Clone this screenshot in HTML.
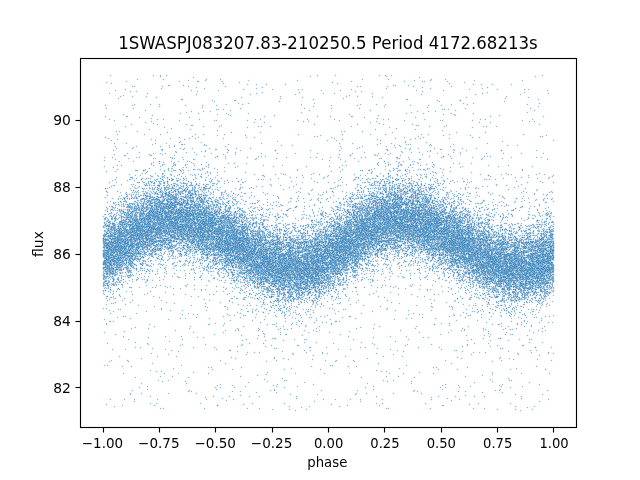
<!DOCTYPE html>
<html lang="en"><head><meta charset="utf-8"><title>1SWASPJ083207.83-210250.5 Period 4172.68213s</title>
<style>
html,body{margin:0;padding:0;background:#fff;width:640px;height:480px;overflow:hidden}
svg{display:block;position:absolute;left:0;top:0}
text{font-family:"DejaVu Sans","Liberation Sans",sans-serif;fill:#000}
.t{font-size:13.889px}
.h{font-size:16.667px}
</style></head><body>
<svg width="640" height="480" viewBox="0 0 640 480">
<rect width="640" height="480" fill="#fff"/>
<defs>
<path id="g0" d="M110 75.5h1m42 0h1m12 0h1m247 5h1m-218 1h1m24 0h1m224 0h1m-111 2h1m143 1h1m-125 2h1m-7 3h1m-237 1h1m224 0h1m75 0h1m-308 3h1m396 3h1m21 1h1m-92 3h1m-124 3h1m152 1h1m-3 4h1m-248 1h1m151 1h1m163 0h1m-8 2h1m-302 1h1m-101 3h1m288 1h1m-200 3h1m305 0h1m11 1h1m-390 1h1m7 1h1m203 1h1m-166 1h1m77 1h1m-122 3h1m292 1h1m-183 2h1m224 0h1m-116 2h1m-179 2h1m225 0h1m123 0h1m-435 2h1m225 0h1m114 0h1m-333 1h1m209 1h1m-127 2h1m-36 1h1m172 0h1m51 0h1m95 0h1m-82 1h1m3 0h1m42 0h1m-280 2h1m17 2h1m34 1h1m212 0h1m-201 1h1m-6 2h1m267 1h1m-380 2h1m225 0h1m-134 1h1m7 0h1m217 0h1m-340 1h1m233 0h1m57 0h1m44 0h1m-63 1h1m1 0h1m15 0h1m84 0h1m-99 3h1m-232 1h1m224 0h1m39 1h1m-255 1h1m9 0h1m202 0h1m-225 1h1m8 0h1m45 0h1m137 0h1m161 0h1m-124 1h1m-218 3h1m191 1h1m1 0h1m-216 1h1m192 0h1m31 0h1m-191 2h1m356 0h1m-369 1h1m22 0h1m90 0h1m25 0h1m7 0h1m34 0h1m153 0h1m-359 1h1m41 0h1m167 0h1m-161 1h1m188 0h1m36 0h1m-263 1h1m2 0h1m38 0h1m117 0h1m63 0h1m31 0h1m107 0h1m-379 1h1m9 0h1m25 0h1m9 0h1m39 0h1m174 0h1m-283 1h1m133 0h1m222 0h1m-106 1h1m48 0h1m21 0h1m-294 1h1m35 0h1m36 0h1m5 0h1m175 0h1m49 0h1m-356 1h1m28 0h1m12 0h1m7 0h1m4 0h1m18 0h1m58 0h1m134 0h1m-225 1h1m9 0h1m3 0h1m19 0h1m223 0h1m13 0h1m-305 1h1m11 0h1m62 0h1m172 0h1m4 0h1m28 0h1m117 0h1m-409 1h1m44 0h1m14 0h1m24 0h1m139 0h1m31 0h1m19 0h1m8 0h1m4 0h1m7 0h1m8 0h1m2 0h1m-314 1h1m62 0h1m182 0h1m39 0h1m33 0h1m3 0h1m-264 1h1m7 0h1m2 0h1m26 0h1m31 0h1m132 0h1m2 0h1m1 0h1m10 0h1m16 0h1m8 0h1m10 0h1m1 0h1m37 0h1m-310 1h1m13 0h1m13 0h1m188 0h1m7 0h1m49 0h1m-283 1h1m1 0h1m11 0h1m17 0h1m20 0h1m77 0h1m95 0h1m3 0h1m124 0h1m-378 1h1m1 0h1m24 0h1m15 0h1m183 0h1m38 0h1m2 0h1m-264 1h1m5 0h1m1 0h1m7 0h1m15 0h1m11 0h1m223 0h1m1 0h1m15 0h1m-298 1h1m24 0h1m2 0h1m4 0h1m30 0h1m19 0h1m148 0h1m12 0h1m7 0h1m10 0h1m19 0h1m16 0h1m3 0h1m5 0h1m28 0h1m20 0h1m-333 1h1m8 0h1m3 0h1m41 0h1m9 0h1m4 0h1m6 0h1m11 0h1m104 0h1m22 0h1m14 0h1m6 0h1m25 0h1m8 0h1m-302 1h1m19 0h1m8 0h1m3 0h1m7 0h2m5 0h1m14 0h1m1 0h1m179 0h1m4 0h1m6 0h2m5 0h1m33 0h1m-307 1h1m39 0h1m6 0h2m8 0h1m11 0h1m12 0h1m17 0h1m144 0h1m5 0h2m17 0h1m3 0h1m-277 1h1m11 0h1m14 0h1m9 0h2m22 0h1m6 0h1m11 0h1m28 0h1m135 0h1m7 0h1m15 0h1m12 0h1m11 0h1m3 0h1m36 0h1m11 0h1m56 0h1m-388 1h1m8 0h2m7 0h1m4 0h1m3 0h1m9 0h1m1 0h1m17 0h1m15 0h1m2 0h1m117 0h1m40 0h1m6 0h1m7 0h1m13 0h1m24 0h1m4 0h1m7 0h1m21 0h1m42 0h1m-386 1h1m17 0h1m16 0h1m2 0h1m17 0h1m2 0h1m3 0h1m7 0h1m6 0h1m13 0h1m86 0h1m51 0h1m5 0h1m12 0h1m5 0h1m7 0h1m7 0h1m4 0h1m5 0h2m2 0h1m11 0h1m5 0h1m34 0h1m85 0h1m-399 1h1m8 0h1m11 0h1m3 0h1m15 0h1m5 0h1m2 0h1m14 0h1m138 0h1m37 0h1m1 0h1m2 0h1m2 0h1m2 0h2m7 0h1m36 0h2m20 0h1m68 0h1m14 0h1m-427 1h1m28 0h1m2 0h1m1 0h1m24 0h1m5 0h1m182 0h2m5 0h1m3 0h1m7 0h1m24 0h1m10 0h1m3 0h1m-286 1h1m7 0h1m3 0h2m1 0h2m3 0h2m10 0h1m3 0h1m3 0h1m4 0h1m8 0h1m94 0h1m95 0h1m2 0h1m5 0h1m2 0h1m7 0h1m16 0h1m2 0h1m3 0h1m5 0h1m-328 1h1m23 0h1m10 0h1m1 0h2m14 0h1m7 0h2m3 0h1m5 0h1m100 0h1m15 0h1m56 0h1m11 0h1m1 0h1m2 0h1m3 0h1m20 0h2m7 0h1m7 0h1m5 0h1m1 0h1m2 0h1m20 0h1m-324 1h1m13 0h1m5 0h1m1 0h1m19 0h1m1 0h1m4 0h2m2 0h1m4 0h2m18 0h1m12 0h1m29 0h1m109 0h1m20 0h1m1 0h1m3 0h1m1 0h2m6 0h1m7 0h1m6 0h1m4 0h1m4 0h1m30 0h1m23 0h1m-324 1h2m3 0h1m4 0h1m2 0h2m8 0h1m4 0h1m3 0h1m12 0h1m3 0h1m18 0h1m134 0h1m4 0h1m10 0h1m16 0h1m2 0h1m7 0h1m14 0h2m6 0h1m12 0h1m4 0h1m-328 1h1m21 0h1m3 0h1m9 0h1m17 0h2m2 0h2m15 0h1m3 0h2m4 0h1m28 0h1m114 0h1m28 0h3m5 0h1m18 0h1m32 0h1m6 0h1m52 0h1m7 0h1m-393 1h1m24 0h1m7 0h1m3 0h1m4 0h1m14 0h1m4 0h1m2 0h2m4 0h1m13 0h1m11 0h1m2 0h1m10 0h1m75 0h1m7 0h1m30 0h1m1 0h1m17 0h1m1 0h1m25 0h1m4 0h1m4 0h1m5 0h2m19 0h2m3 0h1m9 0h1m6 0h1m-316 1h1m4 0h1m12 0h1m2 0h1m2 0h1m4 0h1m2 0h1m14 0h1m4 0h1m5 0h2m16 0h1m1 0h1m23 0h1m125 0h1m16 0h1m5 0h2m14 0h2m20 0h1m1 0h1m4 0h1m17 0h1m20 0h1m23 0h1m-373 1h1m15 0h1m1 0h1m6 0h1m8 0h1m7 0h1m4 0h1m2 0h1m7 0h1m14 0h1m2 0h1m12 0h1m3 0h1m3 0h1m1 0h1m26 0h1m48 0h1m50 0h1m2 0h1m15 0h1m5 0h1m6 0h1m5 0h1m3 0h2m3 0h1m2 0h1m2 0h2m3 0h1m9 0h1m59 0h1m10 0h1m65 0h1m-427 1h1m16 0h2m8 0h1m1 0h1m5 0h1m1 0h1m11 0h1m2 0h1m6 0h1m7 0h1m17 0h1m15 0h1m6 0h1m38 0h1m70 0h1m6 0h1m19 0h1m6 0h1m10 0h2m12 0h1m4 0h1m20 0h1m8 0h1m4 0h1m4 0h1m2 0h1m-318 1h1m15 0h1m1 0h1m16 0h1m2 0h1m2 0h1m9 0h1m1 0h1m2 0h1m1 0h2m2 0h1m1 0h1m2 0h1m3 0h1m2 0h1m2 0h1m2 0h1m11 0h1m18 0h1m92 0h1m21 0h1m8 0h1m3 0h2m13 0h1m1 0h1m3 0h2m1 0h1m3 0h2m2 0h1m2 0h1m1 0h2m1 0h1m3 0h3m12 0h1m4 0h1m12 0h1m1 0h1m4 0h1m3 0h1m-336 1h1m9 0h1m2 0h1m12 0h1m4 0h2m4 0h1m9 0h1m4 0h1m4 0h1m9 0h1m2 0h1m5 0h1m5 0h1m1 0h2m14 0h1m8 0h1m10 0h1m13 0h1m69 0h1m34 0h1m3 0h1m8 0h1m5 0h1m1 0h1m7 0h1m2 0h2m2 0h1m1 0h1m7 0h2m2 0h1m12 0h1m6 0h1m13 0h3m11 0h1m-340 1h1m13 0h1m16 0h1m1 0h1m1 0h1m3 0h1m2 0h2m4 0h1m3 0h3m3 0h1m4 0h2m1 0h1m35 0h1m4 0h1m100 0h1m24 0h1m22 0h1m6 0h1m9 0h1m3 0h2m1 0h2m1 0h2m4 0h1m1 0h2m2 0h1m1 0h1m14 0h1m6 0h1m8 0h1m1 0h1m9 0h1m2 0h2m-353 1h1m1 0h1m14 0h1m8 0h1m1 0h1m5 0h1m5 0h1m6 0h1m4 0h1m3 0h1m1 0h1m4 0h1m7 0h1m3 0h3m6 0h1m1 0h2m4 0h1m3 0h2m15 0h2m10 0h1m6 0h1m79 0h1m14 0h1m14 0h1m16 0h2m5 0h1m2 0h1m2 0h1m8 0h1m9 0h1m3 0h1m1 0h1m3 0h1m4 0h2m3 0h2m6 0h1m2 0h2m13 0h1m15 0h1m11 0h1m-371 1h1m21 0h1m1 0h1m3 0h1m7 0h1m13 0h1m3 0h1m1 0h1m3 0h2m25 0h1m1 0h1m5 0h1m1 0h1m3 0h1m3 0h1m2 0h1m3 0h1m9 0h1m2 0h1m27 0h1m25 0h1m20 0h1m34 0h1m17 0h1m9 0h1m8 0h2m1 0h1m3 0h1m2 0h2m3 0h1m6 0h1m6 0h1m5 0h3m2 0h1m2 0h1m3 0h1m1 0h2m3 0h1m7 0h1m12 0h1m10 0h1m6 0h1m75 0h1m1 0h2m-439 1h1m15 0h1m3 0h1m9 0h1m6 0h1m6 0h1m5 0h1m1 0h2m14 0h1m2 0h1m5 0h1m1 0h1m3 0h1m10 0h2m28 0h1m5 0h1m76 0h1m3 0h1m39 0h1m11 0h1m2 0h1m2 0h1m3 0h1m4 0h1m7 0h1m10 0h1m2 0h1m6 0h1m4 0h1m7 0h2m5 0h1m2 0h1m9 0h1m36 0h1m59 0h1m-419 1h1m16 0h2m7 0h1m1 0h3m1 0h1m3 0h1m10 0h1m1 0h1m7 0h1m3 0h1m1 0h1m11 0h1m7 0h1m4 0h1m22 0h1m3 0h1m78 0h1m4 0h1m27 0h1m12 0h1m13 0h1m3 0h2m3 0h2m6 0h1m3 0h2m1 0h1m10 0h1m3 0h1m2 0h1m13 0h1m8 0h1m15 0h2m83 0h1m3 0h1m-439 1h1m11 0h1m3 0h1m2 0h1m10 0h1m2 0h1m3 0h1m1 0h2m5 0h2m4 0h1m2 0h2m3 0h1m3 0h2m1 0h1m1 0h3m1 0h1m6 0h2m2 0h2m1 0h1m1 0h1m5 0h1m10 0h1m1 0h1m2 0h1m6 0h2m113 0h1m4 0h2m7 0h1m2 0h1m2 0h2m4 0h1m7 0h2m21 0h3m15 0h1m1 0h1m2 0h1m6 0h1m1 0h1m15 0h2m4 0h2m11 0h1m30 0h1m-369 1h2m8 0h1m4 0h1m3 0h1m2 0h1m5 0h1m1 0h1m1 0h1m4 0h1m6 0h1m2 0h1m1 0h3m10 0h1m3 0h1m8 0h2m3 0h1m14 0h1m71 0h1m5 0h1m28 0h1m21 0h1m7 0h3m4 0h1m18 0h1m3 0h1m1 0h1m2 0h1m18 0h1m1 0h1m16 0h1m9 0h2m3 0h1m17 0h1m4 0h1m6 0h1m61 0h1m-437 1h1m3 0h1m9 0h1m8 0h1m2 0h1m3 0h1m3 0h1m7 0h1m4 0h1m3 0h3m2 0h1m6 0h1m3 0h1m5 0h1m6 0h2m3 0h1m1 0h1m37 0h1m15 0h1m8 0h1m72 0h1m11 0h1m12 0h1m3 0h1m2 0h1m5 0h1m2 0h1m3 0h1m3 0h2m1 0h1m2 0h2m1 0h1m1 0h2m1 0h1m6 0h1m4 0h1m3 0h1m3 0h1m37 0h1m31 0h1m-363 1h1m4 0h1m3 0h1m8 0h1m7 0h1m2 0h2m1 0h1m1 0h1m3 0h2m5 0h1m5 0h1m6 0h1m1 0h1m3 0h1m3 0h1m2 0h1m4 0h3m8 0h2m2 0h1m15 0h1m113 0h1m9 0h1m3 0h1m14 0h1m4 0h1m4 0h1m8 0h1m11 0h4m5 0h1m2 0h1m2 0h1m5 0h1m11 0h1m1 0h2m2 0h1m9 0h1m2 0h1m42 0h1m35 0h1m-418 1h1m8 0h1m1 0h1m16 0h2m13 0h4m4 0h1m2 0h1m5 0h2m3 0h1m1 0h1m1 0h1m10 0h1m2 0h2m16 0h1m12 0h1m8 0h1m5 0h1m81 0h2m14 0h1m4 0h1m3 0h1m4 0h3m9 0h1m1 0h1m2 0h1m4 0h1m7 0h1m3 0h3m8 0h3m5 0h1m5 0h1m8 0h2m2 0h1m7 0h1m3 0h1m6 0h1m1 0h1m90 0h1m6 0h1m-441 1h1m6 0h1m2 0h1m10 0h1m2 0h1m9 0h1m9 0h2m7 0h1m7 0h1m15 0h1m4 0h2m4 0h1m2 0h1m4 0h1m2 0h3m1 0h2m4 0h1m1 0h1m32 0h1m3 0h1m14 0h1m53 0h1m4 0h1m13 0h1m10 0h1m4 0h1m5 0h2m2 0h1m3 0h1m1 0h1m4 0h1m9 0h1m1 0h1m3 0h2m7 0h1m8 0h3m6 0h1m1 0h2m5 0h1m2 0h1m8 0h1m7 0h2m2 0h1m23 0h1m14 0h1m48 0h1m-440 1h1m3 0h1m10 0h1m13 0h1m7 0h1m4 0h1m9 0h1m7 0h1m1 0h4m8 0h1m5 0h1m4 0h2m6 0h4m1 0h1m2 0h1m6 0h1m1 0h1m6 0h1m2 0h2m98 0h2m31 0h1m12 0h1m9 0h1m1 0h2m12 0h2m2 0h1m5 0h1m2 0h2m2 0h1m1 0h1m4 0h1m2 0h1m14 0h1m1 0h1m6 0h1m2 0h1m5 0h1m7 0h1m7 0h1m39 0h1m-414 1h1m3 0h1m5 0h1m4 0h3m4 0h1m4 0h2m1 0h1m9 0h2m1 0h1m14 0h2m4 0h3m3 0h1m22 0h1m1 0h1m2 0h2m2 0h1m3 0h1m3 0h1m14 0h2m2 0h1m28 0h1m49 0h1m17 0h1m18 0h1m2 0h3m8 0h1m1 0h1m3 0h1m1 0h1m1 0h1m5 0h1m7 0h1m1 0h1m1 0h1m3 0h1m3 0h1m2 0h1m1 0h1m1 0h2m7 0h1m3 0h1m3 0h1m1 0h1m1 0h1m4 0h1m1 0h1m4 0h1m8 0h1m9 0h1m8 0h1m12 0h1m6 0h1m47 0h1m16 0h1m-441 1h3m8 0h1m1 0h1m2 0h2m1 0h1m1 0h3m4 0h2m4 0h1m8 0h1m3 0h1m2 0h3m7 0h1m1 0h1m1 0h2m1 0h1m1 0h1m5 0h1m12 0h1m3 0h1m1 0h1m2 0h1m7 0h1m2 0h1m11 0h1m7 0h1m29 0h2m48 0h1m17 0h1m9 0h1m5 0h2m3 0h1m2 0h1m1 0h1m9 0h1m4 0h1m5 0h1m1 0h2m5 0h1m2 0h1m10 0h2m1 0h2m3 0h1m5 0h1m1 0h3m2 0h1m4 0h4m13 0h1m4 0h1m4 0h1m8 0h1m49 0h1m19 0h1m-436 1h1m1 0h1m2 0h1m7 0h1m9 0h1m6 0h1m2 0h1m2 0h2m2 0h1m2 0h1m2 0h1m1 0h1m18 0h1m1 0h1m1 0h1m1 0h1m10 0h1m9 0h1m3 0h1m12 0h1m1 0h1m2 0h1m5 0h1m9 0h1m1 0h1m7 0h1m18 0h1m47 0h1m18 0h1m25 0h1m1 0h1m1 0h1m3 0h1m4 0h2m1 0h1m9 0h1m6 0h1m4 0h2m4 0h1m5 0h1m3 0h1m1 0h1m9 0h1m3 0h1m2 0h1m4 0h1m5 0h1m2 0h2m1 0h2m12 0h1m3 0h1m15 0h1m17 0h1m15 0h1m14 0h1m18 0h1m-442 1h2m7 0h1m11 0h1m5 0h1m5 0h1m13 0h1m1 0h1m1 0h1m3 0h1m11 0h1m1 0h3m5 0h1m2 0h2m2 0h1m2 0h2m9 0h3m16 0h1m2 0h1m14 0h1m1 0h1m14 0h1m33 0h1m9 0h1m40 0h1m2 0h1m4 0h1m3 0h1m3 0h1m2 0h1m7 0h1m1 0h1m5 0h1m2 0h1m3 0h1m2 0h1m13 0h2m2 0h1m3 0h1m1 0h1m6 0h1m4 0h1m7 0h1m3 0h1m3 0h1m7 0h1m9 0h1m3 0h1m1 0h2m18 0h1m29 0h1m11 0h1m16 0h1m-439 1h1m4 0h1m1 0h1m16 0h1m2 0h1m4 0h1m3 0h1m5 0h2m2 0h2m1 0h1m3 0h2m1 0h1m2 0h1m6 0h1m1 0h1m2 0h1m1 0h1m8 0h1m3 0h1m1 0h1m2 0h1m3 0h1m5 0h1m4 0h1m1 0h1m4 0h1m5 0h1m1 0h1m3 0h1m6 0h2m3 0h1m10 0h1m20 0h1m21 0h1m9 0h1m23 0h2m1 0h1m4 0h1m2 0h1m11 0h1m1 0h1m1 0h1m3 0h1m7 0h1m1 0h1m1 0h2m3 0h1m4 0h2m3 0h2m4 0h2m2 0h1m5 0h1m4 0h2m5 0h1m1 0h2m2 0h1m9 0h1m3 0h2m11 0h1m13 0h2m6 0h1m36 0h1m12 0h1m22 0h1m-439 1h1m4 0h1m4 0h1m7 0h3m4 0h3m6 0h1m5 0h1m5 0h1m3 0h1m1 0h2m7 0h1m5 0h1m10 0h1m3 0h1m7 0h1m6 0h1m3 0h1m3 0h2m1 0h1m1 0h1m1 0h1m10 0h2m6 0h1m6 0h1m10 0h1m14 0h1m3 0h1m7 0h1m6 0h1m26 0h1m1 0h1m15 0h1m11 0h1m9 0h3m3 0h1m3 0h2m4 0h1m6 0h1m1 0h1m4 0h1m2 0h1m9 0h3m2 0h1m4 0h1m3 0h1m2 0h1m2 0h1m2 0h1m15 0h1m3 0h1m9 0h1m1 0h2m31 0h1m12 0h1m13 0h1m22 0h1m-434 1h1m1 0h1m3 0h1m4 0h1m15 0h1m3 0h1m9 0h1m8 0h1m1 0h1m13 0h1m3 0h1m5 0h1m1 0h3m4 0h1m3 0h1m10 0h1m4 0h1m5 0h1m1 0h2m10 0h1m4 0h2m43 0h1m22 0h1m10 0h1m14 0h2m9 0h1m6 0h1m1 0h1m3 0h1m2 0h1m3 0h3m2 0h1m4 0h1m1 0h1m4 0h1m4 0h1m2 0h1m1 0h1m6 0h1m4 0h2m8 0h1m1 0h1m18 0h1m1 0h1m2 0h2m4 0h1m8 0h1m8 0h1m4 0h1m1 0h1m6 0h1m8 0h1m38 0h1m-412 1h1m17 0h1m9 0h1m2 0h1m8 0h1m8 0h2m3 0h2m2 0h1m6 0h3m2 0h1m1 0h1m10 0h1m7 0h1m4 0h1m4 0h1m3 0h3m3 0h1m4 0h1m2 0h1m2 0h1m4 0h1m5 0h1m14 0h1m12 0h1m22 0h1m17 0h1m6 0h1m22 0h1m6 0h1m2 0h3m4 0h1m12 0h1m3 0h1m5 0h1m3 0h1m1 0h1m17 0h1m5 0h1m8 0h2m2 0h2m1 0h1m6 0h4m1 0h1m2 0h1m85 0h1m13 0h1m2 0h1m-445 1h1m6 0h1m3 0h1m8 0h1m3 0h2m2 0h1m1 0h1m2 0h1m9 0h1m5 0h1m2 0h1m4 0h2m3 0h1m2 0h1m5 0h1m11 0h1m2 0h3m6 0h3m2 0h2m5 0h1m8 0h1m9 0h1m2 0h1m5 0h2m1 0h2m13 0h1m10 0h1m33 0h1m30 0h1m1 0h1m6 0h2m2 0h2m4 0h2m1 0h1m1 0h1m5 0h1m5 0h2m7 0h1m1 0h1m1 0h2m4 0h1m8 0h2m1 0h1m6 0h1m3 0h1m10 0h1m1 0h2m5 0h1m4 0h1m10 0h1m6 0h1m14 0h1m17 0h1m8 0h1m-392 1h2m7 0h2m10 0h1m11 0h2m3 0h1m5 0h1m4 0h2m3 0h2m6 0h1m10 0h1m1 0h1m1 0h1m5 0h1m2 0h1m2 0h1m1 0h1m4 0h1m7 0h1m2 0h1m2 0h2m1 0h1m1 0h1m4 0h2m9 0h1m9 0h1m9 0h1m5 0h1m2 0h1m2 0h1m5 0h1m28 0h1m1 0h1m17 0h1m6 0h1m7 0h1m5 0h1m14 0h2m3 0h1m1 0h1m1 0h1m4 0h1m24 0h2m4 0h1m7 0h1m2 0h2m2 0h1m6 0h1m3 0h2m3 0h1m2 0h1m4 0h2m5 0h1m6 0h1m10 0h1m4 0h2m6 0h1m9 0h1m39 0h1m7 0h1m-436 1h1m9 0h1m5 0h1m3 0h1m1 0h1m2 0h1m12 0h1m12 0h1m2 0h1m7 0h1m1 0h1m10 0h1m2 0h1m1 0h1m4 0h2m2 0h2m2 0h1m2 0h1m14 0h1m9 0h1m5 0h1m2 0h1m4 0h1m1 0h1m80 0h1m1 0h1m4 0h1m4 0h1m4 0h1m4 0h1m1 0h1m13 0h1m1 0h3m4 0h1m3 0h1m4 0h2m1 0h2m8 0h1m8 0h1m2 0h1m2 0h2m2 0h2m3 0h1m3 0h1m6 0h3m3 0h1m9 0h1m1 0h1m1 0h1m4 0h2m4 0h1m1 0h1m2 0h1m3 0h1m1 0h1m18 0h1m8 0h1m42 0h1m4 0h1m4 0h1m1 0h1m-451 1h1m16 0h1m3 0h1m1 0h2m2 0h2m2 0h1m4 0h1m6 0h3m4 0h1m9 0h1m4 0h1m2 0h2m2 0h1m1 0h1m9 0h1m10 0h1m8 0h1m12 0h1m5 0h3m1 0h1m3 0h1m31 0h1m1 0h2m7 0h1m18 0h1m2 0h1m19 0h1m4 0h1m3 0h1m4 0h1m5 0h1m5 0h1m6 0h1m4 0h1m1 0h1m1 0h1m1 0h1m3 0h1m6 0h1m3 0h1m1 0h1m7 0h2m5 0h2m8 0h1m2 0h1m17 0h3m1 0h1m8 0h1m4 0h1m3 0h1m5 0h1m2 0h1m3 0h1m4 0h1m1 0h1m16 0h1m3 0h1m4 0h1m7 0h1m31 0h1m5 0h1m9 0h1m-446 1h1m3 0h3m2 0h1m6 0h1m1 0h1m7 0h1m1 0h1m9 0h1m3 0h1m2 0h1m12 0h1m13 0h1m8 0h1m6 0h1m13 0h1m2 0h2m1 0h1m3 0h1m4 0h1m2 0h1m1 0h1m1 0h1m2 0h1m20 0h1m7 0h1m2 0h1m15 0h1m12 0h1m11 0h1m30 0h2m3 0h1m7 0h1m5 0h1m6 0h1m2 0h1m3 0h3m5 0h1m7 0h1m10 0h1m1 0h1m1 0h1m1 0h2m2 0h1m10 0h1m1 0h1m7 0h1m2 0h1m2 0h3m8 0h1m5 0h1m4 0h1m15 0h1m7 0h1m3 0h1m4 0h1m7 0h1m1 0h1m2 0h1m25 0h1m1 0h1m21 0h1m-437 1h1m12 0h1m3 0h2m12 0h1m22 0h1m2 0h3m7 0h3m20 0h1m2 0h1m4 0h1m8 0h1m5 0h2m2 0h1m1 0h1m4 0h1m10 0h1m2 0h1m4 0h1m1 0h1m4 0h1m11 0h1m1 0h1m5 0h1m11 0h1m20 0h1m2 0h1m11 0h1m8 0h1m3 0h1m10 0h3m4 0h2m1 0h2m2 0h2m10 0h1m37 0h1m6 0h3m1 0h1m6 0h1m11 0h1m4 0h1m21 0h1m11 0h1m7 0h1m6 0h1m9 0h1m5 0h1m7 0h1m12 0h1m9 0h1m-439 1h3m2 0h1m16 0h2m4 0h1m5 0h4m2 0h2m3 0h1m3 0h1m7 0h1m16 0h1m18 0h1m3 0h1m6 0h2m9 0h1m6 0h1m1 0h1m1 0h1m1 0h1m2 0h1m2 0h1m1 0h1m5 0h1m26 0h1m31 0h2m14 0h1m7 0h1m6 0h1m13 0h1m1 0h3m1 0h1m1 0h2m1 0h1m1 0h1m7 0h1m6 0h1m8 0h1m1 0h1m36 0h1m9 0h1m10 0h1m1 0h1m5 0h2m2 0h1m3 0h1m6 0h1m22 0h1m1 0h1m14 0h1m7 0h1m-426 1h1m1 0h2m12 0h1m4 0h1m5 0h1m1 0h1m2 0h1m3 0h1m6 0h2m5 0h1m16 0h1m3 0h1m5 0h1m4 0h1m1 0h1m6 0h1m12 0h1m3 0h1m8 0h1m1 0h1m4 0h1m2 0h1m3 0h2m3 0h2m8 0h1m3 0h3m1 0h1m35 0h1m20 0h1m3 0h2m4 0h1m4 0h2m1 0h3m2 0h1m8 0h1m10 0h3m5 0h1m2 0h1m3 0h1m4 0h1m15 0h1m11 0h1m1 0h1m5 0h1m3 0h1m1 0h1m5 0h1m5 0h2m1 0h1m9 0h2m5 0h1m3 0h1m4 0h1m3 0h1m2 0h1m4 0h2m5 0h2m30 0h1m18 0h1m11 0h1m4 0h1m-442 1h1m4 0h1m3 0h1m3 0h2m4 0h1m1 0h2m1 0h1m49 0h1m1 0h1m4 0h1m4 0h1m7 0h1m9 0h1m5 0h1m8 0h1m3 0h2m10 0h1m1 0h1m2 0h1m10 0h1m6 0h1m14 0h1m17 0h1m11 0h1m2 0h1m3 0h1m13 0h1m11 0h2m3 0h1m8 0h1m3 0h2m4 0h1m15 0h1m2 0h1m3 0h1m9 0h1m17 0h1m7 0h4m3 0h1m2 0h1m1 0h1m6 0h1m5 0h1m4 0h1m5 0h3m4 0h1m1 0h1m11 0h1m3 0h2m1 0h1m26 0h1m18 0h1m2 0h1m8 0h1m5 0h1m-451 1h1m5 0h1m3 0h1m4 0h1m3 0h1m7 0h1m4 0h1m4 0h1m2 0h1m9 0h1m1 0h2m15 0h1m13 0h1m2 0h1m2 0h1m9 0h1m16 0h2m4 0h1m2 0h1m2 0h1m6 0h2m5 0h1m5 0h1m5 0h1m14 0h1m18 0h1m13 0h1m9 0h1m4 0h2m2 0h1m4 0h1m1 0h1m3 0h2m3 0h1m9 0h1m4 0h1m4 0h2m1 0h1m1 0h1m2 0h1m7 0h1m17 0h1m4 0h1m7 0h2m1 0h1m3 0h1m1 0h1m1 0h1m2 0h1m12 0h1m12 0h1m2 0h1m3 0h1m8 0h1m1 0h1m10 0h1m42 0h1m10 0h1m2 0h1m10 0h1m5 0h1m-447 1h2m2 0h1m2 0h1m3 0h1m1 0h1m5 0h2m2 0h1m3 0h1m8 0h1m1 0h1m4 0h1m1 0h1m1 0h1m3 0h1m5 0h1m4 0h1m2 0h1m11 0h1m6 0h1m1 0h1m1 0h1m25 0h1m3 0h1m1 0h1m2 0h1m2 0h1m1 0h2m1 0h2m10 0h1m1 0h1m15 0h1m12 0h1m12 0h1m4 0h1m3 0h1m1 0h1m11 0h1m4 0h1m8 0h1m1 0h1m4 0h1m7 0h1m5 0h1m3 0h1m18 0h1m8 0h1m9 0h1m17 0h1m7 0h2m8 0h1m14 0h3m5 0h2m1 0h1m6 0h1m3 0h1m7 0h2m3 0h1m2 0h1m2 0h1m2 0h1m3 0h1m4 0h1m7 0h1m3 0h1m11 0h1m1 0h1m3 0h1m5 0h3m5 0h1m4 0h2m2 0h2m-446 1h1m1 0h2m2 0h1m4 0h1m2 0h1m1 0h2m2 0h2m4 0h1m2 0h1m33 0h1m17 0h1m5 0h1m6 0h1m3 0h1m4 0h1m2 0h1m1 0h1m3 0h3m1 0h1m14 0h1m3 0h1m2 0h1m4 0h2m7 0h1m5 0h1m2 0h1m3 0h2m2 0h1m15 0h1m7 0h2m1 0h2m2 0h1m6 0h1m2 0h1m1 0h1m1 0h1m3 0h1m14 0h1m1 0h1m2 0h1m2 0h1m6 0h2m1 0h1m22 0h2m8 0h1m7 0h1m10 0h1m3 0h1m5 0h1m23 0h3m6 0h1m1 0h2m4 0h1m5 0h1m3 0h1m4 0h1m1 0h1m4 0h1m11 0h1m6 0h1m3 0h3m17 0h1m5 0h1m2 0h1m-429 1h1m2 0h2m2 0h3m6 0h1m11 0h1m2 0h1m4 0h1m4 0h1m2 0h1m1 0h1m5 0h1m3 0h1m1 0h1m5 0h1m22 0h1m1 0h1m1 0h1m6 0h1m15 0h1m4 0h1m2 0h4m1 0h1m7 0h1m3 0h1m1 0h1m4 0h1m13 0h1m6 0h2m4 0h1m37 0h1m2 0h1m4 0h1m8 0h1m2 0h1m6 0h1m3 0h1m2 0h1m2 0h1m2 0h1m1 0h1m2 0h5m2 0h1m14 0h2m1 0h2m1 0h2m2 0h1m1 0h1m49 0h2m2 0h1m3 0h3m4 0h1m3 0h2m3 0h1m2 0h1m5 0h1m4 0h1m1 0h1m3 0h2m15 0h1m20 0h1m3 0h1m14 0h1m-439 1h1m4 0h1m6 0h1m3 0h2m4 0h1m4 0h2m11 0h2m8 0h1m11 0h1m6 0h1m7 0h2m1 0h1m3 0h2m9 0h1m1 0h2m4 0h1m4 0h1m2 0h1m16 0h1m1 0h1m2 0h2m1 0h1m2 0h1m2 0h1m1 0h1m6 0h1m4 0h1m5 0h1m11 0h1m6 0h1m10 0h1m9 0h1m4 0h5m5 0h1m3 0h1m3 0h1m6 0h1m5 0h2m2 0h1m4 0h1m1 0h1m2 0h1m12 0h3m5 0h2m4 0h2m17 0h1m6 0h1m8 0h1m1 0h1m3 0h1m4 0h1m17 0h1m8 0h2m1 0h1m3 0h1m4 0h1m4 0h2m5 0h1m6 0h1m23 0h1m2 0h1m14 0h1m4 0h1m15 0h1m-447 1h1m1 0h1m3 0h1m2 0h3m2 0h1m2 0h1m6 0h1m2 0h1m6 0h1m4 0h2m2 0h1m4 0h1m4 0h2m8 0h1m1 0h1m42 0h1m2 0h1m4 0h1m4 0h1m12 0h1m3 0h1m1 0h1m10 0h1m10 0h2m26 0h1m1 0h1m3 0h1m2 0h1m2 0h2m1 0h1m1 0h1m5 0h1m14 0h1m8 0h1m1 0h1m7 0h1m3 0h1m1 0h1m2 0h1m3 0h1m4 0h1m8 0h1m8 0h1m6 0h2m24 0h2m12 0h1m17 0h1m3 0h1m1 0h2m1 0h1m2 0h2m3 0h2m2 0h1m12 0h1m23 0h1m9 0h1m2 0h1m3 0h1m17 0h1m2 0h1m-446 1h2m3 0h1m3 0h1m3 0h1m2 0h1m1 0h1m7 0h1m3 0h1m1 0h1m5 0h1m19 0h1m2 0h1m15 0h1m4 0h1m5 0h1m2 0h1m18 0h2m1 0h1m5 0h1m3 0h1m2 0h1m8 0h1m8 0h1m12 0h1m5 0h1m2 0h1m12 0h2m2 0h1m11 0h1m10 0h1m16 0h1m2 0h1m5 0h1m1 0h1m5 0h1m4 0h1m11 0h2m4 0h1m30 0h1m25 0h1m18 0h1m4 0h1m6 0h1m2 0h1m1 0h1m3 0h2m5 0h1m1 0h1m3 0h2m2 0h1m1 0h1m13 0h1m4 0h1m1 0h1m3 0h1m4 0h1m1 0h2m3 0h1m5 0h1m5 0h1m1 0h1m10 0h2m1 0h1m-433 1h1m2 0h2m3 0h1m1 0h1m6 0h2m22 0h2m5 0h1m1 0h1m8 0h1m3 0h1m16 0h1m6 0h1m2 0h1m2 0h1m1 0h3m14 0h1m2 0h1m2 0h1m1 0h1m1 0h1m5 0h2m5 0h4m19 0h1m12 0h3m22 0h1m17 0h1m1 0h1m2 0h2m2 0h1m2 0h1m1 0h1m3 0h1m4 0h1m8 0h1m8 0h1m1 0h1m7 0h1m9 0h2m2 0h1m5 0h1m2 0h1m2 0h1m16 0h1m6 0h2m1 0h1m2 0h1m4 0h1m1 0h1m1 0h1m1 0h1m1 0h2m2 0h1m3 0h3m6 0h1m2 0h1m3 0h1m1 0h2m4 0h1m9 0h1m8 0h1m1 0h2m8 0h1m8 0h1m3 0h1m12 0h3m1 0h1m5 0h1m-444 1h4m8 0h1m3 0h2m4 0h1m1 0h1m4 0h1m14 0h1m6 0h1m8 0h1m6 0h1m20 0h2m5 0h1m14 0h1m3 0h1m5 0h1m2 0h1m2 0h1m1 0h1m7 0h1m1 0h1m4 0h2m2 0h1m3 0h1m1 0h1m2 0h1m9 0h1m3 0h1m26 0h1m2 0h1m11 0h1m13 0h1m1 0h1m11 0h2m4 0h2m6 0h2m22 0h1m6 0h1m17 0h1m3 0h1m4 0h1m4 0h1m21 0h1m3 0h1m1 0h2m2 0h1m3 0h1m7 0h3m8 0h1m4 0h2m2 0h1m1 0h2m6 0h3m7 0h1m4 0h1m15 0h1m6 0h1m2 0h3m2 0h2m3 0h1m2 0h1m-451 1h1m13 0h1m3 0h1m4 0h1m4 0h1m3 0h1m1 0h1m22 0h1m10 0h1m1 0h1m4 0h1m11 0h1m22 0h2m3 0h1m4 0h2m3 0h1m1 0h1m2 0h1m5 0h1m1 0h1m8 0h2m7 0h1m1 0h1m12 0h2m14 0h1m1 0h1m6 0h1m4 0h1m3 0h3m6 0h1m1 0h1m4 0h1m2 0h1m2 0h4m2 0h1m4 0h1m1 0h4m7 0h1m1 0h1m6 0h1m14 0h1m3 0h1m20 0h1m35 0h1m10 0h1m2 0h1m3 0h2m1 0h1m6 0h1m3 0h1m4 0h1m1 0h2m10 0h1m11 0h1m11 0h1m3 0h1m12 0h1m7 0h3m4 0h2m3 0h1m-445 1h2m2 0h1m14 0h1m7 0h1m6 0h1m11 0h1m1 0h1m15 0h1m1 0h1m6 0h1m20 0h1m24 0h2m2 0h1m6 0h1m2 0h2m10 0h1m4 0h1m6 0h3m33 0h1m5 0h1m2 0h1m6 0h2m1 0h1m1 0h1m2 0h2m1 0h1m4 0h2m7 0h1m2 0h1m13 0h1m1 0h1m20 0h1m45 0h1m19 0h1m3 0h1m1 0h1m4 0h3m1 0h1m10 0h1m1 0h3m2 0h2m1 0h1m5 0h1m1 0h1m8 0h2m13 0h1m5 0h1m2 0h2m2 0h1m1 0h1m9 0h1m2 0h1m8 0h1m-446 1h1m2 0h5m6 0h1m1 0h1m1 0h1m3 0h3m20 0h1m11 0h1m8 0h1m34 0h1m1 0h1m3 0h1m2 0h2m5 0h1m7 0h1m4 0h3m5 0h1m3 0h1m8 0h2m1 0h1m25 0h1m2 0h1m6 0h2m3 0h1m7 0h1m2 0h1m18 0h2m5 0h1m5 0h2m3 0h1m1 0h3m2 0h1m14 0h1m37 0h2m9 0h1m4 0h1m3 0h1m4 0h1m11 0h1m1 0h1m8 0h1m5 0h1m4 0h1m1 0h1m6 0h1m4 0h1m3 0h1m4 0h1m2 0h1m6 0h1m19 0h1m3 0h2m7 0h3m5 0h1m2 0h1m3 0h1m-448 1h2m3 0h1m5 0h1m1 0h2m1 0h1m1 0h1m3 0h2m1 0h1m9 0h1m5 0h1m35 0h1m5 0h1m16 0h1m4 0h1m19 0h2m5 0h1m11 0h1m3 0h2m1 0h2m8 0h1m1 0h1m3 0h2m3 0h1m2 0h1m6 0h1m2 0h1m6 0h1m8 0h2m2 0h3m9 0h1m3 0h1m14 0h1m6 0h1m1 0h1m2 0h1m3 0h1m3 0h1m1 0h3m11 0h1m1 0h1m26 0h1m50 0h1m8 0h1m12 0h1m2 0h1m1 0h1m5 0h1m5 0h2m5 0h1m8 0h1m7 0h1m3 0h1m1 0h1m7 0h1m10 0h1m1 0h1m5 0h1m-442 1h1m1 0h1m3 0h1m3 0h1m3 0h1m18 0h1m7 0h1m3 0h1m7 0h1m37 0h1m13 0h1m8 0h1m2 0h1m3 0h1m1 0h1m9 0h1m6 0h1m4 0h1m15 0h1m3 0h1m3 0h1m6 0h2m3 0h1m1 0h1m13 0h1m1 0h1m3 0h1m6 0h1m8 0h1m3 0h1m2 0h1m5 0h1m2 0h1m4 0h1m8 0h1m8 0h1m63 0h1m4 0h1m15 0h1m2 0h1m3 0h1m2 0h1m1 0h2m15 0h1m2 0h1m5 0h1m1 0h1m3 0h1m5 0h4m5 0h2m3 0h1m13 0h1m3 0h1m2 0h2m1 0h1m1 0h2m3 0h1m-446 1h2m6 0h1m9 0h1m3 0h1m14 0h1m11 0h1m54 0h1m5 0h1m6 0h1m1 0h1m2 0h1m5 0h1m2 0h1m4 0h1m4 0h1m2 0h3m7 0h1m17 0h1m4 0h1m2 0h2m4 0h1m4 0h1m6 0h2m5 0h1m4 0h1m7 0h1m1 0h1m5 0h1m2 0h1m4 0h2m11 0h2m5 0h1m2 0h1m11 0h1m13 0h1m31 0h1m14 0h1m8 0h1m2 0h1m1 0h1m3 0h1m6 0h2m9 0h1m4 0h1m5 0h1m4 0h1m3 0h1m1 0h1m13 0h2m2 0h2m10 0h1m4 0h1m5 0h1m7 0h1m2 0h1m3 0h1m5 0h1m-449 1h2m1 0h1m7 0h1m6 0h1m3 0h1m1 0h1m1 0h1m3 0h1m22 0h1m11 0h1m30 0h1m18 0h1m11 0h1m1 0h1m3 0h1m7 0h1m9 0h3m2 0h1m2 0h1m7 0h2m8 0h2m9 0h1m13 0h2m7 0h1m7 0h2m5 0h1m1 0h1m5 0h1m1 0h1m2 0h1m5 0h1m3 0h1m2 0h1m77 0h1m21 0h1m3 0h2m1 0h1m4 0h1m7 0h2m2 0h1m5 0h1m2 0h1m2 0h1m4 0h1m7 0h1m7 0h1m4 0h1m9 0h2m3 0h1m2 0h1m1 0h1m2 0h1m1 0h4m1 0h1m1 0h1m1 0h1m-446 1h1m1 0h1m2 0h1m4 0h1m1 0h1m7 0h1m5 0h1m8 0h1m9 0h1m52 0h1m14 0h1m15 0h1m1 0h1m11 0h1m4 0h1m2 0h3m1 0h2m1 0h1m1 0h2m6 0h1m2 0h1m6 0h1m4 0h1m6 0h1m2 0h1m9 0h1m4 0h1m9 0h1m1 0h2m2 0h4m9 0h1m2 0h1m19 0h2m32 0h1m35 0h1m24 0h3m3 0h1m6 0h1m1 0h1m2 0h2m6 0h2m5 0h4m15 0h1m5 0h1m7 0h1m1 0h6m15 0h2m-441 1h1m3 0h2m2 0h1m1 0h1m10 0h1m5 0h1m48 0h1m7 0h1m5 0h1m3 0h1m32 0h2m1 0h2m2 0h1m9 0h1m1 0h1m3 0h1m3 0h1m1 0h1m14 0h1m4 0h1m1 0h1m12 0h1m2 0h1m3 0h3m6 0h1m4 0h1m1 0h1m4 0h1m1 0h1m1 0h1m1 0h1m4 0h1m2 0h1m3 0h1m1 0h1m5 0h1m6 0h1m31 0h1m30 0h1m11 0h1m2 0h1m15 0h1m4 0h3m2 0h1m4 0h2m1 0h1m2 0h1m4 0h1m11 0h1m1 0h1m1 0h1m1 0h1m6 0h1m5 0h1m1 0h1m2 0h1m6 0h1m3 0h1m2 0h1m1 0h2m7 0h1m2 0h1m-442 1h1m14 0h1m2 0h1m10 0h1m72 0h1m9 0h2m6 0h2m1 0h1m8 0h1m2 0h2m2 0h1m3 0h1m1 0h1m8 0h1m1 0h1m1 0h2m10 0h1m2 0h1m6 0h1m8 0h1m1 0h1m5 0h1m1 0h1m9 0h1m5 0h1m1 0h1m6 0h2m3 0h2m18 0h2m5 0h1m80 0h2m1 0h1m5 0h1m8 0h1m1 0h1m25 0h1m1 0h1m10 0h1m4 0h1m7 0h1m4 0h1m7 0h2m10 0h1m1 0h1m-441 1h1m1 0h1m2 0h1m8 0h1m7 0h1m6 0h1m8 0h1m7 0h1m4 0h1m48 0h1m12 0h1m6 0h1m4 0h2m1 0h2m9 0h1m2 0h1m6 0h1m15 0h2m8 0h2m3 0h1m5 0h1m15 0h2m4 0h2m6 0h1m1 0h1m1 0h1m5 0h1m4 0h1m1 0h1m2 0h1m2 0h2m2 0h1m2 0h1m3 0h2m2 0h1m30 0h1m47 0h1m14 0h1m1 0h1m3 0h2m3 0h1m11 0h1m2 0h2m7 0h1m2 0h1m4 0h1m4 0h1m1 0h1m2 0h1m3 0h2m4 0h1m1 0h1m25 0h3m1 0h2m-444 1h1m4 0h1m2 0h1m4 0h1m2 0h2m7 0h1m19 0h1m28 0h1m24 0h1m7 0h1m1 0h1m5 0h2m4 0h2m2 0h1m16 0h1m9 0h1m2 0h1m5 0h3m1 0h2m2 0h2m2 0h1m1 0h1m9 0h1m1 0h1m3 0h5m8 0h2m4 0h1m2 0h1m1 0h3m7 0h1m9 0h1m7 0h1m5 0h1m16 0h1m32 0h1m1 0h1m6 0h1m49 0h1m3 0h2m2 0h2m5 0h1m3 0h1m8 0h4m1 0h3m4 0h2m6 0h1m9 0h2m1 0h2m6 0h1m5 0h1m8 0h1m-444 1h1m5 0h1m10 0h1m4 0h1m5 0h1m44 0h1m17 0h1m28 0h1m3 0h1m4 0h1m8 0h2m13 0h1m4 0h1m5 0h1m9 0h1m13 0h1m6 0h1m4 0h1m6 0h1m1 0h2m3 0h1m4 0h1m1 0h1m4 0h2m1 0h3m6 0h1m2 0h1m79 0h1m10 0h1m18 0h1m6 0h1m2 0h1m3 0h1m17 0h1m1 0h1m3 0h1m1 0h1m3 0h2m4 0h2m2 0h2m1 0h1m1 0h1m1 0h1m1 0h1m3 0h1m1 0h1m16 0h1m1 0h1m1 0h1m-435 1h1m4 0h2m11 0h1m2 0h1m26 0h1m32 0h1m23 0h1m5 0h1m2 0h1m17 0h1m5 0h1m1 0h1m1 0h2m2 0h1m2 0h1m6 0h1m12 0h2m1 0h2m2 0h1m1 0h1m8 0h2m1 0h2m1 0h1m1 0h2m6 0h3m1 0h1m3 0h1m3 0h1m3 0h1m18 0h1m5 0h1m99 0h1m8 0h1m1 0h1m2 0h1m11 0h1m6 0h1m3 0h1m1 0h2m1 0h1m5 0h1m5 0h2m1 0h3m3 0h2m2 0h1m1 0h1m3 0h3m2 0h1m3 0h1m1 0h2m3 0h1m2 0h2m2 0h1m-447 1h1m3 0h1m7 0h1m7 0h1m2 0h1m24 0h1m9 0h1m49 0h1m28 0h2m10 0h1m3 0h2m7 0h1m2 0h1m8 0h1m1 0h1m2 0h1m1 0h1m4 0h1m6 0h1m6 0h1m1 0h2m3 0h1m11 0h1m4 0h1m5 0h2m8 0h1m4 0h1m4 0h1m16 0h1m10 0h1m2 0h1m24 0h1m33 0h1m1 0h1m13 0h1m2 0h1m3 0h1m1 0h1m6 0h1m1 0h2m1 0h1m3 0h1m5 0h1m1 0h1m7 0h2m5 0h1m3 0h4m1 0h2m5 0h1m7 0h2m7 0h2m5 0h1m-443 1h3m8 0h1m1 0h1m10 0h1m15 0h2m39 0h1m33 0h1m4 0h1m11 0h1m1 0h1m6 0h4m5 0h1m1 0h1m1 0h1m2 0h1m2 0h1m8 0h1m2 0h1m1 0h1m3 0h1m4 0h1m2 0h2m1 0h1m2 0h1m5 0h2m2 0h1m6 0h1m2 0h1m3 0h1m21 0h1m1 0h1m20 0h1m6 0h1m43 0h1m12 0h1m18 0h1m15 0h1m5 0h2m1 0h1m3 0h1m7 0h1m3 0h3m6 0h2m2 0h1m1 0h1m2 0h3m1 0h1m9 0h1m4 0h1m3 0h2m6 0h1m5 0h2m2 0h1m1 0h1m-449 1h1m1 0h2m13 0h1m10 0h1m70 0h1m19 0h1m7 0h1m2 0h1m3 0h2m4 0h1m14 0h1m3 0h1m2 0h1m5 0h1m1 0h2m1 0h1m5 0h1m14 0h1m6 0h1m9 0h1m2 0h1m23 0h1m99 0h1m19 0h1m12 0h1m5 0h1m4 0h1m3 0h1m1 0h1m3 0h1m1 0h2m2 0h1m4 0h1m1 0h1m4 0h1m7 0h1m2 0h1m4 0h1m-415 1h1m1 0h1m20 0h1m55 0h1m26 0h1m8 0h1m6 0h1m5 0h1m6 0h1m2 0h1m3 0h1m4 0h1m1 0h1m2 0h1m4 0h1m10 0h1m1 0h3m11 0h1m1 0h1m2 0h1m1 0h1m3 0h1m13 0h1m2 0h1m4 0h1m5 0h2m11 0h1m84 0h1m19 0h1m11 0h1m9 0h1m2 0h1m2 0h1m19 0h1m3 0h1m3 0h1m4 0h1m1 0h1m10 0h1m15 0h2m2 0h1m-444 1h1m17 0h1m8 0h1m86 0h2m13 0h1m11 0h1m3 0h1m6 0h1m4 0h1m6 0h1m10 0h1m1 0h3m6 0h2m2 0h1m7 0h1m3 0h1m3 0h1m2 0h1m5 0h1m1 0h1m1 0h1m33 0h1m66 0h2m16 0h1m1 0h1m27 0h1m21 0h1m5 0h1m1 0h1m1 0h1m1 0h2m9 0h2m5 0h1m1 0h1m9 0h1m1 0h1m7 0h1m-434 1h1m72 0h1m14 0h1m24 0h1m17 0h1m1 0h1m5 0h1m4 0h1m3 0h2m4 0h1m2 0h2m1 0h3m3 0h1m1 0h1m1 0h1m7 0h1m7 0h1m1 0h1m9 0h3m4 0h1m9 0h1m11 0h1m16 0h1m87 0h1m2 0h1m14 0h1m12 0h1m4 0h1m5 0h1m1 0h1m6 0h1m3 0h1m3 0h1m2 0h1m6 0h1m6 0h2m1 0h1m2 0h1m1 0h2m1 0h1m4 0h2m4 0h2m-442 1h1m1 0h2m1 0h2m4 0h1m7 0h1m1 0h1m18 0h1m27 0h1m17 0h1m8 0h1m15 0h1m25 0h1m21 0h1m3 0h1m1 0h2m8 0h1m1 0h1m1 0h1m3 0h1m3 0h1m1 0h1m5 0h1m3 0h1m2 0h1m2 0h1m4 0h1m4 0h1m3 0h1m5 0h2m5 0h1m3 0h1m2 0h1m9 0h1m43 0h1m47 0h1m5 0h1m5 0h1m7 0h1m5 0h2m4 0h1m1 0h1m4 0h1m8 0h2m1 0h1m2 0h1m4 0h1m1 0h1m1 0h1m2 0h1m10 0h1m3 0h1m8 0h1m7 0h1m2 0h2m-445 1h1m4 0h1m33 0h1m105 0h1m2 0h1m2 0h2m7 0h1m5 0h1m4 0h1m1 0h1m2 0h1m1 0h2m9 0h1m1 0h1m3 0h1m3 0h1m5 0h1m3 0h1m1 0h1m1 0h1m3 0h1m8 0h1m4 0h1m13 0h1m21 0h1m62 0h1m5 0h1m34 0h1m1 0h1m5 0h1m5 0h1m3 0h2m3 0h1m2 0h1m3 0h1m2 0h1m9 0h1m5 0h2m5 0h1m5 0h2m-321 1h1m34 0h1m2 0h1m3 0h1m4 0h1m3 0h2m4 0h1m1 0h1m9 0h1m2 0h1m6 0h2m3 0h1m1 0h1m4 0h1m2 0h1m9 0h1m9 0h1m11 0h1m9 0h1m95 0h1m3 0h1m11 0h2m2 0h1m7 0h2m11 0h1m7 0h2m8 0h2m5 0h1m6 0h1m5 0h1m9 0h1m4 0h1m-444 1h1m8 0h1m27 0h1m32 0h1m57 0h1m3 0h1m5 0h2m5 0h1m6 0h1m1 0h1m4 0h1m5 0h1m1 0h1m5 0h1m2 0h2m5 0h3m9 0h3m6 0h2m1 0h1m1 0h1m2 0h3m17 0h1m83 0h1m27 0h1m5 0h1m14 0h1m15 0h1m2 0h1m14 0h1m2 0h1m1 0h1m2 0h3m5 0h1m2 0h1m3 0h1m3 0h2m11 0h1m6 0h1m-448 1h1m22 0h1m101 0h1m26 0h1m7 0h1m4 0h2m8 0h2m5 0h1m2 0h1m1 0h1m3 0h1m5 0h1m4 0h1m2 0h1m13 0h1m4 0h1m1 0h1m3 0h1m3 0h1m120 0h1m14 0h1m2 0h1m5 0h1m2 0h1m7 0h1m2 0h1m3 0h1m11 0h1m4 0h1m2 0h1m2 0h1m2 0h1m3 0h1m2 0h1m8 0h2m1 0h1m2 0h1m4 0h1m-423 1h1m53 0h1m25 0h1m16 0h1m46 0h1m10 0h2m1 0h1m4 0h1m9 0h1m1 0h1m3 0h1m6 0h2m22 0h1m3 0h1m98 0h1m18 0h1m10 0h1m12 0h1m2 0h1m8 0h2m11 0h2m3 0h1m2 0h1m2 0h1m1 0h3m5 0h1m2 0h1m1 0h1m12 0h1m-447 1h1m2 0h1m21 0h1m13 0h1m3 0h1m78 0h1m62 0h1m4 0h1m1 0h1m3 0h4m3 0h1m3 0h1m10 0h1m13 0h1m12 0h1m19 0h1m2 0h1m24 0h1m70 0h1m3 0h1m2 0h1m1 0h1m18 0h1m10 0h1m3 0h1m19 0h1m2 0h2m4 0h1m8 0h1m-448 1h1m1 0h1m7 0h1m14 0h1m30 0h1m91 0h1m2 0h1m5 0h2m4 0h1m6 0h1m2 0h1m1 0h1m5 0h1m9 0h2m3 0h1m1 0h1m4 0h1m2 0h1m1 0h2m13 0h1m10 0h1m87 0h1m22 0h1m18 0h1m11 0h1m4 0h2m1 0h1m6 0h1m6 0h1m1 0h1m1 0h1m4 0h1m3 0h1m1 0h1m1 0h1m7 0h1m1 0h1m5 0h1m3 0h1m10 0h1m2 0h2m-448 1h1m126 0h1m27 0h1m5 0h1m6 0h1m1 0h1m7 0h2m4 0h2m6 0h1m8 0h1m2 0h1m5 0h1m142 0h1m24 0h2m1 0h1m5 0h1m5 0h1m5 0h1m1 0h1m3 0h1m1 0h1m2 0h1m22 0h3m-439 1h1m14 0h1m98 0h1m37 0h1m9 0h1m1 0h1m9 0h1m2 0h1m4 0h1m5 0h1m1 0h1m6 0h1m11 0h1m1 0h1m3 0h1m1 0h1m5 0h2m33 0h1m107 0h1m6 0h1m6 0h2m2 0h1m1 0h1m3 0h1m14 0h1m12 0h1m2 0h2m5 0h1m7 0h1m4 0h1m4 0h1m2 0h1m-406 1h1m97 0h1m4 0h1m3 0h1m14 0h1m14 0h2m2 0h3m1 0h1m12 0h1m5 0h1m2 0h1m1 0h2m3 0h1m111 0h1m17 0h1m7 0h1m17 0h1m24 0h2m9 0h1m6 0h1m16 0h1m-422 1h1m117 0h1m5 0h1m16 0h1m3 0h1m3 0h1m5 0h1m4 0h1m2 0h1m3 0h1m18 0h1m17 0h1m24 0h1m143 0h1m8 0h1m2 0h1m3 0h1m3 0h3m17 0h1m8 0h1m5 0h1m8 0h1m-450 1h1m119 0h1m19 0h1m31 0h1m2 0h1m8 0h1m14 0h2m1 0h2m1 0h1m1 0h1m2 0h1m5 0h1m1 0h1m155 0h1m30 0h1m4 0h1m10 0h1m3 0h1m2 0h1m8 0h1m6 0h1m-444 1h1m1 0h1m139 0h1m6 0h1m2 0h1m6 0h1m10 0h1m8 0h1m4 0h1m4 0h1m5 0h3m3 0h1m2 0h1m4 0h1m6 0h1m2 0h1m157 0h1m14 0h1m1 0h1m15 0h1m7 0h2m1 0h3m1 0h1m7 0h1m2 0h1m2 0h1m2 0h1m1 0h1m-432 1h1m3 0h1m122 0h1m25 0h1m14 0h1m3 0h1m13 0h1m13 0h2m7 0h1m142 0h1m11 0h1m1 0h1m23 0h1m4 0h4m12 0h1m3 0h1m-427 1h1m174 0h1m3 0h1m9 0h1m13 0h1m2 0h2m7 0h1m6 0h1m3 0h1m6 0h1m91 0h1m53 0h1m9 0h1m8 0h1m9 0h1m10 0h1m5 0h1m5 0h1m-431 1h1m160 0h1m3 0h2m1 0h1m9 0h1m1 0h1m14 0h1m3 0h1m17 0h1m2 0h1m156 0h1m13 0h1m6 0h1m2 0h2m10 0h1m19 0h1m1 0h1m2 0h1m-437 1h1m28 0h1m151 0h1m5 0h1m20 0h1m6 0h1m135 0h1m24 0h1m5 0h1m15 0h1m4 0h1m2 0h1m6 0h2m10 0h1m4 0h1m5 0h1m6 0h1m-446 1h1m142 0h1m12 0h1m2 0h2m10 0h1m13 0h1m9 0h2m177 0h1m8 0h1m3 0h1m6 0h1m16 0h1m6 0h1m1 0h1m1 0h1m1 0h1m-414 1h1m105 0h1m39 0h1m7 0h1m15 0h1m6 0h1m17 0h1m179 0h1m15 0h1m4 0h1m2 0h1m1 0h2m7 0h1m5 0h1m8 0h1m2 0h1m-443 1h1m95 0h1m56 0h1m10 0h1m25 0h1m9 0h1m9 0h1m167 0h1m8 0h1m4 0h1m7 0h1m9 0h1m-400 1h1m146 0h1m3 0h1m1 0h1m1 0h1m17 0h1m17 0h1m7 0h1m6 0h1m33 0h1m85 0h1m28 0h1m48 0h1m7 0h1m3 0h1m7 0h1m6 0h1m-277 1h1m5 0h1m1 0h1m18 0h1m3 0h1m9 0h1m173 0h1m11 0h1m3 0h1m5 0h2m13 0h1m22 0h1m-444 1h1m152 0h1m35 0h1m189 0h1m25 0h1m8 0h1m7 0h1m2 0h1m16 0h1m3 0h1m-266 1h1m30 0h1m180 0h1m1 0h2m9 0h1m5 0h1m6 0h1m7 0h1m16 0h1m-302 1h1m44 0h1m4 0h1m14 0h1m201 0h1m3 0h1m14 0h1m15 0h1m-429 1h1m158 0h1m23 0h1m120 0h1m73 0h1m5 0h1m12 0h1m-236 1h2m13 0h1m86 0h1m85 0h1m24 0h1m22 0h1m5 0h1m-225 1h1m5 0h1m162 0h1m49 0h1m23 0h1m-286 1h1m43 0h1m203 0h1m-232 1h1m1 0h1m55 0h1m53 0h1m-118 1h1m225 0h1m1 0h1m40 0h1m-425 1h1m155 0h1m35 0h1m-195 1h1m149 0h1m27 0h1m107 0h1m98 0h1m12 0h1m-250 1h1m22 0h1m26 0h1m-22 1h1m124 0h1m84 0h1m-297 1h1m18 0h1m36 0h1m8 0h1m249 0h1m-89 1h1m63 0h1m11 0h1m3 1h1m-258 2h1m24 0h1m-168 1h1m133 0h1m59 0h1m225 0h1m-26 1h1m-399 1h1m157 0h1m144 0h1m-217 1h1m224 0h1m-180 1h1m45 0h1m10 0h1m-176 1h1m139 0h1m-11 1h1m36 0h1m2 1h1m115 0h1m-182 2h1m225 0h1m67 1h1m-419 2h1m342 0h1m51 0h1m-353 1h1m284 0h1m-56 2h1m-122 2h1m156 0h1m94 1h1m-253 1h1m205 0h1m47 4h1m-107 2h1m1 3h1m99 1h1m-340 1h1m225 0h1m-261 1h1m180 0h1m-170 1h1m224 0h1m-191 1h1m191 0h1m32 0h1m115 1h1m-331 2h1m166 0h1m4 0h1m169 0h1m-306 3h1m223 0h1m81 0h1m-29 1h1m-24 1h1m-159 1h1m55 3h1m73 1h1m41 1h1m-164 2h1m164 0h1m-321 5h1m-9 3h1m38 1h1m-57 2h1m51 2h1m224 0h1m-262 3h1m338 4h1m-327 1h1m0 2h1m352 1h1m-323 1h1m252 1h1m-256 1h1m68 0h1m157 2h1m22 2h1m-73 2h1m-165 3h1m254 0h1m-54 1h1m116 2h1m-235 2h1m-14 6h1m225 0h1m-269 1h1m260 2h1"/>
<path id="g1" d="M310 76.5h1m224 0h1m-399 3h1m224 0h1m101 3h1m-209 2h1m-123 2h1m108 3h1m284 0h1m-42 3h1m-232 1h1m115 3h1m-217 1h1m156 2h1m-88 5h1m300 0h1m-423 1h1m96 0h1m335 1h1m-406 2h1m396 0h1m-321 3h1m-31 2h1m262 1h1m-214 1h1m33 1h1m118 3h1m101 0h1m-372 1h1m76 5h1m226 0h1m-172 2h1m141 0h1m-159 5h1m-8 2h1m73 0h1m247 1h1m-368 2h1m-1 5h1m246 0h1m-313 1h1m11 0h1m267 2h1m36 0h1m-46 1h1m-28 1h1m-244 1h1m240 0h1m104 0h1m-76 1h1m113 1h1m34 0h1m-361 2h1m-17 1h1m156 0h1m72 0h1m152 0h1m-205 1h1m35 1h1m1 0h1m-206 2h1m9 0h1m127 0h1m5 0h1m-143 1h1m154 2h1m-171 1h1m254 0h1m-224 1h1m1 1h1m-32 1h1m238 0h1m-285 1h1m55 0h1m11 0h1m8 0h1m147 0h1m35 0h1m19 0h1m33 1h1m65 0h1m-291 1h1m203 0h1m-20 1h1m35 0h1m-25 1h1m-271 1h1m37 0h2m5 0h1m187 0h1m-188 1h1m42 0h1m-79 1h1m63 0h1m260 0h1m-330 1h1m67 0h1m-32 1h1m82 1h1m154 0h1m15 0h1m9 0h1m-292 1h1m253 0h1m18 0h1m126 0h1m-352 1h1m153 0h2m84 0h1m-164 1h1m32 0h1m11 0h1m72 0h1m151 0h1m-408 1h1m20 0h1m30 0h1m64 0h1m2 0h1m105 0h1m2 0h1m9 0h1m1 0h1m12 0h1m1 0h1m-243 1h1m16 0h1m5 0h1m48 0h1m183 0h1m-262 1h1m7 0h1m8 0h1m9 0h1m41 0h1m158 0h1m-235 1h1m65 0h1m91 0h1m59 0h1m27 0h1m26 0h1m-235 1h1m202 0h1m26 0h1m-265 1h1m36 0h1m19 0h1m178 0h1m8 0h1m-250 1h1m12 0h1m19 0h1m11 0h1m4 0h1m17 0h1m168 0h1m1 0h1m30 0h1m2 0h1m11 0h1m-292 1h1m254 0h1m4 0h1m-243 1h1m14 0h1m78 0h1m174 0h1m9 0h1m39 0h1m-372 1h1m44 0h1m17 0h3m22 0h1m11 0h1m1 0h1m1 0h1m123 0h1m38 0h1m12 0h1m20 0h1m-223 1h1m2 0h1m12 0h1m2 0h1m186 0h1m18 0h1m15 0h1m11 0h1m4 0h1m94 0h1m-363 1h1m7 0h2m1 0h1m2 0h1m2 0h1m1 0h1m2 0h1m27 0h1m160 0h1m2 0h1m2 0h1m16 0h2m8 0h1m3 0h1m-282 1h1m7 0h1m22 0h1m4 0h1m7 0h1m15 0h1m28 0h1m100 0h1m35 0h1m16 0h1m2 0h1m5 0h1m3 0h1m8 0h1m14 0h1m10 0h1m-296 1h1m8 0h1m32 0h1m25 0h1m126 0h1m65 0h1m47 0h1m1 0h1m76 0h1m-384 1h1m11 0h1m19 0h1m2 0h1m3 0h1m84 0h1m113 0h1m6 0h1m1 0h2m8 0h1m6 0h1m10 0h1m-275 1h1m21 0h1m18 0h1m1 0h1m17 0h1m15 0h1m6 0h1m36 0h1m52 0h1m33 0h1m1 0h1m7 0h1m27 0h1m28 0h1m28 0h1m5 0h1m92 0h1m-441 1h1m23 0h1m11 0h1m2 0h1m19 0h1m5 0h2m16 0h1m7 0h1m28 0h1m9 0h1m82 0h1m39 0h1m30 0h1m3 0h1m1 0h1m6 0h1m6 0h1m65 0h1m68 0h1m-401 1h1m18 0h1m2 0h1m21 0h1m1 0h1m2 0h1m5 0h1m171 0h2m14 0h1m4 0h2m13 0h1m14 0h1m54 0h1m-346 1h1m1 0h1m23 0h1m2 0h1m6 0h1m14 0h1m3 0h2m9 0h1m2 0h1m12 0h1m180 0h1m2 0h1m17 0h2m-296 1h1m2 0h1m9 0h1m5 0h1m2 0h1m3 0h1m6 0h1m12 0h1m2 0h1m3 0h1m10 0h1m8 0h1m1 0h1m4 0h2m2 0h1m14 0h1m66 0h1m30 0h1m5 0h1m10 0h1m14 0h1m3 0h1m3 0h1m7 0h1m5 0h1m13 0h1m7 0h1m2 0h3m3 0h1m7 0h1m10 0h1m8 0h1m13 0h1m-308 1h1m13 0h1m15 0h1m7 0h1m19 0h1m20 0h1m12 0h1m33 0h1m43 0h1m70 0h2m12 0h1m10 0h1m1 0h1m16 0h2m2 0h1m-283 1h1m13 0h1m3 0h1m3 0h1m3 0h1m25 0h1m28 0h1m29 0h1m91 0h1m11 0h1m45 0h2m2 0h1m10 0h1m8 0h1m109 0h1m-400 1h1m1 0h1m7 0h1m3 0h1m31 0h1m7 0h1m7 0h1m4 0h1m5 0h1m10 0h1m29 0h1m102 0h1m17 0h1m1 0h1m5 0h1m9 0h1m10 0h1m4 0h1m3 0h1m5 0h1m5 0h1m13 0h1m10 0h1m60 0h1m-390 1h1m23 0h1m27 0h1m8 0h1m6 0h1m3 0h1m3 0h2m165 0h1m10 0h1m3 0h2m8 0h4m2 0h1m2 0h1m4 0h1m16 0h3m4 0h1m10 0h1m101 0h1m-417 1h1m4 0h1m5 0h1m16 0h1m4 0h1m7 0h1m37 0h1m9 0h1m35 0h1m84 0h2m13 0h1m23 0h1m2 0h1m4 0h1m3 0h1m1 0h1m10 0h2m6 0h2m10 0h1m10 0h1m3 0h1m10 0h1m25 0h1m4 0h2m-350 1h1m1 0h1m6 0h1m22 0h1m10 0h1m5 0h1m4 0h1m4 0h1m2 0h1m4 0h1m17 0h1m2 0h1m158 0h1m5 0h1m5 0h1m1 0h1m1 0h1m10 0h1m5 0h2m11 0h1m13 0h1m5 0h1m1 0h1m-320 1h1m18 0h1m2 0h1m5 0h1m1 0h1m7 0h1m2 0h1m4 0h1m7 0h1m10 0h1m1 0h1m3 0h1m2 0h1m73 0h1m86 0h1m4 0h1m29 0h2m5 0h1m3 0h1m10 0h2m1 0h2m-296 1h1m8 0h1m13 0h1m12 0h1m2 0h1m15 0h1m14 0h2m15 0h1m8 0h1m25 0h1m107 0h1m1 0h1m7 0h1m1 0h2m4 0h1m3 0h1m1 0h3m2 0h1m5 0h1m1 0h1m9 0h1m11 0h1m19 0h1m7 0h1m75 0h1m11 0h1m-409 1h1m17 0h1m19 0h1m3 0h4m10 0h1m10 0h1m12 0h1m2 0h1m45 0h1m82 0h1m1 0h1m19 0h1m2 0h1m17 0h2m5 0h1m1 0h1m4 0h1m1 0h2m1 0h1m21 0h1m9 0h1m18 0h1m-318 1h1m6 0h1m2 0h2m6 0h1m8 0h1m1 0h1m3 0h1m6 0h1m4 0h1m3 0h1m4 0h1m5 0h1m24 0h1m10 0h1m8 0h1m32 0h1m59 0h1m32 0h2m2 0h2m5 0h1m10 0h1m15 0h1m1 0h2m6 0h1m2 0h1m11 0h1m4 0h1m39 0h1m5 0h1m-355 1h1m5 0h1m18 0h1m1 0h1m1 0h1m1 0h1m1 0h1m24 0h1m1 0h1m4 0h1m6 0h1m3 0h1m4 0h1m4 0h1m12 0h1m4 0h1m38 0h1m68 0h1m14 0h2m7 0h1m1 0h1m3 0h1m6 0h1m1 0h2m1 0h3m22 0h1m3 0h2m11 0h1m8 0h1m14 0h1m19 0h1m-347 1h1m1 0h1m5 0h1m7 0h1m5 0h1m18 0h1m9 0h1m5 0h1m1 0h1m5 0h1m1 0h1m1 0h1m2 0h1m5 0h1m2 0h1m51 0h1m114 0h1m3 0h1m4 0h1m10 0h1m2 0h1m4 0h1m8 0h2m1 0h2m2 0h1m1 0h1m1 0h1m2 0h1m1 0h1m2 0h1m2 0h1m2 0h1m1 0h1m36 0h1m38 0h1m11 0h1m-380 1h1m2 0h1m5 0h1m1 0h1m1 0h1m1 0h1m1 0h1m7 0h1m3 0h1m1 0h1m3 0h1m2 0h3m7 0h1m6 0h1m8 0h1m6 0h1m4 0h1m11 0h2m5 0h1m1 0h1m4 0h1m75 0h1m29 0h1m4 0h1m11 0h1m2 0h1m9 0h1m2 0h2m4 0h1m2 0h1m1 0h1m5 0h1m2 0h1m1 0h1m15 0h1m6 0h2m1 0h1m9 0h1m12 0h1m1 0h1m73 0h1m-402 1h1m3 0h1m1 0h1m3 0h1m14 0h1m2 0h1m4 0h1m1 0h1m2 0h1m1 0h3m2 0h1m7 0h4m6 0h1m8 0h1m1 0h2m7 0h1m3 0h1m1 0h1m34 0h1m108 0h1m23 0h1m1 0h1m4 0h3m1 0h3m6 0h2m2 0h2m8 0h2m2 0h1m4 0h1m3 0h1m5 0h1m5 0h1m45 0h1m57 0h1m-406 1h1m6 0h1m1 0h2m3 0h1m4 0h1m2 0h1m2 0h1m3 0h1m15 0h1m2 0h2m1 0h3m3 0h1m2 0h1m2 0h3m2 0h1m3 0h1m1 0h1m6 0h1m89 0h1m35 0h1m17 0h2m5 0h2m9 0h2m3 0h1m5 0h1m6 0h1m11 0h1m3 0h1m7 0h1m6 0h1m4 0h1m24 0h1m43 0h1m37 0h1m-429 1h1m2 0h1m6 0h1m10 0h1m9 0h1m5 0h1m9 0h1m2 0h1m2 0h1m1 0h1m1 0h1m3 0h1m2 0h1m3 0h1m2 0h1m5 0h1m2 0h2m2 0h1m7 0h1m1 0h1m29 0h1m35 0h1m72 0h1m17 0h1m2 0h2m10 0h3m3 0h1m9 0h1m5 0h1m4 0h1m3 0h1m2 0h1m1 0h1m4 0h1m1 0h1m2 0h1m6 0h1m29 0h1m30 0h1m-383 1h1m2 0h1m8 0h1m3 0h1m6 0h3m4 0h1m2 0h1m4 0h1m1 0h1m8 0h1m12 0h1m3 0h1m4 0h2m1 0h3m13 0h2m3 0h1m1 0h1m2 0h1m6 0h1m4 0h1m1 0h1m10 0h1m7 0h1m105 0h1m4 0h1m5 0h2m6 0h1m1 0h1m2 0h1m13 0h1m1 0h2m6 0h1m9 0h2m2 0h1m1 0h1m5 0h1m4 0h2m5 0h1m10 0h1m1 0h1m16 0h1m78 0h1m-438 1h1m12 0h1m12 0h1m17 0h1m1 0h1m6 0h1m1 0h2m1 0h4m3 0h1m4 0h1m2 0h2m2 0h1m7 0h1m3 0h1m23 0h2m1 0h1m8 0h1m28 0h1m77 0h1m15 0h1m13 0h2m1 0h2m1 0h1m5 0h1m2 0h1m3 0h3m3 0h1m1 0h1m3 0h1m2 0h1m3 0h2m2 0h1m1 0h1m3 0h1m22 0h1m2 0h2m23 0h1m-366 1h2m5 0h1m8 0h1m8 0h2m4 0h1m7 0h1m3 0h1m6 0h1m1 0h1m4 0h1m1 0h2m6 0h1m2 0h1m3 0h1m9 0h1m4 0h1m1 0h1m5 0h2m5 0h1m1 0h1m9 0h1m15 0h1m8 0h1m32 0h1m69 0h1m37 0h1m2 0h2m6 0h1m1 0h1m2 0h1m4 0h1m5 0h1m5 0h1m5 0h2m4 0h1m1 0h1m1 0h1m2 0h1m6 0h1m2 0h1m1 0h1m17 0h1m33 0h1m46 0h1m-440 1h1m21 0h1m8 0h1m1 0h1m1 0h1m2 0h1m2 0h1m5 0h1m3 0h1m7 0h1m1 0h3m2 0h2m9 0h1m6 0h1m8 0h1m7 0h1m4 0h2m5 0h2m4 0h2m12 0h1m3 0h1m2 0h1m84 0h1m25 0h1m11 0h1m2 0h1m1 0h1m4 0h1m2 0h2m1 0h1m9 0h1m8 0h2m2 0h1m1 0h1m3 0h1m7 0h1m3 0h1m1 0h1m2 0h1m3 0h2m2 0h1m2 0h1m8 0h1m2 0h1m16 0h1m2 0h1m52 0h1m-425 1h1m27 0h2m6 0h1m1 0h2m3 0h1m1 0h2m2 0h4m6 0h1m3 0h2m3 0h1m11 0h1m2 0h1m2 0h1m2 0h1m1 0h2m7 0h1m2 0h2m1 0h2m9 0h1m2 0h1m10 0h1m26 0h1m49 0h1m7 0h1m28 0h1m1 0h1m15 0h1m4 0h1m2 0h1m4 0h1m1 0h1m2 0h1m9 0h3m3 0h1m6 0h1m2 0h1m2 0h2m2 0h1m7 0h2m2 0h1m1 0h1m3 0h1m5 0h1m3 0h1m1 0h2m2 0h1m31 0h2m-376 1h1m7 0h1m10 0h1m8 0h1m3 0h1m11 0h1m3 0h1m2 0h1m1 0h1m15 0h1m2 0h1m5 0h1m13 0h1m1 0h1m5 0h1m2 0h1m2 0h3m3 0h1m8 0h2m10 0h1m16 0h1m83 0h2m16 0h1m1 0h3m1 0h1m2 0h1m1 0h1m6 0h1m6 0h1m1 0h1m1 0h2m3 0h1m1 0h1m6 0h2m16 0h1m5 0h1m3 0h1m2 0h1m9 0h1m7 0h1m1 0h2m3 0h1m6 0h1m5 0h1m10 0h1m47 0h1m1 0h1m-430 1h1m19 0h1m13 0h1m3 0h3m3 0h1m4 0h1m5 0h2m2 0h4m2 0h1m4 0h1m4 0h1m2 0h1m5 0h1m5 0h1m3 0h2m2 0h3m7 0h1m2 0h1m8 0h1m3 0h1m6 0h2m77 0h1m19 0h1m6 0h1m7 0h2m4 0h1m1 0h1m2 0h1m8 0h1m12 0h1m6 0h1m1 0h1m2 0h1m4 0h1m1 0h1m2 0h2m1 0h2m8 0h1m1 0h1m4 0h2m5 0h2m7 0h2m2 0h1m8 0h1m7 0h1m-360 1h1m7 0h1m2 0h1m10 0h1m1 0h1m6 0h1m1 0h1m15 0h1m1 0h1m3 0h1m7 0h1m3 0h3m3 0h1m6 0h1m15 0h1m3 0h1m1 0h1m4 0h1m2 0h1m2 0h1m1 0h1m1 0h1m2 0h2m3 0h2m3 0h1m14 0h1m2 0h1m5 0h1m54 0h1m9 0h1m22 0h1m8 0h2m3 0h1m10 0h1m13 0h1m9 0h1m2 0h1m8 0h1m1 0h1m3 0h2m11 0h1m6 0h1m3 0h1m1 0h1m4 0h1m3 0h1m6 0h3m11 0h1m6 0h1m57 0h1m-419 1h1m1 0h1m1 0h1m1 0h1m9 0h1m1 0h1m5 0h1m10 0h1m7 0h1m4 0h2m4 0h2m30 0h1m3 0h1m5 0h1m3 0h2m14 0h2m21 0h1m76 0h1m1 0h2m4 0h1m3 0h1m2 0h2m4 0h1m7 0h1m7 0h2m5 0h1m3 0h2m6 0h1m1 0h1m1 0h1m13 0h1m5 0h1m4 0h1m5 0h1m1 0h1m1 0h2m1 0h3m3 0h2m20 0h1m8 0h1m45 0h1m-397 1h1m6 0h1m10 0h3m2 0h1m2 0h1m8 0h1m1 0h2m5 0h1m20 0h1m27 0h1m11 0h1m15 0h1m73 0h1m10 0h1m6 0h1m26 0h1m1 0h1m1 0h1m4 0h1m8 0h1m16 0h1m4 0h1m3 0h2m2 0h1m2 0h1m3 0h1m4 0h1m8 0h1m5 0h1m4 0h1m2 0h3m3 0h1m17 0h1m2 0h1m2 0h1m12 0h1m4 0h1m-367 1h1m4 0h1m4 0h1m2 0h2m6 0h1m1 0h3m1 0h1m9 0h1m5 0h1m4 0h1m2 0h1m7 0h1m2 0h1m11 0h2m2 0h3m3 0h1m1 0h2m8 0h3m4 0h1m2 0h1m2 0h1m26 0h1m42 0h1m20 0h1m5 0h1m14 0h2m15 0h1m2 0h1m4 0h1m26 0h1m1 0h1m3 0h1m4 0h1m2 0h1m2 0h2m3 0h1m3 0h1m3 0h2m3 0h2m13 0h1m3 0h1m4 0h1m19 0h1m17 0h1m1 0h1m32 0h1m-426 1h1m1 0h1m11 0h1m12 0h1m6 0h2m1 0h1m1 0h1m5 0h2m5 0h1m20 0h1m3 0h1m1 0h2m3 0h1m4 0h1m8 0h1m21 0h1m11 0h2m3 0h1m22 0h1m41 0h1m19 0h2m3 0h1m9 0h1m12 0h1m5 0h2m1 0h1m2 0h1m26 0h1m1 0h1m1 0h1m1 0h1m1 0h1m1 0h1m1 0h2m1 0h2m4 0h1m5 0h1m6 0h1m14 0h1m2 0h1m5 0h1m3 0h1m3 0h1m1 0h1m1 0h1m2 0h1m2 0h1m1 0h1m52 0h1m7 0h1m3 0h1m11 0h1m-427 1h1m14 0h1m1 0h2m16 0h3m5 0h2m1 0h1m1 0h1m1 0h1m3 0h1m3 0h2m12 0h1m6 0h1m1 0h1m6 0h1m2 0h1m3 0h2m10 0h1m13 0h1m39 0h1m7 0h2m33 0h1m18 0h1m7 0h1m1 0h1m1 0h1m2 0h1m6 0h2m3 0h2m11 0h1m9 0h3m2 0h1m1 0h2m1 0h5m1 0h3m1 0h1m21 0h1m4 0h1m4 0h1m9 0h1m24 0h1m15 0h2m8 0h1m22 0h1m16 0h1m-443 1h1m9 0h1m4 0h1m8 0h1m1 0h2m2 0h1m1 0h1m7 0h1m2 0h1m1 0h3m9 0h1m2 0h1m4 0h1m7 0h1m2 0h1m11 0h2m1 0h1m1 0h1m9 0h1m5 0h1m3 0h4m1 0h1m5 0h1m18 0h1m13 0h1m6 0h1m32 0h1m39 0h2m1 0h1m7 0h2m4 0h1m5 0h1m5 0h1m1 0h1m1 0h1m4 0h3m3 0h1m5 0h1m7 0h1m5 0h1m6 0h1m2 0h1m1 0h1m7 0h1m1 0h1m6 0h1m2 0h1m7 0h1m4 0h1m5 0h1m6 0h1m4 0h1m-363 1h2m3 0h1m3 0h1m7 0h1m4 0h1m4 0h1m3 0h1m1 0h1m3 0h2m1 0h1m1 0h2m6 0h1m14 0h1m2 0h3m1 0h1m5 0h2m2 0h1m4 0h1m2 0h2m3 0h1m1 0h1m1 0h1m6 0h2m1 0h1m1 0h1m6 0h1m37 0h1m36 0h1m15 0h1m3 0h1m17 0h1m9 0h1m2 0h1m3 0h1m3 0h1m4 0h2m2 0h1m6 0h1m17 0h1m6 0h1m2 0h1m3 0h1m1 0h1m1 0h1m3 0h1m3 0h1m3 0h1m4 0h1m12 0h3m2 0h1m10 0h4m6 0h1m3 0h1m25 0h1m18 0h1m-398 1h1m2 0h2m9 0h1m2 0h1m4 0h1m3 0h1m2 0h2m5 0h1m6 0h1m6 0h2m2 0h1m1 0h2m11 0h1m1 0h1m20 0h1m1 0h1m1 0h1m1 0h1m2 0h1m3 0h2m4 0h1m18 0h1m4 0h1m16 0h1m9 0h1m1 0h1m11 0h1m6 0h1m19 0h1m1 0h1m6 0h1m1 0h1m3 0h1m1 0h1m1 0h1m4 0h1m12 0h1m1 0h1m1 0h1m2 0h1m1 0h1m2 0h1m6 0h1m3 0h1m3 0h1m1 0h1m9 0h1m1 0h1m6 0h1m4 0h1m3 0h2m8 0h1m5 0h1m1 0h1m3 0h1m7 0h1m3 0h1m3 0h1m4 0h1m8 0h1m32 0h1m4 0h1m20 0h1m6 0h1m1 0h1m-424 1h1m15 0h3m3 0h1m4 0h2m1 0h1m4 0h1m11 0h1m2 0h1m8 0h1m5 0h2m5 0h4m5 0h1m9 0h1m2 0h2m2 0h1m7 0h1m8 0h1m12 0h1m5 0h1m2 0h1m9 0h1m21 0h1m21 0h1m9 0h1m2 0h1m20 0h1m7 0h2m1 0h1m5 0h1m5 0h2m2 0h1m2 0h1m8 0h1m1 0h2m1 0h1m3 0h1m5 0h1m16 0h2m6 0h1m1 0h2m11 0h1m1 0h1m1 0h1m4 0h1m4 0h1m2 0h1m12 0h1m1 0h4m11 0h2m37 0h1m-404 1h1m4 0h2m5 0h1m1 0h1m1 0h1m5 0h1m5 0h2m20 0h1m8 0h1m1 0h1m7 0h1m5 0h1m1 0h1m7 0h1m3 0h1m5 0h1m7 0h1m6 0h2m3 0h2m4 0h1m5 0h1m12 0h1m72 0h1m9 0h2m7 0h1m3 0h1m5 0h1m1 0h1m2 0h1m14 0h1m5 0h1m2 0h2m4 0h1m3 0h1m2 0h1m1 0h1m8 0h4m2 0h2m3 0h1m7 0h2m10 0h1m6 0h3m7 0h2m2 0h1m4 0h1m76 0h1m1 0h1m-431 1h3m14 0h1m1 0h1m3 0h3m11 0h1m7 0h2m8 0h1m4 0h1m4 0h1m1 0h2m2 0h1m28 0h4m3 0h1m3 0h1m9 0h1m1 0h1m2 0h1m1 0h1m2 0h1m6 0h2m3 0h1m14 0h1m5 0h1m6 0h1m6 0h1m4 0h2m3 0h1m36 0h2m3 0h1m10 0h1m5 0h1m2 0h2m10 0h1m6 0h1m15 0h1m3 0h2m19 0h1m6 0h1m2 0h1m4 0h1m1 0h1m19 0h2m9 0h1m7 0h1m2 0h1m1 0h1m17 0h1m21 0h1m14 0h1m4 0h1m-437 1h1m5 0h1m5 0h2m1 0h1m1 0h1m1 0h1m3 0h1m1 0h1m3 0h1m6 0h1m4 0h2m2 0h1m11 0h1m8 0h1m4 0h1m8 0h1m1 0h2m4 0h1m2 0h1m5 0h1m3 0h2m1 0h1m6 0h2m2 0h1m1 0h4m1 0h1m1 0h1m6 0h1m10 0h1m12 0h1m15 0h1m29 0h1m2 0h1m7 0h1m13 0h1m11 0h1m2 0h1m1 0h2m4 0h1m31 0h1m6 0h1m7 0h1m2 0h1m10 0h1m5 0h1m3 0h1m2 0h1m2 0h3m9 0h1m11 0h1m1 0h1m22 0h1m4 0h2m-373 1h1m9 0h1m6 0h2m1 0h1m2 0h1m1 0h1m4 0h2m7 0h1m2 0h1m4 0h1m7 0h1m4 0h1m3 0h1m1 0h1m3 0h2m5 0h2m29 0h1m1 0h1m3 0h1m5 0h1m13 0h1m26 0h1m7 0h1m8 0h1m7 0h2m22 0h3m1 0h1m6 0h1m4 0h1m6 0h3m1 0h1m10 0h3m5 0h1m20 0h1m12 0h1m4 0h2m2 0h2m2 0h1m4 0h1m16 0h2m1 0h1m5 0h1m18 0h1m1 0h1m7 0h1m9 0h1m27 0h1m7 0h1m2 0h1m13 0h1m-443 1h1m2 0h1m9 0h1m3 0h1m5 0h1m5 0h2m5 0h1m2 0h1m4 0h1m4 0h1m2 0h1m13 0h1m1 0h1m6 0h1m8 0h2m4 0h1m2 0h1m1 0h2m5 0h1m1 0h1m1 0h2m2 0h1m1 0h1m2 0h1m3 0h1m6 0h1m2 0h1m5 0h1m9 0h1m8 0h1m9 0h1m1 0h1m2 0h1m27 0h1m11 0h1m9 0h1m6 0h1m2 0h1m9 0h1m12 0h1m5 0h1m6 0h3m1 0h1m2 0h1m5 0h1m1 0h1m3 0h1m15 0h2m3 0h1m5 0h1m1 0h1m4 0h1m1 0h1m1 0h2m2 0h1m3 0h4m3 0h1m5 0h1m8 0h1m2 0h1m26 0h1m6 0h1m2 0h1m5 0h1m35 0h1m-417 1h1m2 0h1m4 0h1m5 0h2m9 0h1m4 0h1m23 0h1m8 0h1m2 0h1m4 0h1m3 0h1m1 0h1m4 0h1m3 0h1m1 0h1m3 0h1m10 0h1m5 0h1m8 0h1m2 0h1m13 0h1m1 0h1m35 0h1m6 0h1m3 0h1m10 0h1m20 0h1m8 0h1m3 0h1m1 0h2m12 0h2m6 0h1m4 0h1m3 0h1m10 0h1m28 0h1m5 0h1m4 0h1m5 0h2m2 0h1m2 0h1m6 0h1m3 0h1m1 0h1m3 0h2m21 0h1m7 0h1m8 0h2m13 0h1m15 0h1m10 0h1m-441 1h1m1 0h1m7 0h3m1 0h1m5 0h1m5 0h1m6 0h1m1 0h1m4 0h1m3 0h1m22 0h1m16 0h1m8 0h1m11 0h1m4 0h1m1 0h1m1 0h1m1 0h1m3 0h2m1 0h2m1 0h5m2 0h3m3 0h1m1 0h1m3 0h1m73 0h1m10 0h3m1 0h1m3 0h1m11 0h1m2 0h1m3 0h1m2 0h1m1 0h1m1 0h1m17 0h1m7 0h1m2 0h1m8 0h2m1 0h1m3 0h1m12 0h1m10 0h1m1 0h1m5 0h1m1 0h1m1 0h2m1 0h1m2 0h1m1 0h3m3 0h1m1 0h1m14 0h1m52 0h1m-435 1h1m1 0h1m3 0h1m5 0h1m1 0h2m2 0h3m1 0h1m2 0h1m5 0h2m9 0h1m3 0h3m12 0h1m11 0h2m5 0h1m2 0h1m5 0h1m10 0h4m10 0h1m6 0h1m2 0h2m5 0h1m1 0h2m4 0h1m2 0h1m5 0h1m2 0h2m1 0h1m12 0h1m4 0h1m5 0h1m1 0h1m6 0h1m6 0h1m5 0h1m9 0h2m14 0h2m3 0h1m1 0h1m2 0h1m10 0h2m2 0h1m2 0h1m14 0h1m3 0h1m12 0h1m15 0h1m12 0h1m1 0h1m3 0h1m2 0h3m3 0h1m9 0h2m1 0h1m2 0h1m1 0h1m4 0h2m1 0h1m2 0h3m2 0h1m5 0h1m1 0h2m1 0h1m1 0h1m20 0h1m7 0h1m2 0h1m2 0h1m4 0h1m2 0h1m5 0h1m3 0h1m15 0h1m-447 1h2m4 0h1m4 0h1m4 0h1m3 0h1m17 0h1m2 0h1m6 0h1m2 0h2m2 0h1m1 0h1m30 0h1m4 0h1m1 0h1m2 0h1m1 0h1m18 0h3m6 0h1m1 0h1m1 0h3m9 0h1m2 0h1m4 0h1m1 0h3m29 0h1m1 0h1m37 0h1m10 0h1m5 0h1m2 0h1m2 0h1m1 0h1m3 0h1m12 0h1m5 0h1m2 0h1m1 0h2m2 0h2m3 0h1m2 0h1m19 0h1m1 0h1m2 0h1m2 0h2m2 0h1m12 0h1m12 0h1m9 0h1m3 0h2m3 0h1m3 0h1m2 0h1m3 0h2m1 0h1m3 0h1m1 0h1m6 0h1m10 0h1m8 0h1m7 0h1m-426 1h3m3 0h3m2 0h2m1 0h1m4 0h2m10 0h1m2 0h1m1 0h2m2 0h1m7 0h1m6 0h3m2 0h1m5 0h1m4 0h1m1 0h1m15 0h2m16 0h1m2 0h1m15 0h1m7 0h1m1 0h1m13 0h2m3 0h3m16 0h1m14 0h2m1 0h1m8 0h1m1 0h1m3 0h1m13 0h1m1 0h1m1 0h1m6 0h1m1 0h1m3 0h1m1 0h1m4 0h2m5 0h1m1 0h1m8 0h1m4 0h1m8 0h1m6 0h1m31 0h1m2 0h2m12 0h1m5 0h1m1 0h1m7 0h1m3 0h1m11 0h3m2 0h1m3 0h1m7 0h1m5 0h1m5 0h1m34 0h1m4 0h1m8 0h1m-434 1h1m1 0h1m3 0h2m3 0h1m3 0h1m8 0h3m9 0h1m11 0h1m18 0h1m10 0h1m1 0h1m2 0h1m4 0h1m10 0h1m6 0h1m3 0h1m2 0h1m1 0h3m7 0h2m14 0h1m3 0h1m2 0h1m5 0h1m1 0h1m1 0h1m3 0h1m2 0h1m2 0h1m4 0h1m13 0h1m3 0h1m3 0h1m11 0h1m2 0h1m9 0h1m3 0h3m1 0h1m1 0h1m1 0h1m18 0h1m2 0h1m7 0h1m12 0h1m2 0h1m5 0h1m7 0h1m1 0h1m8 0h1m11 0h1m9 0h1m5 0h3m2 0h2m2 0h4m23 0h1m2 0h1m1 0h1m6 0h1m3 0h1m5 0h1m2 0h1m9 0h2m2 0h1m1 0h1m3 0h3m3 0h1m2 0h1m8 0h2m2 0h1m2 0h1m-448 1h1m1 0h1m1 0h1m5 0h2m3 0h1m1 0h1m6 0h1m5 0h2m7 0h1m7 0h1m1 0h1m12 0h1m2 0h1m12 0h1m4 0h1m11 0h1m12 0h1m16 0h1m1 0h1m16 0h1m7 0h1m10 0h1m8 0h1m3 0h1m2 0h1m7 0h1m2 0h1m1 0h1m6 0h1m5 0h1m7 0h1m4 0h1m5 0h1m4 0h2m2 0h1m4 0h2m2 0h1m6 0h1m5 0h2m1 0h1m1 0h1m4 0h2m5 0h1m1 0h1m11 0h1m21 0h1m11 0h1m13 0h1m3 0h1m1 0h3m4 0h1m3 0h1m2 0h1m1 0h2m2 0h1m3 0h2m2 0h1m1 0h1m4 0h1m6 0h1m4 0h1m4 0h1m8 0h1m3 0h1m17 0h1m14 0h3m6 0h1m1 0h2m-447 1h1m4 0h1m3 0h1m6 0h1m6 0h1m7 0h1m1 0h1m22 0h1m3 0h1m8 0h1m2 0h1m7 0h1m10 0h1m3 0h1m2 0h1m5 0h1m1 0h1m1 0h1m2 0h2m6 0h1m6 0h3m1 0h2m4 0h2m7 0h1m10 0h2m8 0h1m3 0h1m1 0h1m1 0h1m4 0h1m16 0h1m14 0h2m5 0h1m4 0h1m5 0h1m7 0h1m8 0h2m5 0h1m8 0h2m6 0h1m9 0h1m3 0h1m20 0h2m6 0h1m7 0h1m15 0h1m4 0h1m1 0h2m1 0h1m1 0h1m5 0h4m1 0h1m4 0h1m3 0h1m5 0h1m28 0h1m5 0h1m18 0h1m1 0h1m4 0h1m1 0h1m2 0h1m1 0h1m1 0h1m-449 1h2m1 0h1m1 0h1m2 0h4m1 0h1m2 0h2m8 0h1m6 0h1m10 0h1m12 0h1m13 0h1m19 0h1m3 0h1m5 0h1m1 0h1m1 0h1m5 0h2m8 0h1m1 0h1m3 0h1m5 0h1m1 0h1m2 0h1m7 0h1m2 0h1m1 0h1m1 0h1m2 0h2m4 0h1m14 0h1m6 0h1m17 0h1m11 0h1m11 0h1m8 0h1m2 0h1m1 0h1m7 0h1m3 0h1m1 0h1m2 0h1m5 0h1m39 0h1m9 0h1m3 0h1m8 0h1m9 0h1m2 0h1m4 0h1m8 0h1m4 0h1m3 0h1m12 0h1m4 0h1m30 0h1m2 0h1m12 0h2m7 0h1m-432 1h1m2 0h1m2 0h2m1 0h1m1 0h3m4 0h1m2 0h2m2 0h1m3 0h1m2 0h2m12 0h1m6 0h1m7 0h2m2 0h1m29 0h1m6 0h1m6 0h2m19 0h1m2 0h1m3 0h1m7 0h1m10 0h1m3 0h1m9 0h1m3 0h1m3 0h1m5 0h1m3 0h2m11 0h1m1 0h1m4 0h1m1 0h1m4 0h2m5 0h1m2 0h1m6 0h2m1 0h1m1 0h1m3 0h1m3 0h1m2 0h1m6 0h1m2 0h1m4 0h1m10 0h1m11 0h2m19 0h1m9 0h1m3 0h1m8 0h1m18 0h1m5 0h1m5 0h1m1 0h1m6 0h2m3 0h1m22 0h1m20 0h1m9 0h1m3 0h1m7 0h1m2 0h1m-438 1h3m2 0h1m4 0h1m9 0h2m35 0h1m15 0h1m9 0h1m12 0h1m1 0h1m10 0h3m4 0h1m4 0h1m1 0h2m4 0h2m2 0h2m3 0h1m2 0h1m7 0h1m5 0h1m1 0h1m5 0h1m3 0h1m19 0h1m5 0h1m3 0h1m8 0h2m1 0h1m2 0h1m3 0h1m4 0h1m2 0h2m2 0h1m1 0h1m14 0h1m5 0h2m12 0h2m4 0h1m3 0h1m13 0h1m6 0h1m22 0h1m2 0h1m2 0h2m1 0h1m9 0h1m2 0h1m4 0h1m7 0h1m3 0h2m4 0h1m9 0h1m17 0h1m9 0h1m6 0h1m9 0h1m1 0h2m9 0h1m1 0h1m-444 1h1m4 0h1m8 0h1m3 0h1m4 0h1m7 0h1m45 0h1m15 0h1m14 0h1m2 0h1m3 0h1m3 0h3m3 0h1m4 0h1m3 0h1m1 0h1m2 0h1m17 0h1m8 0h1m2 0h1m1 0h1m2 0h1m7 0h1m2 0h1m21 0h1m17 0h1m6 0h1m7 0h1m4 0h2m7 0h1m1 0h1m3 0h1m11 0h1m5 0h1m9 0h1m13 0h1m3 0h1m6 0h1m7 0h1m9 0h1m1 0h1m6 0h1m3 0h1m1 0h1m12 0h1m2 0h1m1 0h1m8 0h1m21 0h2m10 0h1m1 0h1m3 0h1m2 0h1m5 0h1m5 0h1m3 0h1m-436 1h1m5 0h1m2 0h1m1 0h2m4 0h1m5 0h1m2 0h1m2 0h1m14 0h1m5 0h1m12 0h1m21 0h1m1 0h1m3 0h1m5 0h2m6 0h1m13 0h1m3 0h1m4 0h1m1 0h1m8 0h1m4 0h2m3 0h1m6 0h1m5 0h1m9 0h1m2 0h1m23 0h2m10 0h1m8 0h2m1 0h2m5 0h2m3 0h1m1 0h3m12 0h1m10 0h1m2 0h1m6 0h1m14 0h1m8 0h2m16 0h1m1 0h1m5 0h2m1 0h2m6 0h1m10 0h1m4 0h1m4 0h1m13 0h1m1 0h1m3 0h1m1 0h1m4 0h1m4 0h1m1 0h1m2 0h1m1 0h1m4 0h2m4 0h1m20 0h2m18 0h1m1 0h1m-449 1h4m2 0h2m3 0h2m1 0h1m1 0h1m4 0h1m3 0h1m7 0h1m14 0h1m5 0h1m48 0h1m2 0h1m2 0h1m14 0h1m9 0h1m4 0h1m2 0h1m1 0h1m6 0h1m8 0h2m3 0h1m1 0h1m16 0h2m22 0h1m2 0h1m3 0h2m10 0h1m3 0h2m4 0h2m1 0h2m8 0h1m10 0h1m10 0h1m3 0h1m1 0h1m1 0h1m12 0h2m13 0h1m3 0h1m1 0h1m18 0h1m12 0h1m13 0h1m2 0h2m4 0h1m2 0h3m3 0h1m1 0h1m17 0h1m13 0h1m11 0h1m4 0h1m2 0h2m10 0h1m1 0h1m2 0h1m-450 1h1m3 0h1m4 0h1m2 0h1m10 0h1m3 0h1m12 0h1m42 0h1m7 0h1m6 0h1m1 0h1m8 0h1m7 0h1m4 0h1m3 0h1m6 0h3m4 0h1m5 0h1m1 0h1m6 0h2m12 0h1m6 0h1m9 0h1m14 0h1m7 0h1m4 0h1m19 0h2m11 0h2m22 0h1m19 0h1m10 0h1m7 0h2m5 0h1m16 0h1m13 0h1m10 0h1m6 0h1m3 0h1m2 0h1m6 0h2m9 0h1m3 0h2m30 0h1m5 0h1m3 0h1m2 0h1m2 0h1m2 0h1m-444 1h1m6 0h1m4 0h2m6 0h1m10 0h1m34 0h1m10 0h1m5 0h1m3 0h1m5 0h1m19 0h2m6 0h1m1 0h1m1 0h2m2 0h1m4 0h1m1 0h1m1 0h1m1 0h1m1 0h1m1 0h1m1 0h1m7 0h1m3 0h1m5 0h1m4 0h1m1 0h1m8 0h1m6 0h1m2 0h1m17 0h1m4 0h2m3 0h2m6 0h1m3 0h1m1 0h1m5 0h1m3 0h3m1 0h1m1 0h1m64 0h1m21 0h1m4 0h1m13 0h1m9 0h1m4 0h1m3 0h1m3 0h1m2 0h1m24 0h1m2 0h1m3 0h1m1 0h1m1 0h1m2 0h1m-424 1h1m13 0h1m7 0h1m4 0h1m5 0h1m2 0h1m54 0h1m31 0h1m1 0h2m7 0h1m4 0h2m2 0h1m1 0h1m1 0h1m5 0h1m9 0h1m2 0h1m5 0h1m6 0h1m15 0h2m7 0h1m3 0h1m4 0h2m2 0h1m5 0h2m1 0h1m9 0h1m2 0h1m6 0h1m4 0h1m2 0h1m2 0h1m26 0h1m17 0h1m23 0h1m10 0h1m5 0h1m7 0h2m1 0h1m5 0h1m2 0h2m4 0h1m1 0h1m2 0h1m4 0h1m1 0h1m3 0h1m2 0h2m3 0h1m2 0h1m7 0h2m5 0h1m15 0h1m3 0h1m1 0h1m11 0h1m-445 1h1m1 0h3m3 0h1m2 0h1m7 0h1m1 0h1m6 0h1m13 0h1m3 0h2m51 0h1m5 0h1m1 0h1m6 0h1m18 0h2m3 0h2m1 0h1m6 0h1m2 0h1m3 0h1m1 0h1m1 0h1m1 0h1m3 0h1m8 0h2m7 0h1m1 0h2m24 0h1m1 0h1m9 0h1m1 0h2m4 0h3m2 0h1m7 0h3m13 0h1m1 0h1m14 0h1m25 0h1m19 0h1m3 0h1m5 0h1m5 0h1m7 0h1m6 0h1m6 0h1m4 0h2m1 0h3m1 0h1m1 0h2m5 0h1m10 0h1m1 0h2m1 0h1m1 0h1m2 0h1m5 0h1m21 0h1m16 0h1m-445 1h1m3 0h2m4 0h1m3 0h1m2 0h2m1 0h1m1 0h1m4 0h1m15 0h1m9 0h1m10 0h1m21 0h1m10 0h1m9 0h1m1 0h1m3 0h1m5 0h1m3 0h2m1 0h1m4 0h1m6 0h1m1 0h2m4 0h2m3 0h2m1 0h1m1 0h1m2 0h1m1 0h1m10 0h2m2 0h1m3 0h1m5 0h1m6 0h1m1 0h1m14 0h1m1 0h1m6 0h1m2 0h1m6 0h3m16 0h1m1 0h1m73 0h1m2 0h1m3 0h1m13 0h1m3 0h2m1 0h1m13 0h1m24 0h1m4 0h1m5 0h1m6 0h1m8 0h1m2 0h1m8 0h2m5 0h2m3 0h1m1 0h2m-448 1h1m1 0h1m19 0h1m3 0h1m7 0h1m4 0h1m6 0h1m9 0h1m62 0h1m6 0h1m4 0h1m2 0h1m2 0h2m4 0h1m2 0h1m11 0h1m2 0h1m1 0h2m2 0h1m1 0h1m2 0h1m3 0h1m1 0h1m2 0h3m1 0h1m13 0h2m4 0h2m1 0h1m5 0h1m8 0h2m2 0h1m5 0h1m3 0h1m1 0h1m7 0h1m1 0h1m1 0h1m6 0h1m5 0h1m23 0h1m55 0h1m5 0h3m12 0h1m1 0h2m2 0h2m5 0h1m9 0h1m9 0h1m8 0h1m14 0h3m3 0h1m1 0h1m2 0h1m1 0h2m5 0h1m-444 1h1m6 0h1m7 0h1m1 0h1m1 0h1m3 0h1m97 0h1m3 0h1m3 0h1m1 0h1m2 0h1m6 0h1m4 0h1m7 0h2m4 0h1m8 0h2m17 0h1m2 0h1m10 0h1m3 0h1m1 0h1m4 0h1m9 0h1m1 0h1m3 0h1m4 0h1m4 0h1m2 0h1m12 0h1m7 0h1m90 0h3m1 0h1m1 0h1m4 0h1m11 0h1m1 0h2m4 0h1m1 0h1m4 0h1m2 0h1m2 0h2m10 0h3m5 0h2m2 0h1m2 0h1m10 0h1m-437 1h2m6 0h1m2 0h2m3 0h1m7 0h1m1 0h1m5 0h1m19 0h1m14 0h1m41 0h1m1 0h2m6 0h1m9 0h1m7 0h2m2 0h2m2 0h1m12 0h1m1 0h1m5 0h1m6 0h2m6 0h1m2 0h1m1 0h2m1 0h2m2 0h1m8 0h1m5 0h2m2 0h1m4 0h1m7 0h2m8 0h1m1 0h1m3 0h1m1 0h1m7 0h1m7 0h1m18 0h1m17 0h1m10 0h1m26 0h1m2 0h1m7 0h1m7 0h1m1 0h1m3 0h2m4 0h1m5 0h1m2 0h1m4 0h1m3 0h3m1 0h1m1 0h1m10 0h1m4 0h1m4 0h2m3 0h1m11 0h1m4 0h1m8 0h1m-440 1h1m24 0h1m28 0h1m45 0h1m5 0h1m9 0h1m8 0h1m2 0h1m4 0h2m5 0h1m2 0h1m2 0h1m3 0h1m3 0h1m2 0h1m1 0h2m4 0h2m4 0h1m1 0h1m1 0h1m2 0h1m2 0h1m2 0h1m3 0h1m9 0h1m5 0h1m6 0h1m12 0h1m1 0h1m4 0h1m6 0h1m2 0h1m1 0h1m4 0h2m67 0h1m23 0h1m8 0h1m4 0h1m2 0h2m2 0h1m1 0h1m2 0h1m2 0h1m3 0h1m8 0h3m2 0h2m8 0h1m12 0h1m1 0h1m4 0h1m3 0h1m1 0h1m5 0h1m9 0h1m5 0h1m-450 1h1m4 0h1m4 0h1m7 0h1m1 0h1m3 0h1m10 0h1m4 0h1m18 0h1m77 0h1m5 0h1m1 0h3m1 0h2m10 0h1m16 0h1m4 0h1m5 0h1m1 0h1m1 0h1m8 0h1m4 0h1m4 0h1m1 0h1m5 0h1m2 0h1m1 0h1m3 0h1m2 0h1m3 0h1m2 0h2m4 0h1m8 0h1m71 0h1m22 0h1m4 0h1m9 0h2m2 0h1m5 0h1m2 0h1m2 0h1m1 0h1m6 0h1m4 0h2m4 0h1m31 0h1m4 0h1m4 0h1m2 0h2m-448 1h3m6 0h2m1 0h2m11 0h2m1 0h1m91 0h1m1 0h2m6 0h1m3 0h1m1 0h1m3 0h1m7 0h2m13 0h1m2 0h4m2 0h1m6 0h2m1 0h2m2 0h1m5 0h2m2 0h1m7 0h1m8 0h1m15 0h1m2 0h1m2 0h2m3 0h2m13 0h1m9 0h1m76 0h1m5 0h2m11 0h2m2 0h1m4 0h1m4 0h1m15 0h1m1 0h2m2 0h1m4 0h1m3 0h1m1 0h1m5 0h2m2 0h1m2 0h2m2 0h1m8 0h1m1 0h1m1 0h1m2 0h1m-442 1h1m3 0h2m7 0h1m9 0h1m5 0h1m80 0h1m4 0h1m10 0h1m3 0h1m1 0h1m19 0h1m4 0h1m1 0h1m5 0h3m2 0h2m5 0h1m1 0h3m2 0h2m4 0h1m1 0h1m1 0h1m1 0h1m3 0h1m9 0h1m1 0h2m1 0h2m8 0h1m2 0h2m7 0h1m4 0h2m4 0h1m91 0h1m9 0h1m2 0h1m5 0h1m2 0h2m2 0h1m1 0h1m15 0h2m1 0h1m2 0h1m4 0h1m8 0h1m13 0h3m9 0h1m4 0h1m1 0h1m1 0h2m1 0h1m3 0h1m-446 1h1m1 0h1m23 0h1m9 0h1m67 0h1m22 0h1m21 0h1m7 0h1m6 0h1m15 0h1m8 0h1m2 0h5m1 0h1m1 0h2m6 0h1m1 0h1m5 0h1m1 0h1m1 0h1m5 0h1m2 0h1m1 0h1m6 0h1m12 0h2m13 0h1m13 0h1m41 0h1m27 0h1m2 0h1m9 0h1m2 0h1m13 0h1m1 0h1m12 0h1m5 0h2m3 0h1m11 0h1m2 0h1m1 0h2m10 0h2m4 0h1m5 0h1m-449 1h3m4 0h1m3 0h1m2 0h1m28 0h1m61 0h1m22 0h1m4 0h1m8 0h1m4 0h1m5 0h1m5 0h1m2 0h1m1 0h2m2 0h1m1 0h1m3 0h1m3 0h1m10 0h2m6 0h1m1 0h1m1 0h1m1 0h1m1 0h2m7 0h1m8 0h3m2 0h1m2 0h1m4 0h1m48 0h1m8 0h1m41 0h1m16 0h1m13 0h1m11 0h1m5 0h1m3 0h1m2 0h1m1 0h1m8 0h1m4 0h1m1 0h1m2 0h2m2 0h1m11 0h2m8 0h1m8 0h1m-440 1h1m37 0h1m87 0h1m6 0h1m1 0h2m1 0h1m1 0h1m2 0h1m2 0h1m2 0h1m5 0h1m4 0h1m5 0h2m1 0h1m3 0h2m5 0h1m1 0h2m3 0h1m1 0h2m4 0h1m4 0h1m19 0h2m1 0h2m8 0h1m9 0h1m6 0h1m10 0h1m17 0h1m9 0h1m8 0h1m40 0h2m4 0h1m12 0h1m4 0h1m1 0h1m8 0h1m1 0h2m4 0h1m2 0h1m8 0h2m6 0h2m2 0h1m4 0h1m1 0h1m2 0h1m11 0h1m3 0h1m6 0h1m-435 1h1m9 0h1m3 0h1m48 0h1m29 0h1m30 0h1m9 0h1m4 0h2m3 0h1m2 0h1m1 0h1m3 0h1m1 0h1m3 0h1m4 0h2m1 0h1m2 0h1m1 0h1m1 0h2m4 0h1m8 0h1m1 0h2m5 0h1m3 0h1m7 0h1m2 0h1m1 0h1m1 0h1m22 0h1m1 0h1m69 0h1m5 0h1m22 0h1m5 0h2m2 0h1m1 0h1m10 0h1m2 0h2m9 0h1m2 0h1m14 0h1m9 0h1m3 0h1m1 0h1m13 0h2m7 0h2m-450 1h2m9 0h1m5 0h1m3 0h2m79 0h1m25 0h2m10 0h1m8 0h1m1 0h1m4 0h2m2 0h2m3 0h1m4 0h1m6 0h1m2 0h1m1 0h2m3 0h2m3 0h1m9 0h1m10 0h1m1 0h1m1 0h1m2 0h1m2 0h1m2 0h1m20 0h1m5 0h1m75 0h1m15 0h1m7 0h1m2 0h1m9 0h1m6 0h1m7 0h1m5 0h2m3 0h1m2 0h2m1 0h1m3 0h1m4 0h1m10 0h1m9 0h1m1 0h1m2 0h1m10 0h2m1 0h1m-449 1h1m5 0h1m3 0h1m16 0h1m5 0h1m78 0h1m3 0h1m31 0h1m8 0h1m5 0h1m6 0h1m4 0h1m3 0h1m1 0h1m2 0h1m5 0h1m6 0h1m4 0h1m2 0h1m3 0h2m1 0h1m1 0h2m2 0h1m2 0h1m6 0h1m11 0h1m22 0h1m66 0h1m7 0h1m30 0h1m4 0h1m9 0h1m4 0h1m5 0h2m3 0h2m2 0h1m4 0h1m4 0h1m7 0h2m1 0h1m8 0h6m1 0h1m5 0h1m1 0h2m-451 1h1m2 0h2m5 0h1m1 0h1m7 0h1m3 0h1m19 0h1m2 0h1m70 0h1m2 0h1m17 0h1m16 0h1m4 0h1m1 0h1m2 0h1m5 0h1m1 0h2m1 0h1m2 0h1m2 0h1m10 0h1m2 0h2m4 0h2m3 0h1m3 0h2m1 0h1m3 0h2m1 0h1m1 0h1m5 0h1m4 0h2m2 0h1m1 0h1m2 0h1m42 0h1m53 0h1m1 0h1m4 0h1m21 0h1m5 0h1m4 0h1m10 0h2m5 0h2m8 0h1m10 0h1m3 0h2m3 0h1m3 0h1m7 0h2m2 0h1m1 0h1m-446 1h1m9 0h1m3 0h1m10 0h2m8 0h1m11 0h1m54 0h1m28 0h1m1 0h1m12 0h1m9 0h1m1 0h2m8 0h3m2 0h1m2 0h3m3 0h1m1 0h1m1 0h1m1 0h2m6 0h1m1 0h1m1 0h1m2 0h1m5 0h1m5 0h1m3 0h1m1 0h2m6 0h1m10 0h1m126 0h1m2 0h1m5 0h1m4 0h2m5 0h2m3 0h1m6 0h1m3 0h3m6 0h3m12 0h1m9 0h1m4 0h1m-444 1h2m1 0h1m3 0h1m25 0h1m13 0h1m60 0h1m12 0h1m19 0h2m3 0h1m9 0h1m3 0h1m6 0h1m7 0h2m1 0h2m6 0h1m3 0h2m6 0h1m3 0h1m6 0h1m3 0h1m1 0h2m10 0h1m58 0h1m73 0h1m11 0h1m4 0h1m11 0h1m3 0h1m9 0h2m6 0h1m15 0h1m12 0h2m1 0h1m-318 1h1m11 0h1m2 0h1m3 0h1m1 0h2m2 0h1m4 0h1m6 0h2m7 0h1m4 0h1m4 0h1m3 0h1m7 0h1m8 0h2m4 0h1m6 0h1m2 0h1m1 0h1m8 0h1m5 0h1m112 0h1m1 0h2m1 0h1m8 0h2m6 0h1m1 0h1m10 0h1m8 0h2m3 0h1m4 0h1m10 0h1m6 0h1m2 0h1m9 0h2m10 0h1m-445 1h1m3 0h2m95 0h1m14 0h1m16 0h1m3 0h1m4 0h1m7 0h2m3 0h2m4 0h1m3 0h1m2 0h1m3 0h3m2 0h2m2 0h1m4 0h3m4 0h1m1 0h1m5 0h1m1 0h1m4 0h1m2 0h1m2 0h1m8 0h2m4 0h1m46 0h1m30 0h1m27 0h1m19 0h1m5 0h1m5 0h1m14 0h1m6 0h1m8 0h3m1 0h1m1 0h2m1 0h2m1 0h1m6 0h1m1 0h1m6 0h1m1 0h1m1 0h1m1 0h1m1 0h1m2 0h1m4 0h1m-440 1h1m1 0h1m1 0h1m1 0h2m130 0h1m5 0h1m5 0h1m11 0h1m4 0h2m7 0h2m12 0h1m3 0h2m7 0h1m1 0h1m2 0h1m8 0h1m7 0h1m127 0h1m7 0h1m8 0h1m3 0h1m4 0h1m4 0h2m13 0h2m8 0h1m5 0h1m2 0h1m2 0h2m1 0h1m2 0h3m-425 1h1m11 0h1m73 0h1m51 0h1m18 0h2m1 0h2m5 0h2m3 0h1m6 0h1m9 0h1m1 0h1m1 0h1m6 0h1m1 0h2m6 0h1m171 0h2m4 0h1m3 0h2m2 0h1m1 0h1m7 0h2m13 0h2m5 0h1m-440 1h1m72 0h1m46 0h1m28 0h1m27 0h1m12 0h1m2 0h1m1 0h1m1 0h1m4 0h1m5 0h1m2 0h2m7 0h1m7 0h1m13 0h1m43 0h1m84 0h1m28 0h1m8 0h1m8 0h1m2 0h2m1 0h1m1 0h1m1 0h1m4 0h2m1 0h1m3 0h1m4 0h1m-441 1h1m124 0h1m15 0h1m17 0h1m1 0h1m4 0h6m5 0h1m1 0h1m2 0h1m2 0h2m12 0h1m2 0h2m9 0h1m6 0h1m5 0h1m149 0h1m2 0h2m1 0h1m3 0h1m1 0h1m5 0h1m1 0h1m6 0h1m1 0h1m3 0h1m2 0h2m12 0h2m1 0h1m5 0h1m1 0h1m5 0h1m-441 1h1m8 0h1m91 0h1m15 0h1m7 0h1m7 0h1m19 0h2m2 0h1m4 0h1m8 0h1m10 0h1m7 0h2m3 0h1m3 0h1m1 0h1m18 0h1m13 0h1m130 0h2m11 0h1m9 0h1m12 0h1m34 0h1m3 0h1m-436 1h1m5 0h1m13 0h1m112 0h1m7 0h1m3 0h1m7 0h1m7 0h1m8 0h1m6 0h2m6 0h1m16 0h1m37 0h1m69 0h1m41 0h1m18 0h1m1 0h1m2 0h1m26 0h1m1 0h1m3 0h1m3 0h1m1 0h1m4 0h1m12 0h1m-318 1h1m22 0h1m21 0h2m4 0h1m7 0h1m6 0h1m1 0h1m10 0h1m8 0h1m4 0h1m57 0h1m90 0h1m8 0h1m7 0h1m2 0h1m6 0h1m2 0h1m1 0h1m3 0h1m1 0h2m1 0h1m13 0h1m2 0h1m3 0h1m2 0h1m9 0h1m-432 1h1m12 0h1m113 0h1m15 0h1m5 0h1m3 0h2m2 0h1m3 0h1m3 0h2m1 0h1m2 0h1m9 0h1m1 0h1m14 0h2m2 0h1m6 0h1m9 0h1m12 0h1m120 0h1m6 0h1m7 0h1m10 0h3m3 0h1m17 0h1m3 0h1m1 0h1m5 0h1m8 0h1m2 0h1m-439 1h1m149 0h2m21 0h1m18 0h1m2 0h1m1 0h3m8 0h1m26 0h1m139 0h1m1 0h1m3 0h1m6 0h1m6 0h1m2 0h1m6 0h2m7 0h1m6 0h2m-428 1h1m133 0h1m38 0h1m1 0h1m15 0h1m5 0h1m6 0h1m6 0h1m3 0h1m9 0h1m2 0h1m1 0h1m122 0h1m29 0h1m7 0h1m8 0h1m2 0h2m7 0h1m5 0h1m1 0h1m1 0h1m6 0h1m7 0h1m11 0h1m-440 1h2m142 0h1m29 0h1m7 0h1m2 0h1m8 0h1m10 0h1m9 0h1m9 0h1m7 0h1m137 0h1m3 0h1m11 0h1m2 0h1m3 0h1m1 0h1m8 0h1m14 0h1m4 0h1m-383 1h1m123 0h1m9 0h1m6 0h1m1 0h1m19 0h1m13 0h1m37 0h1m10 0h1m96 0h1m19 0h1m7 0h1m24 0h1m1 0h1m3 0h1m6 0h1m1 0h1m-332 1h1m24 0h1m13 0h1m1 0h1m5 0h1m24 0h1m9 0h1m7 0h1m174 0h1m13 0h1m17 0h1m3 0h1m2 0h1m11 0h1m16 0h1m2 0h1m-423 1h1m107 0h1m44 0h2m14 0h1m4 0h1m1 0h2m1 0h1m2 0h1m10 0h1m124 0h1m15 0h1m18 0h1m20 0h1m11 0h1m2 0h1m2 0h1m9 0h1m4 0h1m1 0h1m11 0h1m-294 1h1m11 0h1m26 0h4m3 0h1m2 0h1m9 0h1m175 0h1m8 0h1m14 0h2m10 0h1m12 0h1m5 0h1m-344 1h1m61 0h1m9 0h1m6 0h1m4 0h1m21 0h1m11 0h1m95 0h1m7 0h1m62 0h1m5 0h1m5 0h1m4 0h1m6 0h1m14 0h1m-427 1h1m157 0h1m28 0h1m196 0h1m7 0h1m25 0h1m1 0h1m7 0h1m1 0h1m11 0h1m-279 1h1m19 0h1m19 0h1m1 0h1m5 0h1m1 0h1m4 0h1m135 0h1m39 0h1m36 0h1m7 0h2m1 0h1m-382 1h1m102 0h1m15 0h1m2 0h2m10 0h1m4 0h1m4 0h1m188 0h1m5 0h1m12 0h1m2 0h1m-231 1h1m236 0h1m21 0h1m-299 1h1m12 0h1m12 0h1m5 0h1m15 0h1m8 0h1m3 0h1m2 0h1m122 0h1m85 0h2m-258 1h1m32 0h1m9 0h1m2 0h1m3 0h1m-213 1h1m157 0h1m6 0h1m18 0h1m47 0h1m39 0h1m117 0h1m19 0h1m27 0h1m-386 1h1m127 0h1m13 0h1m34 0h1m134 0h1m6 0h1m13 0h1m29 0h1m5 0h1m6 0h1m-430 1h1m130 0h1m44 0h1m26 0h1m6 0h1m23 0h1m8 0h1m107 0h1m63 0h1m2 0h1m-282 1h1m91 0h1m148 0h1m23 0h1m1 0h2m8 0h1m3 0h1m7 0h1m-411 1h1m9 0h1m96 0h1m57 0h1m23 0h1m7 0h1m180 0h1m28 0h1m-218 1h1m173 0h1m13 0h1m18 0h1m-74 1h1m41 0h1m8 0h1m28 0h1m5 0h1m5 0h1m-334 1h1m72 1h1m20 0h1m21 0h1m167 0h1m33 0h1m-201 1h1m39 0h1m134 0h1m1 0h1m4 0h1m11 0h1m-293 1h1m68 0h1m215 0h1m-224 1h1m3 0h1m217 0h1m30 0h1m-277 1h1m122 0h1m102 0h1m-212 1h1m63 0h1m122 0h1m-285 1h1m93 0h1m3 0h1m53 0h1m73 0h1m105 0h1m-233 1h1m25 0h1m165 0h1m-176 2h1m166 0h1m26 0h1m-184 1h1m200 0h1m23 0h1m-36 1h1m48 1h1m-249 1h1m7 0h1m155 0h1m-60 1h1m134 0h1m-148 1h1m-79 1h1m-208 1h1m229 0h1m171 0h1m-216 1h1m220 1h1m8 0h1m-253 1h1m217 0h1m6 0h1m-201 2h1m208 0h1m-378 2h1m241 0h1m138 1h1m-200 1h1m231 0h1m-284 1h1m270 1h1m-44 2h1m-7 1h1m-362 1h1m150 2h1m225 0h1m-319 1h1m339 6h1m-105 2h1m-42 1h1m-28 1h1m-180 1h1m6 1h1m75 1h1m262 1h1m-173 3h1m-115 1h1m80 2h1m65 4h1m72 0h1m-120 2h1m-202 1h1m216 0h1m-117 3h1m87 0h1m-160 2h1m162 2h1m-68 2h1m-98 1h1m121 2h1m-19 1h1m2 2h1m5 4h1m168 0h1m15 0h1m-162 1h1m161 1h1m87 3h1m-90 1h1m-203 1h1m33 2h1m147 2h1m8 2h1m73 0h1m-398 1h1m81 0h1m128 0h1m95 0h1m27 0h1m79 2h1m-288 2h1m-36 2h1m314 4h1"/>
<path id="g2" d="M160 75.5h1m381 0h1m-98 4h1m-198 1h1m83 2h1m116 1h1m-184 1h1m244 0h1m-117 1h1m73 4h1m54 0h1m-204 1h1m39 1h1m-63 1h1m23 1h1m151 1h1m-196 2h1m-1 2h1m179 2h1m43 1h1m-355 3h1m91 0h1m-111 1h1m224 0h1m-199 1h1m-54 2h1m38 2h1m163 0h1m118 1h1m22 2h1m-224 1h1m225 0h1m-138 2h1m-129 1h1m-59 7h1m407 0h1m-282 2h1m237 0h1m-153 5h1m17 0h1m-196 1h1m-8 2h1m42 0h1m138 0h1m85 0h1m41 1h1m-154 1h1m161 1h1m-70 2h1m-300 1h1m68 1h1m224 0h1m96 0h1m-348 2h1m105 0h1m90 0h1m24 1h1m21 1h1m-285 1h1m20 0h1m-4 1h1m46 1h1m229 0h1m-25 1h1m0 1h1m42 1h1m-292 1h1m212 1h1m-239 1h1m10 1h1m25 0h1m109 1h1m167 0h1m13 0h1m6 0h1m90 1h1m-414 1h1m127 0h1m-74 1h1m9 0h1m128 0h1m224 0h1m-136 2h1m4 1h1m-243 2h1m87 1h1m124 0h1m45 0h1m53 0h1m-283 1h1m233 2h1m-248 1h2m147 0h1m51 0h1m28 0h2m2 0h1m15 0h1m-244 1h1m168 0h1m23 0h1m19 0h1m11 0h1m-320 1h1m64 0h1m35 0h1m9 1h1m224 0h1m-76 1h1m20 0h1m-219 1h1m217 0h1m16 0h1m18 0h1m-261 1h1m98 0h1m157 0h1m66 0h1m-308 1h1m114 1h1m218 0h1m33 0h1m-408 1h1m40 0h1m188 0h2m12 0h1m35 0h1m80 0h1m-363 1h1m253 0h1m2 0h1m85 0h1m-358 1h1m6 0h1m28 0h1m233 0h1m6 0h1m32 0h1m5 0h1m-277 1h1m20 0h1m125 0h1m60 0h1m17 0h1m43 0h1m6 0h1m12 0h1m-315 1h1m4 0h1m18 0h1m23 0h1m36 0h1m140 0h1m157 0h1m-374 1h1m20 0h1m9 0h1m13 0h1m17 0h1m161 0h1m9 0h1m20 0h1m6 0h1m19 0h1m-278 1h1m42 0h1m36 0h1m201 0h1m53 0h1m-362 1h1m10 0h1m17 0h1m9 0h1m2 0h1m14 0h1m6 0h1m171 0h1m1 0h1m9 0h2m24 0h1m6 0h1m7 0h1m-244 1h2m22 0h2m55 0h1m122 0h1m23 0h1m-253 1h1m34 0h1m171 0h1m40 0h1m-276 1h1m239 0h1m23 0h1m2 0h1m77 0h1m-333 1h1m21 0h1m12 0h1m15 0h1m173 0h1m9 0h1m1 0h1m10 0h1m-234 1h1m26 0h1m32 0h1m138 0h1m51 0h1m2 0h1m4 0h1m118 0h1m-431 1h1m53 0h1m8 0h1m8 0h1m15 0h2m12 0h1m169 0h1m21 0h2m2 0h1m2 0h1m5 0h1m1 0h1m5 0h1m5 0h1m10 0h1m112 0h1m-392 1h1m2 0h1m2 0h1m1 0h1m2 0h1m16 0h1m6 0h1m26 0h1m1 0h1m16 0h1m21 0h1m32 0h1m3 0h1m96 0h1m26 0h1m10 0h1m40 0h1m44 0h1m-373 1h1m5 0h1m6 0h1m2 0h1m14 0h1m11 0h1m11 0h1m169 0h1m28 0h1m10 0h1m3 0h1m73 0h1m-367 1h1m9 0h1m28 0h1m1 0h1m22 0h3m8 0h1m120 0h1m60 0h1m9 0h1m4 0h1m1 0h1m10 0h2m4 0h1m2 0h1m15 0h1m-294 1h1m1 0h1m39 0h1m4 0h2m81 0h1m59 0h1m12 0h1m24 0h1m14 0h1m28 0h1m-277 1h1m17 0h1m10 0h2m11 0h2m193 0h1m5 0h1m4 0h1m17 0h1m-283 1h1m8 0h1m19 0h2m4 0h1m2 0h1m4 0h1m7 0h2m182 0h1m3 0h1m7 0h1m6 0h1m15 0h1m1 0h1m7 0h1m6 0h1m5 0h1m14 0h1m-289 1h1m30 0h2m10 0h1m11 0h1m28 0h1m117 0h1m4 0h1m76 0h1m2 0h1m4 0h1m15 0h1m100 0h1m-412 1h1m2 0h1m10 0h1m1 0h2m16 0h1m5 0h2m7 0h1m44 0h1m81 0h1m48 0h1m3 0h2m12 0h2m7 0h1m8 0h1m10 0h1m2 0h1m5 0h1m18 0h1m8 0h1m-295 1h1m10 0h1m13 0h1m3 0h1m1 0h1m13 0h1m41 0h1m74 0h1m45 0h1m10 0h1m1 0h1m5 0h1m1 0h1m24 0h1m1 0h1m5 0h1m8 0h1m32 0h1m8 0h1m-360 1h1m9 0h1m29 0h2m27 0h2m6 0h1m40 0h1m137 0h2m13 0h1m1 0h1m16 0h2m3 0h1m12 0h1m7 0h1m43 0h1m-364 1h1m36 0h1m5 0h1m9 0h1m6 0h1m4 0h1m2 0h1m11 0h1m3 0h1m2 0h1m17 0h1m19 0h1m40 0h1m46 0h1m43 0h1m5 0h1m25 0h1m46 0h1m38 0h1m31 0h1m31 0h1m-392 1h1m5 0h2m2 0h1m6 0h1m6 0h1m4 0h2m1 0h2m5 0h1m13 0h1m10 0h1m4 0h1m144 0h1m1 0h1m4 0h1m4 0h2m4 0h1m4 0h1m2 0h1m1 0h1m4 0h1m2 0h1m1 0h1m4 0h1m15 0h1m5 0h1m9 0h2m2 0h1m-289 1h1m13 0h1m1 0h1m9 0h1m9 0h1m7 0h1m5 0h1m5 0h1m53 0h1m43 0h1m60 0h2m8 0h1m3 0h1m2 0h1m9 0h1m2 0h3m5 0h1m7 0h1m47 0h1m-342 1h1m6 0h1m6 0h2m8 0h1m10 0h1m7 0h1m9 0h1m8 0h1m6 0h1m18 0h1m65 0h1m78 0h1m1 0h1m2 0h1m12 0h1m1 0h1m4 0h1m7 0h1m11 0h1m5 0h1m7 0h1m2 0h1m1 0h1m4 0h1m4 0h1m15 0h1m-331 1h1m2 0h1m15 0h1m10 0h1m3 0h1m3 0h1m5 0h1m1 0h1m7 0h1m8 0h1m12 0h1m27 0h2m3 0h1m65 0h1m63 0h1m4 0h1m7 0h1m2 0h1m14 0h1m1 0h1m3 0h1m1 0h1m1 0h1m14 0h1m6 0h1m2 0h1m24 0h1m52 0h1m-367 1h1m2 0h1m4 0h2m1 0h1m6 0h1m1 0h1m3 0h1m1 0h1m4 0h2m2 0h1m7 0h1m3 0h1m29 0h1m5 0h1m8 0h1m121 0h1m4 0h1m4 0h1m2 0h1m4 0h1m2 0h1m7 0h1m4 0h1m8 0h1m2 0h1m1 0h1m4 0h3m5 0h1m1 0h1m3 0h1m13 0h1m5 0h2m41 0h1m-376 1h1m27 0h1m14 0h1m1 0h1m3 0h1m4 0h1m8 0h1m15 0h2m18 0h2m10 0h1m6 0h1m22 0h1m41 0h1m13 0h1m54 0h1m1 0h1m5 0h1m7 0h1m11 0h3m3 0h1m5 0h1m13 0h1m14 0h1m21 0h1m43 0h1m34 0h1m-418 1h1m23 0h1m2 0h1m16 0h1m15 0h1m9 0h2m6 0h1m13 0h1m56 0h1m26 0h1m90 0h1m4 0h1m1 0h1m6 0h1m4 0h1m4 0h1m4 0h1m18 0h1m14 0h1m10 0h1m11 0h1m18 0h1m2 0h1m-378 1h1m2 0h1m7 0h1m16 0h2m2 0h1m6 0h3m4 0h1m5 0h2m6 0h2m9 0h1m3 0h1m1 0h1m11 0h2m85 0h1m48 0h1m6 0h1m4 0h1m4 0h1m8 0h1m1 0h1m1 0h1m3 0h1m6 0h1m1 0h1m6 0h1m2 0h1m5 0h1m16 0h1m1 0h1m3 0h1m3 0h2m1 0h1m8 0h1m10 0h1m-323 1h1m26 0h1m1 0h2m15 0h1m6 0h1m3 0h1m3 0h1m8 0h1m8 0h1m12 0h1m1 0h2m8 0h1m23 0h1m82 0h1m24 0h1m11 0h1m7 0h1m4 0h1m2 0h1m8 0h1m3 0h1m6 0h1m2 0h1m3 0h3m1 0h2m9 0h2m6 0h1m3 0h1m1 0h1m8 0h1m1 0h1m14 0h1m80 0h1m-422 1h1m9 0h1m1 0h2m15 0h1m8 0h1m1 0h1m2 0h1m6 0h1m3 0h1m1 0h1m2 0h3m4 0h1m3 0h1m5 0h1m3 0h1m2 0h1m3 0h1m2 0h1m15 0h1m9 0h1m18 0h1m82 0h1m3 0h1m3 0h1m1 0h2m5 0h1m11 0h1m1 0h1m2 0h1m2 0h1m1 0h1m2 0h1m2 0h1m2 0h1m2 0h1m6 0h1m11 0h1m6 0h1m5 0h2m2 0h1m3 0h1m3 0h1m4 0h1m6 0h1m16 0h1m-361 1h1m11 0h1m1 0h1m2 0h1m2 0h1m12 0h1m4 0h1m3 0h1m2 0h1m8 0h2m15 0h1m1 0h1m6 0h1m2 0h1m6 0h2m4 0h2m10 0h1m2 0h1m8 0h1m8 0h1m37 0h1m44 0h1m18 0h1m5 0h1m5 0h1m2 0h2m3 0h1m3 0h1m1 0h1m12 0h1m8 0h1m1 0h1m5 0h1m2 0h2m6 0h1m3 0h1m5 0h1m6 0h1m1 0h1m8 0h1m2 0h1m-335 1h1m8 0h1m29 0h1m4 0h1m2 0h2m5 0h1m1 0h1m3 0h2m1 0h1m16 0h1m1 0h2m6 0h1m2 0h1m1 0h2m13 0h1m1 0h1m1 0h1m11 0h1m1 0h1m2 0h1m5 0h1m43 0h1m62 0h1m1 0h1m2 0h1m12 0h1m6 0h1m9 0h1m1 0h1m4 0h1m2 0h1m2 0h1m3 0h1m11 0h1m3 0h1m2 0h2m5 0h2m5 0h1m6 0h2m15 0h1m1 0h1m6 0h1m18 0h1m41 0h1m-399 1h1m3 0h1m7 0h1m3 0h1m2 0h1m7 0h1m4 0h1m2 0h2m5 0h1m9 0h1m2 0h1m6 0h1m8 0h1m1 0h1m7 0h2m1 0h1m7 0h1m9 0h1m81 0h1m24 0h1m16 0h1m10 0h1m4 0h1m1 0h1m2 0h1m2 0h2m2 0h1m6 0h1m11 0h1m3 0h1m10 0h1m11 0h2m5 0h1m11 0h1m7 0h1m2 0h1m9 0h1m32 0h1m28 0h1m1 0h1m7 0h1m-440 1h1m17 0h1m4 0h2m9 0h1m1 0h1m3 0h1m2 0h1m1 0h2m2 0h1m3 0h1m4 0h1m5 0h5m3 0h1m1 0h1m1 0h2m3 0h1m3 0h2m3 0h1m4 0h1m14 0h1m8 0h2m10 0h1m45 0h1m58 0h1m7 0h1m4 0h1m6 0h1m2 0h1m3 0h1m12 0h2m2 0h1m3 0h1m4 0h1m13 0h1m2 0h1m2 0h2m1 0h1m5 0h1m9 0h1m18 0h1m38 0h1m2 0h1m42 0h1m-417 1h1m7 0h2m7 0h1m12 0h1m8 0h2m9 0h1m2 0h1m4 0h1m4 0h1m17 0h2m1 0h1m2 0h1m1 0h1m3 0h1m20 0h1m2 0h1m15 0h1m8 0h1m6 0h1m81 0h1m2 0h1m5 0h1m10 0h1m2 0h1m2 0h1m4 0h1m1 0h1m8 0h1m1 0h2m4 0h1m5 0h2m5 0h1m5 0h1m1 0h2m2 0h1m2 0h1m3 0h1m16 0h1m9 0h1m5 0h1m10 0h1m1 0h1m7 0h1m18 0h1m-380 1h1m10 0h1m1 0h3m1 0h1m2 0h1m1 0h4m1 0h1m5 0h1m5 0h1m5 0h1m2 0h2m2 0h1m1 0h1m4 0h1m2 0h1m1 0h1m14 0h1m3 0h2m9 0h1m9 0h1m45 0h1m44 0h1m17 0h1m3 0h1m8 0h1m3 0h1m8 0h4m2 0h1m3 0h1m1 0h2m11 0h1m3 0h2m4 0h1m1 0h1m1 0h1m4 0h1m5 0h2m1 0h1m3 0h1m13 0h2m2 0h1m1 0h1m3 0h1m10 0h1m88 0h1m-419 1h1m8 0h1m1 0h1m1 0h1m15 0h3m1 0h1m5 0h1m2 0h1m4 0h2m3 0h5m1 0h2m2 0h2m1 0h2m8 0h1m2 0h1m1 0h2m4 0h1m4 0h2m3 0h1m3 0h1m2 0h1m111 0h1m13 0h1m5 0h1m6 0h1m3 0h1m4 0h1m14 0h1m5 0h1m5 0h1m1 0h1m7 0h2m13 0h4m5 0h1m9 0h1m76 0h1m-399 1h1m4 0h1m1 0h1m3 0h1m2 0h3m22 0h2m4 0h1m12 0h1m3 0h1m5 0h1m3 0h1m1 0h1m2 0h1m5 0h1m1 0h1m1 0h1m4 0h1m2 0h1m20 0h1m4 0h1m82 0h1m49 0h2m1 0h1m2 0h2m3 0h1m6 0h1m7 0h1m3 0h2m2 0h1m5 0h1m2 0h1m3 0h3m1 0h1m1 0h1m1 0h1m2 0h1m4 0h1m2 0h1m12 0h2m3 0h1m-347 1h1m8 0h1m1 0h1m15 0h1m8 0h1m4 0h1m4 0h1m12 0h1m1 0h1m2 0h1m2 0h1m2 0h1m5 0h1m2 0h1m3 0h2m7 0h1m6 0h1m6 0h1m1 0h1m4 0h1m28 0h1m81 0h2m4 0h1m3 0h1m2 0h1m11 0h1m3 0h1m8 0h1m2 0h1m2 0h1m3 0h1m1 0h3m3 0h2m3 0h2m3 0h1m3 0h1m3 0h2m4 0h1m4 0h1m5 0h1m8 0h1m4 0h1m2 0h1m5 0h2m3 0h1m3 0h1m13 0h1m53 0h1m4 0h1m4 0h1m-439 1h1m13 0h2m14 0h1m3 0h3m5 0h1m2 0h2m2 0h1m11 0h1m3 0h1m1 0h1m1 0h1m2 0h1m1 0h1m3 0h2m7 0h1m8 0h1m6 0h2m17 0h2m10 0h1m114 0h2m3 0h1m3 0h2m4 0h1m4 0h4m3 0h1m11 0h1m1 0h1m6 0h2m6 0h2m1 0h1m4 0h1m3 0h1m3 0h2m3 0h1m2 0h1m2 0h1m2 0h1m2 0h1m20 0h1m76 0h1m6 0h2m-449 1h1m7 0h2m12 0h1m8 0h1m1 0h3m2 0h1m5 0h1m1 0h1m3 0h1m6 0h1m1 0h1m2 0h1m5 0h1m5 0h1m2 0h1m4 0h1m1 0h1m2 0h1m4 0h4m2 0h1m2 0h2m2 0h1m21 0h1m23 0h1m104 0h1m1 0h1m2 0h1m4 0h1m3 0h1m9 0h1m2 0h2m7 0h4m1 0h1m2 0h1m15 0h2m1 0h2m2 0h3m1 0h1m5 0h2m1 0h1m9 0h1m5 0h2m5 0h1m14 0h2m1 0h2m6 0h1m21 0h1m34 0h1m-424 1h1m20 0h1m4 0h1m2 0h1m5 0h1m12 0h1m4 0h1m3 0h1m1 0h1m2 0h1m1 0h1m1 0h3m1 0h2m8 0h1m2 0h1m8 0h2m8 0h1m1 0h1m13 0h1m3 0h1m15 0h1m27 0h1m18 0h1m13 0h1m15 0h1m3 0h1m3 0h1m3 0h1m3 0h1m1 0h1m4 0h1m8 0h1m1 0h1m8 0h1m1 0h1m6 0h1m15 0h2m3 0h2m12 0h1m3 0h1m3 0h1m8 0h1m12 0h1m1 0h1m2 0h1m8 0h2m15 0h1m57 0h1m-441 1h3m7 0h1m6 0h1m17 0h1m9 0h1m2 0h1m4 0h1m4 0h1m3 0h2m1 0h1m2 0h1m3 0h1m5 0h1m1 0h1m2 0h1m2 0h2m4 0h1m1 0h1m3 0h1m2 0h1m4 0h1m16 0h1m2 0h1m5 0h1m39 0h1m9 0h1m42 0h1m9 0h1m1 0h1m18 0h1m1 0h1m21 0h1m3 0h1m1 0h2m8 0h1m1 0h1m4 0h1m9 0h1m5 0h1m2 0h1m6 0h1m3 0h2m1 0h1m5 0h1m14 0h1m66 0h1m-426 1h1m2 0h1m2 0h1m2 0h1m23 0h2m3 0h1m1 0h1m3 0h4m9 0h1m1 0h1m3 0h2m4 0h2m2 0h1m2 0h1m2 0h1m18 0h1m2 0h1m3 0h1m4 0h1m8 0h1m19 0h1m16 0h1m4 0h1m43 0h1m4 0h1m5 0h1m6 0h1m4 0h1m5 0h1m13 0h2m1 0h2m7 0h4m1 0h2m2 0h3m3 0h1m5 0h1m1 0h1m6 0h1m4 0h1m2 0h2m1 0h1m3 0h1m2 0h1m18 0h1m3 0h1m1 0h1m1 0h1m4 0h1m3 0h1m15 0h2m4 0h1m1 0h1m6 0h1m10 0h1m37 0h1m10 0h1m2 0h1m-439 1h2m13 0h1m13 0h1m6 0h1m6 0h1m10 0h2m3 0h1m3 0h1m6 0h1m3 0h1m2 0h1m1 0h1m7 0h2m2 0h2m4 0h1m2 0h1m18 0h1m2 0h2m4 0h1m44 0h1m59 0h1m4 0h1m2 0h1m5 0h2m6 0h1m4 0h3m6 0h1m3 0h1m1 0h3m5 0h3m2 0h1m1 0h1m8 0h1m1 0h5m4 0h1m2 0h2m5 0h2m1 0h1m2 0h1m21 0h2m4 0h1m4 0h1m38 0h1m33 0h1m13 0h1m-439 1h1m2 0h1m5 0h1m2 0h1m8 0h1m3 0h1m2 0h1m13 0h1m8 0h3m2 0h1m3 0h1m1 0h2m2 0h1m6 0h1m1 0h1m1 0h1m1 0h1m10 0h2m9 0h1m3 0h1m5 0h1m7 0h2m11 0h1m3 0h1m65 0h1m19 0h1m7 0h2m8 0h1m6 0h1m5 0h1m1 0h1m13 0h2m1 0h1m5 0h1m2 0h1m3 0h1m2 0h2m2 0h1m14 0h1m5 0h2m1 0h2m5 0h1m1 0h1m5 0h1m1 0h1m3 0h2m2 0h1m3 0h1m11 0h1m51 0h1m15 0h1m-430 1h2m7 0h1m2 0h1m5 0h1m3 0h1m1 0h2m5 0h1m1 0h2m18 0h1m17 0h1m1 0h1m2 0h1m5 0h1m2 0h2m1 0h1m1 0h1m10 0h1m1 0h1m6 0h1m1 0h1m1 0h1m4 0h1m6 0h1m4 0h1m8 0h1m29 0h1m2 0h1m55 0h1m19 0h2m8 0h3m6 0h1m1 0h1m2 0h1m1 0h1m3 0h1m2 0h1m13 0h1m10 0h1m4 0h2m1 0h2m2 0h2m6 0h1m3 0h1m1 0h2m1 0h4m10 0h1m2 0h2m2 0h1m3 0h1m4 0h1m9 0h1m7 0h1m14 0h1m39 0h1m2 0h1m-442 1h1m5 0h1m1 0h1m2 0h1m2 0h1m6 0h1m2 0h1m4 0h1m3 0h1m5 0h1m2 0h2m5 0h4m4 0h1m4 0h1m1 0h3m8 0h1m7 0h1m1 0h2m7 0h2m3 0h1m2 0h1m13 0h1m5 0h1m1 0h1m10 0h1m1 0h1m1 0h1m14 0h1m54 0h1m11 0h1m1 0h1m12 0h1m2 0h1m8 0h2m3 0h1m1 0h1m1 0h1m1 0h1m4 0h1m1 0h2m1 0h1m8 0h1m2 0h1m1 0h1m4 0h1m8 0h1m9 0h1m1 0h2m7 0h1m12 0h1m7 0h1m3 0h2m5 0h1m9 0h1m4 0h1m33 0h1m1 0h1m8 0h1m14 0h1m9 0h1m6 0h1m-437 1h1m6 0h1m2 0h1m4 0h1m14 0h1m13 0h3m4 0h1m3 0h1m1 0h1m1 0h1m10 0h1m4 0h1m3 0h1m3 0h1m5 0h1m3 0h1m1 0h1m4 0h1m1 0h2m1 0h1m1 0h1m4 0h1m1 0h1m7 0h1m4 0h1m13 0h1m2 0h2m66 0h1m8 0h1m6 0h1m1 0h1m1 0h1m10 0h1m6 0h1m3 0h5m2 0h1m3 0h1m11 0h1m3 0h1m8 0h2m5 0h1m4 0h1m9 0h1m3 0h3m9 0h1m1 0h1m1 0h1m6 0h1m4 0h1m1 0h1m1 0h1m3 0h1m10 0h1m3 0h1m63 0h1m3 0h1m-444 1h1m13 0h1m3 0h5m2 0h1m5 0h1m3 0h2m1 0h1m2 0h2m2 0h1m22 0h1m6 0h1m7 0h1m5 0h1m3 0h1m7 0h2m4 0h2m1 0h1m8 0h1m7 0h1m1 0h2m3 0h1m4 0h1m1 0h1m20 0h1m11 0h1m39 0h1m1 0h1m9 0h1m1 0h1m25 0h2m6 0h1m5 0h1m2 0h1m11 0h1m9 0h1m5 0h1m13 0h1m5 0h3m1 0h1m7 0h2m1 0h2m1 0h1m4 0h1m1 0h1m6 0h1m3 0h2m1 0h1m5 0h1m6 0h1m18 0h1m8 0h1m20 0h1m5 0h1m13 0h1m3 0h1m-437 1h1m2 0h1m1 0h2m10 0h1m4 0h1m7 0h2m1 0h1m3 0h1m3 0h1m2 0h1m2 0h1m4 0h2m9 0h1m2 0h1m8 0h1m6 0h1m2 0h1m4 0h1m9 0h1m1 0h1m3 0h1m5 0h1m8 0h1m3 0h1m6 0h1m9 0h1m2 0h1m25 0h1m34 0h1m6 0h1m14 0h1m1 0h1m2 0h1m5 0h1m1 0h1m3 0h1m18 0h1m4 0h1m3 0h1m4 0h2m19 0h2m2 0h1m4 0h1m1 0h2m18 0h3m4 0h2m3 0h1m4 0h2m17 0h1m2 0h1m31 0h1m10 0h1m3 0h1m12 0h1m8 0h1m-434 1h1m1 0h1m3 0h1m5 0h1m5 0h1m2 0h1m4 0h1m1 0h2m8 0h1m11 0h1m3 0h1m3 0h1m4 0h1m2 0h4m3 0h1m1 0h1m14 0h1m6 0h1m1 0h1m2 0h2m1 0h1m1 0h1m13 0h1m1 0h1m14 0h1m15 0h1m9 0h2m36 0h1m9 0h1m5 0h1m5 0h1m1 0h1m4 0h1m2 0h1m1 0h1m6 0h1m11 0h1m5 0h1m5 0h1m13 0h1m5 0h1m3 0h1m2 0h1m7 0h2m14 0h1m4 0h1m10 0h1m7 0h1m1 0h1m4 0h1m3 0h1m9 0h1m1 0h1m24 0h1m1 0h1m32 0h1m6 0h1m-447 1h1m17 0h1m6 0h2m6 0h1m3 0h1m1 0h1m3 0h1m15 0h1m5 0h2m1 0h1m16 0h1m7 0h1m3 0h1m4 0h2m1 0h1m2 0h1m7 0h1m4 0h1m4 0h1m2 0h2m4 0h1m5 0h1m1 0h1m3 0h2m10 0h1m33 0h1m3 0h1m5 0h1m11 0h1m3 0h1m5 0h1m8 0h1m5 0h2m5 0h1m4 0h2m1 0h1m2 0h1m2 0h1m2 0h1m3 0h1m17 0h1m1 0h1m8 0h1m6 0h1m1 0h1m3 0h2m3 0h1m2 0h1m1 0h1m7 0h2m24 0h1m8 0h1m3 0h1m6 0h2m2 0h1m65 0h1m-446 1h1m15 0h1m1 0h2m16 0h3m18 0h1m4 0h2m6 0h1m5 0h3m4 0h1m12 0h1m2 0h1m10 0h1m2 0h1m5 0h1m5 0h1m1 0h1m2 0h1m4 0h1m18 0h1m1 0h1m4 0h1m6 0h1m7 0h1m2 0h1m27 0h1m6 0h1m5 0h1m4 0h2m4 0h2m2 0h2m5 0h2m7 0h1m6 0h1m1 0h1m6 0h1m25 0h2m2 0h1m13 0h1m1 0h1m6 0h2m1 0h2m5 0h2m3 0h1m1 0h2m6 0h1m1 0h2m3 0h1m6 0h1m14 0h1m4 0h1m9 0h1m11 0h1m8 0h1m15 0h1m13 0h1m1 0h1m3 0h1m-448 1h1m5 0h1m2 0h1m3 0h1m13 0h2m10 0h1m3 0h1m4 0h1m6 0h1m28 0h1m6 0h1m9 0h1m9 0h1m4 0h1m2 0h1m12 0h1m1 0h1m4 0h2m3 0h1m14 0h1m1 0h2m3 0h1m2 0h1m13 0h1m27 0h1m2 0h1m23 0h1m1 0h1m11 0h1m3 0h1m2 0h1m1 0h1m17 0h2m1 0h1m11 0h1m1 0h2m7 0h1m21 0h1m2 0h2m3 0h3m11 0h2m3 0h1m8 0h1m5 0h2m11 0h1m5 0h1m3 0h1m34 0h1m3 0h1m8 0h1m2 0h1m3 0h1m-441 1h1m3 0h1m2 0h1m8 0h1m4 0h1m6 0h2m6 0h1m1 0h1m1 0h1m10 0h1m4 0h1m10 0h1m5 0h2m7 0h1m4 0h1m1 0h1m14 0h1m9 0h2m5 0h1m2 0h1m4 0h1m8 0h1m2 0h1m25 0h1m24 0h1m23 0h1m5 0h1m2 0h1m9 0h1m12 0h2m1 0h2m8 0h3m1 0h1m3 0h1m1 0h1m4 0h1m3 0h1m1 0h1m9 0h2m1 0h1m2 0h1m8 0h1m5 0h2m8 0h1m6 0h1m6 0h1m4 0h1m3 0h1m2 0h1m2 0h1m1 0h2m1 0h1m2 0h1m1 0h1m18 0h1m25 0h1m15 0h1m5 0h1m8 0h1m-446 1h1m4 0h1m2 0h1m3 0h1m2 0h1m4 0h1m9 0h2m3 0h1m1 0h1m5 0h1m15 0h1m6 0h1m5 0h1m7 0h1m1 0h1m20 0h2m8 0h1m2 0h1m1 0h1m7 0h1m5 0h1m2 0h2m1 0h2m1 0h3m1 0h1m3 0h1m1 0h2m15 0h1m6 0h1m7 0h1m13 0h1m14 0h1m8 0h3m2 0h1m12 0h4m9 0h2m6 0h1m1 0h2m3 0h4m2 0h1m1 0h2m9 0h1m5 0h1m4 0h1m7 0h1m1 0h1m11 0h1m4 0h1m5 0h1m4 0h1m1 0h1m19 0h1m3 0h2m4 0h1m1 0h1m1 0h1m6 0h2m2 0h1m1 0h1m3 0h1m12 0h1m4 0h1m6 0h1m4 0h1m2 0h1m3 0h1m12 0h1m3 0h1m2 0h1m1 0h1m-448 1h1m10 0h1m1 0h1m4 0h3m6 0h1m4 0h1m13 0h1m10 0h1m2 0h1m6 0h1m3 0h1m14 0h1m3 0h1m5 0h2m2 0h1m1 0h1m1 0h1m4 0h1m11 0h1m1 0h1m10 0h4m1 0h2m2 0h1m4 0h1m8 0h1m4 0h1m8 0h1m9 0h1m5 0h1m3 0h2m14 0h2m17 0h1m7 0h1m4 0h1m2 0h1m8 0h1m14 0h1m2 0h1m5 0h1m4 0h1m7 0h1m2 0h1m18 0h2m3 0h1m8 0h1m2 0h1m1 0h1m6 0h1m5 0h1m3 0h1m2 0h1m1 0h1m3 0h1m3 0h3m3 0h1m3 0h1m18 0h1m1 0h1m2 0h1m3 0h1m4 0h1m4 0h1m8 0h1m16 0h1m-432 1h1m8 0h1m3 0h1m6 0h1m1 0h2m1 0h1m1 0h1m11 0h2m5 0h1m2 0h1m4 0h1m13 0h2m7 0h1m13 0h3m5 0h1m11 0h1m5 0h1m1 0h2m1 0h1m7 0h2m3 0h1m3 0h1m3 0h2m2 0h1m5 0h1m18 0h1m29 0h1m11 0h1m15 0h1m3 0h1m3 0h1m2 0h2m18 0h1m1 0h1m5 0h1m3 0h3m2 0h1m4 0h1m9 0h1m3 0h1m1 0h1m21 0h3m11 0h2m3 0h1m2 0h1m1 0h1m14 0h1m2 0h3m2 0h1m5 0h1m15 0h1m6 0h1m18 0h1m6 0h1m1 0h1m5 0h1m2 0h1m-434 1h1m3 0h1m6 0h1m1 0h1m2 0h1m3 0h1m26 0h1m11 0h1m3 0h1m22 0h1m4 0h1m7 0h3m10 0h1m10 0h1m6 0h1m6 0h1m1 0h1m2 0h1m2 0h2m2 0h1m1 0h1m8 0h1m6 0h1m22 0h1m10 0h2m1 0h2m14 0h1m1 0h1m5 0h1m2 0h2m2 0h1m3 0h1m11 0h2m5 0h1m1 0h1m3 0h2m14 0h2m1 0h1m4 0h2m9 0h1m3 0h1m8 0h1m8 0h3m2 0h3m20 0h1m1 0h1m2 0h3m18 0h2m2 0h1m14 0h1m2 0h1m9 0h1m4 0h1m9 0h1m6 0h1m7 0h1m4 0h1m4 0h1m-449 1h1m5 0h1m5 0h1m1 0h1m5 0h2m9 0h1m1 0h1m4 0h1m1 0h1m6 0h2m4 0h1m12 0h1m5 0h1m13 0h1m6 0h1m2 0h1m1 0h1m2 0h1m17 0h1m3 0h1m3 0h1m3 0h3m3 0h2m10 0h2m17 0h1m4 0h1m34 0h1m1 0h1m1 0h1m10 0h1m2 0h1m2 0h2m5 0h1m3 0h1m3 0h3m4 0h1m2 0h2m8 0h1m32 0h1m2 0h1m18 0h1m13 0h1m5 0h1m4 0h1m3 0h1m4 0h1m3 0h1m5 0h1m3 0h1m7 0h1m6 0h2m3 0h1m9 0h1m12 0h2m27 0h1m8 0h1m-448 1h2m1 0h1m8 0h2m4 0h1m3 0h2m1 0h1m2 0h1m3 0h1m2 0h1m5 0h1m3 0h2m7 0h1m11 0h1m14 0h1m7 0h1m4 0h1m3 0h1m6 0h1m3 0h1m3 0h2m1 0h1m1 0h1m3 0h1m10 0h1m1 0h1m1 0h1m8 0h1m2 0h1m7 0h1m9 0h1m13 0h1m31 0h1m8 0h1m6 0h1m2 0h1m9 0h1m4 0h1m3 0h2m5 0h1m2 0h1m3 0h3m12 0h1m10 0h1m33 0h1m6 0h1m2 0h1m1 0h1m4 0h1m2 0h1m6 0h2m8 0h2m8 0h1m1 0h1m4 0h1m11 0h1m1 0h2m1 0h2m8 0h1m1 0h1m9 0h1m11 0h1m3 0h1m4 0h1m-433 1h1m2 0h1m1 0h1m8 0h1m3 0h1m9 0h1m1 0h1m3 0h1m6 0h1m19 0h1m20 0h1m1 0h1m1 0h1m2 0h1m20 0h1m1 0h1m1 0h1m1 0h1m3 0h1m3 0h1m12 0h1m3 0h2m45 0h1m5 0h1m3 0h2m8 0h1m11 0h1m3 0h2m5 0h1m2 0h1m1 0h2m2 0h2m2 0h1m2 0h1m15 0h1m17 0h1m15 0h1m10 0h1m6 0h1m8 0h1m3 0h1m3 0h1m7 0h1m7 0h1m3 0h2m2 0h1m6 0h1m6 0h4m8 0h1m14 0h1m3 0h2m27 0h1m-441 1h1m3 0h1m1 0h2m3 0h2m2 0h1m2 0h1m3 0h1m5 0h1m8 0h1m3 0h1m19 0h1m5 0h1m12 0h1m4 0h1m4 0h1m5 0h1m15 0h2m11 0h1m6 0h1m7 0h1m1 0h2m1 0h1m5 0h1m13 0h1m5 0h1m24 0h1m6 0h1m1 0h1m6 0h1m1 0h1m6 0h2m5 0h1m2 0h1m2 0h1m1 0h3m2 0h2m3 0h1m5 0h1m8 0h1m11 0h1m23 0h1m10 0h1m18 0h1m10 0h1m2 0h1m1 0h1m7 0h1m5 0h1m2 0h1m4 0h1m1 0h1m16 0h1m8 0h1m3 0h1m1 0h1m1 0h1m29 0h2m3 0h1m5 0h1m7 0h1m-451 1h2m1 0h1m4 0h1m1 0h3m5 0h2m1 0h1m13 0h1m8 0h1m7 0h1m11 0h1m1 0h1m28 0h1m3 0h1m6 0h1m7 0h3m10 0h2m1 0h2m1 0h4m4 0h1m3 0h2m2 0h1m3 0h1m6 0h1m10 0h1m8 0h1m6 0h1m1 0h2m13 0h1m15 0h1m8 0h1m3 0h1m11 0h1m1 0h1m12 0h1m1 0h1m6 0h2m6 0h1m11 0h1m31 0h1m6 0h2m9 0h4m3 0h1m3 0h1m2 0h2m2 0h4m9 0h1m2 0h1m8 0h1m16 0h1m4 0h1m6 0h1m23 0h1m8 0h1m-440 1h1m5 0h2m2 0h1m3 0h1m1 0h2m17 0h2m24 0h1m1 0h1m12 0h1m7 0h1m1 0h1m12 0h2m10 0h1m2 0h1m2 0h4m1 0h1m1 0h1m1 0h1m1 0h1m3 0h1m2 0h1m2 0h1m4 0h1m3 0h1m5 0h1m5 0h3m23 0h1m1 0h1m3 0h1m3 0h1m12 0h1m12 0h1m1 0h2m1 0h1m6 0h1m2 0h2m1 0h1m1 0h1m8 0h1m10 0h1m54 0h1m8 0h1m1 0h2m4 0h1m6 0h1m1 0h1m5 0h1m2 0h2m16 0h1m2 0h1m6 0h1m6 0h1m1 0h1m5 0h1m2 0h2m32 0h1m1 0h1m2 0h1m8 0h1m-445 1h1m3 0h1m2 0h3m1 0h1m1 0h1m1 0h1m1 0h1m1 0h2m6 0h1m4 0h1m22 0h1m17 0h1m7 0h1m10 0h1m8 0h2m1 0h1m11 0h1m2 0h1m2 0h2m3 0h1m2 0h1m4 0h1m9 0h1m3 0h1m2 0h1m1 0h2m1 0h3m2 0h3m10 0h1m3 0h2m5 0h1m16 0h1m2 0h1m19 0h2m1 0h1m2 0h1m1 0h2m8 0h1m17 0h1m1 0h2m3 0h1m5 0h1m30 0h1m9 0h1m1 0h1m1 0h1m2 0h1m10 0h1m6 0h2m8 0h3m20 0h1m5 0h1m6 0h1m1 0h1m29 0h1m2 0h1m1 0h1m3 0h1m7 0h1m-440 1h1m1 0h2m1 0h1m3 0h1m8 0h1m4 0h1m1 0h1m11 0h1m12 0h1m46 0h1m14 0h1m2 0h1m2 0h2m14 0h1m1 0h1m10 0h1m6 0h1m1 0h1m2 0h1m10 0h1m1 0h1m8 0h1m10 0h1m3 0h1m8 0h1m2 0h1m6 0h1m2 0h1m2 0h1m1 0h1m1 0h2m7 0h1m6 0h1m1 0h1m4 0h1m2 0h1m2 0h1m25 0h1m9 0h1m26 0h1m15 0h1m6 0h1m1 0h1m1 0h1m1 0h4m1 0h1m10 0h2m3 0h1m9 0h1m9 0h2m5 0h2m3 0h1m8 0h1m30 0h2m3 0h1m1 0h1m-434 1h1m3 0h1m5 0h1m11 0h1m27 0h1m10 0h1m8 0h1m6 0h1m16 0h1m9 0h1m3 0h1m6 0h1m1 0h1m6 0h2m3 0h1m3 0h1m1 0h1m5 0h1m1 0h1m3 0h1m3 0h1m4 0h1m2 0h1m9 0h3m7 0h1m18 0h1m4 0h1m1 0h1m4 0h1m3 0h2m1 0h2m2 0h1m4 0h1m1 0h2m1 0h1m9 0h1m6 0h1m1 0h1m35 0h1m11 0h1m9 0h1m7 0h1m3 0h1m8 0h1m1 0h1m9 0h1m5 0h1m10 0h1m4 0h1m8 0h1m13 0h2m13 0h1m2 0h1m1 0h1m24 0h2m-447 1h1m4 0h2m2 0h1m1 0h1m7 0h1m3 0h1m6 0h2m9 0h1m48 0h1m14 0h1m13 0h1m4 0h1m2 0h1m2 0h1m11 0h1m1 0h2m3 0h1m1 0h1m2 0h1m1 0h1m7 0h2m2 0h1m3 0h1m2 0h1m5 0h1m1 0h1m1 0h1m3 0h1m20 0h1m14 0h1m2 0h1m3 0h1m1 0h2m1 0h1m6 0h1m1 0h1m11 0h2m24 0h1m7 0h1m17 0h1m29 0h1m1 0h1m2 0h1m6 0h1m13 0h1m2 0h2m19 0h1m3 0h1m1 0h1m2 0h1m6 0h1m1 0h1m1 0h1m3 0h1m8 0h1m11 0h1m2 0h1m1 0h1m4 0h1m-441 1h1m9 0h2m6 0h1m1 0h1m5 0h2m6 0h1m5 0h1m13 0h1m13 0h1m38 0h1m7 0h1m11 0h1m14 0h1m29 0h1m2 0h1m4 0h1m1 0h1m5 0h1m9 0h1m8 0h1m3 0h1m1 0h2m2 0h1m3 0h1m7 0h1m4 0h1m4 0h1m2 0h1m2 0h1m2 0h1m6 0h1m3 0h1m33 0h1m10 0h1m19 0h2m11 0h1m2 0h1m4 0h1m15 0h1m1 0h1m2 0h3m1 0h1m5 0h2m3 0h2m2 0h1m2 0h1m1 0h1m7 0h2m13 0h1m10 0h1m11 0h2m1 0h1m2 0h1m-450 1h2m10 0h1m1 0h1m6 0h1m17 0h1m12 0h1m2 0h1m26 0h1m16 0h1m3 0h1m10 0h1m21 0h2m9 0h1m5 0h2m2 0h1m2 0h1m7 0h1m2 0h1m5 0h1m3 0h1m1 0h1m1 0h1m1 0h1m1 0h1m3 0h1m8 0h2m8 0h1m1 0h1m1 0h1m2 0h1m9 0h1m15 0h4m9 0h1m8 0h1m3 0h1m53 0h1m3 0h1m12 0h1m7 0h1m8 0h1m1 0h1m1 0h1m1 0h1m7 0h4m17 0h1m5 0h1m2 0h2m1 0h1m1 0h1m3 0h1m2 0h1m4 0h1m7 0h1m5 0h1m3 0h2m-440 1h1m1 0h2m5 0h2m1 0h1m12 0h1m1 0h2m4 0h1m43 0h1m11 0h1m14 0h1m3 0h1m9 0h1m3 0h2m1 0h1m4 0h1m1 0h1m1 0h1m5 0h1m7 0h2m11 0h1m15 0h1m2 0h1m1 0h1m3 0h1m8 0h1m3 0h1m1 0h1m1 0h1m4 0h1m3 0h1m1 0h1m2 0h1m5 0h1m4 0h1m5 0h2m4 0h3m2 0h1m3 0h2m5 0h1m27 0h1m31 0h1m11 0h1m14 0h1m10 0h1m10 0h2m2 0h2m1 0h1m1 0h1m4 0h1m5 0h1m6 0h1m5 0h1m4 0h1m1 0h1m1 0h1m2 0h1m8 0h1m1 0h1m7 0h1m14 0h2m-435 1h2m2 0h1m1 0h1m4 0h1m5 0h1m5 0h1m13 0h1m66 0h1m7 0h1m10 0h2m8 0h1m9 0h1m2 0h1m1 0h1m2 0h2m2 0h2m2 0h1m3 0h1m1 0h1m1 0h1m7 0h1m12 0h1m2 0h1m3 0h1m4 0h1m2 0h1m6 0h1m6 0h4m4 0h1m8 0h1m4 0h1m3 0h2m2 0h1m15 0h1m9 0h1m7 0h1m5 0h1m4 0h1m21 0h1m4 0h1m16 0h1m6 0h1m1 0h2m2 0h1m4 0h1m1 0h1m11 0h1m3 0h2m1 0h1m4 0h1m4 0h1m3 0h1m9 0h1m1 0h1m1 0h1m21 0h1m3 0h1m1 0h1m3 0h1m-446 1h1m4 0h1m1 0h3m8 0h1m19 0h2m33 0h1m29 0h1m7 0h1m6 0h1m7 0h1m4 0h1m1 0h1m1 0h1m3 0h1m3 0h1m3 0h2m12 0h2m1 0h1m1 0h1m1 0h1m4 0h1m12 0h2m3 0h1m3 0h1m1 0h3m3 0h1m1 0h1m2 0h1m15 0h1m1 0h1m7 0h1m6 0h1m4 0h1m2 0h1m3 0h1m10 0h1m9 0h1m73 0h1m6 0h1m2 0h1m2 0h2m2 0h1m2 0h1m1 0h1m1 0h1m3 0h1m3 0h1m1 0h3m1 0h1m1 0h1m1 0h1m9 0h3m19 0h3m6 0h2m4 0h1m2 0h1m2 0h2m-442 1h2m4 0h1m3 0h1m3 0h1m4 0h2m12 0h1m34 0h1m10 0h1m19 0h1m19 0h1m2 0h1m10 0h3m14 0h1m7 0h1m3 0h1m5 0h2m1 0h1m6 0h1m3 0h1m1 0h2m2 0h1m4 0h1m6 0h1m4 0h1m8 0h1m2 0h2m1 0h1m6 0h2m6 0h1m1 0h1m1 0h1m4 0h2m3 0h1m5 0h1m19 0h1m32 0h1m34 0h1m9 0h1m8 0h1m2 0h1m7 0h1m1 0h1m5 0h1m1 0h2m1 0h1m1 0h1m3 0h4m2 0h1m4 0h2m1 0h2m1 0h1m2 0h1m10 0h2m5 0h2m8 0h1m2 0h1m1 0h1m-444 1h1m7 0h1m1 0h1m2 0h1m2 0h1m3 0h2m3 0h1m3 0h1m1 0h1m18 0h1m8 0h1m50 0h1m9 0h1m3 0h1m1 0h2m6 0h1m5 0h2m9 0h1m2 0h2m5 0h2m2 0h1m3 0h1m1 0h1m3 0h1m1 0h1m3 0h1m1 0h1m6 0h1m6 0h1m1 0h2m3 0h1m5 0h1m17 0h1m4 0h1m1 0h1m3 0h1m3 0h1m6 0h1m2 0h1m64 0h1m4 0h1m11 0h1m1 0h1m5 0h1m17 0h1m1 0h2m2 0h2m5 0h1m5 0h2m1 0h1m2 0h1m4 0h1m2 0h1m1 0h1m1 0h1m4 0h1m1 0h1m11 0h1m3 0h1m3 0h1m2 0h2m3 0h2m-438 1h1m5 0h3m2 0h1m1 0h1m5 0h1m59 0h2m19 0h1m5 0h1m20 0h1m4 0h1m2 0h1m2 0h1m2 0h1m1 0h1m11 0h1m5 0h2m1 0h1m1 0h1m2 0h1m6 0h1m8 0h1m40 0h1m2 0h1m4 0h1m1 0h1m1 0h1m5 0h1m13 0h1m28 0h1m17 0h1m26 0h1m20 0h1m6 0h1m2 0h1m4 0h2m2 0h1m7 0h1m1 0h2m2 0h1m7 0h1m7 0h1m2 0h1m1 0h1m1 0h1m4 0h1m1 0h1m16 0h1m2 0h1m2 0h1m1 0h2m-431 1h1m68 0h1m27 0h1m21 0h1m1 0h1m1 0h2m9 0h2m8 0h3m3 0h2m2 0h1m2 0h1m2 0h2m8 0h1m2 0h1m3 0h2m3 0h1m2 0h2m1 0h1m2 0h1m1 0h1m7 0h1m10 0h1m4 0h1m10 0h1m8 0h1m14 0h1m34 0h1m31 0h1m14 0h2m14 0h1m4 0h1m6 0h1m1 0h1m4 0h1m1 0h1m1 0h2m1 0h1m1 0h1m3 0h1m7 0h1m1 0h3m8 0h1m3 0h1m6 0h1m2 0h1m2 0h1m4 0h1m-438 1h1m109 0h1m16 0h1m14 0h1m8 0h1m3 0h1m1 0h1m3 0h3m4 0h1m3 0h1m5 0h1m1 0h1m1 0h1m7 0h1m1 0h1m14 0h1m4 0h1m4 0h2m1 0h1m1 0h1m1 0h1m1 0h3m7 0h1m1 0h1m8 0h1m3 0h1m81 0h1m11 0h1m17 0h1m7 0h1m2 0h1m2 0h1m9 0h1m5 0h1m4 0h2m3 0h1m2 0h3m11 0h1m6 0h1m3 0h1m1 0h2m2 0h2m6 0h2m-450 1h3m7 0h1m4 0h2m13 0h1m9 0h1m7 0h1m32 0h1m28 0h1m8 0h1m9 0h1m1 0h1m4 0h1m7 0h1m14 0h2m3 0h1m1 0h1m3 0h1m2 0h2m2 0h1m3 0h3m1 0h2m3 0h1m2 0h1m5 0h1m9 0h1m1 0h1m1 0h1m5 0h1m2 0h2m2 0h1m1 0h1m3 0h1m2 0h1m2 0h1m5 0h1m8 0h1m2 0h1m5 0h1m32 0h1m27 0h1m13 0h1m1 0h1m8 0h2m12 0h1m10 0h1m3 0h1m2 0h1m1 0h1m3 0h1m2 0h1m5 0h1m3 0h1m6 0h1m7 0h2m2 0h1m4 0h1m1 0h2m2 0h2m4 0h1m10 0h1m-447 1h1m6 0h1m3 0h1m3 0h1m1 0h1m10 0h1m10 0h1m79 0h1m3 0h1m24 0h1m3 0h1m1 0h1m3 0h3m2 0h3m2 0h1m9 0h1m3 0h1m2 0h1m1 0h1m2 0h2m10 0h1m3 0h1m6 0h1m3 0h1m4 0h1m2 0h1m1 0h1m4 0h2m3 0h1m2 0h2m15 0h1m6 0h1m17 0h1m70 0h1m14 0h1m9 0h1m6 0h1m1 0h1m6 0h1m6 0h1m1 0h1m2 0h1m3 0h1m1 0h1m2 0h2m1 0h1m3 0h1m7 0h2m18 0h1m-435 1h1m56 0h1m47 0h1m25 0h1m5 0h1m3 0h1m2 0h1m6 0h1m1 0h1m2 0h1m3 0h1m9 0h1m7 0h1m7 0h1m3 0h1m2 0h1m5 0h1m3 0h1m3 0h1m12 0h1m5 0h1m112 0h1m9 0h1m4 0h3m6 0h1m3 0h1m3 0h1m12 0h1m6 0h2m2 0h2m3 0h1m1 0h1m1 0h1m6 0h1m1 0h1m11 0h2m-429 1h1m1 0h1m7 0h1m110 0h1m8 0h1m9 0h1m3 0h1m3 0h1m1 0h1m2 0h1m3 0h1m1 0h1m3 0h1m2 0h1m5 0h3m3 0h1m22 0h1m2 0h1m8 0h1m43 0h1m75 0h1m9 0h1m12 0h1m5 0h1m17 0h1m1 0h4m6 0h1m2 0h1m1 0h2m1 0h1m2 0h1m1 0h1m7 0h1m7 0h1m4 0h2m2 0h2m3 0h1m-446 1h2m3 0h1m1 0h2m1 0h1m10 0h1m31 0h1m74 0h1m10 0h1m6 0h1m5 0h1m13 0h1m7 0h1m6 0h1m5 0h1m3 0h1m6 0h1m3 0h1m1 0h1m6 0h1m1 0h2m1 0h1m3 0h1m2 0h1m3 0h1m2 0h1m6 0h1m1 0h1m74 0h1m39 0h1m10 0h1m8 0h1m2 0h1m4 0h1m5 0h2m12 0h1m6 0h1m2 0h1m2 0h1m4 0h1m3 0h1m3 0h1m7 0h2m-437 1h1m4 0h1m20 0h1m5 0h1m52 0h1m5 0h1m12 0h1m8 0h1m24 0h1m4 0h1m1 0h2m1 0h1m10 0h1m3 0h1m1 0h1m5 0h1m1 0h2m2 0h1m11 0h1m1 0h1m9 0h1m1 0h2m2 0h1m1 0h1m3 0h1m5 0h1m4 0h2m4 0h1m7 0h1m19 0h1m74 0h1m2 0h1m4 0h1m14 0h1m5 0h2m8 0h2m4 0h1m8 0h1m1 0h3m12 0h2m3 0h1m6 0h2m5 0h2m3 0h2m11 0h1m2 0h1m-437 1h2m3 0h1m4 0h1m20 0h1m99 0h2m7 0h1m3 0h1m5 0h2m1 0h1m6 0h1m3 0h1m13 0h1m1 0h1m5 0h1m9 0h1m1 0h1m2 0h1m4 0h2m1 0h1m2 0h1m1 0h1m6 0h1m3 0h2m100 0h1m12 0h1m18 0h1m1 0h1m9 0h2m3 0h1m2 0h1m1 0h2m5 0h3m3 0h1m3 0h1m6 0h1m3 0h1m3 0h1m10 0h1m2 0h1m1 0h1m1 0h3m-441 1h2m4 0h1m90 0h1m26 0h1m14 0h1m7 0h1m1 0h1m3 0h1m3 0h1m6 0h1m5 0h1m10 0h1m3 0h1m1 0h2m16 0h1m8 0h1m12 0h1m15 0h2m1 0h1m17 0h1m4 0h1m73 0h1m5 0h1m10 0h1m2 0h1m3 0h1m6 0h1m4 0h1m10 0h1m3 0h1m2 0h1m1 0h1m3 0h2m2 0h2m2 0h2m4 0h1m1 0h1m6 0h2m1 0h1m5 0h1m3 0h1m4 0h1m-449 1h1m6 0h2m14 0h1m17 0h1m53 0h1m10 0h1m29 0h1m7 0h1m5 0h2m3 0h1m10 0h1m1 0h1m7 0h3m2 0h1m4 0h2m13 0h1m2 0h1m4 0h1m1 0h1m2 0h1m2 0h1m4 0h1m3 0h1m5 0h1m15 0h1m120 0h1m6 0h1m2 0h1m2 0h1m1 0h1m3 0h1m4 0h1m2 0h1m2 0h1m4 0h2m12 0h1m2 0h3m2 0h1m2 0h1m5 0h1m6 0h1m-441 1h1m17 0h1m38 0h1m69 0h1m4 0h1m2 0h1m10 0h1m4 0h2m3 0h3m11 0h1m17 0h2m4 0h1m1 0h2m4 0h1m3 0h1m5 0h1m3 0h1m7 0h1m3 0h1m1 0h1m51 0h1m67 0h1m18 0h1m1 0h1m8 0h1m10 0h2m3 0h3m1 0h1m8 0h1m3 0h1m7 0h2m4 0h1m1 0h2m5 0h1m3 0h1m1 0h1m-443 1h1m110 0h1m18 0h1m1 0h1m3 0h1m6 0h1m3 0h1m4 0h1m8 0h1m11 0h2m3 0h2m2 0h1m6 0h2m5 0h1m4 0h3m1 0h1m1 0h1m9 0h1m5 0h1m2 0h1m4 0h1m1 0h1m5 0h2m44 0h1m17 0h1m39 0h1m18 0h1m9 0h1m4 0h1m3 0h1m4 0h1m2 0h1m3 0h1m3 0h2m18 0h1m1 0h2m6 0h2m6 0h1m4 0h1m-445 1h1m28 0h1m85 0h1m25 0h1m16 0h1m3 0h2m4 0h1m11 0h1m2 0h1m2 0h3m1 0h1m3 0h1m5 0h1m1 0h1m10 0h1m3 0h1m1 0h1m19 0h1m9 0h1m11 0h1m16 0h1m77 0h1m21 0h1m7 0h1m2 0h1m3 0h1m5 0h1m1 0h1m1 0h1m1 0h1m3 0h1m2 0h1m5 0h1m1 0h1m2 0h1m3 0h1m3 0h1m2 0h1m8 0h1m-315 1h1m16 0h1m5 0h1m2 0h2m11 0h1m2 0h2m6 0h1m1 0h1m1 0h1m2 0h1m4 0h2m3 0h2m1 0h1m8 0h2m8 0h1m3 0h1m8 0h1m6 0h1m142 0h1m6 0h1m3 0h2m4 0h1m6 0h2m1 0h2m3 0h1m3 0h1m4 0h1m4 0h1m1 0h1m3 0h1m7 0h4m-421 1h1m44 0h1m81 0h1m13 0h1m2 0h2m5 0h1m3 0h1m1 0h1m3 0h1m8 0h1m3 0h1m6 0h1m1 0h1m1 0h1m2 0h2m7 0h1m5 0h2m125 0h1m19 0h1m20 0h1m4 0h1m1 0h1m5 0h1m3 0h1m4 0h1m4 0h2m1 0h2m2 0h1m1 0h1m1 0h1m1 0h1m7 0h1m3 0h1m-447 1h1m16 0h1m19 0h1m94 0h1m5 0h1m1 0h1m1 0h1m10 0h1m2 0h1m1 0h1m2 0h1m1 0h1m9 0h3m5 0h1m3 0h1m3 0h1m3 0h1m3 0h1m5 0h1m1 0h1m2 0h2m25 0h1m3 0h1m22 0h1m52 0h1m19 0h1m42 0h1m4 0h1m10 0h1m5 0h2m9 0h1m4 0h1m6 0h1m2 0h1m2 0h1m4 0h1m1 0h1m6 0h1m-445 1h1m13 0h1m129 0h1m4 0h2m7 0h1m19 0h1m3 0h1m15 0h2m6 0h1m4 0h3m1 0h1m156 0h1m33 0h2m4 0h1m9 0h1m3 0h1m5 0h3m2 0h5m-431 1h1m21 0h1m57 0h1m56 0h1m8 0h2m3 0h1m1 0h1m10 0h1m11 0h1m5 0h1m2 0h1m2 0h1m4 0h1m5 0h1m5 0h1m4 0h2m3 0h2m9 0h1m48 0h1m52 0h1m22 0h1m11 0h1m15 0h1m6 0h1m1 0h2m1 0h1m11 0h1m3 0h2m1 0h1m3 0h1m6 0h1m3 0h1m4 0h2m-433 1h1m38 0h1m6 0h1m61 0h1m14 0h1m15 0h1m7 0h1m6 0h2m15 0h1m7 0h1m2 0h1m19 0h1m2 0h1m4 0h1m15 0h1m15 0h1m5 0h1m84 0h1m12 0h1m2 0h1m13 0h1m14 0h1m10 0h3m3 0h3m4 0h1m2 0h1m14 0h1m3 0h1m1 0h1m1 0h1m4 0h1m-442 1h1m3 0h1m15 0h1m20 0h1m108 0h1m6 0h1m9 0h3m1 0h1m1 0h2m1 0h1m3 0h1m10 0h1m4 0h2m2 0h1m3 0h1m1 0h2m3 0h1m5 0h1m140 0h1m8 0h1m19 0h1m5 0h1m2 0h1m12 0h1m6 0h1m6 0h2m5 0h1m9 0h1m7 0h1m-451 1h1m19 0h1m120 0h1m3 0h1m14 0h1m6 0h1m9 0h1m2 0h1m5 0h1m4 0h2m5 0h1m14 0h1m1 0h1m3 0h2m154 0h1m7 0h1m13 0h2m9 0h1m8 0h1m4 0h2m6 0h1m2 0h1m9 0h1m1 0h1m1 0h1m-444 1h1m3 0h1m145 0h1m11 0h1m2 0h1m1 0h2m7 0h1m6 0h1m13 0h1m1 0h1m3 0h2m3 0h1m3 0h1m7 0h1m9 0h1m134 0h1m12 0h1m8 0h1m3 0h1m11 0h1m9 0h1m1 0h1m3 0h1m6 0h1m9 0h1m-428 1h1m128 0h1m4 0h1m10 0h1m10 0h3m2 0h1m2 0h2m1 0h1m13 0h2m1 0h1m13 0h1m24 0h1m149 0h1m10 0h1m6 0h1m4 0h1m10 0h1m1 0h2m18 0h1m5 0h1m-439 1h1m136 0h1m29 0h1m2 0h1m5 0h1m4 0h1m1 0h1m3 0h1m8 0h1m22 0h1m135 0h1m40 0h1m10 0h1m28 0h1m2 0h1m-388 1h1m88 0h1m2 0h1m21 0h1m4 0h1m10 0h1m13 0h1m12 0h1m3 0h1m6 0h1m107 0h1m24 0h1m12 0h1m9 0h1m1 0h1m5 0h1m2 0h2m9 0h1m11 0h1m-419 1h1m2 0h1m145 0h2m25 0h1m11 0h1m10 0h1m6 0h1m3 0h1m12 0h1m150 0h1m3 0h1m24 0h2m3 0h1m1 0h1m6 0h2m5 0h2m6 0h2m8 0h1m-281 1h1m10 0h1m2 0h1m18 0h1m1 0h1m2 0h2m91 0h1m71 0h1m5 0h1m10 0h1m15 0h1m12 0h1m3 0h1m2 0h2m2 0h3m23 0h1m-277 1h1m3 0h1m6 0h1m1 0h1m8 0h1m15 0h1m177 0h1m4 0h1m10 0h1m14 0h1m10 0h1m-247 1h1m5 0h2m22 0h1m155 0h1m18 0h1m26 0h1m2 0h1m15 0h2m-319 1h1m38 0h1m30 0h1m4 0h1m3 0h1m3 0h1m8 0h1m10 0h1m121 0h1m43 0h1m3 0h1m6 0h1m1 0h1m15 0h1m18 0h2m10 0h1m-287 1h1m7 0h1m12 0h1m4 0h1m20 0h1m177 0h1m1 0h1m6 0h1m12 0h1m14 0h1m4 0h2m7 0h1m-264 1h2m11 0h1m5 0h1m4 0h1m16 0h1m3 0h1m3 0h1m126 0h1m28 0h1m62 0h1m-416 1h1m94 0h1m43 0h1m9 0h1m9 0h1m4 0h1m2 0h1m37 0h1m137 0h1m17 0h1m15 0h1m4 0h1m7 0h1m1 0h1m1 0h1m-244 1h1m35 0h1m160 0h1m40 0h1m4 0h1m3 0h1m5 0h1m6 0h1m-296 1h1m22 0h1m12 0h1m33 0h1m13 0h1m13 0h1m149 0h1m20 0h1m10 0h1m12 0h1m4 0h1m-281 1h1m26 0h1m8 0h1m12 0h1m180 0h1m10 0h2m4 0h2m26 0h1m2 0h1m-309 1h1m20 0h1m20 0h1m14 0h1m4 0h1m158 0h1m57 0h1m1 0h1m7 0h1m23 0h1m-256 1h1m2 0h1m9 0h1m161 0h2m18 0h1m29 0h1m23 0h1m-335 1h1m65 0h1m8 0h1m2 0h1m2 0h1m21 0h1m45 0h1m75 0h1m67 0h1m3 0h1m3 0h1m4 0h1m19 0h1m-243 1h1m33 0h1m175 0h1m39 0h1m-414 1h1m101 0h1m30 0h1m14 0h1m3 0h1m108 0h1m132 0h1m-212 1h1m25 0h1m91 0h1m43 0h1m-370 1h1m160 0h1m64 0h1m-195 1h1m104 0h1m12 0h1m26 0h1m189 0h1m41 1h1m-230 2h1m219 0h1m-280 1h1m78 0h1m1 0h1m173 0h1m9 0h1m23 0h1m11 0h1m7 0h1m-33 1h1m-359 1h1m101 0h1m9 0h1m213 0h1m-168 1h1m183 0h1m48 0h1m-403 1h1m198 0h1m170 0h1m-280 1h1m56 1h1m229 0h1m38 0h1m-205 1h1m131 1h1m-297 1h1m249 0h1m75 0h1m-214 2h1m225 0h1m-412 1h1m413 0h1m-7 1h1m26 0h1m-273 1h1m-10 1h1m28 0h1m77 0h1m-69 1h1m-153 1h1m88 0h1m172 0h1m127 0h1m-3 2h1m-284 1h1m225 0h1m2 2h1m-385 1h1m401 0h1m-392 2h1m125 1h1m16 0h1m-94 1h1m-18 1h1m322 2h1m59 0h1m-290 1h1m118 2h1m-113 1h1m13 0h1m-116 1h1m93 0h1m-63 1h1m117 0h1m-62 1h1m-24 1h1m95 0h1m-146 2h1m172 0h1m-110 1h1m226 0h1m73 0h1m0 2h1m-381 1h1m396 0h1m4 0h1m-319 5h1m47 0h1m83 0h1m141 0h1m3 1h1m23 0h1m-427 1h1m108 0h1m55 0h1m48 0h1m119 0h1m46 1h1m-87 4h1m-123 4h1m101 2h1m-194 1h1m-30 1h1m384 0h1m-189 4h1m-194 3h1m276 4h1m-299 2h1m128 0h1m224 0h1m20 0h1m-13 1h1m-237 2h1m46 1h1m177 0h1m-304 3h1m158 1h1m118 2h1m-270 1h1m90 1h1m-64 1h1m126 0h1m-227 2h1m21 2h1m43 0h1m181 0h1m127 0h1m-405 1h1m15 1h1m94 0h1m129 0h1m31 0h1m63 0h1m-284 3h1m323 0h1"/>
<path id="g3" d="M385 75.5h1m5 0h1m-232 1h1m225 0h1m32 1h1m-214 2h1m181 0h1m-263 2h1m112 1h1m-129 1h1m380 1h1m-324 1h1m223 0h1m14 0h1m-49 1h1m25 2h1m95 0h1m-336 5h1m147 1h1m-173 1h1m22 1h1m199 0h1m35 1h1m-265 1h1m224 0h1m161 0h1m-272 2h1m225 0h1m12 3h1m-340 1h1m250 0h1m-55 1h1m-130 2h1m37 1h1m63 0h1m-102 3h1m213 0h1m-117 1h1m153 3h1m-126 1h1m-76 3h1m4 0h1m73 0h1m-156 1h1m117 0h1m-147 1h1m218 1h1m41 2h1m-288 2h1m318 0h1m27 1h1m-77 1h1m-207 1h1m-72 2h1m17 0h1m203 0h1m-225 3h1m303 0h1m27 0h1m-205 1h1m197 0h1m-130 1h1m225 0h1m-118 1h1m-29 1h1m-19 1h1m2 4h1m-175 2h1m193 1h1m-6 1h1m-160 1h1m181 0h1m-204 1h1m-103 1h1m114 0h1m46 0h1m63 0h1m126 0h1m34 0h1m-101 1h1m-208 1h1m265 0h1m-334 1h1m246 1h1m-171 2h1m53 0h1m6 0h1m-41 2h1m-93 3h1m25 0h1m11 0h1m6 0h1m8 0h1m157 0h1m-140 1h1m-34 1h1m54 0h1m242 0h1m-39 1h1m-259 1h1m97 1h1m55 0h1m68 0h1m51 1h1m9 0h1m-312 1h1m21 0h2m29 0h1m14 1h1m-82 1h1m46 0h1m4 0h1m216 0h1m3 0h1m-13 1h1m8 0h1m43 0h1m-206 1h1m142 1h1m18 0h1m-207 1h1m194 0h1m114 0h1m-372 1h1m235 0h1m13 0h1m-3 1h1m-257 1h1m29 0h1m195 0h1m-176 1h1m201 0h1m17 0h1m31 0h1m26 0h1m-318 1h1m23 0h1m14 0h1m198 0h1m105 0h1m5 0h1m-320 1h1m-29 1h1m3 0h1m3 0h1m4 0h1m26 0h1m29 0h1m148 0h1m6 0h1m27 0h1m60 0h1m-348 1h1m200 0h1m24 0h1m22 0h1m2 0h1m66 0h1m106 0h1m-379 1h1m31 0h1m16 0h1m166 0h1m17 0h1m1 0h1m20 0h1m16 0h1m-308 1h1m39 0h1m44 0h1m141 0h1m52 0h1m9 0h1m-277 1h1m5 0h1m6 0h1m21 0h1m9 0h1m224 0h1m23 0h1m-281 1h1m9 0h1m2 0h1m3 0h1m17 0h1m-61 1h1m26 0h1m3 0h1m33 0h1m1 0h1m187 0h1m2 0h2m20 0h1m4 0h1m-262 1h1m33 0h1m2 0h1m2 0h1m4 0h1m31 0h1m17 0h1m107 0h1m56 0h1m2 0h1m1 0h1m41 0h1m-309 1h1m2 0h1m6 0h1m7 0h1m11 0h1m124 0h1m70 0h1m1 0h1m6 0h1m7 0h1m12 0h1m15 0h1m-282 1h1m22 0h1m11 0h1m24 0h1m154 0h1m33 0h1m-223 1h1m2 0h1m1 0h1m1 0h1m5 0h1m6 0h1m29 0h1m135 0h1m6 0h1m21 0h1m13 0h1m-244 1h1m23 0h1m12 0h1m4 0h1m17 0h1m104 0h1m58 0h1m20 0h1m39 0h1m-300 1h1m4 0h1m4 0h1m6 0h1m24 0h1m192 0h1m7 0h1m16 0h1m13 0h1m30 0h1m-327 1h1m49 0h1m10 0h1m5 0h1m1 0h2m1 0h1m2 0h1m8 0h1m141 0h1m17 0h1m20 0h1m20 0h1m13 0h1m107 0h1m8 0h1m-394 1h1m10 0h1m8 0h1m80 0h1m119 0h1m15 0h1m5 0h1m3 0h1m2 0h1m10 0h1m3 0h1m6 0h1m6 0h2m-282 1h1m2 0h1m8 0h1m8 0h1m4 0h1m7 0h1m11 0h1m27 0h1m6 0h1m9 0h1m124 0h1m6 0h1m4 0h1m16 0h2m5 0h1m8 0h1m-306 1h1m48 0h1m16 0h1m2 0h1m3 0h1m11 0h1m1 0h1m5 0h1m1 0h1m4 0h1m14 0h1m128 0h1m26 0h2m5 0h1m2 0h1m10 0h1m1 0h1m1 0h1m23 0h1m-302 1h1m9 0h1m14 0h1m14 0h1m8 0h2m34 0h1m93 0h1m48 0h1m3 0h1m3 0h1m7 0h1m10 0h1m2 0h1m10 0h1m4 0h1m16 0h1m5 0h2m2 0h1m1 0h1m7 0h1m68 0h1m11 0h1m-364 1h1m16 0h2m3 0h2m10 0h1m16 0h1m10 0h1m150 0h1m12 0h1m2 0h1m10 0h1m1 0h1m1 0h1m7 0h1m-262 1h1m2 0h1m4 0h1m6 0h1m7 0h1m15 0h1m8 0h1m24 0h1m151 0h1m19 0h1m2 0h1m5 0h1m5 0h1m8 0h1m3 0h1m7 0h1m6 0h1m1 0h1m8 0h1m-319 1h1m9 0h1m20 0h1m13 0h1m14 0h1m1 0h1m4 0h1m7 0h2m2 0h1m1 0h1m3 0h1m4 0h1m16 0h1m43 0h1m13 0h1m68 0h1m10 0h1m4 0h2m9 0h1m21 0h1m6 0h1m3 0h1m15 0h1m11 0h1m-301 1h1m11 0h1m8 0h1m1 0h1m3 0h1m6 0h1m9 0h1m9 0h1m1 0h1m1 0h1m1 0h1m7 0h1m11 0h1m92 0h1m18 0h2m31 0h1m11 0h1m11 0h1m3 0h1m16 0h1m-286 1h1m7 0h1m1 0h1m13 0h1m2 0h1m1 0h1m15 0h4m16 0h1m4 0h1m37 0h1m11 0h1m105 0h1m13 0h1m2 0h1m1 0h1m3 0h1m4 0h2m7 0h1m8 0h1m6 0h1m49 0h1m-335 1h1m1 0h1m2 0h1m4 0h1m7 0h1m3 0h1m8 0h1m8 0h1m2 0h1m5 0h2m1 0h1m9 0h1m1 0h2m2 0h1m2 0h2m36 0h1m104 0h1m1 0h2m10 0h1m3 0h1m6 0h1m4 0h1m9 0h1m7 0h1m7 0h1m3 0h2m3 0h2m3 0h1m8 0h1m3 0h1m4 0h1m12 0h1m63 0h1m32 0h1m-417 1h1m14 0h1m4 0h1m6 0h1m3 0h1m1 0h1m2 0h1m5 0h1m21 0h1m6 0h2m9 0h2m1 0h1m145 0h1m13 0h1m8 0h1m2 0h3m12 0h2m1 0h3m18 0h1m22 0h1m14 0h2m47 0h1m-380 1h1m2 0h1m1 0h1m3 0h1m5 0h1m13 0h1m1 0h2m2 0h1m1 0h1m3 0h1m15 0h1m5 0h2m8 0h3m10 0h1m95 0h1m26 0h1m18 0h1m21 0h2m2 0h1m5 0h2m1 0h1m2 0h1m2 0h1m4 0h1m7 0h1m19 0h1m1 0h1m-317 1h1m15 0h1m21 0h2m1 0h1m13 0h1m4 0h1m14 0h1m1 0h1m1 0h1m1 0h1m21 0h1m9 0h1m93 0h1m8 0h1m23 0h1m15 0h1m1 0h1m10 0h1m5 0h1m4 0h1m1 0h2m6 0h1m1 0h1m3 0h1m4 0h1m9 0h1m7 0h1m18 0h1m1 0h2m6 0h1m-329 1h1m5 0h1m8 0h1m5 0h1m3 0h1m1 0h1m6 0h1m17 0h1m16 0h2m2 0h1m20 0h1m24 0h1m7 0h1m97 0h3m4 0h1m8 0h1m23 0h1m10 0h1m6 0h1m3 0h1m9 0h2m10 0h1m10 0h1m9 0h1m-338 1h1m9 0h1m2 0h1m11 0h1m2 0h1m3 0h1m10 0h1m1 0h1m2 0h1m6 0h1m8 0h1m5 0h2m5 0h1m7 0h1m5 0h2m4 0h1m13 0h1m97 0h1m20 0h1m3 0h1m6 0h1m8 0h1m2 0h1m16 0h3m1 0h1m5 0h1m2 0h1m4 0h1m7 0h2m19 0h1m41 0h1m6 0h1m18 0h1m23 0h1m-417 1h1m19 0h1m4 0h1m16 0h1m15 0h2m1 0h1m2 0h1m1 0h1m7 0h1m18 0h1m27 0h1m44 0h1m72 0h1m15 0h1m6 0h1m1 0h1m15 0h1m11 0h1m13 0h1m1 0h1m11 0h1m10 0h1m13 0h1m-335 1h1m7 0h1m2 0h1m9 0h1m3 0h1m6 0h1m3 0h1m2 0h2m4 0h1m2 0h2m8 0h1m1 0h1m26 0h1m5 0h1m1 0h1m120 0h1m6 0h1m13 0h1m5 0h1m1 0h2m4 0h1m11 0h1m1 0h1m3 0h1m4 0h1m5 0h1m7 0h1m5 0h1m4 0h1m30 0h1m4 0h1m-343 1h1m26 0h1m1 0h1m1 0h1m1 0h2m5 0h1m4 0h3m1 0h2m2 0h1m3 0h3m9 0h2m2 0h1m13 0h1m8 0h1m12 0h1m10 0h1m102 0h1m4 0h1m8 0h2m2 0h1m7 0h2m1 0h1m3 0h1m9 0h1m1 0h1m1 0h1m1 0h1m6 0h1m1 0h4m19 0h1m6 0h1m5 0h1m108 0h1m-421 1h2m8 0h1m1 0h1m9 0h1m4 0h1m3 0h1m10 0h3m1 0h1m1 0h2m5 0h1m2 0h2m6 0h1m3 0h1m3 0h1m7 0h1m1 0h1m14 0h1m89 0h1m4 0h1m8 0h1m30 0h1m2 0h1m6 0h2m4 0h1m5 0h1m2 0h1m5 0h2m1 0h1m1 0h1m10 0h1m2 0h1m4 0h2m3 0h1m1 0h3m1 0h2m1 0h1m10 0h1m3 0h1m2 0h1m10 0h1m75 0h1m8 0h1m-423 1h1m2 0h1m2 0h1m13 0h1m7 0h1m1 0h1m2 0h3m13 0h1m1 0h1m8 0h1m1 0h3m1 0h1m2 0h1m6 0h1m1 0h1m3 0h1m2 0h2m28 0h1m43 0h1m34 0h1m1 0h1m16 0h1m9 0h1m4 0h1m2 0h1m10 0h1m12 0h1m4 0h1m7 0h1m6 0h1m11 0h1m5 0h1m3 0h1m1 0h1m5 0h1m2 0h1m2 0h1m2 0h1m1 0h2m21 0h1m7 0h1m14 0h1m-362 1h1m7 0h2m3 0h1m4 0h1m2 0h1m1 0h2m5 0h1m8 0h1m3 0h1m6 0h2m1 0h1m7 0h1m3 0h2m4 0h2m3 0h1m1 0h3m2 0h1m1 0h1m9 0h1m1 0h1m2 0h1m58 0h1m19 0h1m2 0h1m32 0h1m2 0h1m4 0h1m10 0h1m6 0h1m4 0h2m1 0h2m1 0h1m7 0h1m24 0h1m4 0h1m1 0h1m7 0h1m7 0h2m16 0h1m23 0h1m16 0h1m44 0h1m10 0h1m-440 1h1m18 0h1m19 0h1m2 0h1m2 0h2m7 0h1m8 0h1m1 0h1m6 0h6m4 0h2m2 0h1m26 0h1m14 0h1m4 0h2m20 0h1m7 0h1m73 0h1m7 0h1m15 0h1m4 0h2m2 0h4m3 0h1m6 0h1m3 0h1m1 0h1m5 0h1m1 0h1m1 0h2m5 0h1m1 0h1m9 0h1m12 0h1m10 0h1m45 0h1m5 0h1m-382 1h1m1 0h1m1 0h1m9 0h1m10 0h1m3 0h1m12 0h1m2 0h1m4 0h1m3 0h1m18 0h1m3 0h1m6 0h1m3 0h1m1 0h1m5 0h2m4 0h1m9 0h1m3 0h1m8 0h1m27 0h1m24 0h1m28 0h1m13 0h1m5 0h1m6 0h1m1 0h2m2 0h1m9 0h1m8 0h1m6 0h1m2 0h1m9 0h2m4 0h1m1 0h1m5 0h1m9 0h1m5 0h1m10 0h2m1 0h1m2 0h1m2 0h1m5 0h2m4 0h1m2 0h1m37 0h1m20 0h1m-417 1h1m3 0h1m26 0h1m14 0h1m3 0h1m2 0h1m1 0h1m2 0h1m3 0h1m1 0h1m6 0h1m2 0h2m2 0h1m1 0h1m3 0h1m9 0h1m5 0h1m3 0h1m8 0h1m2 0h1m4 0h1m2 0h1m58 0h1m37 0h1m3 0h1m15 0h1m8 0h1m1 0h1m4 0h3m1 0h1m8 0h1m1 0h1m1 0h3m3 0h1m4 0h1m6 0h1m5 0h2m10 0h1m6 0h2m4 0h1m7 0h1m4 0h1m18 0h1m4 0h1m60 0h1m-429 1h1m9 0h1m5 0h1m4 0h1m8 0h1m3 0h1m2 0h1m3 0h3m5 0h1m3 0h1m1 0h1m3 0h2m2 0h2m5 0h2m4 0h1m9 0h1m7 0h1m2 0h1m2 0h1m3 0h1m4 0h1m10 0h1m15 0h1m1 0h1m14 0h1m4 0h2m55 0h1m19 0h1m13 0h2m6 0h1m1 0h1m2 0h2m10 0h1m2 0h1m2 0h2m1 0h2m2 0h1m2 0h2m2 0h1m2 0h1m4 0h2m2 0h1m2 0h1m4 0h3m11 0h1m5 0h1m4 0h1m1 0h1m10 0h1m4 0h1m8 0h1m7 0h1m66 0h1m-424 1h1m34 0h2m1 0h1m1 0h1m4 0h2m5 0h1m1 0h1m5 0h1m8 0h2m3 0h1m8 0h2m3 0h1m5 0h1m2 0h1m2 0h1m29 0h1m28 0h1m56 0h1m7 0h1m2 0h1m9 0h1m2 0h1m2 0h1m2 0h1m10 0h1m6 0h1m12 0h1m1 0h1m8 0h1m4 0h1m6 0h1m3 0h1m18 0h2m11 0h1m25 0h1m2 0h1m4 0h1m43 0h1m-417 1h1m2 0h1m4 0h2m4 0h2m13 0h2m13 0h1m14 0h2m7 0h1m8 0h1m1 0h1m2 0h1m1 0h1m2 0h1m1 0h1m1 0h1m7 0h1m4 0h1m3 0h1m26 0h1m59 0h1m1 0h1m35 0h1m1 0h1m3 0h1m1 0h1m4 0h1m2 0h1m5 0h2m2 0h1m5 0h1m3 0h1m1 0h1m1 0h1m11 0h1m2 0h1m4 0h1m4 0h1m6 0h2m2 0h1m3 0h2m14 0h1m4 0h3m1 0h1m92 0h1m-429 1h2m1 0h1m6 0h1m4 0h2m4 0h1m6 0h2m4 0h1m1 0h1m8 0h1m3 0h1m5 0h1m2 0h1m5 0h2m12 0h3m1 0h1m4 0h1m2 0h2m2 0h1m3 0h1m7 0h1m11 0h1m5 0h1m6 0h1m62 0h1m7 0h1m15 0h1m1 0h1m3 0h1m14 0h2m17 0h1m2 0h1m1 0h1m6 0h1m3 0h1m4 0h1m11 0h1m4 0h1m6 0h2m5 0h1m1 0h2m1 0h3m4 0h1m1 0h1m11 0h1m15 0h1m9 0h2m56 0h1m-432 1h1m13 0h1m4 0h1m2 0h2m1 0h2m14 0h2m5 0h2m1 0h1m3 0h1m2 0h1m1 0h1m1 0h2m14 0h1m1 0h1m1 0h1m5 0h2m5 0h1m2 0h4m16 0h1m7 0h1m12 0h3m38 0h1m41 0h1m1 0h1m22 0h1m2 0h3m7 0h1m7 0h1m5 0h1m4 0h1m2 0h1m4 0h3m16 0h1m1 0h1m13 0h1m9 0h1m8 0h1m5 0h1m23 0h1m-372 1h2m5 0h1m3 0h3m1 0h1m2 0h1m3 0h3m1 0h1m2 0h1m2 0h1m4 0h1m4 0h2m7 0h1m8 0h1m1 0h1m3 0h1m1 0h1m1 0h1m15 0h1m2 0h3m2 0h2m4 0h1m1 0h1m1 0h1m24 0h1m1 0h1m22 0h1m19 0h1m19 0h1m22 0h1m9 0h1m6 0h1m3 0h1m2 0h1m9 0h1m4 0h2m4 0h1m8 0h2m4 0h1m5 0h1m1 0h1m1 0h2m5 0h1m7 0h1m7 0h2m4 0h1m2 0h1m8 0h1m6 0h1m8 0h1m27 0h1m26 0h1m27 0h1m4 0h1m2 0h1m-442 1h2m4 0h1m20 0h2m1 0h2m3 0h1m7 0h1m18 0h1m2 0h1m4 0h1m7 0h2m1 0h1m1 0h2m2 0h2m7 0h2m8 0h2m6 0h1m7 0h1m2 0h2m10 0h1m7 0h1m41 0h1m44 0h1m11 0h1m4 0h1m4 0h1m5 0h1m4 0h1m1 0h1m5 0h1m1 0h1m4 0h1m4 0h1m2 0h1m3 0h2m1 0h2m4 0h2m4 0h1m1 0h1m1 0h1m5 0h1m4 0h1m11 0h1m4 0h1m2 0h1m1 0h3m5 0h1m6 0h1m2 0h1m7 0h1m52 0h1m-423 1h1m4 0h1m8 0h1m9 0h2m2 0h1m2 0h1m1 0h1m2 0h1m1 0h1m3 0h1m3 0h1m12 0h1m5 0h2m4 0h1m1 0h1m1 0h1m1 0h4m11 0h1m2 0h2m4 0h1m13 0h1m7 0h2m2 0h1m2 0h1m1 0h1m1 0h1m1 0h1m32 0h1m14 0h1m19 0h1m11 0h1m7 0h1m5 0h1m4 0h1m2 0h1m1 0h1m16 0h1m3 0h1m2 0h2m3 0h1m1 0h2m2 0h1m3 0h2m1 0h1m8 0h1m3 0h2m3 0h1m11 0h1m2 0h1m1 0h1m7 0h1m3 0h1m8 0h1m9 0h1m8 0h1m2 0h1m22 0h1m-381 1h1m2 0h1m7 0h1m8 0h2m3 0h1m3 0h1m2 0h2m2 0h1m9 0h1m1 0h2m3 0h1m6 0h1m6 0h1m2 0h2m2 0h1m4 0h1m7 0h1m2 0h1m3 0h1m8 0h2m2 0h1m1 0h1m7 0h1m2 0h1m5 0h1m3 0h2m11 0h2m18 0h1m8 0h1m26 0h1m14 0h1m4 0h1m6 0h3m6 0h1m10 0h2m4 0h2m4 0h1m1 0h1m7 0h1m7 0h1m9 0h1m2 0h1m2 0h2m15 0h1m2 0h1m2 0h1m3 0h6m8 0h1m1 0h1m3 0h1m3 0h1m1 0h1m1 0h1m11 0h1m8 0h2m6 0h1m31 0h1m-401 1h1m1 0h1m16 0h3m1 0h1m5 0h2m1 0h2m2 0h1m1 0h1m12 0h1m2 0h3m2 0h1m4 0h1m4 0h1m9 0h1m6 0h1m10 0h1m26 0h1m15 0h1m26 0h1m31 0h1m41 0h2m15 0h2m1 0h1m9 0h1m1 0h3m6 0h1m1 0h1m3 0h1m1 0h1m6 0h1m4 0h1m1 0h1m9 0h1m3 0h1m1 0h1m14 0h1m1 0h1m1 0h1m3 0h1m2 0h1m6 0h1m17 0h1m23 0h1m-405 1h1m3 0h1m11 0h1m3 0h1m3 0h1m1 0h3m1 0h1m1 0h1m15 0h1m9 0h2m4 0h1m5 0h2m1 0h1m4 0h2m5 0h1m2 0h1m1 0h3m2 0h1m3 0h1m8 0h1m2 0h1m9 0h2m2 0h1m5 0h1m3 0h2m2 0h1m8 0h1m35 0h1m9 0h1m18 0h1m14 0h1m1 0h1m4 0h2m8 0h1m17 0h1m2 0h1m2 0h1m2 0h2m2 0h1m7 0h1m2 0h1m4 0h2m1 0h1m2 0h2m3 0h2m2 0h1m2 0h1m1 0h1m2 0h1m1 0h1m6 0h2m8 0h1m1 0h2m6 0h1m11 0h1m46 0h1m30 0h1m-431 1h1m9 0h2m1 0h1m3 0h1m2 0h2m1 0h4m2 0h1m4 0h1m2 0h1m3 0h2m6 0h4m8 0h1m3 0h1m5 0h1m8 0h1m13 0h1m1 0h1m3 0h4m2 0h1m1 0h1m1 0h1m4 0h2m1 0h1m4 0h1m7 0h1m1 0h1m44 0h1m20 0h1m11 0h1m13 0h1m4 0h2m15 0h3m3 0h1m1 0h2m12 0h2m1 0h1m2 0h1m1 0h1m5 0h1m2 0h2m5 0h1m1 0h1m7 0h1m9 0h1m3 0h1m1 0h1m6 0h1m1 0h1m1 0h2m1 0h1m1 0h1m1 0h1m1 0h1m4 0h1m9 0h1m22 0h1m60 0h1m-435 1h3m3 0h1m2 0h2m4 0h1m2 0h1m3 0h1m5 0h4m1 0h1m3 0h1m7 0h1m6 0h1m10 0h2m3 0h1m7 0h2m1 0h2m1 0h1m3 0h1m1 0h4m3 0h1m2 0h4m4 0h2m8 0h1m5 0h1m20 0h2m25 0h1m6 0h1m18 0h1m5 0h1m4 0h1m2 0h1m14 0h1m1 0h1m1 0h1m7 0h1m3 0h1m9 0h1m5 0h2m1 0h1m6 0h1m3 0h1m1 0h3m12 0h2m1 0h2m12 0h1m10 0h1m9 0h1m12 0h2m2 0h1m26 0h1m25 0h1m9 0h1m-415 1h1m4 0h1m5 0h1m4 0h1m1 0h1m11 0h1m5 0h1m1 0h1m2 0h1m2 0h2m9 0h1m3 0h1m1 0h1m3 0h1m4 0h1m9 0h1m7 0h4m5 0h2m3 0h1m9 0h1m1 0h1m1 0h1m4 0h1m20 0h1m6 0h1m2 0h1m24 0h1m3 0h1m47 0h2m4 0h1m5 0h2m1 0h1m1 0h2m9 0h1m2 0h2m6 0h1m5 0h1m8 0h1m7 0h1m1 0h1m1 0h1m3 0h1m7 0h2m1 0h2m1 0h1m9 0h1m19 0h1m3 0h2m8 0h1m2 0h1m2 0h1m10 0h1m8 0h1m22 0h1m27 0h1m-438 1h1m16 0h1m10 0h1m5 0h1m8 0h1m1 0h1m5 0h1m10 0h1m4 0h2m7 0h2m12 0h1m10 0h1m2 0h2m3 0h1m3 0h1m11 0h2m2 0h1m5 0h1m3 0h1m3 0h1m1 0h1m1 0h1m25 0h1m20 0h1m3 0h1m6 0h1m3 0h1m1 0h1m15 0h1m1 0h1m1 0h1m1 0h1m6 0h1m15 0h1m2 0h1m7 0h1m1 0h1m5 0h1m4 0h1m3 0h2m7 0h1m6 0h3m1 0h3m8 0h1m3 0h1m1 0h1m5 0h1m5 0h1m1 0h1m8 0h1m11 0h2m2 0h1m12 0h1m2 0h1m31 0h1m6 0h1m5 0h1m11 0h1m2 0h1m-439 1h1m6 0h1m6 0h2m2 0h1m1 0h1m1 0h1m1 0h1m6 0h2m3 0h2m2 0h1m1 0h1m8 0h1m4 0h1m3 0h1m17 0h2m2 0h1m4 0h2m2 0h1m7 0h1m17 0h1m5 0h1m7 0h1m5 0h1m15 0h1m3 0h2m19 0h1m31 0h1m1 0h1m11 0h3m5 0h1m1 0h2m9 0h4m2 0h3m3 0h1m5 0h1m2 0h1m1 0h1m2 0h1m5 0h1m2 0h1m7 0h1m9 0h1m2 0h2m2 0h2m2 0h1m2 0h1m4 0h1m2 0h1m2 0h1m2 0h1m2 0h1m6 0h1m10 0h2m4 0h2m33 0h1m35 0h1m13 0h1m8 0h1m-449 1h2m3 0h2m7 0h1m4 0h1m2 0h1m4 0h2m1 0h1m7 0h1m8 0h1m3 0h1m15 0h1m14 0h1m7 0h1m5 0h3m19 0h2m9 0h2m1 0h1m5 0h2m3 0h1m3 0h1m8 0h1m44 0h1m16 0h1m1 0h1m3 0h1m7 0h1m6 0h1m5 0h1m1 0h1m4 0h2m1 0h1m2 0h3m1 0h1m1 0h1m1 0h5m3 0h1m17 0h2m4 0h2m1 0h1m13 0h1m9 0h1m3 0h1m22 0h2m10 0h1m11 0h1m13 0h1m7 0h1m1 0h1m31 0h1m11 0h1m1 0h1m-447 1h1m4 0h3m5 0h1m3 0h1m21 0h1m7 0h1m2 0h1m6 0h1m10 0h1m1 0h1m2 0h2m2 0h1m8 0h1m2 0h1m1 0h1m2 0h1m2 0h2m6 0h1m4 0h2m1 0h1m2 0h1m1 0h1m2 0h2m2 0h1m1 0h1m2 0h1m11 0h1m1 0h1m2 0h1m5 0h1m2 0h1m2 0h1m13 0h1m37 0h1m10 0h1m2 0h1m2 0h1m2 0h4m3 0h2m1 0h2m1 0h2m16 0h2m5 0h1m2 0h1m2 0h1m12 0h1m10 0h2m14 0h1m5 0h1m6 0h1m3 0h2m4 0h1m5 0h1m7 0h2m11 0h1m4 0h1m11 0h2m26 0h1m4 0h1m17 0h1m-430 1h1m7 0h1m2 0h1m4 0h1m3 0h1m2 0h1m1 0h1m8 0h1m44 0h1m5 0h1m3 0h2m6 0h2m1 0h1m3 0h2m4 0h2m6 0h1m1 0h1m1 0h1m1 0h2m7 0h2m10 0h1m20 0h1m14 0h1m27 0h1m36 0h1m2 0h3m3 0h1m3 0h1m8 0h1m10 0h1m6 0h1m1 0h1m1 0h1m9 0h2m9 0h1m4 0h1m9 0h1m9 0h1m10 0h1m1 0h1m1 0h1m1 0h3m4 0h1m5 0h1m9 0h1m3 0h1m5 0h1m10 0h1m4 0h1m13 0h1m23 0h1m-446 1h1m5 0h1m7 0h2m1 0h3m4 0h1m6 0h1m6 0h2m2 0h4m9 0h1m7 0h1m7 0h1m13 0h1m10 0h1m11 0h2m1 0h1m1 0h1m3 0h1m1 0h1m2 0h1m5 0h1m1 0h1m2 0h1m3 0h1m3 0h1m11 0h1m3 0h1m30 0h1m21 0h1m15 0h1m5 0h1m4 0h1m3 0h2m2 0h1m8 0h1m4 0h3m6 0h1m4 0h1m3 0h1m5 0h1m4 0h2m8 0h1m15 0h1m1 0h1m12 0h2m4 0h1m2 0h1m1 0h1m2 0h6m4 0h1m11 0h1m3 0h2m2 0h1m4 0h1m4 0h1m40 0h1m24 0h1m-449 1h1m11 0h1m1 0h1m2 0h2m4 0h1m2 0h1m5 0h1m8 0h3m2 0h1m4 0h1m21 0h1m21 0h2m1 0h2m2 0h1m1 0h1m2 0h1m4 0h1m16 0h1m2 0h1m3 0h1m9 0h4m1 0h1m5 0h2m9 0h1m23 0h2m1 0h1m6 0h1m5 0h1m1 0h1m1 0h2m3 0h2m3 0h1m3 0h1m2 0h1m2 0h1m3 0h1m9 0h1m1 0h1m1 0h3m15 0h1m2 0h1m5 0h1m23 0h1m1 0h1m5 0h1m2 0h1m3 0h1m3 0h1m3 0h1m5 0h1m3 0h1m3 0h1m1 0h1m13 0h1m9 0h1m1 0h1m10 0h1m9 0h1m6 0h1m4 0h1m1 0h1m6 0h1m12 0h1m13 0h2m1 0h1m6 0h1m-437 1h1m11 0h2m2 0h1m1 0h1m3 0h1m1 0h1m12 0h1m8 0h1m3 0h1m2 0h3m2 0h1m1 0h1m21 0h2m1 0h1m3 0h1m17 0h2m13 0h1m1 0h1m4 0h1m4 0h1m1 0h1m12 0h1m7 0h2m7 0h1m5 0h1m17 0h1m5 0h1m4 0h1m10 0h1m2 0h1m3 0h1m7 0h1m10 0h1m4 0h1m11 0h1m2 0h1m3 0h2m10 0h1m1 0h1m2 0h1m4 0h1m26 0h1m5 0h1m10 0h2m5 0h2m1 0h2m1 0h1m11 0h1m5 0h1m26 0h1m1 0h1m7 0h1m1 0h1m8 0h2m24 0h1m-429 1h1m1 0h3m2 0h1m2 0h1m1 0h1m2 0h3m5 0h1m6 0h1m1 0h1m2 0h1m28 0h1m17 0h2m9 0h1m7 0h1m2 0h1m11 0h1m6 0h3m2 0h1m1 0h2m11 0h1m6 0h1m13 0h1m18 0h1m10 0h1m7 0h1m4 0h1m3 0h1m9 0h1m9 0h2m1 0h1m7 0h1m4 0h2m1 0h1m7 0h1m3 0h1m2 0h1m14 0h2m2 0h1m9 0h1m3 0h1m1 0h1m5 0h1m2 0h1m4 0h1m12 0h1m2 0h2m5 0h1m5 0h1m4 0h2m4 0h1m10 0h1m19 0h1m31 0h1m7 0h1m4 0h1m-445 1h1m4 0h1m1 0h1m1 0h1m5 0h1m7 0h2m1 0h1m14 0h1m34 0h1m12 0h1m8 0h1m3 0h1m5 0h1m3 0h1m4 0h1m2 0h1m9 0h3m1 0h1m18 0h1m1 0h1m1 0h1m7 0h1m23 0h2m1 0h1m1 0h2m2 0h2m1 0h2m7 0h1m1 0h2m1 0h1m5 0h1m2 0h1m7 0h2m4 0h1m2 0h1m4 0h2m1 0h1m3 0h1m2 0h1m11 0h1m16 0h1m5 0h1m20 0h1m1 0h1m10 0h3m3 0h1m11 0h1m3 0h1m6 0h2m1 0h1m1 0h2m4 0h1m2 0h1m13 0h1m38 0h2m4 0h1m17 0h1m-445 1h1m8 0h1m10 0h1m6 0h1m4 0h2m25 0h1m4 0h1m8 0h1m6 0h1m10 0h1m15 0h1m3 0h3m2 0h2m3 0h1m1 0h1m1 0h1m1 0h1m1 0h1m1 0h3m2 0h2m4 0h2m8 0h1m2 0h1m1 0h1m12 0h1m1 0h1m9 0h1m16 0h1m1 0h1m22 0h1m1 0h1m8 0h1m6 0h1m9 0h1m4 0h4m8 0h1m3 0h1m32 0h1m11 0h2m8 0h1m2 0h1m2 0h1m11 0h1m2 0h1m2 0h1m2 0h1m1 0h1m1 0h1m2 0h3m3 0h2m20 0h1m2 0h1m2 0h1m1 0h1m3 0h1m6 0h1m19 0h1m4 0h1m6 0h2m2 0h1m2 0h1m-444 1h2m6 0h1m4 0h2m2 0h1m4 0h1m7 0h1m3 0h2m1 0h1m8 0h1m31 0h1m21 0h1m4 0h2m1 0h1m7 0h1m3 0h1m1 0h1m4 0h3m3 0h2m2 0h1m15 0h1m5 0h1m3 0h1m24 0h1m2 0h1m2 0h1m22 0h1m3 0h1m1 0h1m2 0h2m10 0h2m6 0h1m10 0h1m1 0h1m12 0h1m3 0h1m3 0h1m26 0h1m6 0h2m2 0h1m5 0h2m1 0h1m6 0h3m6 0h2m11 0h3m8 0h1m6 0h1m3 0h2m6 0h1m9 0h2m10 0h1m10 0h1m3 0h1m7 0h1m2 0h1m-439 1h3m6 0h2m3 0h2m10 0h1m4 0h1m4 0h1m3 0h1m6 0h1m1 0h1m1 0h1m3 0h1m7 0h1m14 0h1m2 0h1m23 0h1m9 0h1m2 0h2m5 0h1m5 0h1m3 0h1m5 0h1m11 0h3m3 0h1m9 0h1m7 0h1m2 0h1m6 0h1m13 0h1m4 0h1m1 0h1m3 0h1m2 0h1m4 0h2m7 0h1m7 0h1m7 0h1m6 0h1m2 0h3m3 0h1m1 0h1m2 0h1m1 0h1m4 0h1m20 0h1m8 0h1m13 0h1m5 0h1m4 0h1m4 0h2m10 0h1m5 0h1m4 0h2m1 0h2m2 0h1m7 0h1m2 0h1m4 0h4m10 0h1m6 0h1m4 0h1m7 0h1m1 0h1m5 0h1m11 0h1m2 0h2m1 0h1m3 0h1m2 0h1m-444 1h1m4 0h1m1 0h1m7 0h1m6 0h2m22 0h1m16 0h1m16 0h2m13 0h2m1 0h1m6 0h2m4 0h1m2 0h1m3 0h1m2 0h1m4 0h1m1 0h1m3 0h1m3 0h1m3 0h2m16 0h1m2 0h1m6 0h1m4 0h1m8 0h1m9 0h1m24 0h1m4 0h1m2 0h1m2 0h1m1 0h1m2 0h1m3 0h2m5 0h1m11 0h1m1 0h1m2 0h1m4 0h1m5 0h1m8 0h1m23 0h1m5 0h1m3 0h1m5 0h1m9 0h1m1 0h2m2 0h1m4 0h1m1 0h1m1 0h1m15 0h1m7 0h1m3 0h1m8 0h1m2 0h2m13 0h2m4 0h2m7 0h1m7 0h1m1 0h1m1 0h1m13 0h1m-446 1h1m3 0h2m2 0h2m3 0h1m3 0h1m7 0h1m1 0h1m2 0h1m1 0h2m5 0h3m39 0h1m8 0h1m9 0h1m1 0h1m3 0h1m7 0h1m4 0h1m8 0h1m13 0h1m7 0h1m19 0h1m2 0h3m7 0h1m2 0h1m10 0h1m1 0h2m1 0h1m7 0h1m3 0h1m1 0h1m2 0h1m5 0h3m2 0h2m1 0h1m3 0h1m4 0h1m2 0h1m1 0h2m1 0h1m1 0h1m2 0h1m8 0h1m5 0h1m13 0h1m7 0h1m10 0h1m4 0h1m2 0h1m1 0h1m23 0h2m6 0h1m1 0h1m1 0h1m2 0h1m3 0h1m2 0h1m6 0h1m1 0h1m4 0h1m11 0h1m5 0h1m19 0h1m13 0h2m10 0h1m4 0h1m4 0h1m-448 1h1m2 0h1m3 0h2m4 0h1m1 0h1m1 0h3m5 0h2m5 0h1m14 0h1m3 0h3m44 0h1m1 0h1m3 0h1m9 0h1m4 0h1m4 0h1m4 0h2m4 0h1m10 0h1m12 0h1m2 0h1m7 0h1m21 0h1m15 0h4m1 0h2m4 0h1m9 0h3m6 0h1m4 0h2m28 0h1m1 0h1m3 0h1m7 0h2m2 0h1m25 0h1m5 0h1m4 0h1m10 0h1m6 0h1m7 0h1m1 0h1m4 0h1m1 0h1m8 0h1m17 0h1m1 0h1m2 0h1m18 0h1m17 0h1m12 0h1m-443 1h2m2 0h1m2 0h2m7 0h1m3 0h2m6 0h1m8 0h1m2 0h1m9 0h1m27 0h1m2 0h1m4 0h1m3 0h1m4 0h1m12 0h1m1 0h2m1 0h1m1 0h1m2 0h1m10 0h1m7 0h1m1 0h2m5 0h1m9 0h1m1 0h1m2 0h1m3 0h1m1 0h1m2 0h1m4 0h1m21 0h2m12 0h2m4 0h1m12 0h1m2 0h2m2 0h1m2 0h1m1 0h1m4 0h1m50 0h1m4 0h1m8 0h1m1 0h1m3 0h1m7 0h1m6 0h1m6 0h2m1 0h1m1 0h1m2 0h1m1 0h1m3 0h2m2 0h1m3 0h1m5 0h1m1 0h3m7 0h1m1 0h1m2 0h1m3 0h2m1 0h2m9 0h1m1 0h1m13 0h2m2 0h1m15 0h1m1 0h2m-447 1h1m5 0h2m6 0h1m1 0h1m1 0h1m3 0h1m23 0h1m19 0h1m16 0h1m9 0h1m13 0h1m6 0h1m1 0h1m2 0h1m3 0h3m1 0h1m5 0h1m12 0h1m5 0h1m8 0h3m7 0h1m12 0h2m4 0h1m5 0h1m12 0h1m8 0h1m1 0h2m2 0h3m4 0h2m2 0h1m5 0h1m6 0h1m32 0h1m17 0h1m23 0h1m13 0h3m4 0h1m7 0h1m3 0h1m6 0h1m15 0h1m3 0h1m2 0h1m4 0h1m4 0h1m10 0h3m1 0h1m1 0h1m1 0h1m5 0h1m3 0h2m2 0h2m5 0h1m8 0h1m2 0h1m-448 1h1m31 0h1m1 0h1m14 0h1m34 0h1m11 0h1m6 0h2m8 0h2m2 0h1m2 0h1m1 0h1m3 0h1m1 0h1m1 0h2m4 0h1m1 0h1m9 0h2m1 0h1m2 0h2m10 0h1m1 0h2m4 0h1m8 0h1m2 0h1m4 0h2m13 0h1m3 0h1m12 0h1m3 0h1m11 0h1m1 0h1m5 0h1m4 0h1m34 0h1m12 0h1m31 0h1m4 0h1m1 0h1m9 0h1m1 0h1m3 0h2m1 0h6m7 0h1m2 0h1m3 0h1m1 0h1m2 0h1m3 0h1m3 0h1m23 0h1m13 0h1m5 0h2m10 0h1m-450 1h2m6 0h1m9 0h2m1 0h2m11 0h1m3 0h1m11 0h1m17 0h1m57 0h1m12 0h1m1 0h1m5 0h1m4 0h2m2 0h2m11 0h1m26 0h1m23 0h1m5 0h1m1 0h1m4 0h1m4 0h1m1 0h1m4 0h2m14 0h1m1 0h1m17 0h1m12 0h2m10 0h1m9 0h1m35 0h1m1 0h1m2 0h1m9 0h2m3 0h1m4 0h1m1 0h1m13 0h2m1 0h1m14 0h1m2 0h3m2 0h1m14 0h1m1 0h1m8 0h3m1 0h1m-444 1h1m2 0h1m7 0h2m6 0h1m2 0h1m5 0h2m9 0h1m11 0h1m17 0h1m29 0h1m19 0h1m1 0h1m4 0h1m2 0h2m1 0h1m5 0h1m2 0h2m3 0h2m1 0h1m1 0h3m2 0h2m4 0h1m3 0h1m15 0h1m30 0h1m12 0h2m16 0h1m2 0h1m2 0h1m4 0h1m3 0h2m5 0h1m51 0h1m10 0h1m10 0h2m8 0h2m2 0h1m9 0h1m2 0h2m3 0h1m2 0h1m5 0h1m2 0h1m15 0h1m3 0h1m6 0h1m8 0h1m1 0h3m8 0h1m3 0h1m3 0h2m-450 1h1m18 0h2m8 0h1m3 0h1m2 0h2m28 0h1m2 0h1m24 0h1m9 0h2m3 0h2m5 0h1m20 0h2m1 0h1m1 0h1m1 0h1m2 0h3m1 0h1m2 0h1m3 0h1m4 0h1m1 0h1m10 0h2m2 0h2m2 0h1m10 0h1m18 0h1m1 0h2m2 0h1m9 0h1m3 0h1m3 0h1m1 0h1m1 0h1m9 0h1m2 0h1m21 0h2m2 0h1m25 0h1m22 0h1m5 0h1m1 0h1m27 0h1m7 0h1m1 0h1m4 0h1m2 0h1m4 0h1m1 0h1m9 0h2m2 0h1m2 0h1m9 0h1m6 0h1m16 0h2m-442 1h1m5 0h2m4 0h2m5 0h1m1 0h1m6 0h1m25 0h1m11 0h1m12 0h1m40 0h1m1 0h2m2 0h1m11 0h1m4 0h1m3 0h1m6 0h1m3 0h4m8 0h1m3 0h1m11 0h1m12 0h1m1 0h2m6 0h1m6 0h1m1 0h1m3 0h1m1 0h1m8 0h1m8 0h1m5 0h1m21 0h1m21 0h1m8 0h1m2 0h1m21 0h1m7 0h1m1 0h1m7 0h1m3 0h1m1 0h1m6 0h1m2 0h1m4 0h1m1 0h1m1 0h1m2 0h1m7 0h3m3 0h1m6 0h1m2 0h1m6 0h2m4 0h2m3 0h1m7 0h1m1 0h1m3 0h1m3 0h1m2 0h1m1 0h1m9 0h1m-445 1h1m5 0h1m13 0h1m1 0h1m8 0h1m41 0h1m50 0h1m1 0h1m1 0h1m1 0h1m13 0h1m5 0h1m2 0h1m7 0h1m9 0h1m8 0h1m5 0h1m1 0h1m7 0h1m2 0h1m4 0h1m1 0h1m2 0h1m3 0h1m1 0h1m2 0h1m1 0h1m12 0h1m10 0h1m1 0h2m6 0h1m4 0h1m45 0h1m30 0h1m17 0h1m2 0h1m5 0h1m5 0h2m3 0h2m4 0h1m9 0h1m4 0h2m2 0h1m1 0h1m8 0h1m13 0h1m5 0h2m9 0h1m-444 1h1m1 0h2m1 0h1m1 0h1m16 0h2m71 0h1m3 0h1m6 0h1m2 0h1m10 0h1m7 0h1m2 0h1m1 0h1m13 0h1m2 0h1m1 0h4m7 0h2m7 0h1m4 0h1m3 0h1m5 0h1m8 0h1m2 0h1m1 0h1m5 0h2m4 0h2m1 0h1m8 0h1m1 0h2m2 0h2m4 0h1m13 0h1m7 0h1m52 0h1m11 0h1m19 0h1m7 0h1m11 0h1m2 0h1m2 0h1m5 0h1m1 0h1m2 0h2m1 0h1m2 0h2m4 0h1m9 0h1m2 0h1m8 0h1m2 0h1m5 0h1m10 0h1m-438 1h1m3 0h1m7 0h1m16 0h1m1 0h1m20 0h1m43 0h1m10 0h1m1 0h1m16 0h1m5 0h3m2 0h1m5 0h3m2 0h2m7 0h1m3 0h1m6 0h1m4 0h1m5 0h1m4 0h2m2 0h1m2 0h1m7 0h1m5 0h1m2 0h1m6 0h1m4 0h2m13 0h1m1 0h1m15 0h1m68 0h1m22 0h1m12 0h1m7 0h1m9 0h1m3 0h1m3 0h1m10 0h1m8 0h1m22 0h1m5 0h1m2 0h1m3 0h2m1 0h1m1 0h1m1 0h1m-443 1h2m3 0h2m7 0h1m13 0h1m7 0h1m51 0h2m43 0h2m2 0h1m1 0h2m13 0h1m3 0h1m1 0h1m2 0h1m3 0h1m1 0h2m1 0h1m2 0h1m1 0h1m11 0h1m2 0h3m6 0h1m5 0h1m3 0h1m3 0h1m7 0h1m2 0h1m4 0h1m1 0h1m6 0h2m7 0h1m61 0h1m31 0h3m3 0h1m1 0h1m1 0h2m5 0h1m15 0h2m6 0h1m3 0h1m4 0h2m6 0h1m2 0h1m5 0h1m2 0h1m10 0h1m8 0h1m4 0h1m1 0h1m-445 1h2m1 0h3m1 0h2m4 0h1m8 0h1m60 0h1m14 0h1m19 0h1m5 0h2m1 0h1m8 0h1m2 0h1m4 0h1m9 0h1m5 0h1m2 0h1m2 0h1m1 0h1m13 0h4m3 0h1m6 0h1m2 0h1m7 0h1m15 0h3m1 0h1m3 0h1m1 0h1m4 0h1m7 0h1m14 0h2m5 0h1m39 0h1m15 0h1m12 0h1m21 0h1m2 0h1m3 0h1m20 0h2m9 0h1m10 0h2m3 0h1m2 0h1m1 0h1m4 0h1m1 0h1m6 0h2m1 0h1m3 0h1m1 0h1m-446 1h1m1 0h1m2 0h1m3 0h1m8 0h2m2 0h1m21 0h1m11 0h1m32 0h1m25 0h1m6 0h1m8 0h1m3 0h1m8 0h1m3 0h1m3 0h1m6 0h1m1 0h1m2 0h3m4 0h1m1 0h1m2 0h1m4 0h1m6 0h1m1 0h1m1 0h1m1 0h1m14 0h1m3 0h2m3 0h1m11 0h1m2 0h2m1 0h2m10 0h1m23 0h1m8 0h1m29 0h1m2 0h1m4 0h1m11 0h1m12 0h1m3 0h3m5 0h1m3 0h1m3 0h1m1 0h1m5 0h1m1 0h1m6 0h1m3 0h1m2 0h3m1 0h1m8 0h1m8 0h1m10 0h1m4 0h1m1 0h1m1 0h1m1 0h1m4 0h2m1 0h1m3 0h1m-445 1h2m1 0h1m6 0h1m1 0h1m2 0h4m5 0h1m101 0h1m6 0h1m11 0h2m3 0h1m9 0h1m3 0h1m3 0h1m1 0h1m3 0h1m3 0h1m6 0h2m6 0h2m9 0h1m2 0h1m5 0h2m1 0h1m4 0h1m7 0h1m5 0h1m2 0h1m56 0h1m3 0h1m16 0h1m29 0h1m3 0h1m9 0h1m10 0h1m3 0h2m5 0h1m4 0h1m1 0h3m3 0h1m17 0h1m7 0h1m3 0h1m8 0h2m3 0h1m5 0h4m-445 1h1m4 0h1m2 0h1m7 0h1m75 0h1m16 0h1m1 0h1m7 0h2m9 0h1m21 0h1m11 0h1m2 0h1m4 0h1m3 0h1m3 0h2m11 0h1m1 0h2m2 0h2m2 0h1m10 0h2m6 0h1m18 0h1m2 0h1m1 0h1m43 0h1m10 0h1m28 0h1m4 0h1m21 0h1m5 0h1m3 0h3m15 0h1m1 0h2m4 0h1m9 0h1m3 0h1m3 0h1m2 0h1m1 0h1m1 0h1m2 0h2m6 0h1m3 0h1m-432 1h1m3 0h1m2 0h1m2 0h2m7 0h1m5 0h1m5 0h1m30 0h1m12 0h1m33 0h1m7 0h1m22 0h1m3 0h1m2 0h1m1 0h1m3 0h1m6 0h2m3 0h1m1 0h2m2 0h1m6 0h1m1 0h1m4 0h2m2 0h1m1 0h1m2 0h1m3 0h1m8 0h1m8 0h1m2 0h1m1 0h1m4 0h1m1 0h2m3 0h1m1 0h1m9 0h1m16 0h1m5 0h1m61 0h1m11 0h1m8 0h1m8 0h1m3 0h1m1 0h1m8 0h1m1 0h1m3 0h1m5 0h1m8 0h1m4 0h1m1 0h1m1 0h1m11 0h1m2 0h1m1 0h5m1 0h1m1 0h1m10 0h1m-446 1h2m2 0h2m4 0h1m19 0h1m5 0h1m41 0h1m22 0h1m39 0h2m4 0h1m1 0h2m5 0h1m1 0h1m3 0h1m4 0h1m1 0h1m6 0h1m2 0h2m3 0h1m12 0h1m3 0h1m1 0h1m10 0h1m4 0h1m11 0h1m3 0h1m2 0h1m1 0h1m1 0h1m8 0h1m29 0h1m79 0h1m5 0h1m8 0h1m1 0h1m3 0h1m4 0h1m3 0h1m2 0h2m3 0h1m1 0h1m21 0h1m1 0h1m2 0h1m7 0h1m4 0h2m2 0h1m-421 1h1m19 0h1m90 0h1m5 0h1m1 0h1m1 0h1m6 0h1m3 0h2m5 0h1m2 0h1m8 0h1m6 0h1m5 0h2m11 0h2m6 0h1m5 0h1m5 0h1m8 0h1m4 0h1m122 0h1m7 0h1m12 0h1m2 0h1m1 0h1m4 0h1m4 0h1m7 0h1m5 0h1m8 0h2m5 0h1m1 0h1m2 0h1m3 0h2m3 0h1m-443 1h2m1 0h1m2 0h1m8 0h1m5 0h1m1 0h1m38 0h1m70 0h1m10 0h1m3 0h1m7 0h1m2 0h1m10 0h2m6 0h1m12 0h5m5 0h1m1 0h1m5 0h1m4 0h1m3 0h1m1 0h1m1 0h1m1 0h2m1 0h2m1 0h1m1 0h1m7 0h2m5 0h2m75 0h1m4 0h1m39 0h2m12 0h1m6 0h1m1 0h1m2 0h3m12 0h2m1 0h1m1 0h1m2 0h1m1 0h1m5 0h1m4 0h1m2 0h1m2 0h1m1 0h2m1 0h4m3 0h1m-345 1h1m30 0h1m5 0h1m5 0h1m1 0h1m2 0h2m10 0h1m5 0h1m2 0h1m1 0h1m4 0h1m6 0h1m1 0h1m10 0h2m1 0h1m1 0h1m3 0h4m9 0h1m9 0h1m16 0h1m15 0h1m67 0h1m27 0h1m14 0h1m9 0h1m1 0h2m4 0h1m10 0h2m1 0h2m4 0h1m1 0h1m7 0h3m1 0h3m6 0h2m3 0h1m-440 1h1m5 0h1m3 0h1m3 0h1m1 0h1m33 0h1m33 0h1m1 0h1m34 0h1m4 0h1m7 0h1m13 0h1m24 0h1m11 0h1m4 0h1m7 0h1m10 0h1m5 0h1m4 0h1m2 0h3m6 0h1m1 0h1m1 0h1m2 0h2m102 0h1m3 0h1m22 0h1m1 0h1m1 0h1m5 0h1m1 0h1m4 0h1m3 0h1m2 0h2m6 0h1m16 0h1m3 0h1m3 0h1m4 0h1m2 0h1m6 0h2m-422 1h1m93 0h1m26 0h1m14 0h1m2 0h2m3 0h1m1 0h1m2 0h2m4 0h1m2 0h1m9 0h1m1 0h1m6 0h1m14 0h1m14 0h1m4 0h1m23 0h1m93 0h1m8 0h1m19 0h1m5 0h2m4 0h2m3 0h2m1 0h1m6 0h1m3 0h1m4 0h4m3 0h1m5 0h3m4 0h1m5 0h1m-439 1h2m3 0h1m9 0h1m2 0h1m79 0h1m15 0h1m4 0h1m14 0h1m11 0h1m3 0h1m1 0h1m3 0h1m3 0h1m6 0h2m2 0h1m8 0h1m4 0h3m3 0h1m15 0h1m1 0h1m2 0h1m6 0h1m120 0h1m23 0h2m5 0h2m1 0h1m5 0h2m3 0h1m7 0h2m1 0h1m8 0h1m5 0h2m9 0h1m8 0h1m1 0h1m1 0h1m-438 1h1m4 0h1m6 0h1m71 0h1m22 0h1m10 0h1m3 0h1m28 0h1m11 0h1m2 0h1m3 0h1m12 0h1m4 0h1m2 0h1m1 0h1m6 0h1m3 0h1m25 0h2m13 0h1m63 0h1m37 0h1m14 0h1m5 0h1m6 0h1m2 0h1m4 0h1m8 0h1m2 0h1m4 0h2m3 0h4m7 0h2m1 0h2m3 0h2m3 0h1m11 0h1m-446 1h1m2 0h1m2 0h1m9 0h1m13 0h1m29 0h1m61 0h1m11 0h1m7 0h1m4 0h1m17 0h1m6 0h1m1 0h1m4 0h1m1 0h1m11 0h1m2 0h1m6 0h1m3 0h1m6 0h1m11 0h1m4 0h1m32 0h1m3 0h1m91 0h1m1 0h1m4 0h1m5 0h1m11 0h1m1 0h2m3 0h1m2 0h1m5 0h2m1 0h1m3 0h1m3 0h1m3 0h1m1 0h1m1 0h1m1 0h1m5 0h1m5 0h1m1 0h1m-436 1h1m31 0h1m94 0h1m11 0h1m4 0h1m10 0h1m6 0h1m8 0h1m3 0h1m1 0h3m1 0h1m3 0h1m1 0h1m2 0h2m1 0h1m11 0h2m1 0h1m4 0h1m1 0h1m4 0h1m12 0h1m128 0h1m9 0h1m8 0h1m2 0h1m4 0h1m9 0h1m6 0h2m3 0h1m4 0h1m6 0h1m7 0h1m2 0h1m-438 1h1m4 0h1m11 0h1m6 0h2m109 0h1m6 0h2m7 0h1m2 0h1m7 0h1m2 0h1m4 0h1m6 0h2m1 0h1m2 0h1m4 0h2m3 0h1m13 0h1m3 0h1m2 0h1m27 0h1m5 0h1m1 0h1m72 0h1m43 0h1m11 0h1m2 0h1m6 0h1m6 0h1m5 0h1m2 0h2m7 0h1m11 0h1m2 0h1m2 0h1m4 0h1m1 0h1m2 0h1m-435 1h1m10 0h1m76 0h1m37 0h1m1 0h1m2 0h1m2 0h1m1 0h1m1 0h1m2 0h1m8 0h1m12 0h1m2 0h2m10 0h1m3 0h1m11 0h2m2 0h1m7 0h1m7 0h2m5 0h1m110 0h1m4 0h1m13 0h1m1 0h1m13 0h1m7 0h1m8 0h1m1 0h1m5 0h1m9 0h1m11 0h1m5 0h1m1 0h1m8 0h1m5 0h1m2 0h1m-447 1h1m4 0h1m6 0h1m60 0h1m85 0h1m1 0h1m10 0h1m1 0h1m6 0h1m3 0h1m5 0h1m12 0h1m12 0h2m2 0h2m24 0h1m50 0h1m43 0h1m12 0h1m14 0h1m6 0h1m4 0h1m1 0h1m11 0h4m2 0h1m5 0h2m1 0h1m1 0h1m1 0h1m3 0h3m8 0h2m11 0h1m-445 1h1m125 0h1m14 0h1m11 0h1m1 0h1m4 0h1m4 0h1m3 0h1m5 0h1m2 0h1m1 0h1m2 0h3m9 0h1m9 0h2m7 0h1m2 0h1m11 0h1m29 0h1m89 0h1m1 0h1m15 0h1m33 0h2m4 0h1m2 0h1m4 0h1m2 0h1m3 0h1m6 0h1m2 0h1m1 0h1m6 0h1m-424 1h1m77 0h1m34 0h1m13 0h1m6 0h1m5 0h1m2 0h2m4 0h1m21 0h1m1 0h1m7 0h2m11 0h2m101 0h1m65 0h1m4 0h1m6 0h1m1 0h1m4 0h1m4 0h1m5 0h1m3 0h1m1 0h1m9 0h1m4 0h1m3 0h1m-406 1h1m110 0h1m4 0h1m20 0h1m1 0h1m1 0h1m5 0h1m3 0h1m13 0h1m9 0h2m2 0h1m14 0h1m1 0h1m5 0h1m38 0h1m78 0h1m7 0h1m16 0h1m4 0h1m6 0h1m5 0h3m10 0h3m17 0h1m4 0h1m1 0h1m-435 1h1m147 0h2m6 0h1m11 0h1m2 0h1m12 0h1m7 0h1m5 0h1m4 0h1m4 0h1m17 0h1m2 0h1m131 0h1m12 0h1m6 0h1m2 0h2m4 0h1m6 0h1m5 0h1m16 0h1m1 0h1m1 0h1m8 0h1m-287 1h1m15 0h1m2 0h1m16 0h2m1 0h1m3 0h1m7 0h1m1 0h1m8 0h1m3 0h2m24 0h1m3 0h1m117 0h1m1 0h1m12 0h1m13 0h1m12 0h1m5 0h1m4 0h1m20 0h1m5 0h1m1 0h1m-319 1h2m37 0h1m6 0h1m5 0h1m11 0h2m1 0h2m1 0h1m1 0h1m175 0h1m9 0h1m1 0h1m12 0h1m10 0h1m4 0h1m1 0h2m6 0h1m10 0h1m1 0h1m2 0h1m2 0h1m-275 1h1m7 0h1m1 0h1m4 0h1m10 0h1m2 0h3m1 0h1m5 0h1m1 0h1m166 0h1m5 0h1m7 0h1m20 0h1m12 0h1m2 0h1m10 0h1m-441 1h1m9 0h1m45 0h1m45 0h1m47 0h1m20 0h1m18 0h3m4 0h1m10 0h1m72 0h1m24 0h1m9 0h1m95 0h1m4 0h1m5 0h1m-342 1h1m85 0h1m6 0h1m11 0h1m4 0h1m11 0h1m6 0h2m1 0h1m5 0h1m173 0h1m2 0h1m8 0h2m29 0h1m1 0h1m3 0h1m-417 1h1m168 0h1m12 0h1m4 0h1m2 0h1m8 0h1m24 0h2m159 0h1m9 0h1m-287 1h1m4 0h1m15 0h1m4 0h1m10 0h1m12 0h1m10 0h3m4 0h1m96 0h1m78 0h1m4 0h1m13 0h1m20 0h2m1 0h2m1 0h1m9 0h1m-347 1h1m73 0h1m6 0h1m3 0h1m3 0h1m1 0h1m10 0h1m6 0h2m1 0h1m2 0h1m9 0h3m108 0h1m59 0h1m6 0h1m6 0h1m4 0h1m5 0h1m8 0h1m10 0h2m7 0h1m-282 1h1m4 0h1m46 0h1m12 0h1m160 0h1m4 0h1m9 0h1m22 0h1m-378 1h1m95 0h1m24 0h1m1 0h1m2 0h2m2 0h1m7 0h1m27 0h1m3 0h1m8 0h1m12 0h1m9 0h1m148 0h1m4 0h1m6 0h1m2 0h1m2 0h1m33 0h1m-294 1h1m12 0h1m10 0h1m3 0h1m6 0h1m13 0h1m169 0h1m33 0h1m4 0h1m2 0h1m15 0h2m5 0h1m5 0h1m-438 1h1m148 0h1m19 0h1m16 0h1m8 0h1m10 0h1m1 0h1m144 0h1m21 0h1m26 0h1m6 0h1m10 0h2m-350 1h1m27 0h1m87 0h2m184 0h1m1 0h1m26 0h1m20 0h1m-283 1h1m4 0h1m17 0h1m17 0h1m3 0h2m13 0h1m7 0h1m179 0h1m23 0h1m11 0h2m-252 1h1m2 0h1m26 0h1m12 0h1m141 0h1m21 0h1m5 0h1m41 0h1m-435 1h1m139 0h1m18 0h2m12 0h1m9 0h1m15 0h1m166 0h1m34 0h1m14 0h1m-414 1h1m129 0h1m51 0h1m35 0h1m130 0h1m19 0h1m4 0h1m16 0h1m3 0h1m2 0h1m7 0h1m12 0h1m-249 1h1m5 0h1m0 1h1m1 0h1m222 0h1m13 0h1m-271 1h1m13 0h1m-55 1h1m67 0h1m12 0h1m194 0h1m-160 1h1m209 0h1m-423 1h1m138 0h1m259 0h1m-250 1h1m4 0h1m34 0h1m220 1h1m-254 1h1m31 0h1m136 0h1m44 0h1m18 0h1m-18 1h1m3 0h1m2 0h1m-389 1h1m133 0h1m50 0h1m229 0h1m-33 1h1m4 0h1m32 0h1m-62 1h1m32 0h1m-275 1h1m25 0h1m10 0h1m18 0h1m169 0h1m36 0h1m18 0h2m-281 1h1m269 0h1m-226 1h1m-57 1h1m97 0h1m-52 1h1m47 0h1m176 0h1m-262 1h1m181 0h1m-171 3h1m224 0h1m-218 2h1m61 0h1m163 0h1m65 0h1m-345 2h1m122 0h1m-109 1h1m225 0h1m-174 1h1m42 0h1m211 0h1m-384 2h1m131 0h1m10 0h1m64 0h1m-79 1h1m224 0h1m-200 1h1m146 0h1m77 0h1m-214 1h1m12 1h1m-67 1h1m84 3h1m74 1h1m4 0h1m69 1h1m-371 1h1m117 0h1m57 0h1m224 3h1m-63 2h1m-63 1h1m84 1h1m-356 1h1m399 0h1m15 0h1m-278 1h1m-163 1h1m290 2h1m-98 1h1m166 0h1m-152 1h1m53 0h1m-131 1h1m292 1h1m-364 1h1m323 1h1m-227 1h1m-123 5h1m158 3h1m126 3h1m18 0h1m52 0h1m-97 8h1m93 1h1m-347 3h1m204 2h1m43 0h1m87 2h1m-266 2h1m-103 3h1m56 0h1m-2 1h1m2 0h1m40 0h1m184 0h1m-142 1h1m-136 1h1m26 0h1m252 0h1m-292 1h1m384 0h1m-51 1h1m-253 1h1m45 0h1m63 3h1m58 0h1m-220 9h1m108 1h1m224 0h1m17 0h1"/>
<path id="g4" d="M335 75.5h1m-173 4h1m41 1h1m-27 1h1m242 0h1m1 0h1m-178 3h1m225 0h1m-342 2h1m71 2h1m51 0h1m173 0h1m66 1h1m-143 2h1m168 1h1m-191 1h1m37 0h1m-24 2h1m116 2h1m-60 2h1m-173 1h1m-22 1h1m64 0h1m259 2h1m-164 1h1m-161 5h1m6 0h1m224 0h1m-263 3h1m224 0h1m-214 1h1m150 1h1m1 2h2m137 0h1m-114 2h1m-179 1h1m188 0h1m143 0h1m-319 1h1m32 0h1m91 0h1m-37 1h1m225 0h1m-266 1h1m225 0h1m-112 1h1m-194 1h1m196 0h1m-220 3h1m250 2h1m-300 2h1m27 3h1m72 1h1m28 2h1m157 0h1m67 0h1m80 3h1m-402 4h1m29 0h1m-9 1h1m106 0h1m80 1h1m-194 1h1m-38 1h1m76 0h1m224 0h1m-26 1h1m43 0h1m-249 1h1m69 0h1m-71 1h1m158 1h1m37 0h1m8 0h1m7 0h1m-271 2h1m200 1h1m139 1h1m-352 1h1m146 0h1m224 0h1m-340 1h1m103 0h1m122 0h1m-206 1h1m214 0h1m-291 2h1m238 0h1m29 1h1m-230 1h1m27 1h1m212 0h1m9 0h1m-290 1h1m298 0h1m-317 1h1m55 0h1m-48 1h1m72 0h1m221 0h1m-227 2h1m114 0h1m87 0h1m-242 1h1m23 0h1m200 0h1m19 0h1m10 0h1m4 0h1m-242 1h1m166 0h1m-169 2h1m117 0h1m148 0h1m-269 1h1m120 0h1m-89 1h1m21 0h1m84 0h1m80 0h1m-120 1h1m146 0h1m78 0h1m-201 1h1m99 0h1m1 0h1m128 0h1m-390 1h1m3 0h1m30 0h1m240 0h1m-240 1h1m2 0h1m20 0h1m47 0h1m124 0h1m42 0h1m27 0h1m-252 1h1m209 0h1m-255 1h1m17 0h1m48 0h1m14 0h1m159 0h1m2 0h1m-224 1h1m163 0h1m48 0h1m6 0h1m7 0h1m12 0h1m-247 1h1m219 0h1m12 0h1m47 0h1m2 0h1m-298 1h1m30 0h1m18 0h1m11 0h1m61 0h1m125 0h1m20 0h1m10 0h1m-275 1h1m19 0h1m8 0h1m7 0h1m6 0h1m81 0h1m94 0h1m7 0h1m5 0h1m4 0h1m3 0h1m4 0h1m20 0h1m71 0h1m-241 1h1m135 0h1m14 0h1m24 0h1m54 0h1m-350 1h1m10 0h1m2 0h1m11 0h1m246 0h1m13 0h1m19 0h1m68 0h1m-380 1h2m5 0h1m28 0h1m1 0h1m30 0h1m35 0h1m114 0h1m5 0h1m16 0h1m10 0h1m1 0h1m12 0h1m13 0h1m10 0h3m2 0h1m25 0h1m64 0h1m-358 1h1m13 0h1m32 0h1m170 0h1m2 0h1m13 0h1m14 0h1m1 0h1m8 0h1m10 0h1m-275 1h1m4 0h1m5 0h1m219 0h1m1 0h1m9 0h1m8 0h2m9 0h1m-313 1h1m38 0h1m3 0h1m4 0h1m9 0h1m14 0h1m22 0h1m128 0h1m27 0h1m23 0h1m19 0h1m6 0h1m101 0h1m-404 1h1m11 0h1m3 0h1m31 0h1m3 0h1m6 0h1m9 0h2m3 0h1m128 0h1m37 0h1m23 0h1m3 0h1m2 0h1m1 0h1m10 0h1m9 0h1m-261 1h1m32 0h1m3 0h1m115 0h1m60 0h1m1 0h1m18 0h1m3 0h1m10 0h1m2 0h1m28 0h1m20 0h1m11 0h1m63 0h1m-375 1h1m7 0h1m26 0h1m4 0h1m156 0h1m18 0h1m6 0h1m7 0h1m2 0h1m1 0h1m8 0h1m40 0h1m13 0h1m29 0h1m-350 1h1m3 0h1m1 0h1m28 0h1m11 0h1m1 0h1m165 0h1m11 0h1m2 0h1m16 0h1m9 0h1m2 0h1m13 0h1m15 0h1m-284 1h1m1 0h1m13 0h1m11 0h1m174 0h1m21 0h1m13 0h1m2 0h1m7 0h1m8 0h1m40 0h1m-265 1h1m15 0h1m18 0h1m29 0h1m110 0h1m19 0h1m4 0h2m1 0h1m10 0h1m1 0h1m9 0h1m5 0h1m5 0h1m2 0h1m7 0h1m7 0h1m15 0h1m-347 1h1m14 0h1m3 0h1m10 0h1m6 0h1m22 0h2m6 0h2m10 0h1m6 0h1m1 0h1m2 0h1m14 0h1m12 0h1m45 0h1m64 0h1m18 0h1m5 0h1m5 0h2m13 0h1m9 0h1m17 0h1m5 0h1m1 0h1m4 0h1m13 0h1m-305 1h1m11 0h1m3 0h1m2 0h1m4 0h1m4 0h1m1 0h1m3 0h1m1 0h1m3 0h1m15 0h1m3 0h2m1 0h1m16 0h1m19 0h1m101 0h1m33 0h1m2 0h2m14 0h2m14 0h1m6 0h1m2 0h1m1 0h1m35 0h1m82 0h1m-396 1h1m2 0h1m14 0h1m9 0h1m10 0h1m3 0h1m4 0h1m6 0h1m2 0h1m7 0h1m42 0h1m40 0h1m67 0h1m17 0h2m1 0h1m11 0h1m9 0h1m19 0h1m24 0h1m80 0h1m-412 1h1m10 0h1m12 0h2m11 0h1m9 0h1m3 0h2m15 0h2m9 0h1m8 0h1m2 0h2m29 0h1m122 0h1m4 0h1m9 0h1m2 0h1m1 0h1m4 0h2m3 0h1m9 0h1m6 0h3m8 0h1m-292 1h1m6 0h1m10 0h1m14 0h1m6 0h1m6 0h1m1 0h1m17 0h1m13 0h1m39 0h1m120 0h1m5 0h1m2 0h1m6 0h1m5 0h2m6 0h1m8 0h1m11 0h1m28 0h1m33 0h1m-379 1h1m15 0h2m1 0h1m9 0h1m6 0h2m3 0h2m4 0h1m1 0h1m2 0h2m2 0h1m1 0h1m1 0h1m6 0h1m1 0h1m2 0h1m168 0h1m9 0h1m21 0h1m5 0h1m3 0h3m2 0h1m1 0h1m5 0h1m1 0h1m20 0h1m11 0h1m13 0h1m-344 1h1m1 0h1m15 0h1m2 0h1m5 0h1m5 0h1m16 0h2m13 0h1m8 0h1m9 0h1m13 0h1m10 0h1m124 0h1m1 0h1m7 0h1m10 0h1m11 0h1m3 0h1m4 0h1m1 0h2m1 0h2m3 0h1m3 0h2m7 0h1m7 0h1m1 0h1m9 0h1m13 0h1m45 0h1m-359 1h1m9 0h1m6 0h1m6 0h1m7 0h1m1 0h1m2 0h2m3 0h1m5 0h1m9 0h3m16 0h1m2 0h1m14 0h1m26 0h1m54 0h1m68 0h1m3 0h1m12 0h1m4 0h1m1 0h1m3 0h1m7 0h1m13 0h1m9 0h1m95 0h1m-429 1h1m11 0h1m4 0h1m2 0h1m10 0h2m14 0h1m30 0h1m5 0h1m14 0h1m136 0h1m1 0h1m27 0h1m3 0h2m6 0h1m2 0h1m8 0h1m7 0h1m5 0h1m4 0h1m15 0h1m9 0h1m-318 1h1m4 0h1m21 0h1m1 0h1m1 0h2m3 0h1m9 0h1m4 0h1m4 0h1m1 0h1m5 0h1m6 0h1m1 0h1m3 0h2m7 0h1m4 0h1m9 0h1m124 0h1m1 0h1m10 0h2m1 0h1m20 0h1m6 0h2m9 0h2m5 0h1m5 0h2m6 0h1m14 0h1m-310 1h1m18 0h1m7 0h1m2 0h1m1 0h1m19 0h2m2 0h1m3 0h1m5 0h1m24 0h2m140 0h1m6 0h1m2 0h2m9 0h1m2 0h1m17 0h1m2 0h1m2 0h1m11 0h2m11 0h1m10 0h1m1 0h1m8 0h1m49 0h1m-405 1h1m21 0h1m26 0h1m1 0h1m9 0h1m3 0h1m1 0h2m1 0h1m2 0h1m13 0h1m1 0h1m16 0h1m21 0h1m72 0h1m37 0h1m5 0h1m2 0h1m13 0h1m3 0h1m4 0h1m10 0h1m3 0h1m3 0h1m3 0h1m1 0h2m15 0h1m4 0h1m15 0h1m4 0h1m13 0h1m-360 1h1m11 0h1m15 0h2m18 0h2m2 0h1m5 0h1m12 0h1m2 0h1m12 0h1m1 0h1m1 0h1m15 0h1m28 0h1m105 0h1m16 0h1m9 0h1m3 0h1m10 0h1m14 0h1m1 0h1m8 0h1m1 0h1m4 0h1m2 0h1m9 0h1m3 0h1m34 0h1m17 0h1m18 0h1m-392 1h1m2 0h1m6 0h1m1 0h1m18 0h1m1 0h1m6 0h1m1 0h1m1 0h1m5 0h1m10 0h1m4 0h1m2 0h1m4 0h1m4 0h1m3 0h2m1 0h1m21 0h1m1 0h1m12 0h1m101 0h1m3 0h1m9 0h1m11 0h1m2 0h2m1 0h1m8 0h1m1 0h1m4 0h1m1 0h3m8 0h1m10 0h1m11 0h1m21 0h1m8 0h1m14 0h1m-365 1h1m25 0h1m5 0h1m5 0h1m2 0h1m6 0h2m3 0h2m1 0h1m5 0h1m1 0h1m3 0h1m4 0h1m18 0h1m14 0h1m6 0h1m9 0h1m7 0h1m78 0h1m25 0h1m10 0h1m4 0h1m13 0h1m1 0h1m9 0h1m7 0h1m2 0h1m6 0h1m3 0h1m1 0h1m2 0h1m42 0h1m7 0h1m-348 1h1m20 0h1m1 0h1m1 0h1m2 0h1m6 0h1m2 0h1m2 0h1m18 0h1m3 0h1m3 0h2m1 0h2m2 0h3m4 0h1m5 0h1m4 0h1m4 0h1m29 0h1m103 0h1m14 0h1m5 0h2m1 0h1m1 0h2m2 0h1m3 0h1m1 0h1m3 0h1m3 0h1m4 0h1m3 0h2m3 0h2m5 0h1m4 0h1m8 0h1m5 0h1m1 0h1m4 0h1m3 0h1m5 0h1m-321 1h1m8 0h1m1 0h1m2 0h1m4 0h1m5 0h1m12 0h2m4 0h2m3 0h1m6 0h3m22 0h1m7 0h1m4 0h1m4 0h1m5 0h1m11 0h1m77 0h1m15 0h1m2 0h1m3 0h2m6 0h1m10 0h1m6 0h1m6 0h1m6 0h1m5 0h1m2 0h1m8 0h1m2 0h4m10 0h1m6 0h1m9 0h1m6 0h1m13 0h1m10 0h1m4 0h1m28 0h1m-399 1h1m6 0h1m10 0h1m8 0h1m2 0h1m3 0h1m3 0h1m4 0h1m1 0h1m7 0h2m1 0h1m12 0h1m1 0h1m1 0h1m4 0h1m1 0h1m6 0h1m13 0h1m7 0h1m2 0h1m16 0h1m8 0h1m10 0h1m59 0h1m21 0h1m13 0h1m3 0h1m2 0h1m7 0h1m9 0h1m1 0h1m1 0h1m3 0h1m6 0h1m4 0h2m10 0h1m3 0h1m3 0h1m9 0h1m4 0h1m1 0h1m1 0h1m4 0h3m3 0h1m11 0h1m11 0h1m-355 1h1m7 0h1m16 0h1m3 0h3m3 0h1m7 0h2m5 0h1m6 0h1m3 0h1m8 0h1m2 0h1m3 0h1m5 0h1m1 0h1m4 0h1m4 0h1m4 0h1m15 0h1m25 0h1m9 0h1m11 0h1m22 0h1m3 0h1m20 0h1m10 0h1m7 0h1m23 0h1m2 0h1m4 0h1m4 0h2m1 0h2m4 0h2m1 0h1m8 0h1m2 0h1m3 0h1m3 0h2m8 0h1m3 0h2m4 0h1m15 0h1m4 0h1m47 0h1m36 0h1m-422 1h1m14 0h1m4 0h1m4 0h1m1 0h1m6 0h1m2 0h1m7 0h1m1 0h1m1 0h1m2 0h1m8 0h1m4 0h1m2 0h1m16 0h1m7 0h1m1 0h1m15 0h1m15 0h1m21 0h1m52 0h1m5 0h1m2 0h1m4 0h1m7 0h1m2 0h1m21 0h1m1 0h2m2 0h1m2 0h1m3 0h2m2 0h1m2 0h1m2 0h1m4 0h1m16 0h1m1 0h1m4 0h2m2 0h2m1 0h1m1 0h1m23 0h1m-353 1h1m3 0h1m17 0h1m8 0h1m6 0h1m9 0h1m1 0h2m1 0h1m4 0h1m15 0h3m13 0h1m8 0h1m4 0h1m4 0h1m5 0h1m20 0h1m5 0h1m6 0h1m45 0h1m34 0h1m17 0h1m5 0h1m5 0h1m2 0h1m4 0h2m6 0h2m1 0h1m9 0h1m1 0h1m2 0h1m2 0h1m2 0h3m23 0h1m8 0h1m4 0h1m1 0h1m4 0h1m3 0h1m39 0h1m18 0h1m-410 1h1m10 0h1m4 0h1m3 0h2m5 0h1m7 0h2m5 0h1m1 0h1m5 0h1m3 0h2m1 0h1m4 0h4m11 0h1m2 0h2m5 0h1m2 0h2m4 0h4m2 0h1m14 0h1m5 0h1m41 0h1m23 0h1m49 0h1m8 0h1m1 0h1m7 0h1m1 0h1m7 0h1m7 0h3m1 0h2m8 0h2m5 0h1m5 0h2m1 0h2m1 0h2m1 0h2m1 0h1m6 0h3m1 0h2m11 0h1m1 0h1m6 0h1m6 0h1m-345 1h2m38 0h1m4 0h1m2 0h1m4 0h1m5 0h2m1 0h2m1 0h2m8 0h2m10 0h1m5 0h1m4 0h1m11 0h1m1 0h1m2 0h2m1 0h1m21 0h1m47 0h1m48 0h1m16 0h2m2 0h1m1 0h1m4 0h1m4 0h1m6 0h1m3 0h1m3 0h1m1 0h1m2 0h1m9 0h2m1 0h1m11 0h2m5 0h2m42 0h1m47 0h1m-419 1h1m6 0h1m1 0h1m1 0h1m4 0h1m1 0h1m3 0h2m18 0h1m8 0h3m3 0h1m3 0h1m1 0h1m11 0h1m3 0h1m3 0h3m1 0h1m5 0h1m5 0h1m1 0h1m13 0h2m3 0h1m1 0h1m79 0h1m5 0h1m26 0h1m1 0h1m6 0h1m12 0h1m6 0h1m1 0h1m1 0h1m4 0h1m8 0h1m5 0h2m6 0h1m14 0h1m3 0h1m8 0h1m2 0h1m22 0h1m-350 1h1m2 0h1m6 0h2m6 0h1m2 0h1m1 0h1m4 0h1m2 0h1m7 0h2m3 0h1m6 0h1m2 0h1m2 0h1m8 0h1m4 0h2m7 0h1m1 0h1m8 0h1m2 0h1m2 0h2m4 0h1m10 0h1m1 0h1m75 0h1m21 0h1m11 0h1m5 0h1m2 0h2m9 0h2m5 0h1m8 0h1m2 0h1m9 0h1m2 0h1m1 0h1m1 0h2m4 0h1m13 0h1m1 0h2m8 0h1m1 0h2m1 0h1m3 0h1m5 0h1m1 0h1m2 0h3m21 0h1m2 0h1m71 0h1m-448 1h1m5 0h1m5 0h1m19 0h1m6 0h1m1 0h1m1 0h1m4 0h1m1 0h1m1 0h1m7 0h1m1 0h2m1 0h1m3 0h2m13 0h1m4 0h1m7 0h1m2 0h1m1 0h2m11 0h1m6 0h2m19 0h1m3 0h1m24 0h1m13 0h1m2 0h1m57 0h1m3 0h1m4 0h1m6 0h1m3 0h1m4 0h1m1 0h1m6 0h2m6 0h1m5 0h1m11 0h1m2 0h1m3 0h1m1 0h1m8 0h2m3 0h2m1 0h1m7 0h1m14 0h1m11 0h1m30 0h1m-397 1h1m9 0h2m3 0h1m6 0h2m6 0h1m2 0h1m7 0h1m4 0h1m2 0h1m1 0h1m10 0h1m1 0h1m2 0h2m1 0h3m2 0h1m9 0h1m3 0h2m14 0h1m3 0h3m2 0h1m5 0h1m4 0h1m14 0h1m12 0h1m13 0h1m34 0h1m27 0h1m7 0h1m5 0h1m3 0h2m6 0h1m1 0h1m2 0h1m4 0h1m2 0h1m1 0h1m3 0h3m3 0h1m3 0h1m1 0h1m2 0h1m2 0h1m6 0h1m1 0h1m3 0h1m4 0h1m4 0h1m3 0h1m2 0h1m6 0h1m2 0h1m1 0h1m33 0h1m22 0h1m7 0h1m4 0h1m24 0h1m-426 1h1m15 0h1m3 0h1m32 0h1m3 0h1m2 0h1m11 0h1m4 0h1m6 0h1m6 0h1m3 0h1m1 0h2m11 0h1m2 0h1m6 0h1m36 0h1m11 0h1m19 0h1m12 0h1m16 0h1m5 0h1m15 0h1m1 0h1m7 0h1m10 0h2m11 0h2m4 0h1m6 0h2m9 0h1m6 0h1m11 0h1m4 0h1m6 0h1m3 0h2m6 0h1m3 0h1m39 0h1m7 0h1m24 0h1m-431 1h1m4 0h1m20 0h1m3 0h1m2 0h1m4 0h2m4 0h2m9 0h1m1 0h1m3 0h1m7 0h1m5 0h1m1 0h5m2 0h1m1 0h1m1 0h1m3 0h1m3 0h3m3 0h1m4 0h3m9 0h1m1 0h1m3 0h1m8 0h1m8 0h1m3 0h1m1 0h1m3 0h1m76 0h2m23 0h1m2 0h1m5 0h2m3 0h2m3 0h1m2 0h1m11 0h1m1 0h1m4 0h1m6 0h2m2 0h1m3 0h1m2 0h1m7 0h2m9 0h1m17 0h1m9 0h2m5 0h1m10 0h1m70 0h1m-444 1h1m2 0h1m15 0h1m3 0h1m3 0h1m6 0h3m2 0h3m1 0h1m3 0h1m7 0h1m12 0h1m1 0h1m1 0h1m2 0h2m2 0h1m8 0h1m1 0h4m2 0h1m2 0h2m1 0h1m5 0h1m7 0h1m1 0h1m1 0h2m2 0h1m23 0h1m15 0h1m1 0h1m59 0h1m21 0h1m4 0h1m3 0h2m3 0h1m2 0h1m1 0h1m6 0h1m3 0h1m2 0h4m5 0h1m3 0h2m1 0h2m6 0h1m5 0h1m3 0h2m10 0h1m7 0h1m2 0h1m3 0h1m2 0h1m1 0h1m8 0h1m4 0h1m1 0h1m5 0h1m11 0h1m8 0h1m-393 1h1m9 0h1m12 0h1m6 0h2m12 0h1m5 0h1m4 0h1m4 0h1m7 0h1m7 0h1m11 0h2m1 0h1m2 0h2m3 0h1m6 0h1m1 0h1m6 0h1m5 0h1m9 0h1m24 0h1m68 0h2m8 0h1m5 0h2m7 0h2m1 0h6m10 0h2m3 0h1m1 0h1m1 0h1m3 0h1m2 0h1m1 0h1m1 0h1m3 0h1m1 0h1m7 0h1m8 0h1m5 0h1m1 0h1m1 0h1m2 0h1m14 0h1m1 0h1m16 0h1m15 0h2m12 0h1m32 0h1m-418 1h2m6 0h1m1 0h1m7 0h3m9 0h1m7 0h1m2 0h2m3 0h1m5 0h1m2 0h1m2 0h1m7 0h1m3 0h1m2 0h1m2 0h1m3 0h1m2 0h1m4 0h1m2 0h1m3 0h1m11 0h2m13 0h1m1 0h2m10 0h1m15 0h1m2 0h1m10 0h1m1 0h1m21 0h1m30 0h1m5 0h1m3 0h1m5 0h1m5 0h2m4 0h1m1 0h1m1 0h1m11 0h1m3 0h1m2 0h3m12 0h1m4 0h2m7 0h1m1 0h1m2 0h1m2 0h2m2 0h2m2 0h1m1 0h2m1 0h1m1 0h1m6 0h1m1 0h1m15 0h1m30 0h1m35 0h1m-413 1h3m10 0h1m1 0h1m1 0h1m4 0h3m2 0h1m4 0h1m13 0h1m2 0h1m1 0h1m1 0h1m1 0h1m2 0h1m1 0h1m1 0h1m1 0h1m3 0h1m3 0h1m2 0h2m3 0h1m2 0h1m4 0h2m1 0h1m17 0h1m4 0h1m7 0h1m3 0h1m1 0h1m9 0h1m84 0h1m2 0h1m7 0h1m2 0h1m11 0h1m7 0h2m1 0h1m4 0h1m2 0h1m5 0h1m1 0h1m4 0h2m1 0h2m1 0h1m6 0h1m6 0h3m6 0h1m2 0h2m2 0h1m7 0h2m2 0h1m6 0h1m4 0h1m6 0h1m2 0h1m16 0h1m14 0h1m1 0h1m6 0h1m16 0h1m11 0h1m-429 1h2m4 0h1m1 0h1m6 0h1m1 0h1m2 0h1m3 0h1m1 0h1m2 0h1m6 0h1m3 0h1m2 0h1m2 0h1m1 0h1m2 0h1m7 0h1m10 0h1m17 0h1m1 0h2m2 0h2m1 0h3m5 0h1m2 0h3m4 0h1m16 0h1m10 0h3m14 0h1m8 0h1m51 0h1m4 0h1m22 0h1m1 0h1m10 0h1m1 0h1m1 0h2m11 0h2m6 0h1m1 0h1m5 0h1m4 0h1m4 0h1m6 0h2m5 0h1m2 0h4m3 0h1m1 0h1m1 0h3m4 0h1m11 0h1m5 0h1m3 0h1m5 0h1m7 0h2m51 0h1m1 0h1m1 0h1m2 0h1m5 0h1m-441 1h1m1 0h2m2 0h1m2 0h2m5 0h1m2 0h1m14 0h1m4 0h1m1 0h1m5 0h1m4 0h2m6 0h2m3 0h1m6 0h1m13 0h1m3 0h1m2 0h1m1 0h1m3 0h1m5 0h1m4 0h1m8 0h1m4 0h1m2 0h1m2 0h1m26 0h1m52 0h2m14 0h1m5 0h1m2 0h1m3 0h1m2 0h1m4 0h2m10 0h1m2 0h1m1 0h1m2 0h2m2 0h1m1 0h1m7 0h1m13 0h1m12 0h1m5 0h1m3 0h1m1 0h3m3 0h1m8 0h1m1 0h2m2 0h1m1 0h1m4 0h1m3 0h1m3 0h1m15 0h1m3 0h1m24 0h1m-399 1h1m4 0h1m1 0h1m4 0h1m13 0h1m9 0h1m8 0h1m1 0h1m3 0h2m18 0h1m16 0h1m3 0h1m5 0h1m6 0h2m1 0h1m11 0h1m6 0h1m12 0h1m16 0h1m13 0h1m2 0h1m25 0h1m2 0h1m16 0h1m6 0h1m3 0h1m2 0h1m3 0h2m11 0h1m1 0h1m1 0h1m2 0h1m2 0h1m6 0h1m1 0h2m4 0h1m1 0h1m6 0h1m1 0h1m4 0h1m15 0h1m10 0h1m4 0h1m4 0h1m2 0h1m15 0h2m3 0h1m2 0h3m2 0h1m19 0h1m5 0h1m1 0h1m11 0h1m8 0h1m7 0h1m4 0h1m2 0h1m-438 1h1m10 0h1m2 0h1m3 0h1m5 0h1m4 0h3m4 0h1m5 0h2m10 0h2m7 0h2m5 0h1m6 0h1m2 0h2m1 0h1m8 0h1m8 0h2m2 0h1m1 0h2m5 0h2m1 0h1m6 0h2m3 0h1m2 0h1m5 0h1m4 0h1m11 0h2m51 0h1m6 0h1m6 0h1m13 0h1m4 0h1m2 0h1m2 0h1m5 0h1m1 0h2m2 0h1m1 0h2m2 0h1m2 0h3m7 0h1m7 0h2m2 0h1m4 0h1m6 0h1m2 0h1m3 0h1m6 0h1m7 0h1m2 0h1m4 0h1m1 0h1m14 0h1m2 0h4m6 0h2m4 0h1m3 0h1m4 0h1m2 0h2m2 0h1m19 0h1m1 0h1m26 0h1m8 0h1m4 0h1m-449 1h1m7 0h1m2 0h1m3 0h2m3 0h1m3 0h1m2 0h2m1 0h1m1 0h4m7 0h1m1 0h2m3 0h1m10 0h1m5 0h1m8 0h2m1 0h1m2 0h1m1 0h1m6 0h2m1 0h1m4 0h2m7 0h1m6 0h1m3 0h1m8 0h1m1 0h1m2 0h1m3 0h1m2 0h1m2 0h1m9 0h2m2 0h1m9 0h1m7 0h1m8 0h1m6 0h1m32 0h1m8 0h1m11 0h1m7 0h1m1 0h1m2 0h1m2 0h1m2 0h2m4 0h1m5 0h4m4 0h1m1 0h2m7 0h1m2 0h1m9 0h1m1 0h1m1 0h1m7 0h1m1 0h3m5 0h1m2 0h1m9 0h1m5 0h2m3 0h1m4 0h1m6 0h1m2 0h1m1 0h1m3 0h1m2 0h1m6 0h1m33 0h1m3 0h1m19 0h1m-440 1h1m2 0h1m3 0h1m6 0h1m23 0h1m1 0h1m6 0h1m5 0h1m4 0h1m4 0h2m1 0h1m4 0h1m7 0h1m1 0h2m2 0h2m6 0h1m3 0h1m3 0h1m1 0h1m1 0h2m2 0h1m1 0h1m10 0h1m1 0h1m11 0h1m8 0h2m19 0h2m1 0h1m42 0h1m23 0h1m2 0h5m16 0h1m1 0h1m26 0h1m3 0h1m7 0h3m4 0h3m1 0h1m7 0h1m8 0h1m3 0h1m1 0h1m1 0h1m1 0h2m21 0h1m8 0h1m1 0h1m4 0h2m13 0h1m1 0h1m47 0h2m-436 1h1m3 0h1m11 0h2m2 0h1m2 0h3m3 0h1m11 0h1m3 0h1m11 0h1m4 0h1m4 0h1m5 0h1m13 0h1m1 0h1m3 0h1m4 0h1m4 0h1m17 0h1m5 0h1m2 0h2m10 0h1m1 0h1m15 0h2m5 0h1m1 0h1m10 0h1m15 0h1m12 0h1m19 0h1m12 0h1m7 0h1m32 0h2m3 0h1m9 0h2m1 0h1m3 0h1m2 0h1m4 0h2m3 0h1m10 0h1m10 0h1m4 0h1m3 0h1m1 0h1m1 0h1m3 0h1m12 0h1m15 0h1m7 0h1m2 0h1m1 0h1m11 0h1m-425 1h1m3 0h1m2 0h1m1 0h4m2 0h1m16 0h2m1 0h2m6 0h2m2 0h1m3 0h1m10 0h1m2 0h1m10 0h1m2 0h1m1 0h2m1 0h1m1 0h1m13 0h1m18 0h1m1 0h1m3 0h1m3 0h1m3 0h1m2 0h1m8 0h1m12 0h2m15 0h1m23 0h1m20 0h1m12 0h1m1 0h1m4 0h1m12 0h1m4 0h1m6 0h1m1 0h1m1 0h3m1 0h2m6 0h1m8 0h2m8 0h1m4 0h1m1 0h1m2 0h1m13 0h1m3 0h1m23 0h4m6 0h1m2 0h2m1 0h1m2 0h1m1 0h1m2 0h1m18 0h1m5 0h1m8 0h1m27 0h3m8 0h2m-451 1h1m1 0h1m15 0h1m6 0h1m1 0h1m2 0h1m3 0h3m3 0h1m5 0h1m13 0h2m5 0h1m6 0h1m4 0h1m1 0h1m3 0h2m3 0h1m2 0h1m2 0h1m2 0h1m3 0h1m1 0h3m9 0h1m1 0h1m3 0h1m12 0h1m5 0h3m9 0h1m7 0h1m10 0h1m2 0h1m11 0h1m6 0h1m6 0h2m10 0h1m13 0h1m8 0h1m2 0h2m4 0h1m1 0h1m4 0h1m2 0h1m1 0h1m2 0h1m7 0h1m8 0h1m7 0h1m1 0h1m17 0h1m5 0h1m11 0h2m1 0h3m1 0h1m6 0h2m1 0h1m1 0h1m1 0h1m4 0h2m3 0h1m3 0h1m1 0h1m5 0h1m6 0h3m2 0h1m1 0h1m3 0h2m11 0h1m14 0h1m23 0h1m6 0h1m-445 1h1m11 0h1m11 0h1m1 0h2m4 0h1m6 0h1m13 0h1m7 0h2m2 0h1m2 0h1m9 0h1m8 0h1m11 0h1m16 0h1m4 0h1m4 0h1m8 0h3m7 0h1m8 0h1m1 0h1m1 0h1m2 0h2m1 0h2m2 0h1m2 0h1m11 0h1m33 0h1m13 0h1m12 0h1m1 0h1m1 0h1m4 0h1m5 0h1m12 0h1m5 0h1m1 0h2m4 0h2m6 0h1m15 0h1m32 0h1m2 0h1m1 0h2m5 0h1m3 0h1m1 0h1m3 0h1m3 0h3m9 0h1m1 0h1m3 0h1m9 0h1m38 0h1m1 0h1m-433 1h1m1 0h1m1 0h1m1 0h1m6 0h3m17 0h1m11 0h2m6 0h1m11 0h1m1 0h1m2 0h1m5 0h2m2 0h1m1 0h1m1 0h2m1 0h1m10 0h1m9 0h1m1 0h1m7 0h1m3 0h1m1 0h1m21 0h1m10 0h1m3 0h1m2 0h1m37 0h2m4 0h3m5 0h1m3 0h1m10 0h1m3 0h1m3 0h2m10 0h1m5 0h1m10 0h1m8 0h1m13 0h1m1 0h1m17 0h1m1 0h2m21 0h2m1 0h1m2 0h2m4 0h1m7 0h1m3 0h2m3 0h2m26 0h1m14 0h1m1 0h1m3 0h1m9 0h1m2 0h2m7 0h2m4 0h1m1 0h1m-447 1h1m2 0h2m1 0h1m2 0h2m1 0h1m1 0h1m3 0h1m13 0h1m6 0h1m8 0h2m3 0h1m1 0h1m6 0h3m26 0h1m5 0h2m7 0h1m3 0h2m2 0h1m2 0h2m2 0h2m5 0h1m3 0h1m7 0h1m6 0h3m2 0h2m4 0h1m10 0h1m12 0h1m10 0h2m4 0h1m10 0h1m1 0h1m1 0h3m15 0h1m1 0h2m1 0h1m1 0h1m6 0h2m9 0h1m26 0h1m38 0h1m32 0h1m11 0h1m4 0h1m11 0h1m6 0h1m5 0h1m2 0h1m3 0h1m1 0h1m6 0h1m4 0h1m1 0h1m3 0h1m13 0h1m1 0h1m-441 1h1m1 0h1m1 0h1m2 0h2m4 0h1m2 0h2m1 0h1m3 0h1m4 0h4m5 0h1m5 0h1m2 0h1m24 0h2m16 0h1m1 0h1m7 0h1m2 0h1m1 0h1m3 0h1m2 0h1m6 0h1m1 0h1m1 0h1m1 0h1m1 0h1m13 0h1m13 0h1m4 0h1m4 0h1m4 0h1m1 0h2m9 0h1m5 0h1m1 0h1m29 0h1m5 0h1m1 0h1m1 0h1m2 0h1m4 0h1m3 0h3m5 0h1m4 0h1m1 0h1m4 0h2m3 0h1m1 0h1m15 0h1m38 0h1m5 0h1m3 0h1m1 0h1m1 0h2m5 0h1m1 0h1m1 0h1m1 0h1m1 0h1m11 0h1m7 0h1m16 0h1m7 0h1m11 0h1m2 0h2m1 0h1m12 0h1m-432 1h1m17 0h1m5 0h1m1 0h1m3 0h1m4 0h2m17 0h1m3 0h1m3 0h1m2 0h1m47 0h1m1 0h1m2 0h1m1 0h1m2 0h1m5 0h1m1 0h3m13 0h1m9 0h2m5 0h1m4 0h1m4 0h1m16 0h1m10 0h1m2 0h1m3 0h1m1 0h1m1 0h1m29 0h1m1 0h4m14 0h1m1 0h1m4 0h3m22 0h1m2 0h1m16 0h1m13 0h1m4 0h2m3 0h1m2 0h1m1 0h1m2 0h1m6 0h1m9 0h1m1 0h1m16 0h1m9 0h1m1 0h1m26 0h1m7 0h1m4 0h1m7 0h1m-444 1h1m1 0h1m12 0h1m2 0h1m1 0h2m2 0h1m1 0h2m4 0h1m4 0h1m5 0h2m3 0h1m4 0h1m1 0h2m8 0h1m3 0h1m7 0h1m20 0h1m9 0h1m1 0h1m4 0h1m5 0h1m2 0h1m2 0h2m1 0h2m1 0h4m1 0h1m6 0h1m2 0h2m1 0h1m2 0h1m2 0h1m24 0h1m6 0h1m10 0h1m7 0h1m11 0h1m5 0h2m7 0h1m13 0h1m16 0h3m11 0h1m21 0h1m9 0h1m3 0h2m5 0h1m3 0h1m6 0h1m12 0h1m2 0h2m4 0h2m4 0h1m4 0h2m2 0h2m1 0h1m14 0h1m17 0h2m4 0h1m6 0h1m6 0h1m1 0h1m1 0h1m3 0h1m1 0h1m2 0h2m4 0h1m-449 1h1m1 0h1m1 0h1m9 0h1m9 0h2m8 0h1m2 0h1m3 0h1m5 0h1m4 0h1m29 0h1m12 0h1m1 0h1m2 0h1m4 0h1m5 0h1m1 0h1m2 0h1m8 0h1m4 0h1m4 0h1m2 0h1m26 0h1m5 0h3m6 0h1m12 0h1m6 0h1m5 0h2m5 0h1m10 0h1m9 0h1m1 0h2m1 0h2m1 0h1m4 0h1m6 0h1m8 0h2m1 0h2m14 0h1m3 0h1m28 0h1m4 0h1m1 0h1m12 0h2m1 0h1m6 0h1m12 0h1m4 0h1m4 0h1m3 0h1m13 0h1m3 0h1m6 0h1m3 0h1m7 0h1m21 0h2m1 0h1m3 0h3m5 0h1m-443 1h1m2 0h1m2 0h1m2 0h1m1 0h1m5 0h1m2 0h1m3 0h1m1 0h1m12 0h1m6 0h1m6 0h1m8 0h1m1 0h1m10 0h1m3 0h1m2 0h1m1 0h1m12 0h2m6 0h1m5 0h1m8 0h1m3 0h1m12 0h1m3 0h2m3 0h1m11 0h1m16 0h1m6 0h1m2 0h1m4 0h1m23 0h2m2 0h1m2 0h1m2 0h1m3 0h1m3 0h1m1 0h1m2 0h1m30 0h1m18 0h1m3 0h1m13 0h1m1 0h1m3 0h1m4 0h1m6 0h1m3 0h1m2 0h1m1 0h2m17 0h1m7 0h2m6 0h1m12 0h2m12 0h1m2 0h1m2 0h1m6 0h1m8 0h1m6 0h1m-426 1h2m1 0h1m5 0h1m6 0h1m19 0h1m12 0h1m12 0h1m2 0h1m30 0h1m4 0h4m7 0h1m1 0h2m1 0h1m4 0h1m5 0h2m4 0h1m4 0h1m3 0h1m5 0h1m3 0h1m9 0h2m2 0h1m4 0h1m12 0h1m2 0h1m1 0h1m12 0h1m3 0h1m2 0h1m1 0h1m16 0h1m14 0h1m4 0h2m5 0h3m19 0h2m47 0h1m4 0h1m5 0h1m2 0h2m4 0h1m2 0h1m6 0h2m1 0h1m4 0h1m5 0h1m3 0h1m10 0h1m10 0h2m5 0h1m3 0h1m2 0h2m5 0h2m1 0h1m2 0h1m3 0h1m6 0h3m6 0h1m-441 1h2m3 0h2m2 0h1m4 0h1m10 0h1m4 0h1m1 0h1m6 0h1m2 0h1m2 0h1m4 0h1m33 0h1m5 0h1m1 0h2m1 0h2m3 0h1m4 0h2m6 0h1m2 0h1m2 0h1m1 0h2m4 0h1m4 0h2m3 0h1m6 0h1m8 0h1m1 0h1m2 0h1m1 0h1m1 0h1m7 0h1m7 0h1m3 0h1m4 0h1m8 0h1m9 0h1m2 0h1m2 0h1m4 0h1m1 0h1m7 0h1m8 0h1m3 0h1m10 0h1m4 0h1m1 0h1m8 0h1m2 0h1m2 0h2m46 0h1m7 0h1m1 0h1m5 0h1m1 0h1m6 0h1m16 0h1m5 0h1m10 0h1m4 0h1m5 0h1m5 0h1m23 0h1m2 0h1m5 0h2m3 0h1m-441 1h2m3 0h3m6 0h3m6 0h1m21 0h1m4 0h1m5 0h1m31 0h1m13 0h1m6 0h1m12 0h2m3 0h1m4 0h1m1 0h1m1 0h1m1 0h1m1 0h1m1 0h1m5 0h1m4 0h1m16 0h1m2 0h1m1 0h1m8 0h1m3 0h1m11 0h1m2 0h1m3 0h1m1 0h2m11 0h2m2 0h2m3 0h1m3 0h1m1 0h2m1 0h1m1 0h1m4 0h1m1 0h1m4 0h1m18 0h1m20 0h1m2 0h1m13 0h1m12 0h1m3 0h1m5 0h1m14 0h1m9 0h1m8 0h1m1 0h1m1 0h1m1 0h1m5 0h2m2 0h1m3 0h1m3 0h1m5 0h1m13 0h1m5 0h2m2 0h1m3 0h1m3 0h1m1 0h1m5 0h2m4 0h1m3 0h1m-446 1h1m3 0h2m11 0h1m42 0h1m8 0h1m2 0h1m11 0h1m9 0h1m6 0h1m10 0h1m2 0h2m7 0h2m1 0h1m1 0h2m5 0h1m5 0h3m16 0h1m15 0h1m3 0h1m5 0h2m2 0h1m14 0h1m10 0h1m1 0h1m4 0h1m9 0h1m6 0h1m2 0h1m8 0h1m11 0h1m3 0h2m23 0h1m18 0h1m23 0h1m2 0h1m3 0h2m1 0h1m9 0h1m2 0h2m28 0h1m16 0h1m1 0h1m8 0h1m8 0h1m3 0h1m2 0h2m6 0h1m1 0h1m-447 1h2m3 0h3m10 0h2m2 0h1m6 0h1m2 0h1m45 0h1m19 0h1m27 0h1m3 0h2m8 0h1m2 0h1m1 0h1m15 0h1m3 0h2m21 0h1m4 0h2m1 0h1m7 0h1m3 0h1m2 0h1m2 0h1m4 0h1m3 0h1m6 0h1m3 0h1m4 0h1m10 0h1m3 0h1m3 0h1m5 0h2m57 0h1m1 0h1m1 0h1m5 0h1m1 0h1m13 0h1m1 0h1m14 0h1m1 0h1m1 0h1m4 0h1m1 0h1m1 0h1m2 0h1m2 0h2m5 0h1m7 0h1m5 0h2m6 0h1m3 0h1m1 0h1m19 0h1m3 0h1m1 0h1m-448 1h1m3 0h1m1 0h1m7 0h2m3 0h1m2 0h2m1 0h2m1 0h2m2 0h1m1 0h2m4 0h1m3 0h1m2 0h1m2 0h1m24 0h1m5 0h1m5 0h1m10 0h1m17 0h1m3 0h1m13 0h2m7 0h2m16 0h1m2 0h1m5 0h1m6 0h1m2 0h1m22 0h1m14 0h1m1 0h6m3 0h1m8 0h1m1 0h3m2 0h2m2 0h3m1 0h1m3 0h2m1 0h1m9 0h1m6 0h1m12 0h1m33 0h1m24 0h1m6 0h1m5 0h2m3 0h1m4 0h1m14 0h1m5 0h3m7 0h1m3 0h1m5 0h1m2 0h1m11 0h1m3 0h1m3 0h2m3 0h1m2 0h1m1 0h1m-449 1h1m3 0h1m2 0h1m8 0h1m14 0h1m3 0h1m9 0h1m5 0h1m26 0h1m3 0h1m2 0h1m16 0h1m1 0h1m5 0h2m1 0h1m9 0h1m1 0h1m1 0h1m8 0h1m5 0h1m1 0h1m5 0h1m6 0h1m10 0h1m2 0h1m2 0h2m3 0h1m2 0h1m9 0h1m2 0h1m5 0h1m1 0h1m4 0h1m4 0h3m1 0h1m8 0h2m2 0h1m1 0h1m5 0h1m6 0h2m14 0h1m11 0h1m15 0h1m1 0h1m9 0h1m2 0h1m3 0h1m27 0h1m3 0h1m1 0h1m2 0h1m8 0h1m5 0h1m4 0h1m3 0h1m7 0h2m2 0h3m4 0h1m4 0h1m3 0h1m2 0h1m3 0h2m1 0h1m17 0h1m1 0h3m-416 1h1m1 0h1m40 0h1m25 0h1m27 0h1m4 0h1m1 0h1m9 0h1m15 0h1m9 0h1m2 0h1m2 0h1m2 0h1m14 0h2m9 0h1m2 0h1m2 0h1m8 0h1m5 0h1m7 0h2m4 0h1m1 0h1m3 0h1m4 0h1m4 0h1m1 0h1m1 0h1m1 0h1m1 0h2m2 0h1m4 0h2m50 0h1m20 0h1m6 0h1m6 0h1m5 0h1m2 0h1m4 0h1m7 0h1m19 0h4m7 0h1m6 0h1m1 0h1m14 0h1m3 0h1m2 0h1m10 0h1m1 0h1m2 0h1m4 0h1m-450 1h1m12 0h1m1 0h1m10 0h1m1 0h2m9 0h1m36 0h1m22 0h1m16 0h1m6 0h1m9 0h2m10 0h1m2 0h2m10 0h1m5 0h1m3 0h1m1 0h1m3 0h1m1 0h1m3 0h1m2 0h1m5 0h1m6 0h1m9 0h1m4 0h1m2 0h1m1 0h1m2 0h2m2 0h1m4 0h1m6 0h2m5 0h1m2 0h1m26 0h1m6 0h1m78 0h1m6 0h1m12 0h1m3 0h1m4 0h1m1 0h1m3 0h2m4 0h2m1 0h1m1 0h1m1 0h1m2 0h2m11 0h1m17 0h1m1 0h2m1 0h1m-446 1h1m4 0h2m2 0h1m3 0h1m4 0h1m3 0h1m4 0h1m10 0h1m5 0h1m40 0h1m10 0h1m16 0h1m8 0h1m6 0h1m2 0h1m2 0h2m1 0h2m6 0h1m3 0h1m2 0h1m1 0h1m1 0h1m2 0h1m13 0h2m3 0h1m1 0h1m10 0h1m6 0h1m2 0h2m1 0h1m5 0h1m8 0h1m9 0h1m1 0h1m7 0h1m3 0h2m4 0h1m60 0h1m1 0h1m10 0h1m9 0h1m16 0h1m9 0h1m2 0h1m1 0h2m4 0h2m6 0h1m2 0h1m1 0h1m3 0h1m7 0h1m3 0h1m11 0h1m2 0h1m1 0h1m6 0h1m2 0h1m2 0h1m3 0h1m1 0h1m6 0h1m3 0h1m-444 1h1m5 0h2m7 0h2m9 0h1m71 0h1m16 0h1m9 0h1m8 0h1m2 0h1m17 0h1m9 0h1m3 0h1m2 0h3m1 0h1m2 0h1m1 0h1m13 0h1m7 0h1m7 0h3m8 0h1m2 0h1m7 0h2m10 0h1m4 0h1m1 0h1m36 0h1m32 0h1m9 0h1m7 0h1m1 0h2m7 0h1m2 0h1m3 0h1m3 0h1m4 0h1m4 0h1m8 0h2m12 0h1m2 0h1m8 0h1m3 0h1m2 0h1m5 0h1m9 0h1m6 0h1m1 0h2m1 0h1m-447 1h2m19 0h1m33 0h1m39 0h1m13 0h1m11 0h2m7 0h3m1 0h1m2 0h1m9 0h1m1 0h1m9 0h1m1 0h1m2 0h1m7 0h1m3 0h1m8 0h1m3 0h1m8 0h1m6 0h1m6 0h1m5 0h1m1 0h1m5 0h1m3 0h1m5 0h1m2 0h1m11 0h1m3 0h1m31 0h1m45 0h2m5 0h1m4 0h1m3 0h1m5 0h1m3 0h1m2 0h1m1 0h1m1 0h1m3 0h1m1 0h1m4 0h1m5 0h2m5 0h2m6 0h1m9 0h1m2 0h1m6 0h1m6 0h1m1 0h1m3 0h1m4 0h1m2 0h1m6 0h1m-448 1h3m2 0h2m2 0h2m1 0h2m11 0h1m2 0h1m17 0h1m47 0h1m12 0h1m2 0h1m4 0h1m24 0h1m7 0h1m4 0h1m4 0h1m5 0h1m6 0h2m5 0h1m2 0h1m6 0h1m4 0h1m15 0h1m1 0h1m1 0h1m2 0h3m1 0h1m13 0h2m2 0h1m3 0h1m4 0h1m2 0h1m12 0h1m8 0h1m50 0h1m12 0h1m8 0h1m5 0h1m5 0h1m3 0h1m9 0h1m2 0h1m6 0h1m8 0h1m9 0h1m2 0h1m3 0h1m2 0h2m2 0h2m8 0h1m7 0h1m-430 1h1m1 0h1m1 0h1m18 0h1m13 0h1m39 0h1m12 0h1m10 0h1m6 0h1m5 0h1m4 0h1m14 0h1m2 0h1m7 0h2m2 0h1m5 0h1m5 0h1m11 0h1m3 0h1m10 0h1m2 0h1m6 0h1m1 0h1m1 0h2m1 0h1m8 0h1m8 0h1m7 0h1m7 0h1m7 0h1m17 0h1m56 0h1m9 0h2m3 0h1m2 0h1m2 0h1m3 0h1m7 0h1m3 0h1m10 0h2m3 0h1m7 0h1m2 0h1m11 0h1m5 0h1m6 0h1m2 0h2m2 0h1m7 0h1m1 0h1m3 0h1m4 0h1m-440 1h4m6 0h1m3 0h1m7 0h1m3 0h1m32 0h1m27 0h1m6 0h1m29 0h1m10 0h1m10 0h1m1 0h1m5 0h2m2 0h1m9 0h2m4 0h1m7 0h2m6 0h1m3 0h2m1 0h1m3 0h1m3 0h1m2 0h1m3 0h1m4 0h1m5 0h1m2 0h2m8 0h1m14 0h1m86 0h1m1 0h1m12 0h2m8 0h1m10 0h1m2 0h1m5 0h1m3 0h2m3 0h2m3 0h1m3 0h1m15 0h1m2 0h1m2 0h1m2 0h1m4 0h1m5 0h1m7 0h1m-449 1h1m1 0h1m3 0h2m5 0h1m56 0h1m28 0h1m28 0h1m14 0h3m6 0h1m7 0h2m1 0h1m10 0h1m4 0h1m2 0h1m7 0h1m7 0h1m2 0h2m7 0h2m4 0h1m2 0h1m13 0h2m3 0h2m2 0h1m21 0h1m9 0h1m55 0h1m8 0h1m4 0h1m23 0h1m6 0h1m5 0h1m1 0h2m17 0h1m1 0h1m1 0h2m2 0h1m5 0h1m1 0h1m1 0h1m2 0h1m1 0h1m1 0h1m1 0h2m4 0h1m1 0h1m5 0h4m-447 1h1m1 0h1m7 0h1m5 0h1m3 0h1m10 0h1m5 0h2m41 0h1m32 0h1m22 0h1m5 0h1m11 0h1m4 0h1m1 0h1m3 0h4m15 0h4m1 0h1m2 0h1m8 0h1m6 0h1m1 0h1m2 0h1m3 0h1m5 0h1m1 0h1m1 0h1m1 0h1m17 0h1m3 0h1m1 0h1m9 0h1m74 0h1m10 0h1m7 0h1m13 0h1m8 0h2m8 0h1m1 0h1m4 0h1m3 0h1m1 0h1m6 0h1m2 0h1m7 0h1m3 0h1m1 0h1m3 0h1m2 0h1m4 0h2m2 0h1m3 0h3m-448 1h1m3 0h1m7 0h1m75 0h1m20 0h1m13 0h1m7 0h1m12 0h2m2 0h1m3 0h1m3 0h1m2 0h2m1 0h1m1 0h1m2 0h1m2 0h1m5 0h1m7 0h1m13 0h1m2 0h1m2 0h1m4 0h1m3 0h1m7 0h2m7 0h1m1 0h1m4 0h2m5 0h1m6 0h1m4 0h1m6 0h1m2 0h2m28 0h1m37 0h1m17 0h1m4 0h2m9 0h2m4 0h2m2 0h1m1 0h1m1 0h1m2 0h1m1 0h1m4 0h2m1 0h1m5 0h1m4 0h1m5 0h1m2 0h1m14 0h1m2 0h2m-435 1h1m93 0h1m7 0h1m9 0h1m14 0h1m18 0h1m2 0h1m2 0h1m1 0h1m8 0h1m2 0h2m3 0h1m2 0h1m7 0h2m1 0h2m5 0h1m6 0h1m1 0h1m1 0h2m7 0h1m4 0h1m11 0h1m11 0h1m85 0h1m19 0h1m4 0h1m3 0h1m3 0h1m9 0h1m5 0h1m1 0h3m3 0h1m1 0h1m1 0h1m3 0h1m5 0h1m1 0h1m4 0h1m3 0h1m1 0h1m6 0h1m9 0h1m1 0h1m8 0h1m3 0h1m4 0h1m-445 1h1m22 0h1m100 0h1m6 0h1m5 0h1m9 0h2m3 0h1m6 0h4m1 0h3m4 0h1m1 0h1m2 0h1m2 0h1m6 0h1m17 0h1m2 0h2m4 0h2m4 0h1m16 0h1m5 0h1m13 0h1m24 0h1m67 0h1m2 0h1m16 0h1m1 0h1m2 0h1m2 0h1m3 0h1m4 0h1m3 0h1m3 0h1m2 0h2m3 0h3m1 0h1m1 0h1m5 0h2m2 0h1m1 0h1m2 0h1m4 0h1m5 0h1m2 0h1m3 0h1m-441 1h1m2 0h1m22 0h1m7 0h1m77 0h1m1 0h1m17 0h1m12 0h1m3 0h2m5 0h1m4 0h1m1 0h1m5 0h1m3 0h1m3 0h1m6 0h1m9 0h1m2 0h1m4 0h1m2 0h1m1 0h1m1 0h1m2 0h1m2 0h3m11 0h1m8 0h1m40 0h1m75 0h1m10 0h1m1 0h1m2 0h2m15 0h1m6 0h1m3 0h1m2 0h1m2 0h1m4 0h1m1 0h1m1 0h1m5 0h1m1 0h1m1 0h1m1 0h2m1 0h1m1 0h2m3 0h1m1 0h1m-445 1h1m3 0h1m1 0h1m93 0h1m23 0h1m24 0h1m2 0h1m5 0h1m7 0h1m4 0h1m6 0h2m13 0h1m14 0h1m2 0h3m1 0h1m1 0h1m2 0h1m6 0h1m3 0h1m5 0h1m34 0h1m82 0h1m13 0h1m7 0h1m6 0h1m3 0h1m8 0h1m5 0h2m1 0h1m2 0h1m3 0h1m11 0h1m1 0h2m4 0h3m1 0h1m1 0h1m2 0h1m1 0h1m-445 1h1m2 0h1m1 0h1m26 0h1m89 0h1m7 0h1m8 0h1m2 0h3m1 0h1m2 0h1m9 0h1m3 0h1m3 0h1m5 0h1m3 0h1m2 0h1m4 0h2m4 0h2m3 0h2m1 0h1m2 0h1m5 0h2m1 0h1m1 0h2m4 0h2m21 0h1m7 0h1m6 0h1m57 0h1m12 0h1m27 0h1m7 0h1m7 0h1m1 0h1m10 0h2m1 0h1m3 0h1m2 0h1m2 0h1m3 0h2m1 0h2m4 0h1m4 0h1m1 0h1m1 0h1m2 0h1m2 0h4m6 0h1m1 0h1m5 0h1m4 0h1m-451 1h1m5 0h1m2 0h1m44 0h1m82 0h1m17 0h1m3 0h1m2 0h1m1 0h1m2 0h1m1 0h1m9 0h1m1 0h3m2 0h1m3 0h1m6 0h2m4 0h1m2 0h1m6 0h1m10 0h1m10 0h1m1 0h1m41 0h1m42 0h1m55 0h1m7 0h1m2 0h1m13 0h2m1 0h2m2 0h1m1 0h1m1 0h1m5 0h2m6 0h1m4 0h1m4 0h1m3 0h1m1 0h1m1 0h1m2 0h1m-425 1h1m2 0h1m107 0h1m1 0h1m2 0h1m1 0h1m2 0h1m5 0h1m4 0h1m7 0h1m4 0h1m1 0h1m1 0h2m1 0h1m1 0h1m2 0h1m2 0h1m15 0h1m3 0h2m1 0h1m4 0h2m5 0h3m2 0h1m6 0h1m107 0h1m22 0h1m3 0h1m1 0h1m4 0h1m6 0h2m4 0h1m2 0h1m1 0h1m4 0h2m4 0h1m6 0h1m7 0h1m4 0h1m6 0h3m5 0h2m6 0h3m1 0h1m-448 1h2m2 0h3m32 0h1m105 0h1m22 0h1m1 0h1m8 0h1m1 0h1m13 0h2m2 0h1m8 0h1m2 0h2m5 0h1m7 0h2m2 0h1m1 0h1m3 0h1m85 0h1m36 0h1m16 0h1m9 0h1m2 0h2m5 0h1m1 0h1m1 0h2m17 0h2m2 0h2m3 0h1m4 0h2m2 0h2m-438 1h1m22 0h1m102 0h1m3 0h2m3 0h1m14 0h1m2 0h1m7 0h1m1 0h1m1 0h1m11 0h1m8 0h2m2 0h2m4 0h1m3 0h1m3 0h3m2 0h1m11 0h1m4 0h1m110 0h1m31 0h1m3 0h1m2 0h1m1 0h1m3 0h1m5 0h1m13 0h1m1 0h2m2 0h1m1 0h3m3 0h1m5 0h1m1 0h1m4 0h1m11 0h1m-446 1h1m11 0h1m3 0h1m133 0h1m8 0h1m2 0h1m9 0h1m1 0h1m7 0h1m1 0h1m12 0h1m3 0h1m1 0h1m4 0h2m6 0h1m1 0h1m1 0h1m16 0h1m117 0h1m13 0h1m6 0h1m5 0h1m7 0h1m4 0h1m1 0h1m6 0h1m4 0h1m1 0h1m14 0h1m1 0h1m4 0h1m3 0h3m-440 1h1m128 0h1m19 0h1m9 0h1m16 0h1m21 0h3m1 0h1m3 0h1m5 0h1m8 0h1m8 0h1m1 0h1m1 0h1m144 0h1m13 0h1m6 0h2m1 0h1m7 0h2m1 0h1m4 0h1m5 0h1m7 0h1m4 0h1m2 0h1m1 0h1m6 0h1m-360 1h1m47 0h1m12 0h1m7 0h1m8 0h1m1 0h1m1 0h1m3 0h1m2 0h1m10 0h1m1 0h1m3 0h1m1 0h2m7 0h2m17 0h2m53 0h1m17 0h1m59 0h1m5 0h1m2 0h1m12 0h1m5 0h2m5 0h1m2 0h1m1 0h3m3 0h1m3 0h1m6 0h1m2 0h1m1 0h1m6 0h1m2 0h1m2 0h1m9 0h1m-446 1h1m14 0h1m138 0h1m4 0h1m1 0h2m14 0h2m10 0h1m3 0h2m5 0h2m3 0h1m1 0h1m3 0h2m2 0h1m7 0h2m1 0h1m7 0h1m5 0h1m94 0h1m43 0h1m3 0h1m2 0h3m4 0h1m2 0h1m38 0h1m2 0h1m1 0h2m2 0h1m4 0h1m-421 1h1m126 0h1m1 0h1m3 0h1m9 0h1m20 0h1m6 0h1m14 0h1m5 0h1m37 0h1m5 0h1m92 0h1m13 0h1m5 0h1m2 0h1m1 0h1m2 0h1m1 0h1m1 0h1m28 0h1m21 0h1m4 0h2m-445 1h1m14 0h1m25 0h1m86 0h1m14 0h1m19 0h1m4 0h1m3 0h1m3 0h2m1 0h1m1 0h1m1 0h3m5 0h1m10 0h1m6 0h1m10 0h1m19 0h1m26 0h1m88 0h1m10 0h1m4 0h1m16 0h1m2 0h1m7 0h1m1 0h1m2 0h1m3 0h3m7 0h1m11 0h1m1 0h1m8 0h1m3 0h1m-440 1h1m95 0h1m28 0h1m14 0h1m9 0h1m1 0h1m41 0h1m3 0h1m16 0h1m2 0h1m6 0h1m96 0h1m43 0h2m1 0h1m5 0h1m5 0h1m2 0h1m1 0h1m3 0h2m8 0h1m17 0h2m1 0h1m2 0h2m2 0h1m-293 1h1m3 0h1m1 0h1m4 0h2m10 0h1m20 0h1m5 0h1m6 0h1m5 0h1m4 0h2m3 0h1m11 0h1m134 0h1m4 0h1m2 0h1m8 0h1m5 0h1m1 0h1m10 0h1m1 0h1m2 0h1m20 0h2m2 0h1m3 0h1m3 0h1m3 0h1m-285 1h1m4 0h1m19 0h2m5 0h1m4 0h2m4 0h1m4 0h1m9 0h1m2 0h1m14 0h1m123 0h1m15 0h1m5 0h1m7 0h1m2 0h1m1 0h1m1 0h2m6 0h1m6 0h1m4 0h1m-417 1h1m16 0h1m126 0h1m8 0h1m5 0h1m28 0h1m14 0h1m24 0h1m1 0h1m8 0h1m126 0h1m2 0h1m12 0h1m12 0h1m20 0h1m15 0h1m2 0h1m-435 1h1m1 0h1m86 0h1m48 0h1m3 0h1m22 0h1m13 0h2m10 0h2m1 0h1m8 0h1m10 0h1m1 0h1m5 0h1m1 0h2m11 0h1m133 0h1m20 0h1m8 0h3m1 0h1m10 0h2m13 0h1m7 0h1m2 0h1m-378 1h1m83 0h1m8 0h1m11 0h1m2 0h1m6 0h1m2 0h2m23 0h1m97 0h1m61 0h1m15 0h1m21 0h1m2 0h1m1 0h3m10 0h1m3 0h1m1 0h1m3 0h1m-418 1h1m29 0h1m14 0h1m68 0h1m21 0h1m7 0h2m16 0h1m4 0h1m9 0h1m13 0h1m7 0h1m11 0h1m1 0h1m136 0h1m33 0h2m1 0h1m14 0h1m7 0h1m5 0h1m-421 1h1m115 0h1m42 0h1m4 0h1m9 0h1m5 0h1m31 0h1m157 0h1m5 0h1m9 0h1m14 0h1m6 0h1m-263 1h1m1 0h1m4 0h1m5 0h2m13 0h1m5 0h1m10 0h2m8 0h1m15 0h1m9 0h1m105 0h1m40 0h1m8 0h3m17 0h1m6 0h1m2 0h1m8 0h2m-273 1h1m12 0h2m12 0h1m1 0h1m2 0h1m13 0h1m15 0h1m95 0h1m40 0h1m46 0h1m5 0h1m5 0h1m23 0h1m1 0h1m-446 1h1m170 0h1m14 0h1m21 0h1m11 0h1m5 0h1m41 0h1m146 0h1m18 0h1m4 0h1m-309 1h1m47 0h1m2 0h1m4 0h1m2 0h1m2 0h2m16 0h1m3 0h1m188 0h2m9 0h1m2 0h1m7 0h1m-295 1h1m55 0h1m5 0h1m5 0h1m1 0h1m8 0h1m156 0h1m28 0h1m7 0h1m1 0h1m2 0h1m2 0h1m-403 1h1m137 0h1m34 0h1m3 0h1m11 0h1m174 0h1m15 0h1m6 0h1m3 0h1m6 0h1m15 0h1m-256 1h1m4 0h1m201 0h1m38 0h1m11 0h1m-430 1h1m183 0h1m29 0h1m168 0h1m3 0h1m19 0h1m2 0h1m-273 1h1m13 0h1m37 0h1m11 0h1m224 0h2m-412 1h1m129 0h1m2 0h1m47 0h1m8 0h1m1 0h1m3 0h1m17 0h1m140 0h1m-236 1h1m32 0h2m9 0h1m4 0h1m136 0h1m72 0h1m14 0h1m2 0h1m-244 1h1m1 0h1m33 0h1m174 0h1m12 0h1m9 0h1m25 0h1m-260 1h1m11 0h1m25 0h1m183 0h1m2 0h1m9 0h1m1 0h1m9 0h1m4 0h1m-176 1h1m101 0h1m48 0h1m6 0h1m27 0h1m-432 1h1m137 0h1m23 0h1m47 0h1m166 0h1m52 0h1m-55 1h1m-297 1h1m58 0h1m21 0h1m3 0h1m198 0h1m6 0h1m-329 1h1m129 0h1m35 0h1m-114 1h1m63 0h1m-169 1h1m2 0h1m182 0h1m-49 1h1m24 0h1m23 0h1m19 0h1m193 0h1m-299 1h1m62 0h1m25 0h1m17 0h1m166 0h1m14 0h1m10 0h1m-221 1h1m221 0h1m5 0h1m17 0h1m-249 1h1m204 0h1m40 0h1m-247 1h1m5 0h1m-35 1h1m151 0h1m123 0h1m-258 1h1m178 0h1m5 0h1m-238 1h1m60 0h1m206 0h1m42 1h1m-355 1h1m135 0h1m204 0h1m-192 1h1m210 1h1m-432 1h1m191 0h1m23 1h1m-112 1h1m85 0h1m-11 1h1m142 0h1m63 0h1m32 1h1m-64 1h1m55 0h1m-165 1h1m-77 2h1m179 0h1m-227 1h1m209 2h1m-164 2h1m219 0h1m21 1h1m-347 1h1m82 0h1m6 9h1m54 2h1m-51 1h1m223 0h1m-219 3h1m-24 1h1m62 0h1m148 2h1m-353 2h1m282 0h1m-129 1h1m78 3h1m197 0h1m-424 1h1m227 5h1m-116 1h1m194 0h1m-18 5h1m-297 1h1m274 3h1m-264 1h1m150 3h1m96 0h1m3 1h1m23 0h1m117 1h1m-28 2h1m-138 3h1m-10 6h1m-61 3h1m224 0h1m-71 4h1m-76 3h1m101 0h1m-236 1h1m87 0h1m-178 1h1m287 0h1m-13 3h1"/>
<path id="g5" d="M317 75.5h1m-125 2h1m103 3h1m224 0h1m-417 2h1m118 4h1m187 0h1m-218 1h1m-72 2h1m172 0h1m3 0h1m140 1h1m-308 1h1m125 1h1m219 1h1m-287 1h1m-65 2h1m108 1h1m60 0h1m-122 2h2m223 0h1m56 4h1m-305 1h1m200 0h1m49 1h1m-80 3h1m110 1h1m-213 1h1m-40 1h1m243 0h1m-188 2h1m157 0h1m16 0h1m-272 2h1m121 0h1m-170 1h1m258 1h1m-202 2h1m143 0h1m172 0h1m-41 1h1m-133 1h1m170 1h1m-323 2h1m156 0h1m-94 1h1m194 0h1m29 0h1m-244 1h1m279 0h1m-28 6h1m-72 2h1m137 0h1m-204 1h1m-216 2h1m92 0h1m221 1h1m-79 1h1m-188 1h1m249 2h1m-202 2h1m225 0h1m-227 1h1m271 3h1m-316 1h1m21 0h1m32 0h1m224 0h1m-132 1h1m-136 1h1m10 1h1m74 1h1m123 0h1m100 0h1m-252 1h1m152 0h1m59 0h1m11 0h1m-61 1h1m-184 1h1m266 0h1m-373 1h1m102 0h1m114 0h1m-216 2h1m304 0h1m-232 2h1m206 0h1m6 0h1m-230 1h1m202 1h1m7 0h1m67 0h1m5 0h1m-275 1h1m240 0h1m-26 1h1m8 0h1m51 1h1m69 0h1m-319 2h1m159 0h1m21 0h2m-281 1h1m61 0h1m191 0h1m35 0h1m12 0h1m-284 1h1m42 0h1m116 0h1m100 0h1m-284 1h1m316 0h1m-226 1h1m227 0h1m-123 1h1m66 0h1m-252 1h1m49 0h1m18 0h1m217 0h1m9 0h1m109 0h1m-402 1h1m21 0h1m207 0h1m-215 1h1m11 0h1m21 0h1m15 0h1m125 0h1m49 0h1m22 0h1m-98 1h1m37 0h1m84 0h1m-256 1h1m4 0h1m33 0h1m147 0h1m9 0h1m6 0h1m25 0h1m7 0h1m-280 1h1m74 0h1m181 0h2m-277 1h1m64 0h1m33 0h1m126 0h1m14 0h1m-116 1h1m6 0h1m135 0h1m4 0h1m5 0h1m20 0h1m-263 1h1m91 0h1m145 0h1m64 0h1m-281 1h1m10 0h1m28 0h1m191 0h1m2 0h1m-64 1h1m24 0h1m30 0h1m26 0h1m1 0h1m1 0h1m-320 1h1m32 0h1m1 0h1m19 0h1m16 0h1m2 0h1m2 0h1m12 0h1m65 0h1m88 0h1m11 0h1m6 0h1m126 0h1m-320 1h1m22 0h1m82 0h1m108 0h1m79 0h1m-317 1h1m1 0h1m10 0h1m24 0h1m15 0h1m19 0h1m156 0h1m22 0h1m-277 1h1m9 0h1m19 0h1m3 0h1m1 0h2m23 0h1m3 0h1m90 0h1m67 0h1m5 0h1m11 0h1m8 0h1m1 0h1m1 0h1m3 0h1m2 0h1m4 0h1m66 0h1m-322 1h1m2 0h1m3 0h1m35 0h1m2 0h1m190 0h1m17 0h2m-281 1h1m37 0h1m2 0h1m9 0h1m7 0h1m8 0h1m2 0h1m169 0h1m43 0h1m7 0h1m7 0h1m-329 1h1m91 0h1m177 0h1m5 0h1m18 0h1m8 0h1m-304 1h1m26 0h1m20 0h1m10 0h1m11 0h1m2 0h1m191 0h1m3 0h1m19 0h1m17 0h1m4 0h1m-256 1h1m3 0h1m9 0h1m9 0h1m1 0h1m3 0h1m173 0h1m7 0h1m2 0h2m8 0h1m10 0h1m11 0h1m3 0h1m-280 1h1m18 0h1m4 0h1m3 0h1m13 0h1m57 0h1m120 0h1m28 0h1m3 0h1m4 0h1m4 0h2m11 0h1m3 0h1m2 0h1m1 0h1m-298 1h1m17 0h1m19 0h1m20 0h1m17 0h1m2 0h1m168 0h1m17 0h2m33 0h1m32 0h1m-314 1h1m11 0h1m1 0h1m24 0h1m17 0h1m70 0h1m104 0h1m6 0h1m7 0h1m9 0h1m4 0h1m7 0h1m10 0h1m24 0h1m-332 1h1m24 0h1m9 0h1m9 0h1m2 0h1m9 0h1m2 0h1m193 0h1m20 0h1m9 0h1m1 0h1m1 0h1m2 0h1m9 0h1m9 0h1m5 0h2m1 0h1m-317 1h1m10 0h1m6 0h1m15 0h1m2 0h1m11 0h1m9 0h2m1 0h1m3 0h1m3 0h1m116 0h1m31 0h1m17 0h1m13 0h1m19 0h1m10 0h1m4 0h1m11 0h1m3 0h1m18 0h1m74 0h1m-411 1h1m10 0h1m12 0h1m1 0h2m6 0h1m4 0h1m6 0h1m1 0h3m14 0h1m17 0h1m14 0h1m7 0h1m122 0h1m19 0h1m1 0h1m6 0h1m2 0h2m1 0h1m11 0h1m5 0h1m25 0h1m10 0h1m23 0h1m-324 1h1m10 0h1m13 0h1m9 0h1m1 0h1m8 0h2m49 0h1m145 0h1m19 0h1m14 0h1m1 0h1m20 0h1m3 0h1m80 0h1m-405 1h1m20 0h1m2 0h1m14 0h1m2 0h1m4 0h3m6 0h1m13 0h1m1 0h1m10 0h1m124 0h1m7 0h1m9 0h1m2 0h1m1 0h1m21 0h1m18 0h1m16 0h2m6 0h1m7 0h1m6 0h1m50 0h1m-366 1h1m52 0h1m3 0h1m18 0h1m12 0h1m136 0h1m17 0h1m10 0h1m2 0h1m19 0h1m4 0h1m4 0h1m1 0h1m3 0h2m5 0h1m12 0h1m30 0h1m35 0h1m-377 1h1m13 0h1m8 0h1m10 0h1m6 0h1m2 0h1m2 0h1m1 0h1m4 0h1m4 0h1m3 0h1m16 0h1m4 0h1m3 0h1m15 0h1m7 0h1m18 0h1m92 0h1m10 0h1m5 0h1m13 0h1m1 0h1m13 0h1m1 0h1m10 0h1m11 0h1m-300 1h1m26 0h1m1 0h1m9 0h1m1 0h1m3 0h1m4 0h3m1 0h1m4 0h1m7 0h1m2 0h1m6 0h1m3 0h1m9 0h2m9 0h1m129 0h1m30 0h2m3 0h1m6 0h1m2 0h1m3 0h1m2 0h1m5 0h1m3 0h1m7 0h1m5 0h1m10 0h1m46 0h1m-359 1h1m7 0h1m10 0h1m6 0h1m15 0h2m1 0h1m50 0h1m6 0h1m38 0h1m90 0h2m12 0h1m1 0h1m1 0h1m12 0h2m4 0h1m14 0h1m4 0h2m29 0h1m33 0h1m-334 1h1m6 0h1m3 0h1m3 0h2m1 0h1m3 0h2m22 0h1m19 0h1m133 0h1m14 0h2m24 0h1m15 0h1m13 0h1m2 0h1m6 0h1m16 0h1m71 0h1m-417 1h1m5 0h1m15 0h1m1 0h1m3 0h1m8 0h1m2 0h1m4 0h1m4 0h1m7 0h1m1 0h1m5 0h2m2 0h1m5 0h1m1 0h1m1 0h1m1 0h1m7 0h3m9 0h1m4 0h1m23 0h2m18 0h1m3 0h1m33 0h1m67 0h1m5 0h1m5 0h2m9 0h1m2 0h1m1 0h1m1 0h1m2 0h1m14 0h3m7 0h2m4 0h1m1 0h1m1 0h1m24 0h1m-301 1h1m3 0h1m4 0h4m4 0h1m15 0h1m18 0h1m25 0h1m127 0h1m3 0h1m7 0h1m6 0h2m3 0h1m1 0h1m3 0h1m1 0h2m2 0h1m20 0h1m4 0h1m3 0h1m8 0h1m1 0h1m19 0h1m28 0h1m-368 1h1m1 0h1m3 0h1m1 0h1m22 0h1m1 0h1m3 0h1m1 0h1m1 0h2m8 0h3m1 0h1m2 0h1m29 0h1m145 0h1m8 0h1m1 0h1m5 0h2m5 0h1m1 0h1m5 0h2m14 0h1m8 0h1m10 0h1m11 0h1m14 0h1m3 0h1m37 0h1m-351 1h1m7 0h1m9 0h1m8 0h1m6 0h1m4 0h1m3 0h2m2 0h1m3 0h2m5 0h1m2 0h1m5 0h1m7 0h1m9 0h1m1 0h1m37 0h1m86 0h1m5 0h1m19 0h1m4 0h1m1 0h1m7 0h2m3 0h1m4 0h2m4 0h1m4 0h1m1 0h2m17 0h1m14 0h1m10 0h1m-357 1h1m15 0h1m8 0h1m1 0h1m1 0h1m12 0h1m5 0h1m3 0h1m1 0h1m2 0h1m3 0h3m5 0h1m3 0h1m11 0h1m7 0h1m2 0h1m4 0h2m4 0h1m11 0h1m8 0h1m19 0h1m91 0h1m6 0h1m2 0h1m18 0h2m16 0h1m1 0h1m15 0h2m10 0h1m1 0h1m7 0h1m1 0h1m12 0h1m3 0h1m1 0h1m9 0h1m13 0h1m-356 1h2m5 0h1m3 0h1m7 0h1m6 0h1m17 0h1m2 0h1m7 0h1m1 0h1m4 0h1m5 0h1m8 0h1m3 0h1m4 0h1m10 0h1m9 0h1m3 0h1m77 0h1m29 0h1m9 0h1m14 0h1m12 0h1m3 0h2m1 0h1m1 0h2m12 0h1m3 0h2m2 0h1m8 0h1m37 0h1m9 0h1m-342 1h1m10 0h1m2 0h1m5 0h2m7 0h1m6 0h1m1 0h1m1 0h1m8 0h2m1 0h1m2 0h1m3 0h1m2 0h1m6 0h1m1 0h1m2 0h1m1 0h1m1 0h1m1 0h1m57 0h1m59 0h1m9 0h1m20 0h1m2 0h1m6 0h1m2 0h1m2 0h1m1 0h1m3 0h1m7 0h1m3 0h1m7 0h1m6 0h1m2 0h2m4 0h2m6 0h1m7 0h1m12 0h1m14 0h1m42 0h1m48 0h1m-428 1h1m4 0h1m9 0h1m10 0h1m10 0h1m20 0h1m2 0h1m1 0h1m5 0h1m1 0h1m12 0h1m3 0h1m3 0h1m43 0h1m68 0h1m29 0h2m5 0h1m2 0h1m4 0h2m2 0h1m5 0h1m1 0h1m7 0h1m5 0h1m2 0h3m1 0h2m2 0h1m2 0h1m6 0h1m3 0h1m8 0h1m2 0h1m16 0h1m12 0h1m35 0h1m4 0h1m20 0h1m-405 1h1m9 0h2m11 0h1m2 0h1m1 0h2m6 0h1m8 0h1m2 0h1m4 0h1m10 0h1m1 0h1m1 0h1m2 0h1m7 0h1m4 0h2m5 0h1m4 0h1m17 0h1m15 0h1m5 0h1m15 0h1m47 0h1m28 0h1m10 0h1m4 0h1m1 0h1m3 0h1m4 0h1m6 0h1m1 0h2m11 0h1m3 0h1m10 0h1m11 0h1m3 0h1m13 0h1m4 0h1m1 0h1m1 0h1m4 0h1m5 0h1m5 0h1m5 0h1m-368 1h1m7 0h1m17 0h1m5 0h1m12 0h1m7 0h1m9 0h1m3 0h2m5 0h1m7 0h1m3 0h1m4 0h2m2 0h1m5 0h1m2 0h2m1 0h2m53 0h1m47 0h1m13 0h1m24 0h1m3 0h1m8 0h1m2 0h2m2 0h1m8 0h1m1 0h2m1 0h1m4 0h1m3 0h1m4 0h1m2 0h2m7 0h1m2 0h1m4 0h1m2 0h1m9 0h1m4 0h3m14 0h1m4 0h1m29 0h1m-386 1h1m5 0h1m1 0h1m2 0h1m20 0h2m1 0h1m8 0h1m2 0h1m2 0h1m2 0h1m4 0h1m1 0h1m3 0h1m2 0h1m1 0h1m7 0h1m5 0h1m1 0h1m2 0h1m3 0h1m2 0h2m8 0h1m2 0h1m4 0h2m4 0h1m8 0h1m38 0h1m42 0h1m21 0h1m5 0h1m2 0h1m14 0h1m6 0h1m1 0h1m19 0h1m4 0h1m4 0h1m3 0h1m8 0h3m1 0h1m8 0h1m4 0h1m3 0h1m5 0h1m7 0h1m6 0h1m26 0h1m-390 1h2m15 0h1m9 0h2m9 0h1m1 0h2m1 0h1m1 0h1m2 0h1m1 0h2m5 0h1m3 0h1m6 0h1m1 0h1m2 0h1m1 0h1m9 0h1m3 0h1m2 0h1m14 0h1m5 0h1m3 0h1m16 0h1m3 0h1m11 0h1m1 0h1m73 0h1m10 0h1m13 0h1m5 0h1m9 0h1m2 0h1m1 0h1m6 0h1m2 0h2m2 0h1m3 0h1m1 0h1m1 0h1m6 0h1m4 0h1m1 0h1m1 0h1m11 0h1m8 0h1m1 0h2m3 0h1m38 0h1m-365 1h1m10 0h1m8 0h1m3 0h1m8 0h1m5 0h1m4 0h1m2 0h1m6 0h1m6 0h1m3 0h1m4 0h1m2 0h3m1 0h1m1 0h2m5 0h3m4 0h1m1 0h1m6 0h2m25 0h1m82 0h1m20 0h1m6 0h1m1 0h2m1 0h3m2 0h1m3 0h1m1 0h2m4 0h1m1 0h1m10 0h1m3 0h1m2 0h1m1 0h1m5 0h1m4 0h1m4 0h1m5 0h2m3 0h1m4 0h1m4 0h1m30 0h1m8 0h1m12 0h1m58 0h1m-444 1h1m13 0h1m13 0h1m4 0h1m2 0h1m12 0h2m1 0h1m15 0h2m1 0h1m5 0h1m3 0h2m8 0h1m2 0h1m21 0h1m3 0h1m1 0h1m82 0h1m28 0h1m12 0h1m3 0h1m2 0h1m7 0h1m13 0h1m5 0h1m5 0h1m4 0h2m2 0h1m6 0h3m4 0h1m4 0h1m8 0h1m6 0h1m3 0h1m3 0h1m4 0h1m2 0h1m19 0h1m17 0h1m13 0h1m16 0h1m-399 1h1m4 0h1m3 0h1m1 0h1m6 0h1m4 0h1m22 0h1m7 0h1m3 0h1m3 0h1m4 0h2m13 0h2m10 0h1m1 0h1m2 0h1m3 0h1m3 0h3m1 0h1m106 0h1m6 0h1m3 0h1m17 0h2m12 0h1m2 0h1m5 0h1m8 0h1m1 0h1m2 0h1m4 0h1m1 0h1m1 0h1m2 0h2m3 0h2m1 0h1m1 0h1m3 0h1m1 0h1m21 0h2m10 0h1m1 0h1m13 0h1m-380 1h1m18 0h1m4 0h2m1 0h1m1 0h1m1 0h1m1 0h1m1 0h1m2 0h1m1 0h1m5 0h1m7 0h1m5 0h1m1 0h1m15 0h1m4 0h2m2 0h1m3 0h1m4 0h1m9 0h1m16 0h1m2 0h1m11 0h1m86 0h1m2 0h1m6 0h1m1 0h1m1 0h1m4 0h1m2 0h1m7 0h1m1 0h1m2 0h1m12 0h1m1 0h3m2 0h1m4 0h1m1 0h3m3 0h1m1 0h1m2 0h1m9 0h1m9 0h1m8 0h2m1 0h1m6 0h1m2 0h1m5 0h1m8 0h1m2 0h2m3 0h1m9 0h1m-373 1h1m22 0h1m5 0h1m9 0h1m9 0h1m2 0h1m7 0h2m4 0h1m8 0h1m5 0h1m2 0h2m5 0h1m9 0h1m1 0h3m9 0h2m4 0h1m3 0h1m2 0h1m10 0h1m6 0h1m1 0h1m87 0h1m12 0h1m1 0h2m7 0h1m2 0h1m5 0h2m11 0h2m2 0h1m1 0h2m2 0h1m10 0h1m2 0h1m8 0h1m1 0h1m3 0h1m2 0h2m1 0h3m1 0h1m4 0h1m6 0h1m26 0h1m3 0h1m21 0h1m14 0h1m-410 1h1m4 0h1m4 0h1m6 0h1m23 0h1m5 0h2m3 0h1m10 0h1m4 0h1m1 0h1m2 0h2m3 0h1m8 0h1m2 0h2m1 0h1m13 0h1m3 0h1m8 0h1m9 0h1m1 0h1m1 0h1m5 0h1m3 0h1m2 0h1m55 0h1m19 0h1m9 0h1m2 0h1m1 0h1m5 0h1m5 0h1m8 0h1m2 0h1m3 0h1m4 0h1m4 0h1m4 0h1m30 0h2m1 0h2m3 0h1m7 0h2m9 0h2m3 0h1m10 0h1m8 0h1m38 0h1m23 0h1m-431 1h1m8 0h1m17 0h1m9 0h1m5 0h1m2 0h1m3 0h2m6 0h1m2 0h2m2 0h1m2 0h1m4 0h1m1 0h1m3 0h1m3 0h1m1 0h2m3 0h2m9 0h1m2 0h1m1 0h1m3 0h1m7 0h1m2 0h1m15 0h1m1 0h1m3 0h1m55 0h1m21 0h1m2 0h1m5 0h1m14 0h1m5 0h1m1 0h1m4 0h1m8 0h1m2 0h1m15 0h1m1 0h1m1 0h4m4 0h1m7 0h1m4 0h1m1 0h2m7 0h1m2 0h1m1 0h1m1 0h1m9 0h1m3 0h1m21 0h1m6 0h1m6 0h1m31 0h1m-410 1h1m3 0h1m1 0h1m7 0h2m10 0h2m2 0h2m4 0h1m2 0h1m2 0h1m7 0h1m1 0h1m2 0h1m4 0h1m3 0h1m5 0h1m3 0h2m1 0h1m3 0h1m17 0h3m5 0h1m13 0h1m10 0h1m10 0h1m4 0h1m3 0h1m5 0h1m15 0h1m45 0h1m1 0h2m7 0h1m4 0h1m1 0h2m6 0h2m6 0h3m4 0h2m2 0h1m11 0h2m1 0h2m4 0h1m3 0h1m1 0h2m1 0h1m2 0h1m2 0h1m3 0h1m8 0h2m1 0h2m4 0h1m3 0h1m8 0h1m8 0h1m1 0h2m13 0h1m14 0h1m21 0h1m33 0h1m-433 1h1m5 0h1m3 0h2m1 0h1m3 0h1m7 0h2m10 0h2m2 0h1m8 0h1m4 0h2m6 0h1m1 0h1m4 0h1m2 0h1m3 0h1m13 0h1m8 0h2m6 0h1m2 0h1m9 0h1m4 0h1m5 0h1m5 0h1m3 0h1m4 0h1m5 0h1m27 0h1m18 0h1m62 0h1m6 0h1m8 0h1m5 0h1m5 0h2m2 0h1m4 0h1m2 0h2m7 0h2m1 0h1m8 0h2m3 0h1m1 0h1m2 0h1m1 0h1m4 0h1m2 0h2m16 0h1m13 0h1m20 0h1m9 0h1m20 0h1m-427 1h1m9 0h1m8 0h4m3 0h1m7 0h1m5 0h1m1 0h1m2 0h2m1 0h1m6 0h2m3 0h2m1 0h1m6 0h1m1 0h1m2 0h1m3 0h1m5 0h2m5 0h1m5 0h2m5 0h2m7 0h1m1 0h1m10 0h1m1 0h1m3 0h1m11 0h1m28 0h1m38 0h1m22 0h1m6 0h1m2 0h1m1 0h1m1 0h1m4 0h1m3 0h1m4 0h4m1 0h1m1 0h1m1 0h1m11 0h3m7 0h1m1 0h1m6 0h1m2 0h2m2 0h1m4 0h1m11 0h1m2 0h1m1 0h2m18 0h1m37 0h1m47 0h1m-430 1h2m7 0h1m3 0h2m7 0h1m1 0h1m4 0h1m1 0h2m4 0h1m4 0h1m10 0h2m1 0h1m3 0h1m3 0h2m1 0h1m3 0h3m4 0h1m6 0h1m3 0h1m6 0h2m4 0h1m8 0h1m1 0h1m11 0h1m17 0h1m35 0h1m21 0h1m7 0h1m1 0h1m5 0h1m3 0h1m1 0h1m2 0h1m5 0h1m1 0h1m3 0h1m1 0h1m6 0h1m3 0h1m2 0h3m5 0h1m20 0h1m1 0h1m3 0h2m3 0h1m2 0h1m4 0h2m2 0h1m3 0h1m6 0h1m1 0h1m2 0h2m4 0h1m6 0h1m14 0h2m15 0h2m11 0h1m1 0h1m21 0h1m18 0h1m1 0h1m1 0h2m-449 1h1m2 0h2m3 0h1m1 0h1m2 0h1m1 0h1m3 0h1m12 0h1m3 0h1m3 0h1m4 0h1m3 0h1m3 0h1m1 0h2m3 0h1m3 0h1m6 0h1m2 0h2m8 0h2m7 0h2m2 0h2m1 0h3m3 0h1m1 0h1m1 0h2m3 0h1m4 0h1m7 0h1m1 0h1m3 0h1m11 0h1m2 0h1m7 0h1m11 0h1m7 0h1m17 0h2m12 0h1m37 0h1m3 0h1m3 0h1m2 0h1m3 0h1m3 0h1m2 0h1m4 0h1m4 0h1m1 0h1m12 0h1m3 0h1m8 0h1m1 0h2m1 0h1m1 0h1m4 0h1m8 0h3m5 0h1m3 0h2m3 0h1m3 0h1m1 0h2m2 0h1m5 0h1m12 0h1m9 0h1m61 0h1m2 0h1m-450 1h1m25 0h1m1 0h2m4 0h1m3 0h3m8 0h1m12 0h1m3 0h1m2 0h1m3 0h1m3 0h1m2 0h1m6 0h2m1 0h1m2 0h1m2 0h1m3 0h1m6 0h1m2 0h1m1 0h3m7 0h2m4 0h3m1 0h2m12 0h1m18 0h1m14 0h2m5 0h1m7 0h1m20 0h2m3 0h2m8 0h1m3 0h1m4 0h1m6 0h1m1 0h1m5 0h1m2 0h1m5 0h1m1 0h1m23 0h2m2 0h1m4 0h1m3 0h2m5 0h1m3 0h1m3 0h2m1 0h1m5 0h1m1 0h1m1 0h1m3 0h1m2 0h1m1 0h1m1 0h1m1 0h3m2 0h2m1 0h1m1 0h2m15 0h1m3 0h2m11 0h1m7 0h1m8 0h1m6 0h1m4 0h1m3 0h1m7 0h1m-423 1h1m7 0h1m1 0h1m1 0h1m3 0h1m4 0h3m5 0h1m4 0h1m3 0h3m3 0h1m1 0h2m5 0h1m2 0h1m3 0h1m1 0h3m11 0h1m1 0h1m4 0h1m4 0h1m8 0h1m3 0h1m5 0h1m4 0h2m2 0h1m9 0h1m13 0h1m12 0h1m26 0h1m47 0h1m6 0h1m5 0h1m1 0h1m1 0h1m4 0h1m9 0h2m2 0h1m1 0h1m6 0h1m19 0h1m6 0h1m3 0h1m6 0h1m3 0h1m1 0h2m2 0h1m14 0h2m8 0h2m1 0h1m3 0h2m1 0h2m15 0h1m3 0h1m5 0h1m54 0h1m-446 1h1m1 0h3m5 0h1m4 0h2m3 0h1m2 0h2m6 0h1m1 0h1m10 0h1m7 0h1m4 0h1m7 0h1m5 0h1m2 0h1m4 0h1m12 0h1m3 0h1m2 0h1m7 0h1m2 0h4m1 0h2m4 0h1m1 0h1m8 0h1m13 0h1m2 0h1m1 0h1m87 0h1m1 0h1m1 0h1m5 0h1m7 0h1m14 0h1m4 0h2m7 0h1m4 0h1m4 0h1m15 0h1m19 0h1m3 0h3m1 0h2m9 0h1m10 0h1m4 0h1m7 0h1m18 0h1m12 0h1m15 0h1m-418 1h2m2 0h2m5 0h1m13 0h1m1 0h1m2 0h1m6 0h1m1 0h2m8 0h2m4 0h1m7 0h1m2 0h2m1 0h1m8 0h1m7 0h1m2 0h1m2 0h1m1 0h1m3 0h2m2 0h1m9 0h2m3 0h2m18 0h1m7 0h1m19 0h1m8 0h1m19 0h1m20 0h1m9 0h1m11 0h1m8 0h1m2 0h1m1 0h1m1 0h1m1 0h1m2 0h1m1 0h1m2 0h1m3 0h1m4 0h1m1 0h1m9 0h1m1 0h3m13 0h1m8 0h1m1 0h1m16 0h1m2 0h1m2 0h2m2 0h1m2 0h1m11 0h1m1 0h1m10 0h1m1 0h1m5 0h1m4 0h1m49 0h1m1 0h1m8 0h1m-445 1h1m1 0h2m7 0h1m5 0h1m8 0h1m2 0h1m4 0h1m12 0h1m18 0h1m2 0h1m3 0h1m5 0h1m2 0h1m14 0h1m2 0h2m6 0h1m10 0h1m3 0h1m10 0h3m2 0h1m29 0h1m31 0h1m6 0h1m6 0h1m2 0h1m9 0h1m6 0h1m1 0h1m2 0h2m2 0h1m4 0h1m12 0h1m15 0h2m17 0h1m5 0h3m3 0h1m2 0h1m12 0h1m2 0h1m9 0h2m1 0h1m8 0h4m3 0h1m2 0h2m4 0h1m2 0h1m4 0h1m6 0h1m2 0h1m27 0h1m12 0h1m17 0h1m-446 1h1m3 0h1m3 0h2m1 0h1m2 0h3m1 0h1m5 0h1m2 0h1m3 0h3m1 0h1m8 0h3m25 0h1m8 0h1m3 0h1m1 0h1m1 0h1m2 0h1m3 0h2m4 0h2m2 0h1m12 0h1m11 0h1m6 0h1m9 0h1m2 0h1m12 0h1m18 0h2m11 0h1m15 0h1m6 0h1m4 0h2m1 0h2m1 0h1m1 0h1m11 0h1m5 0h1m5 0h1m2 0h1m15 0h1m5 0h2m7 0h2m7 0h1m1 0h1m4 0h2m5 0h1m2 0h5m2 0h1m7 0h1m2 0h3m9 0h4m2 0h1m9 0h2m8 0h1m20 0h1m15 0h1m25 0h1m2 0h1m-427 1h2m6 0h1m1 0h1m9 0h1m6 0h2m10 0h1m4 0h1m8 0h1m3 0h1m7 0h1m5 0h1m8 0h1m1 0h1m2 0h1m5 0h1m2 0h1m6 0h1m6 0h1m1 0h3m4 0h1m3 0h1m1 0h1m5 0h1m1 0h1m14 0h1m15 0h1m4 0h1m16 0h1m24 0h2m9 0h1m2 0h2m1 0h1m5 0h1m2 0h1m16 0h2m10 0h1m11 0h1m2 0h1m15 0h1m1 0h1m15 0h1m5 0h1m5 0h1m9 0h2m4 0h1m5 0h1m2 0h2m2 0h1m3 0h1m6 0h1m3 0h1m1 0h1m13 0h1m6 0h1m11 0h1m28 0h1m-449 1h1m5 0h1m5 0h1m1 0h1m15 0h1m7 0h1m1 0h1m1 0h2m7 0h1m5 0h1m4 0h1m1 0h1m6 0h3m5 0h2m8 0h1m8 0h1m5 0h1m5 0h1m2 0h1m2 0h1m10 0h1m1 0h1m2 0h1m4 0h3m2 0h2m7 0h1m10 0h1m11 0h1m14 0h1m9 0h1m12 0h1m1 0h1m6 0h1m11 0h1m1 0h1m1 0h1m5 0h1m4 0h2m4 0h1m3 0h1m1 0h1m3 0h1m11 0h1m9 0h2m2 0h1m3 0h1m10 0h1m1 0h1m8 0h1m8 0h1m8 0h1m3 0h1m4 0h2m8 0h2m1 0h2m2 0h3m4 0h1m2 0h1m1 0h1m5 0h2m59 0h1m6 0h1m-446 1h1m1 0h1m4 0h1m1 0h1m3 0h2m2 0h1m3 0h1m5 0h1m14 0h1m1 0h1m2 0h1m1 0h1m1 0h1m11 0h1m12 0h1m4 0h1m4 0h1m1 0h1m1 0h1m6 0h1m1 0h1m4 0h1m3 0h1m4 0h2m7 0h1m5 0h1m1 0h2m3 0h1m4 0h1m2 0h1m7 0h1m4 0h1m4 0h1m12 0h1m7 0h1m3 0h1m4 0h1m14 0h1m10 0h1m6 0h1m1 0h1m6 0h1m5 0h2m2 0h4m3 0h1m1 0h1m4 0h2m8 0h1m6 0h1m30 0h3m4 0h1m7 0h1m3 0h1m8 0h1m3 0h1m9 0h1m5 0h1m2 0h1m1 0h1m1 0h1m7 0h1m4 0h1m2 0h1m1 0h1m7 0h1m6 0h1m9 0h1m18 0h1m4 0h1m5 0h1m2 0h2m10 0h1m-448 1h1m2 0h1m8 0h2m4 0h1m7 0h1m2 0h1m4 0h1m6 0h2m2 0h1m1 0h1m5 0h2m1 0h1m2 0h1m3 0h1m2 0h1m15 0h1m12 0h1m11 0h1m3 0h1m5 0h1m4 0h1m1 0h1m4 0h1m3 0h1m1 0h1m1 0h1m2 0h1m2 0h1m10 0h1m2 0h1m10 0h2m14 0h1m51 0h1m1 0h1m1 0h1m3 0h1m1 0h1m1 0h1m4 0h1m2 0h1m1 0h1m1 0h1m5 0h1m4 0h1m10 0h2m3 0h1m1 0h1m10 0h1m1 0h1m4 0h1m6 0h1m3 0h1m2 0h1m11 0h1m2 0h1m4 0h1m2 0h2m4 0h2m6 0h2m1 0h2m6 0h2m2 0h1m4 0h1m5 0h1m24 0h1m1 0h1m27 0h1m6 0h1m-438 1h1m2 0h1m4 0h1m1 0h2m9 0h1m3 0h3m4 0h1m2 0h1m2 0h1m1 0h4m3 0h1m1 0h1m12 0h1m5 0h1m6 0h1m1 0h1m5 0h1m3 0h2m6 0h1m10 0h1m1 0h1m1 0h2m1 0h1m3 0h1m3 0h1m5 0h1m1 0h1m2 0h1m7 0h1m13 0h1m11 0h1m11 0h1m10 0h1m4 0h1m3 0h1m1 0h1m16 0h1m4 0h1m2 0h3m4 0h2m3 0h1m18 0h1m4 0h2m1 0h4m2 0h4m3 0h1m16 0h1m3 0h1m2 0h1m2 0h1m31 0h1m2 0h2m3 0h1m2 0h2m2 0h1m5 0h1m8 0h4m2 0h1m6 0h1m3 0h1m10 0h1m9 0h1m11 0h1m9 0h1m2 0h1m5 0h1m-438 1h1m7 0h1m7 0h1m8 0h1m1 0h1m5 0h1m1 0h1m5 0h2m9 0h1m5 0h1m12 0h2m6 0h1m2 0h1m7 0h2m1 0h1m2 0h1m1 0h1m7 0h1m6 0h1m10 0h1m1 0h2m7 0h1m6 0h1m9 0h1m10 0h1m1 0h1m1 0h2m5 0h4m3 0h2m7 0h1m2 0h2m10 0h1m4 0h2m6 0h1m6 0h1m6 0h1m1 0h2m4 0h1m10 0h1m7 0h1m2 0h1m3 0h1m2 0h1m3 0h1m7 0h1m1 0h1m20 0h1m1 0h1m5 0h1m1 0h2m2 0h1m6 0h1m2 0h1m2 0h1m5 0h1m2 0h1m2 0h1m3 0h1m1 0h1m2 0h2m8 0h1m2 0h1m1 0h1m15 0h1m6 0h1m2 0h1m6 0h1m6 0h1m7 0h2m1 0h1m8 0h1m2 0h1m2 0h1m5 0h1m1 0h1m-447 1h2m15 0h1m2 0h1m5 0h1m15 0h1m2 0h1m10 0h1m22 0h1m11 0h1m2 0h1m11 0h1m2 0h1m4 0h1m3 0h1m2 0h1m4 0h1m4 0h1m2 0h2m1 0h1m10 0h1m9 0h1m9 0h1m3 0h1m2 0h2m12 0h1m7 0h1m5 0h1m6 0h1m7 0h1m5 0h1m1 0h1m7 0h1m10 0h1m16 0h1m13 0h2m18 0h2m12 0h1m9 0h2m8 0h1m5 0h2m2 0h1m6 0h1m12 0h1m1 0h1m4 0h1m2 0h1m2 0h1m2 0h1m14 0h1m9 0h1m17 0h1m8 0h1m-432 1h1m2 0h1m2 0h2m5 0h1m4 0h1m4 0h2m2 0h1m4 0h3m5 0h1m4 0h1m16 0h1m30 0h1m2 0h1m2 0h1m2 0h1m2 0h1m5 0h2m5 0h1m4 0h1m7 0h1m1 0h1m1 0h1m12 0h1m3 0h1m6 0h1m7 0h1m1 0h1m1 0h3m1 0h1m11 0h1m7 0h1m6 0h1m4 0h1m3 0h1m7 0h1m8 0h1m10 0h2m8 0h1m2 0h2m1 0h1m1 0h1m4 0h1m6 0h2m23 0h1m14 0h2m4 0h1m8 0h1m6 0h1m6 0h1m4 0h1m1 0h1m2 0h1m3 0h2m1 0h1m1 0h1m2 0h1m13 0h1m10 0h1m7 0h1m2 0h2m8 0h1m12 0h2m6 0h1m8 0h1m1 0h2m9 0h1m-450 1h1m19 0h1m1 0h1m2 0h1m6 0h1m3 0h1m5 0h1m9 0h1m14 0h1m7 0h1m3 0h1m11 0h1m1 0h1m6 0h1m2 0h1m19 0h1m2 0h2m1 0h1m1 0h1m1 0h1m2 0h2m2 0h1m3 0h1m2 0h1m2 0h1m2 0h4m24 0h2m1 0h3m1 0h1m28 0h1m1 0h1m3 0h1m1 0h1m1 0h1m5 0h2m1 0h1m3 0h1m11 0h1m3 0h1m7 0h1m3 0h1m6 0h1m1 0h2m3 0h1m8 0h1m1 0h1m3 0h1m6 0h1m15 0h1m6 0h1m1 0h2m6 0h1m1 0h1m3 0h1m5 0h3m2 0h2m2 0h3m1 0h2m1 0h1m4 0h1m4 0h3m1 0h1m3 0h1m1 0h1m24 0h1m9 0h1m4 0h1m2 0h1m4 0h1m1 0h1m2 0h1m3 0h2m1 0h1m1 0h1m-447 1h1m3 0h1m4 0h1m2 0h1m3 0h1m1 0h1m2 0h1m12 0h1m1 0h1m3 0h1m19 0h1m29 0h1m2 0h1m2 0h1m5 0h1m5 0h1m1 0h1m1 0h2m8 0h1m6 0h1m1 0h1m3 0h1m1 0h1m2 0h1m1 0h1m5 0h1m8 0h1m12 0h2m11 0h1m6 0h1m4 0h1m7 0h2m3 0h2m2 0h1m6 0h2m3 0h1m2 0h1m1 0h1m1 0h1m10 0h1m5 0h1m1 0h2m2 0h1m4 0h1m11 0h1m23 0h1m7 0h1m4 0h1m12 0h1m3 0h1m1 0h1m8 0h1m7 0h1m9 0h2m1 0h1m1 0h4m3 0h1m2 0h1m5 0h1m13 0h1m6 0h1m1 0h1m5 0h2m11 0h1m8 0h1m2 0h2m4 0h1m1 0h1m8 0h1m-446 1h2m6 0h1m14 0h1m1 0h1m1 0h1m2 0h1m1 0h1m12 0h1m22 0h1m4 0h1m2 0h2m3 0h1m13 0h1m9 0h1m4 0h1m2 0h1m1 0h1m2 0h1m2 0h2m3 0h1m1 0h1m1 0h1m5 0h2m5 0h1m10 0h1m3 0h1m9 0h1m2 0h1m14 0h1m4 0h2m24 0h2m4 0h1m2 0h1m3 0h1m3 0h2m1 0h1m1 0h2m3 0h1m2 0h1m10 0h1m2 0h1m2 0h1m2 0h1m18 0h1m2 0h1m8 0h1m4 0h1m2 0h1m1 0h1m6 0h1m12 0h1m2 0h1m15 0h1m2 0h2m9 0h1m2 0h2m9 0h1m6 0h1m7 0h1m2 0h2m10 0h1m4 0h1m1 0h1m4 0h2m3 0h1m9 0h1m-426 1h1m4 0h1m1 0h1m9 0h1m16 0h1m20 0h1m3 0h1m3 0h1m43 0h1m7 0h1m2 0h1m11 0h2m5 0h1m1 0h1m2 0h1m4 0h1m16 0h2m1 0h2m3 0h1m3 0h1m8 0h1m1 0h1m1 0h1m7 0h1m5 0h1m4 0h1m4 0h1m16 0h1m3 0h1m2 0h1m7 0h1m9 0h1m13 0h1m2 0h1m2 0h1m2 0h1m9 0h1m3 0h1m23 0h1m5 0h1m10 0h1m5 0h2m1 0h1m7 0h1m1 0h2m7 0h1m1 0h2m2 0h2m3 0h2m6 0h1m23 0h1m5 0h1m1 0h1m12 0h1m-430 1h1m4 0h1m15 0h1m9 0h1m6 0h1m4 0h1m1 0h2m3 0h1m16 0h1m8 0h1m9 0h1m10 0h1m9 0h1m1 0h1m4 0h1m1 0h1m4 0h1m4 0h1m4 0h2m4 0h1m6 0h1m2 0h1m1 0h1m2 0h1m4 0h1m4 0h3m8 0h1m21 0h2m6 0h1m2 0h4m16 0h1m5 0h2m2 0h1m9 0h1m3 0h1m1 0h2m2 0h1m8 0h1m4 0h2m3 0h1m40 0h2m1 0h1m3 0h1m1 0h3m3 0h1m2 0h1m1 0h1m9 0h3m11 0h1m2 0h3m10 0h2m1 0h1m1 0h1m12 0h4m2 0h1m10 0h1m8 0h1m10 0h1m3 0h1m5 0h1m2 0h1m-449 1h1m1 0h1m11 0h3m1 0h1m9 0h1m13 0h1m4 0h1m17 0h1m1 0h1m25 0h1m4 0h2m29 0h1m6 0h1m4 0h1m3 0h2m2 0h1m5 0h1m10 0h1m5 0h1m11 0h2m11 0h1m2 0h3m1 0h1m5 0h1m5 0h1m5 0h1m1 0h1m2 0h1m3 0h1m9 0h1m3 0h1m11 0h1m5 0h1m9 0h1m16 0h1m18 0h1m24 0h1m7 0h1m3 0h1m1 0h1m17 0h1m5 0h1m2 0h1m6 0h1m20 0h1m5 0h1m9 0h1m6 0h1m1 0h1m2 0h1m2 0h1m6 0h1m-434 1h1m1 0h1m6 0h2m2 0h2m7 0h1m12 0h1m16 0h1m20 0h1m31 0h1m3 0h1m16 0h1m1 0h1m5 0h1m3 0h2m5 0h1m2 0h1m3 0h1m25 0h1m3 0h2m7 0h1m3 0h1m7 0h1m8 0h1m2 0h1m9 0h3m2 0h1m4 0h1m3 0h1m13 0h1m2 0h1m11 0h1m9 0h1m4 0h1m15 0h1m14 0h1m6 0h2m10 0h1m1 0h1m2 0h1m11 0h1m2 0h1m5 0h1m4 0h1m1 0h1m4 0h2m1 0h2m14 0h1m6 0h1m3 0h1m1 0h1m5 0h1m6 0h1m12 0h2m3 0h1m-444 1h1m2 0h2m3 0h1m1 0h1m2 0h1m2 0h1m8 0h1m3 0h1m5 0h1m5 0h1m56 0h1m19 0h1m1 0h1m7 0h1m12 0h1m2 0h1m5 0h1m2 0h2m6 0h2m8 0h2m1 0h2m8 0h1m5 0h2m4 0h1m10 0h1m2 0h2m1 0h1m6 0h1m3 0h1m1 0h1m5 0h2m1 0h2m20 0h1m18 0h1m44 0h1m20 0h1m3 0h1m6 0h1m3 0h1m1 0h1m4 0h1m3 0h3m4 0h1m3 0h1m1 0h3m14 0h3m7 0h1m6 0h1m3 0h1m1 0h1m9 0h1m-433 1h1m2 0h1m12 0h1m5 0h1m3 0h1m4 0h1m2 0h1m2 0h2m14 0h1m15 0h1m16 0h1m17 0h1m7 0h1m2 0h1m10 0h1m3 0h1m6 0h1m1 0h1m3 0h1m5 0h1m1 0h1m1 0h1m2 0h2m5 0h2m3 0h2m1 0h2m14 0h1m2 0h1m12 0h1m2 0h1m2 0h1m18 0h2m1 0h1m9 0h1m6 0h1m12 0h1m1 0h1m31 0h1m13 0h1m5 0h1m14 0h1m8 0h1m9 0h1m13 0h1m8 0h1m1 0h1m2 0h1m1 0h1m2 0h1m6 0h1m2 0h1m4 0h1m6 0h1m3 0h1m6 0h1m4 0h1m7 0h1m4 0h1m12 0h1m2 0h2m-449 1h1m1 0h1m2 0h1m12 0h2m1 0h1m18 0h1m33 0h1m24 0h1m9 0h1m5 0h1m17 0h1m4 0h1m1 0h2m2 0h1m5 0h1m3 0h1m1 0h1m9 0h1m2 0h3m4 0h2m1 0h3m2 0h1m1 0h1m10 0h1m2 0h1m1 0h2m8 0h2m10 0h1m4 0h1m1 0h1m21 0h1m8 0h1m7 0h1m1 0h1m3 0h1m50 0h1m4 0h1m1 0h1m2 0h2m1 0h1m3 0h1m5 0h1m8 0h1m3 0h4m2 0h2m4 0h1m2 0h1m2 0h1m11 0h1m11 0h2m2 0h1m8 0h1m9 0h1m6 0h1m2 0h1m1 0h1m1 0h1m1 0h1m2 0h1m-449 1h1m7 0h1m8 0h2m3 0h2m4 0h1m14 0h1m62 0h1m13 0h1m2 0h1m2 0h1m11 0h2m13 0h1m1 0h1m4 0h1m5 0h1m13 0h1m5 0h1m16 0h1m2 0h2m1 0h1m1 0h2m2 0h1m9 0h1m6 0h1m1 0h1m1 0h1m1 0h1m10 0h1m2 0h1m50 0h1m43 0h1m1 0h1m2 0h1m18 0h1m4 0h2m1 0h1m1 0h2m2 0h1m25 0h2m1 0h1m1 0h1m9 0h1m2 0h1m1 0h1m1 0h1m1 0h2m3 0h1m4 0h1m-447 1h1m2 0h4m3 0h4m4 0h1m14 0h1m15 0h1m15 0h1m38 0h1m1 0h1m20 0h1m5 0h2m4 0h2m4 0h1m3 0h1m4 0h1m4 0h1m3 0h1m6 0h1m4 0h2m10 0h1m2 0h1m1 0h1m1 0h1m12 0h1m3 0h1m4 0h1m2 0h2m1 0h1m13 0h3m15 0h1m2 0h2m42 0h1m38 0h1m7 0h1m10 0h1m5 0h1m8 0h1m4 0h1m5 0h4m1 0h3m2 0h1m1 0h1m13 0h1m1 0h1m5 0h1m13 0h2m5 0h1m1 0h1m1 0h1m2 0h1m-448 1h1m4 0h1m4 0h1m3 0h1m1 0h1m2 0h1m20 0h1m50 0h1m43 0h1m1 0h1m3 0h2m1 0h1m2 0h1m1 0h2m1 0h1m2 0h1m3 0h1m1 0h2m1 0h1m1 0h1m1 0h1m3 0h1m7 0h2m3 0h1m6 0h1m8 0h3m7 0h1m1 0h1m1 0h1m3 0h1m11 0h1m1 0h2m1 0h1m6 0h1m7 0h1m20 0h1m57 0h1m5 0h2m6 0h1m7 0h1m4 0h1m19 0h1m3 0h1m2 0h1m4 0h1m1 0h1m1 0h1m1 0h1m10 0h1m6 0h1m4 0h1m10 0h1m6 0h1m2 0h1m5 0h1m-443 1h1m2 0h1m4 0h2m2 0h1m1 0h1m13 0h1m13 0h1m8 0h1m66 0h1m2 0h1m4 0h1m1 0h2m11 0h2m6 0h1m4 0h1m3 0h2m1 0h2m4 0h1m1 0h2m4 0h1m6 0h1m4 0h1m2 0h1m6 0h1m7 0h1m8 0h5m6 0h1m6 0h2m14 0h1m5 0h1m22 0h1m74 0h1m1 0h1m6 0h2m6 0h1m16 0h1m1 0h2m5 0h1m2 0h1m3 0h2m1 0h1m2 0h3m4 0h1m2 0h2m12 0h1m5 0h1m2 0h2m-443 1h2m3 0h2m4 0h1m2 0h1m99 0h1m1 0h1m4 0h2m9 0h1m1 0h1m1 0h1m12 0h1m10 0h3m1 0h1m7 0h1m1 0h1m7 0h1m4 0h1m1 0h1m1 0h1m1 0h1m1 0h1m14 0h2m6 0h1m7 0h2m3 0h2m2 0h1m13 0h1m7 0h2m22 0h1m32 0h1m14 0h1m11 0h1m5 0h1m3 0h1m17 0h1m2 0h1m6 0h1m4 0h1m2 0h1m2 0h1m7 0h2m1 0h3m1 0h1m1 0h2m2 0h1m1 0h1m12 0h1m5 0h1m4 0h2m1 0h1m-443 1h2m8 0h2m1 0h2m10 0h1m83 0h1m15 0h1m1 0h1m2 0h1m3 0h1m17 0h1m5 0h3m4 0h2m9 0h1m12 0h1m6 0h2m5 0h1m2 0h1m4 0h1m1 0h1m4 0h3m4 0h2m4 0h1m2 0h3m3 0h1m59 0h1m20 0h1m12 0h1m10 0h1m5 0h2m2 0h1m6 0h1m1 0h1m2 0h1m18 0h1m4 0h2m1 0h1m9 0h1m15 0h1m7 0h1m3 0h1m16 0h1m-432 1h1m22 0h1m43 0h1m36 0h1m6 0h1m6 0h2m4 0h1m10 0h1m5 0h3m1 0h1m1 0h1m2 0h1m5 0h1m1 0h1m10 0h1m5 0h1m1 0h2m2 0h1m4 0h1m3 0h1m1 0h1m1 0h1m3 0h3m2 0h1m12 0h1m102 0h1m13 0h1m3 0h1m6 0h2m3 0h1m10 0h1m5 0h2m2 0h1m1 0h1m1 0h2m2 0h1m3 0h1m1 0h1m7 0h1m1 0h1m1 0h1m1 0h7m5 0h2m4 0h1m4 0h1m1 0h1m-441 1h1m1 0h2m2 0h1m3 0h1m1 0h1m10 0h1m13 0h1m31 0h1m35 0h1m14 0h1m2 0h1m8 0h1m1 0h1m4 0h1m12 0h1m3 0h1m2 0h1m2 0h1m5 0h2m7 0h1m1 0h1m6 0h1m2 0h1m13 0h1m2 0h1m3 0h1m2 0h1m7 0h1m9 0h1m4 0h1m3 0h1m6 0h1m5 0h1m31 0h1m50 0h1m7 0h1m4 0h1m2 0h1m1 0h1m13 0h1m1 0h1m1 0h1m8 0h1m2 0h1m2 0h1m5 0h3m1 0h1m1 0h1m13 0h1m1 0h1m1 0h1m4 0h3m7 0h1m6 0h1m3 0h2m-447 1h1m1 0h1m5 0h1m12 0h1m1 0h1m2 0h2m85 0h1m8 0h1m8 0h1m3 0h1m1 0h3m1 0h1m13 0h1m1 0h2m1 0h1m4 0h1m2 0h1m3 0h1m9 0h2m3 0h1m4 0h2m5 0h3m6 0h2m11 0h1m4 0h2m7 0h1m5 0h1m24 0h1m43 0h1m42 0h1m2 0h1m4 0h1m7 0h1m1 0h1m6 0h1m3 0h1m2 0h1m4 0h2m1 0h1m6 0h1m5 0h1m1 0h1m3 0h1m11 0h1m4 0h1m2 0h1m2 0h1m2 0h1m5 0h2m2 0h2m-447 1h1m2 0h3m2 0h1m10 0h1m89 0h1m12 0h1m6 0h1m4 0h1m3 0h1m8 0h2m1 0h2m15 0h1m14 0h1m4 0h1m5 0h1m2 0h1m4 0h3m2 0h1m23 0h1m1 0h1m5 0h1m1 0h1m2 0h1m102 0h1m9 0h1m6 0h1m7 0h1m2 0h4m5 0h1m2 0h1m1 0h2m4 0h1m5 0h1m11 0h2m1 0h1m7 0h1m1 0h1m1 0h2m3 0h1m3 0h1m3 0h1m5 0h1m-434 1h1m2 0h1m1 0h1m1 0h1m1 0h1m1 0h1m1 0h1m3 0h1m5 0h1m3 0h1m35 0h1m41 0h2m6 0h2m20 0h1m3 0h1m16 0h2m5 0h1m2 0h1m3 0h1m2 0h1m2 0h1m2 0h1m6 0h1m9 0h1m6 0h2m2 0h1m4 0h2m2 0h1m21 0h1m50 0h1m4 0h1m3 0h1m31 0h2m1 0h1m5 0h1m13 0h1m2 0h2m1 0h1m1 0h1m3 0h1m5 0h1m7 0h1m8 0h1m6 0h1m1 0h1m1 0h1m1 0h1m2 0h1m4 0h1m3 0h1m2 0h1m4 0h2m11 0h1m-443 1h1m1 0h1m2 0h1m14 0h1m17 0h1m76 0h1m5 0h1m11 0h1m5 0h1m1 0h1m3 0h1m2 0h1m6 0h1m7 0h1m1 0h1m7 0h1m2 0h1m2 0h1m6 0h1m3 0h1m8 0h1m1 0h2m1 0h1m2 0h1m4 0h1m3 0h1m4 0h2m1 0h1m6 0h1m4 0h1m4 0h1m84 0h1m11 0h1m7 0h1m18 0h2m2 0h1m1 0h1m12 0h1m10 0h1m1 0h1m3 0h2m2 0h2m3 0h1m9 0h1m1 0h1m4 0h1m2 0h2m-440 1h1m5 0h1m10 0h1m5 0h1m75 0h1m5 0h1m4 0h1m14 0h1m12 0h1m12 0h1m1 0h1m9 0h2m5 0h1m3 0h1m6 0h2m4 0h1m4 0h2m3 0h1m5 0h1m12 0h1m14 0h1m1 0h1m7 0h1m1 0h1m101 0h1m9 0h1m13 0h1m6 0h1m4 0h1m6 0h1m1 0h1m1 0h2m2 0h1m6 0h2m2 0h1m3 0h1m4 0h1m1 0h2m8 0h1m3 0h1m1 0h2m8 0h1m5 0h1m-447 1h1m3 0h2m5 0h1m8 0h1m82 0h1m28 0h1m1 0h1m4 0h1m15 0h1m12 0h1m8 0h1m2 0h1m2 0h1m3 0h2m1 0h2m4 0h1m3 0h2m1 0h2m3 0h1m10 0h1m1 0h1m3 0h1m2 0h1m1 0h2m12 0h1m3 0h1m2 0h1m89 0h1m19 0h1m2 0h1m5 0h2m6 0h3m3 0h2m8 0h2m3 0h1m3 0h2m1 0h1m1 0h2m4 0h2m1 0h1m1 0h1m4 0h2m1 0h1m2 0h2m1 0h1m8 0h1m2 0h1m-448 1h1m6 0h2m2 0h1m108 0h1m3 0h1m17 0h1m3 0h1m2 0h1m12 0h1m3 0h1m13 0h1m2 0h1m11 0h2m1 0h2m1 0h1m2 0h1m7 0h1m2 0h2m1 0h1m14 0h1m13 0h1m64 0h1m38 0h1m10 0h1m10 0h1m11 0h1m1 0h1m4 0h1m3 0h1m1 0h1m13 0h1m3 0h3m7 0h1m10 0h2m1 0h1m3 0h1m2 0h1m-433 1h2m6 0h2m104 0h1m9 0h1m2 0h2m1 0h1m1 0h1m3 0h1m4 0h1m6 0h1m3 0h1m5 0h1m1 0h1m2 0h1m1 0h1m4 0h1m4 0h1m3 0h2m1 0h1m2 0h2m3 0h1m1 0h1m2 0h1m3 0h2m1 0h1m12 0h1m2 0h1m1 0h1m14 0h1m13 0h1m62 0h1m33 0h1m4 0h1m1 0h1m2 0h1m6 0h1m2 0h1m5 0h1m5 0h2m9 0h1m2 0h1m2 0h1m6 0h1m2 0h4m3 0h1m4 0h2m1 0h1m4 0h2m2 0h1m-421 1h1m126 0h1m1 0h1m5 0h4m3 0h2m2 0h3m14 0h1m3 0h1m12 0h1m5 0h1m6 0h1m3 0h1m6 0h3m1 0h1m17 0h1m15 0h1m62 0h1m1 0h1m1 0h1m13 0h1m4 0h1m5 0h1m8 0h1m11 0h1m2 0h1m2 0h1m5 0h2m1 0h1m7 0h1m2 0h2m5 0h2m2 0h1m5 0h1m10 0h1m3 0h1m1 0h2m1 0h1m-438 1h1m8 0h1m5 0h1m101 0h1m11 0h2m4 0h1m4 0h1m2 0h1m19 0h1m2 0h1m3 0h2m5 0h1m3 0h1m4 0h1m4 0h1m5 0h1m1 0h1m7 0h1m14 0h1m17 0h1m113 0h3m7 0h1m3 0h1m3 0h1m10 0h1m7 0h2m4 0h1m14 0h1m13 0h1m11 0h1m3 0h1m-443 1h1m2 0h1m81 0h1m48 0h1m4 0h1m14 0h1m5 0h1m3 0h1m3 0h1m2 0h3m7 0h1m7 0h1m1 0h1m3 0h3m1 0h1m5 0h1m8 0h1m11 0h1m2 0h1m94 0h1m23 0h1m6 0h1m7 0h2m1 0h1m6 0h1m3 0h1m4 0h1m8 0h1m1 0h2m1 0h1m5 0h2m12 0h2m1 0h1m4 0h1m1 0h1m2 0h1m4 0h1m5 0h1m-439 1h1m42 0h1m76 0h2m22 0h1m1 0h1m5 0h1m5 0h2m10 0h2m5 0h1m1 0h1m2 0h1m3 0h1m7 0h2m32 0h1m117 0h1m22 0h1m16 0h1m9 0h1m1 0h3m3 0h1m1 0h1m1 0h1m4 0h2m5 0h1m8 0h2m4 0h1m4 0h1m-423 1h1m2 0h1m85 0h1m13 0h1m34 0h1m1 0h1m4 0h1m4 0h1m1 0h1m4 0h1m10 0h3m3 0h1m12 0h1m2 0h1m7 0h2m24 0h1m55 0h1m42 0h1m4 0h1m19 0h1m5 0h1m4 0h1m1 0h1m4 0h1m1 0h1m1 0h1m6 0h1m4 0h1m6 0h1m4 0h2m5 0h1m10 0h2m2 0h1m3 0h1m-444 1h1m13 0h1m3 0h1m115 0h1m15 0h1m2 0h1m15 0h1m2 0h1m8 0h1m3 0h1m13 0h1m3 0h1m9 0h2m2 0h1m77 0h1m69 0h1m5 0h1m6 0h1m8 0h1m1 0h1m4 0h1m13 0h1m3 0h1m11 0h1m2 0h1m4 0h3m-413 1h1m7 0h1m40 0h1m59 0h1m5 0h1m13 0h3m1 0h1m2 0h1m2 0h1m3 0h1m3 0h1m2 0h2m8 0h2m3 0h1m4 0h1m11 0h1m6 0h1m2 0h1m5 0h1m141 0h1m5 0h1m16 0h1m8 0h1m3 0h1m10 0h1m3 0h1m2 0h2m6 0h1m5 0h1m9 0h1m-435 1h1m136 0h1m4 0h1m1 0h1m6 0h2m8 0h1m5 0h2m1 0h1m5 0h2m20 0h1m5 0h2m3 0h2m6 0h1m126 0h1m4 0h1m7 0h3m3 0h1m6 0h1m2 0h1m3 0h1m15 0h1m1 0h4m3 0h2m11 0h1m6 0h1m1 0h1m2 0h1m1 0h1m10 0h1m-441 1h1m122 0h1m7 0h1m21 0h1m1 0h1m3 0h1m1 0h1m4 0h1m2 0h2m7 0h1m8 0h1m5 0h1m5 0h1m22 0h1m7 0h1m5 0h1m112 0h1m20 0h1m27 0h1m4 0h1m2 0h1m3 0h1m1 0h1m5 0h1m11 0h1m-439 1h1m7 0h1m4 0h1m10 0h1m89 0h1m5 0h1m25 0h1m22 0h1m1 0h1m6 0h1m8 0h1m14 0h2m2 0h1m2 0h1m13 0h1m157 0h1m6 0h1m5 0h2m1 0h1m5 0h2m1 0h1m18 0h1m2 0h1m6 0h3m10 0h1m-450 1h1m1 0h1m1 0h1m138 0h1m9 0h1m2 0h1m3 0h2m1 0h1m1 0h1m22 0h1m3 0h1m3 0h1m2 0h1m7 0h2m14 0h1m1 0h1m3 0h1m38 0h1m87 0h1m28 0h1m1 0h1m6 0h1m2 0h1m14 0h1m4 0h1m6 0h1m3 0h1m3 0h2m-418 1h1m113 0h1m5 0h1m12 0h1m12 0h1m17 0h1m3 0h1m5 0h1m7 0h1m12 0h1m5 0h1m1 0h1m1 0h1m166 0h1m12 0h1m10 0h1m3 0h1m7 0h2m1 0h1m9 0h1m2 0h1m2 0h1m4 0h1m-440 1h1m145 0h2m8 0h1m1 0h1m8 0h1m1 0h1m5 0h2m5 0h1m2 0h1m6 0h2m3 0h1m7 0h1m2 0h1m8 0h1m2 0h1m6 0h1m12 0h1m129 0h1m11 0h1m4 0h1m5 0h1m14 0h1m4 0h2m4 0h1m1 0h1m2 0h1m4 0h1m2 0h1m-439 1h1m4 0h1m146 0h1m11 0h1m14 0h1m1 0h1m6 0h1m4 0h1m2 0h1m15 0h1m5 0h1m3 0h1m82 0h1m85 0h1m7 0h1m6 0h1m10 0h1m15 0h2m2 0h1m-434 1h1m34 0h1m127 0h2m6 0h1m7 0h1m9 0h2m4 0h1m32 0h1m121 0h1m33 0h1m5 0h1m3 0h1m2 0h1m2 0h1m3 0h1m3 0h1m1 0h1m3 0h1m11 0h1m2 0h1m8 0h1m-285 1h1m7 0h1m11 0h1m1 0h1m3 0h1m8 0h1m4 0h1m11 0h1m161 0h1m9 0h1m5 0h1m17 0h3m34 0h1m-396 1h1m122 0h1m3 0h1m8 0h1m7 0h2m3 0h1m6 0h1m1 0h1m33 0h1m168 0h1m2 0h1m4 0h3m9 0h2m11 0h1m-444 1h1m119 0h1m57 0h1m22 0h1m7 0h1m1 0h1m7 0h1m17 0h2m162 0h1m-398 1h1m90 0h1m75 0h1m1 0h1m3 0h1m1 0h1m1 0h1m2 0h1m1 0h1m2 0h1m7 0h1m1 0h1m201 0h2m2 0h1m32 0h1m1 0h1m-442 1h1m134 0h1m1 0h1m24 0h1m30 0h1m2 0h1m6 0h1m9 0h1m9 0h1m2 0h1m4 0h1m128 0h1m11 0h1m62 0h1m3 0h1m-419 1h1m4 0h1m100 0h1m86 0h1m18 0h1m149 0h1m3 0h1m2 0h1m18 0h1m16 0h1m3 0h1m-283 1h1m33 0h1m3 0h1m11 0h1m4 0h2m8 0h1m1 0h1m3 0h2m170 0h1m17 0h1m9 0h1m10 0h2m11 0h1m1 0h1m-404 1h1m81 0h1m29 0h1m17 0h1m3 0h1m1 0h1m40 0h1m13 0h1m168 0h1m19 0h1m8 0h1m-433 1h1m7 0h1m136 0h1m12 0h1m4 0h1m6 0h1m9 0h1m4 0h1m8 0h1m8 0h1m11 0h1m190 0h1m29 0h1m3 0h1m-260 1h1m4 0h1m13 0h1m2 0h1m163 0h1m-365 1h1m126 0h1m30 0h1m5 0h1m1 0h1m14 0h1m200 0h1m6 0h2m5 0h1m9 0h1m31 0h1m-302 1h1m44 0h1m9 0h1m9 0h1m175 0h1m39 0h1m-294 1h1m24 0h1m3 0h1m14 0h1m12 0h1m34 0h1m177 0h1m28 0h1m7 0h1m-258 1h1m13 0h1m4 0h1m200 0h1m11 0h1m12 0h1m-421 1h1m53 0h1m142 0h1m4 0h1m2 0h1m2 0h1m139 0h1m48 0h1m31 0h1m3 0h1m-312 1h1m46 0h1m234 0h1m-242 1h1m30 0h1m14 0h1m212 0h1m-356 1h1m110 0h1m231 0h1m-220 1h1m51 0h1m195 0h1m-300 1h1m249 0h1m11 0h1m-231 1h1m31 0h1m139 0h1m94 0h1m-320 1h1m-67 1h1m112 0h1m3 0h1m1 0h2m232 0h1m-395 1h1m356 0h1m53 0h1m-262 1h1m160 0h1m-60 1h1m-121 1h1m60 0h1m163 0h1m-197 1h1m79 0h1m-169 1h1m104 0h1m7 0h1m146 0h1m68 0h1m-289 1h1m10 0h1m222 0h1m1 0h1m-22 1h1m95 0h1m-350 1h1m329 0h1m-397 1h1m-27 1h1m159 0h1m70 2h1m203 1h1m-316 1h1m106 0h1m109 0h1m-155 6h1m-63 1h1m9 0h1m302 0h1m-415 1h1m224 0h1m192 0h1m-320 1h1m195 0h1m68 1h1m-149 1h1m-39 1h1m186 1h1m-293 1h1m59 1h1m17 0h1m207 0h1m-178 1h1m46 0h1m-71 1h1m-79 4h1m261 1h1m-328 2h1m168 0h1m131 2h1m-205 2h1m9 1h1m300 0h1m-257 1h1m-166 7h1m-19 1h1m244 0h1m-251 4h1m225 0h1m-120 2h1m187 1h1m116 0h1m-141 2h1m-110 2h1m27 1h1m196 1h1m-107 2h1m-199 1h1m301 2h1m-207 1h1m189 2h1m-334 1h1m135 1h1m35 0h1m-82 1h1m140 1h1m-154 1h1m219 0h1m-27 3h1m80 0h1m-256 1h1m172 0h1m-284 2h1m411 1h1m-393 2h1m304 0h1m-230 4h1m57 3h1m4 3h1m19 0h1m224 0h1m-288 2h1m58 1h1"/>
<path id="g6" d="M379 75.5h1m-160 4h1m-23 2h1m152 0h1m52 0h1m-120 3h1m-124 2h1m25 0h1m73 1h1m9 2h1m-82 1h1m5 1h1m224 0h1m115 8h1m-327 1h1m226 1h1m-202 2h1m212 1h1m-267 1h1m242 0h1m12 0h1m-129 1h1m70 0h1m59 3h1m-228 5h1m325 2h1m-405 1h1m17 2h1m61 7h1m41 0h1m89 0h1m77 0h1m56 0h1m-316 2h1m203 1h1m-122 8h1m-85 1h1m24 0h1m-45 1h1m228 1h1m-153 4h1m179 0h1m20 1h1m77 0h1m9 0h1m-178 1h1m-157 2h1m156 0h1m-180 1h1m38 2h1m25 1h1m225 0h1m-289 1h1m45 0h1m65 0h1m17 0h1m82 0h1m58 0h1m-276 1h1m33 0h1m-47 1h1m23 0h1m312 1h1m-352 1h1m33 0h1m76 0h1m113 0h1m35 0h1m10 0h1m63 0h1m63 0h1m-384 1h1m200 0h1m147 0h1m-22 1h1m-378 1h1m279 1h1m-222 1h1m268 0h1m-187 1h1m-46 1h1m186 0h1m1 0h1m22 0h1m-132 1h1m-111 1h1m64 0h1m68 0h1m-124 1h1m40 0h1m10 0h1m103 0h1m93 0h1m-230 1h1m222 0h1m-283 1h1m51 0h1m1 0h1m-57 1h1m20 0h1m10 0h1m7 2h1m249 0h1m-289 1h1m59 0h1m300 0h1m-317 1h1m63 0h1m150 0h1m74 0h1m20 0h1m42 0h1m-217 1h1m199 0h1m24 0h1m-392 1h1m11 0h1m208 0h1m-254 1h2m83 0h1m-70 1h1m1 0h1m29 0h1m183 0h1m84 0h1m-333 1h1m38 0h1m2 0h1m4 0h1m17 0h1m89 0h1m69 0h1m14 0h1m42 0h1m19 0h1m-59 1h1m28 0h1m12 0h1m-253 1h1m16 0h1m43 0h1m164 0h1m57 0h1m9 0h1m5 0h1m65 0h1m23 0h1m-402 1h1m14 0h1m8 0h1m26 0h1m183 0h1m5 0h1m8 0h1m19 0h1m6 0h1m50 0h1m1 0h1m83 0h1m-408 1h1m7 0h1m26 0h1m1 0h2m39 0h1m147 0h1m1 0h1m13 0h1m20 0h1m-266 1h1m23 0h1m7 0h1m14 0h1m11 0h1m92 0h1m99 0h1m69 0h1m-310 1h3m26 0h1m198 0h1m6 0h1m12 0h1m5 0h1m3 0h1m2 0h1m-287 1h1m50 0h1m181 0h1m41 0h1m4 0h1m105 0h1m-410 1h1m45 0h1m8 0h1m21 0h1m1 0h1m14 0h2m12 0h1m71 0h1m92 0h2m5 0h1m2 0h1m5 0h1m6 0h1m-301 1h1m1 0h1m56 0h2m19 0h1m20 0h1m1 0h1m122 0h1m63 0h1m3 0h1m11 0h1m17 0h1m1 0h1m1 0h1m-281 1h1m38 0h1m19 0h1m4 0h1m21 0h1m161 0h1m8 0h1m19 0h1m34 0h1m-305 1h1m29 0h1m192 0h1m16 0h2m47 0h1m-316 1h1m26 0h1m6 0h1m5 0h1m6 0h1m2 0h1m3 0h1m136 0h1m77 0h1m7 0h1m43 0h1m-311 1h1m26 0h1m14 0h1m24 0h1m37 0h1m94 0h1m5 0h1m4 0h1m22 0h1m5 0h1m27 0h1m137 0h1m-409 1h1m12 0h1m4 0h1m2 0h2m9 0h1m15 0h1m187 0h1m9 0h1m24 0h1m31 0h1m11 0h1m-310 1h1m3 0h1m10 0h1m2 0h1m6 0h1m4 0h1m32 0h1m9 0h1m172 0h1m8 0h1m15 0h1m4 0h1m11 0h1m-304 1h1m4 0h1m31 0h1m23 0h1m6 0h1m1 0h1m163 0h1m43 0h1m1 0h3m15 0h1m23 0h1m-332 1h1m11 0h1m8 0h1m14 0h1m8 0h1m1 0h1m11 0h1m13 0h1m54 0h1m43 0h1m53 0h1m4 0h1m6 0h1m21 0h1m10 0h1m2 0h1m10 0h1m3 0h1m9 0h2m75 0h1m-352 1h1m6 0h1m8 0h1m4 0h1m2 0h1m17 0h1m10 0h1m17 0h1m10 0h1m1 0h1m125 0h1m29 0h1m17 0h1m5 0h1m6 0h1m52 0h1m-347 1h1m17 0h1m8 0h1m6 0h1m4 0h1m7 0h1m114 0h1m70 0h1m9 0h1m21 0h1m5 0h1m5 0h1m-285 1h1m30 0h2m1 0h3m3 0h1m6 0h2m12 0h1m187 0h1m18 0h1m4 0h1m12 0h1m19 0h1m1 0h1m62 0h1m-357 1h1m21 0h1m4 0h1m13 0h1m9 0h1m1 0h1m2 0h1m5 0h1m2 0h1m5 0h1m9 0h1m155 0h1m13 0h1m3 0h1m8 0h1m4 0h1m3 0h1m4 0h1m6 0h1m60 0h2m-362 1h1m2 0h1m7 0h1m6 0h1m8 0h1m9 0h1m14 0h1m7 0h1m7 0h1m1 0h1m1 0h1m26 0h1m5 0h1m7 0h1m8 0h1m100 0h1m5 0h1m22 0h1m12 0h1m12 0h1m2 0h1m8 0h1m7 0h1m5 0h1m9 0h1m2 0h1m12 0h2m16 0h1m-359 1h1m7 0h1m35 0h3m11 0h1m2 0h2m1 0h2m4 0h1m3 0h1m30 0h1m4 0h1m13 0h1m113 0h1m27 0h1m7 0h1m5 0h1m4 0h1m7 0h1m3 0h1m17 0h1m20 0h1m1 0h1m-339 1h1m37 0h1m2 0h1m1 0h1m3 0h1m1 0h1m7 0h1m25 0h1m31 0h1m23 0h1m102 0h2m5 0h1m4 0h1m7 0h1m1 0h1m3 0h1m3 0h1m1 0h1m1 0h1m16 0h1m15 0h1m31 0h1m10 0h1m-320 1h1m17 0h2m3 0h1m1 0h1m5 0h2m1 0h3m5 0h1m5 0h1m4 0h1m16 0h1m17 0h1m28 0h1m16 0h1m66 0h1m9 0h1m25 0h1m18 0h2m10 0h1m2 0h1m1 0h1m1 0h1m3 0h1m25 0h1m-333 1h1m18 0h1m3 0h1m11 0h1m1 0h1m3 0h2m10 0h1m1 0h1m33 0h1m4 0h1m12 0h1m126 0h1m14 0h1m4 0h1m11 0h2m4 0h1m4 0h1m10 0h1m3 0h1m3 0h1m12 0h1m79 0h1m-382 1h1m1 0h1m16 0h1m4 0h2m4 0h1m5 0h1m2 0h1m3 0h2m32 0h1m179 0h1m3 0h1m3 0h1m8 0h1m13 0h1m9 0h1m1 0h1m8 0h1m14 0h1m4 0h1m-344 1h1m15 0h1m6 0h1m1 0h1m4 0h1m2 0h1m13 0h1m5 0h1m1 0h1m1 0h1m10 0h1m7 0h1m2 0h1m3 0h1m1 0h1m4 0h1m3 0h1m17 0h1m24 0h1m101 0h2m13 0h1m13 0h1m2 0h1m3 0h1m1 0h1m2 0h1m1 0h1m1 0h1m3 0h1m6 0h1m3 0h1m5 0h1m6 0h1m3 0h1m1 0h1m89 0h1m-405 1h1m19 0h1m1 0h1m2 0h1m14 0h1m2 0h4m5 0h1m3 0h1m3 0h1m2 0h1m6 0h1m10 0h1m12 0h1m25 0h1m119 0h1m18 0h1m4 0h1m4 0h2m5 0h1m14 0h1m3 0h3m16 0h1m1 0h1m19 0h1m-320 1h1m12 0h1m4 0h1m11 0h1m29 0h1m7 0h1m6 0h1m5 0h1m4 0h1m37 0h1m2 0h1m71 0h1m10 0h1m2 0h1m14 0h1m22 0h2m11 0h1m9 0h1m6 0h1m12 0h1m1 0h1m3 0h1m3 0h1m-324 1h1m13 0h1m9 0h1m11 0h2m4 0h1m4 0h2m1 0h1m2 0h2m3 0h1m1 0h3m1 0h2m8 0h1m6 0h1m7 0h1m15 0h1m4 0h1m23 0h1m9 0h1m21 0h1m5 0h1m5 0h1m60 0h1m12 0h1m2 0h2m5 0h1m19 0h1m4 0h2m6 0h1m10 0h1m9 0h1m46 0h1m5 0h1m27 0h2m-391 1h1m19 0h3m3 0h1m1 0h1m1 0h1m8 0h1m8 0h1m11 0h1m7 0h1m7 0h1m17 0h1m26 0h1m88 0h1m34 0h1m5 0h1m3 0h2m1 0h1m2 0h2m4 0h1m7 0h1m5 0h1m10 0h1m19 0h1m6 0h1m1 0h1m7 0h1m17 0h1m72 0h1m-424 1h1m2 0h1m12 0h1m15 0h1m1 0h1m8 0h1m1 0h1m5 0h2m3 0h2m1 0h1m3 0h1m1 0h1m1 0h2m3 0h1m4 0h1m8 0h1m2 0h1m1 0h1m3 0h1m12 0h1m120 0h1m7 0h1m8 0h2m6 0h1m3 0h1m3 0h1m2 0h1m3 0h1m6 0h1m3 0h1m6 0h4m1 0h1m1 0h1m9 0h2m5 0h1m4 0h1m3 0h2m2 0h1m4 0h1m1 0h1m25 0h1m-362 1h1m13 0h1m9 0h4m5 0h1m15 0h1m5 0h1m14 0h1m3 0h1m8 0h1m19 0h1m16 0h2m125 0h1m5 0h1m11 0h1m1 0h1m6 0h1m1 0h2m9 0h1m2 0h1m4 0h1m3 0h2m1 0h1m4 0h1m1 0h1m6 0h2m2 0h1m4 0h1m25 0h1m23 0h1m58 0h1m-443 1h1m15 0h1m11 0h1m5 0h1m5 0h1m12 0h1m7 0h1m5 0h1m5 0h1m3 0h3m1 0h1m6 0h1m1 0h3m1 0h1m9 0h1m26 0h1m4 0h1m2 0h1m12 0h1m1 0h1m9 0h1m29 0h1m40 0h1m20 0h2m20 0h1m3 0h2m21 0h2m4 0h1m13 0h1m4 0h1m17 0h1m54 0h1m-384 1h1m19 0h1m1 0h1m2 0h1m1 0h1m2 0h1m11 0h2m6 0h1m11 0h1m1 0h1m4 0h1m14 0h1m10 0h2m3 0h2m1 0h1m4 0h1m5 0h1m2 0h1m89 0h1m17 0h3m3 0h1m12 0h1m4 0h1m1 0h1m3 0h1m19 0h1m8 0h2m1 0h1m1 0h1m10 0h1m7 0h2m4 0h1m5 0h1m39 0h1m23 0h1m-402 1h1m19 0h2m1 0h1m6 0h2m6 0h1m2 0h3m7 0h1m3 0h1m1 0h1m19 0h1m4 0h1m2 0h1m11 0h1m4 0h1m3 0h1m9 0h2m6 0h1m3 0h1m87 0h1m9 0h1m9 0h1m10 0h1m2 0h1m3 0h1m1 0h1m7 0h1m2 0h1m2 0h1m4 0h1m2 0h1m1 0h1m2 0h2m6 0h1m8 0h2m7 0h1m4 0h1m4 0h1m2 0h1m9 0h1m3 0h1m4 0h1m7 0h1m29 0h1m-360 1h1m1 0h1m6 0h1m9 0h1m5 0h1m1 0h2m5 0h2m2 0h1m7 0h4m4 0h1m8 0h1m3 0h1m1 0h2m1 0h1m5 0h2m1 0h2m11 0h2m2 0h1m1 0h1m2 0h1m1 0h1m4 0h1m2 0h1m96 0h1m14 0h1m15 0h1m1 0h2m4 0h2m2 0h2m1 0h2m2 0h1m6 0h1m1 0h1m2 0h2m5 0h2m8 0h1m2 0h1m3 0h2m7 0h1m2 0h1m7 0h1m1 0h1m3 0h1m7 0h2m17 0h2m-375 1h1m6 0h1m12 0h1m12 0h1m1 0h2m2 0h1m2 0h1m2 0h1m4 0h1m2 0h1m8 0h1m4 0h1m3 0h1m6 0h1m2 0h1m1 0h1m2 0h2m2 0h1m10 0h1m1 0h3m1 0h2m7 0h1m2 0h1m1 0h1m3 0h1m5 0h1m127 0h2m1 0h2m2 0h3m3 0h1m2 0h1m13 0h1m2 0h2m3 0h1m2 0h1m3 0h3m1 0h1m15 0h1m1 0h1m1 0h1m4 0h1m2 0h1m3 0h1m6 0h2m7 0h1m5 0h1m2 0h1m-369 1h1m21 0h1m3 0h1m3 0h2m1 0h1m3 0h1m2 0h1m5 0h1m10 0h1m5 0h2m2 0h1m4 0h1m3 0h2m3 0h2m3 0h2m2 0h1m13 0h1m1 0h1m1 0h1m13 0h1m1 0h1m109 0h1m1 0h1m8 0h1m4 0h1m10 0h2m4 0h2m1 0h1m7 0h3m1 0h3m3 0h3m1 0h2m4 0h1m4 0h1m2 0h1m4 0h2m1 0h2m8 0h2m5 0h1m1 0h1m16 0h1m5 0h1m4 0h1m-337 1h1m2 0h1m1 0h2m2 0h1m2 0h1m2 0h1m5 0h1m2 0h1m6 0h1m3 0h1m10 0h2m1 0h1m18 0h2m2 0h1m7 0h2m7 0h1m1 0h2m2 0h1m3 0h1m31 0h1m3 0h1m33 0h1m12 0h1m2 0h1m35 0h1m4 0h1m1 0h1m2 0h2m2 0h1m3 0h2m2 0h1m1 0h1m11 0h1m8 0h1m5 0h1m6 0h1m6 0h1m3 0h1m3 0h1m4 0h1m3 0h1m2 0h1m8 0h1m2 0h3m-344 1h2m1 0h1m4 0h1m6 0h1m3 0h1m4 0h2m3 0h1m1 0h2m5 0h1m4 0h1m2 0h1m4 0h1m3 0h2m5 0h5m7 0h1m1 0h1m10 0h2m2 0h1m3 0h2m6 0h1m2 0h1m3 0h2m6 0h1m14 0h1m71 0h1m24 0h1m9 0h1m8 0h1m3 0h1m3 0h1m3 0h1m2 0h1m2 0h3m12 0h1m6 0h3m21 0h1m5 0h1m2 0h3m2 0h1m7 0h4m1 0h1m7 0h1m4 0h2m1 0h1m4 0h1m76 0h1m-441 1h1m4 0h1m12 0h1m5 0h1m11 0h1m7 0h1m11 0h1m2 0h1m9 0h1m2 0h2m7 0h1m9 0h1m3 0h1m2 0h1m1 0h1m6 0h3m1 0h1m5 0h1m5 0h1m6 0h1m1 0h1m5 0h1m86 0h1m5 0h1m12 0h2m3 0h1m7 0h1m3 0h5m2 0h1m1 0h1m5 0h1m1 0h1m7 0h1m9 0h1m11 0h1m1 0h1m2 0h1m7 0h1m2 0h1m8 0h1m1 0h1m3 0h1m9 0h2m3 0h2m8 0h1m-350 1h1m2 0h1m9 0h1m2 0h1m1 0h1m1 0h1m7 0h1m6 0h1m2 0h1m2 0h3m1 0h1m1 0h1m4 0h2m4 0h2m8 0h1m5 0h1m5 0h1m2 0h1m3 0h2m2 0h3m11 0h1m20 0h1m7 0h1m8 0h2m15 0h2m4 0h1m34 0h1m16 0h3m4 0h1m2 0h1m2 0h1m11 0h3m9 0h1m2 0h1m4 0h1m1 0h1m2 0h3m3 0h1m2 0h2m13 0h1m8 0h2m3 0h1m3 0h1m1 0h2m1 0h2m15 0h1m12 0h1m22 0h1m-360 1h1m2 0h2m11 0h1m1 0h1m6 0h1m5 0h1m7 0h2m2 0h1m1 0h1m9 0h1m2 0h1m11 0h3m5 0h1m3 0h1m5 0h1m23 0h1m21 0h1m48 0h1m2 0h1m3 0h1m26 0h1m2 0h1m5 0h1m1 0h1m1 0h1m9 0h1m3 0h1m2 0h1m2 0h1m2 0h1m2 0h1m5 0h2m2 0h2m8 0h2m5 0h1m5 0h1m7 0h2m1 0h1m2 0h1m3 0h1m1 0h1m3 0h1m2 0h1m13 0h1m12 0h1m6 0h1m9 0h1m44 0h1m3 0h1m-431 1h1m5 0h1m8 0h1m5 0h1m1 0h1m10 0h1m12 0h2m16 0h1m1 0h1m2 0h1m4 0h1m4 0h1m2 0h3m4 0h1m2 0h1m9 0h1m1 0h2m1 0h1m10 0h1m6 0h1m2 0h1m69 0h1m26 0h1m17 0h1m12 0h1m1 0h1m4 0h1m1 0h1m2 0h2m1 0h1m2 0h1m4 0h1m4 0h3m1 0h1m1 0h1m4 0h1m4 0h1m3 0h1m2 0h2m3 0h1m7 0h1m1 0h2m4 0h1m1 0h2m4 0h1m9 0h2m2 0h1m1 0h1m51 0h1m33 0h1m-429 1h1m1 0h1m2 0h1m2 0h1m3 0h1m1 0h2m3 0h1m1 0h1m3 0h1m4 0h1m4 0h1m1 0h1m2 0h1m4 0h1m1 0h3m1 0h2m2 0h2m3 0h3m2 0h1m1 0h1m5 0h1m4 0h1m1 0h1m1 0h2m2 0h1m2 0h2m2 0h1m10 0h1m4 0h1m3 0h1m1 0h1m5 0h1m2 0h1m57 0h1m1 0h1m9 0h1m15 0h1m9 0h1m6 0h2m6 0h1m4 0h1m2 0h1m5 0h1m2 0h1m3 0h1m5 0h2m7 0h1m2 0h1m6 0h1m7 0h2m1 0h1m3 0h1m2 0h1m7 0h2m3 0h1m5 0h1m7 0h1m4 0h1m3 0h1m3 0h1m7 0h1m2 0h1m10 0h1m12 0h1m1 0h1m-382 1h3m7 0h1m2 0h1m5 0h2m2 0h1m12 0h3m2 0h1m2 0h1m11 0h1m5 0h1m1 0h4m1 0h1m5 0h3m2 0h1m4 0h2m21 0h2m1 0h1m2 0h1m13 0h1m5 0h1m14 0h1m42 0h1m4 0h1m3 0h1m24 0h1m4 0h1m4 0h1m11 0h1m1 0h1m6 0h1m4 0h1m2 0h1m4 0h1m1 0h1m9 0h1m8 0h1m1 0h2m2 0h1m9 0h1m7 0h1m8 0h1m11 0h1m4 0h1m5 0h1m19 0h1m2 0h1m38 0h1m12 0h1m-425 1h1m1 0h1m6 0h1m4 0h1m4 0h2m1 0h1m2 0h3m12 0h1m1 0h1m5 0h1m7 0h1m2 0h1m2 0h1m9 0h1m6 0h2m2 0h1m1 0h1m1 0h1m1 0h2m5 0h2m5 0h2m1 0h2m3 0h1m1 0h1m8 0h1m8 0h1m3 0h1m93 0h1m5 0h1m9 0h2m3 0h1m1 0h2m1 0h1m1 0h1m2 0h1m2 0h1m3 0h1m3 0h1m15 0h2m1 0h1m7 0h1m4 0h1m1 0h1m8 0h2m1 0h1m1 0h1m4 0h1m5 0h1m2 0h1m1 0h1m7 0h1m1 0h2m10 0h2m1 0h1m1 0h1m37 0h1m31 0h1m-432 1h1m14 0h1m9 0h1m7 0h1m2 0h1m1 0h1m2 0h2m2 0h1m2 0h2m6 0h1m7 0h1m3 0h1m1 0h1m1 0h1m8 0h1m4 0h2m1 0h2m2 0h1m6 0h1m6 0h3m12 0h1m18 0h1m23 0h1m59 0h1m15 0h1m1 0h3m1 0h1m4 0h2m8 0h1m6 0h2m8 0h1m2 0h1m6 0h2m2 0h1m3 0h1m3 0h1m13 0h2m2 0h1m14 0h1m4 0h1m12 0h1m7 0h1m1 0h1m27 0h1m26 0h1m19 0h1m-442 1h1m9 0h1m7 0h1m7 0h3m6 0h1m2 0h1m9 0h1m3 0h1m3 0h1m1 0h1m3 0h1m4 0h1m4 0h1m4 0h1m2 0h1m4 0h1m1 0h1m6 0h2m5 0h1m1 0h2m5 0h1m1 0h1m5 0h3m8 0h1m2 0h1m2 0h1m15 0h1m5 0h1m11 0h1m1 0h1m4 0h1m10 0h1m37 0h1m6 0h1m7 0h1m1 0h1m1 0h1m8 0h3m2 0h1m1 0h1m4 0h1m7 0h2m2 0h2m4 0h1m3 0h1m3 0h1m4 0h2m2 0h1m4 0h1m3 0h1m1 0h1m3 0h1m2 0h1m1 0h1m2 0h1m2 0h1m1 0h1m1 0h1m6 0h1m2 0h2m6 0h2m1 0h1m1 0h2m2 0h1m2 0h1m2 0h2m6 0h1m1 0h1m16 0h1m22 0h1m21 0h1m-439 1h1m3 0h1m6 0h1m2 0h1m1 0h1m10 0h1m1 0h1m15 0h2m10 0h1m3 0h1m1 0h1m3 0h2m13 0h1m6 0h1m3 0h1m5 0h1m1 0h1m3 0h2m2 0h1m3 0h1m4 0h1m4 0h2m13 0h1m7 0h1m15 0h1m62 0h1m2 0h1m7 0h1m8 0h1m3 0h1m4 0h1m9 0h2m12 0h1m13 0h1m7 0h1m1 0h1m11 0h2m1 0h2m2 0h1m5 0h1m1 0h3m4 0h1m2 0h1m5 0h2m2 0h1m6 0h3m5 0h1m5 0h2m2 0h1m1 0h1m6 0h1m6 0h1m14 0h1m13 0h1m26 0h1m1 0h1m-445 1h1m19 0h1m5 0h2m10 0h1m4 0h1m4 0h1m1 0h2m16 0h2m1 0h1m1 0h1m4 0h1m3 0h1m2 0h2m1 0h1m3 0h1m2 0h1m2 0h1m7 0h1m3 0h1m3 0h1m3 0h1m1 0h1m3 0h1m4 0h2m23 0h1m55 0h1m3 0h1m19 0h2m1 0h1m8 0h2m3 0h1m4 0h1m5 0h3m1 0h3m12 0h1m5 0h3m3 0h1m13 0h1m6 0h3m4 0h1m1 0h2m3 0h1m3 0h1m4 0h1m2 0h1m5 0h1m3 0h1m8 0h1m8 0h1m18 0h1m-387 1h1m8 0h1m1 0h1m1 0h1m4 0h1m1 0h1m2 0h1m4 0h2m3 0h2m16 0h2m3 0h2m8 0h1m6 0h1m7 0h1m4 0h1m11 0h1m5 0h1m4 0h1m2 0h1m3 0h1m13 0h1m2 0h1m56 0h1m14 0h1m14 0h1m1 0h2m6 0h1m5 0h2m2 0h1m6 0h1m2 0h1m1 0h2m2 0h2m1 0h2m11 0h2m3 0h1m2 0h1m4 0h1m19 0h1m20 0h1m1 0h2m2 0h1m2 0h4m2 0h1m6 0h1m1 0h1m6 0h1m1 0h1m11 0h1m20 0h1m3 0h1m21 0h1m9 0h1m12 0h1m-447 1h1m6 0h1m1 0h1m16 0h3m4 0h1m2 0h2m3 0h2m1 0h1m4 0h1m2 0h1m22 0h2m5 0h1m1 0h1m5 0h1m4 0h1m1 0h1m6 0h1m5 0h1m1 0h3m8 0h1m2 0h2m6 0h2m4 0h1m5 0h2m6 0h1m4 0h1m5 0h1m31 0h1m18 0h1m4 0h1m14 0h1m4 0h1m1 0h1m11 0h1m5 0h1m5 0h1m25 0h1m10 0h1m3 0h1m4 0h2m2 0h1m1 0h1m2 0h2m5 0h1m2 0h1m5 0h2m3 0h1m1 0h1m2 0h1m4 0h1m3 0h1m8 0h1m37 0h1m17 0h1m22 0h1m-448 1h1m13 0h1m1 0h2m10 0h3m1 0h1m1 0h1m6 0h2m2 0h1m11 0h1m4 0h1m4 0h1m20 0h1m2 0h2m1 0h1m2 0h1m6 0h1m13 0h3m2 0h2m1 0h1m1 0h1m4 0h1m11 0h1m3 0h3m3 0h1m13 0h1m3 0h1m53 0h1m6 0h1m4 0h1m2 0h1m3 0h1m2 0h1m3 0h1m6 0h1m3 0h1m3 0h3m22 0h1m1 0h1m22 0h1m26 0h1m2 0h1m1 0h2m2 0h3m2 0h1m8 0h1m25 0h1m4 0h1m15 0h1m5 0h1m2 0h1m2 0h1m10 0h1m2 0h1m-441 1h1m3 0h1m1 0h5m2 0h3m2 0h4m3 0h1m15 0h1m1 0h2m3 0h1m17 0h1m1 0h1m8 0h1m1 0h1m1 0h1m4 0h2m1 0h1m4 0h1m1 0h1m3 0h5m5 0h1m2 0h2m3 0h1m6 0h1m2 0h1m2 0h1m1 0h1m5 0h2m10 0h1m11 0h1m2 0h1m4 0h1m51 0h1m2 0h1m3 0h1m1 0h1m2 0h1m4 0h1m5 0h1m3 0h3m1 0h1m2 0h1m6 0h1m6 0h2m1 0h1m2 0h1m21 0h1m8 0h1m5 0h1m1 0h2m2 0h2m2 0h1m5 0h1m2 0h1m1 0h1m5 0h1m2 0h1m5 0h4m4 0h1m5 0h1m9 0h1m4 0h1m7 0h1m4 0h1m5 0h1m5 0h1m35 0h1m7 0h1m-436 1h1m10 0h2m1 0h2m1 0h1m4 0h1m2 0h1m2 0h2m1 0h1m4 0h1m3 0h3m8 0h1m1 0h1m2 0h1m1 0h1m5 0h1m6 0h1m5 0h2m13 0h1m9 0h1m1 0h1m8 0h1m2 0h1m2 0h1m3 0h1m2 0h1m16 0h1m4 0h1m1 0h1m1 0h1m7 0h1m5 0h1m13 0h2m2 0h1m20 0h1m3 0h1m8 0h1m8 0h1m7 0h1m2 0h1m3 0h1m4 0h1m2 0h1m8 0h1m2 0h1m3 0h1m15 0h2m2 0h1m4 0h1m3 0h1m1 0h1m4 0h1m3 0h2m2 0h2m2 0h1m2 0h1m2 0h1m5 0h1m11 0h1m4 0h2m16 0h1m4 0h1m2 0h1m1 0h1m3 0h2m8 0h1m8 0h1m11 0h1m3 0h1m15 0h1m2 0h1m4 0h1m-449 1h1m8 0h1m1 0h1m2 0h1m13 0h1m3 0h3m4 0h1m6 0h1m2 0h1m2 0h1m4 0h1m3 0h1m12 0h2m8 0h1m13 0h1m6 0h1m7 0h1m1 0h1m1 0h1m3 0h2m4 0h1m1 0h1m1 0h2m3 0h2m3 0h2m1 0h1m11 0h2m12 0h1m5 0h1m7 0h1m2 0h1m3 0h1m19 0h1m3 0h1m2 0h1m6 0h1m8 0h2m1 0h3m1 0h1m7 0h1m7 0h1m6 0h1m4 0h1m1 0h2m3 0h1m6 0h1m2 0h1m10 0h1m12 0h1m13 0h1m1 0h1m5 0h2m2 0h1m5 0h1m1 0h1m1 0h2m5 0h1m1 0h3m1 0h1m1 0h2m4 0h1m4 0h1m1 0h1m8 0h2m14 0h1m5 0h1m7 0h1m9 0h2m19 0h1m-443 1h3m17 0h1m1 0h1m1 0h1m1 0h1m2 0h1m4 0h1m7 0h1m4 0h1m13 0h1m9 0h1m4 0h1m1 0h1m7 0h1m8 0h4m2 0h1m6 0h2m2 0h2m1 0h1m5 0h3m3 0h1m2 0h2m1 0h1m4 0h1m15 0h1m21 0h1m7 0h1m13 0h2m10 0h1m15 0h1m12 0h5m6 0h1m5 0h1m3 0h1m5 0h1m6 0h1m22 0h1m1 0h1m6 0h2m7 0h2m5 0h2m3 0h3m12 0h1m4 0h1m2 0h1m5 0h1m3 0h3m3 0h1m2 0h1m6 0h1m2 0h2m18 0h1m15 0h1m1 0h1m8 0h1m12 0h1m5 0h1m-432 1h2m7 0h1m2 0h1m1 0h1m2 0h2m3 0h1m2 0h1m6 0h1m12 0h1m7 0h1m10 0h1m9 0h1m7 0h1m2 0h1m10 0h1m1 0h1m3 0h1m5 0h2m1 0h1m3 0h1m5 0h1m1 0h2m2 0h1m3 0h1m9 0h1m6 0h1m9 0h1m6 0h1m6 0h1m4 0h1m23 0h1m2 0h1m10 0h1m3 0h1m4 0h1m2 0h2m5 0h1m3 0h1m4 0h1m6 0h1m5 0h1m15 0h1m4 0h1m1 0h1m2 0h1m6 0h2m16 0h1m8 0h1m10 0h1m9 0h1m4 0h1m3 0h2m2 0h1m2 0h1m13 0h1m1 0h1m8 0h3m1 0h1m15 0h1m18 0h1m5 0h1m-425 1h1m25 0h1m1 0h1m19 0h1m20 0h1m11 0h1m18 0h1m1 0h1m5 0h3m7 0h1m4 0h1m1 0h1m1 0h1m10 0h1m16 0h1m4 0h2m19 0h1m6 0h2m35 0h1m1 0h1m3 0h1m1 0h1m2 0h2m3 0h1m7 0h1m4 0h1m8 0h1m1 0h1m2 0h1m15 0h1m9 0h1m6 0h1m5 0h1m13 0h1m6 0h1m4 0h1m2 0h1m3 0h1m1 0h1m19 0h1m5 0h2m16 0h1m2 0h2m9 0h1m13 0h1m13 0h1m4 0h2m-440 1h2m1 0h1m8 0h1m3 0h1m16 0h1m15 0h2m1 0h2m2 0h2m23 0h1m25 0h1m7 0h2m2 0h2m3 0h2m1 0h2m5 0h1m33 0h2m6 0h1m8 0h1m4 0h1m7 0h1m8 0h1m2 0h2m1 0h1m4 0h1m1 0h1m3 0h2m3 0h2m4 0h1m1 0h2m3 0h1m9 0h1m4 0h1m2 0h1m5 0h1m17 0h1m16 0h1m8 0h1m19 0h2m3 0h1m4 0h1m1 0h2m6 0h1m1 0h1m8 0h2m5 0h1m2 0h1m3 0h1m1 0h1m2 0h1m1 0h1m6 0h2m4 0h1m14 0h1m12 0h2m8 0h1m1 0h1m3 0h1m-446 1h1m2 0h1m2 0h1m1 0h1m10 0h3m12 0h1m2 0h1m1 0h1m12 0h1m33 0h1m1 0h1m5 0h1m15 0h1m1 0h1m6 0h1m1 0h3m3 0h1m1 0h1m6 0h1m3 0h1m3 0h1m16 0h1m5 0h2m7 0h2m4 0h1m22 0h1m13 0h1m2 0h1m1 0h1m1 0h1m2 0h1m2 0h1m5 0h1m4 0h1m1 0h3m4 0h2m8 0h1m1 0h1m6 0h1m1 0h1m14 0h1m8 0h1m6 0h1m7 0h2m2 0h2m3 0h1m3 0h1m3 0h1m5 0h1m11 0h1m2 0h1m2 0h1m1 0h1m1 0h1m4 0h1m4 0h2m4 0h1m3 0h1m9 0h1m4 0h1m2 0h1m5 0h1m1 0h1m12 0h1m2 0h1m1 0h1m2 0h1m7 0h1m2 0h1m-439 1h1m24 0h1m6 0h1m2 0h1m14 0h1m3 0h1m8 0h1m1 0h1m19 0h1m6 0h1m13 0h1m10 0h1m1 0h1m2 0h1m2 0h2m9 0h3m4 0h1m9 0h1m2 0h2m3 0h1m10 0h2m4 0h1m2 0h1m3 0h1m1 0h1m2 0h1m10 0h1m6 0h1m7 0h1m10 0h1m1 0h2m3 0h1m1 0h1m9 0h1m13 0h1m2 0h1m25 0h1m1 0h1m26 0h1m7 0h1m1 0h1m3 0h1m1 0h1m3 0h1m2 0h2m7 0h1m8 0h1m1 0h2m2 0h2m4 0h1m3 0h1m5 0h1m2 0h1m1 0h1m4 0h1m1 0h1m1 0h1m1 0h1m2 0h2m14 0h1m24 0h1m-434 1h2m5 0h1m11 0h2m1 0h1m39 0h1m9 0h1m13 0h1m8 0h1m8 0h1m11 0h1m1 0h1m7 0h1m10 0h1m5 0h2m3 0h1m3 0h1m6 0h1m1 0h1m15 0h2m3 0h1m10 0h1m1 0h1m8 0h1m1 0h1m2 0h2m4 0h1m3 0h1m1 0h2m3 0h1m8 0h1m2 0h1m2 0h1m12 0h1m6 0h1m9 0h1m2 0h1m11 0h1m1 0h1m10 0h1m1 0h1m28 0h1m7 0h1m1 0h2m2 0h1m6 0h1m1 0h1m2 0h1m1 0h1m4 0h1m5 0h2m2 0h1m7 0h1m4 0h1m9 0h1m4 0h1m26 0h1m1 0h1m1 0h1m5 0h1m2 0h1m-447 1h1m4 0h2m6 0h4m1 0h1m4 0h1m3 0h1m3 0h3m2 0h1m15 0h1m11 0h1m41 0h2m7 0h1m1 0h1m9 0h1m1 0h1m1 0h1m1 0h1m3 0h1m7 0h1m2 0h1m2 0h1m3 0h3m23 0h2m2 0h1m14 0h1m15 0h1m2 0h1m4 0h1m2 0h4m2 0h1m2 0h1m2 0h1m1 0h1m1 0h1m1 0h1m4 0h3m5 0h1m16 0h1m13 0h1m2 0h1m33 0h2m7 0h2m2 0h1m7 0h2m5 0h1m1 0h1m4 0h2m11 0h1m6 0h1m1 0h1m10 0h2m12 0h1m8 0h3m6 0h1m2 0h1m1 0h1m2 0h1m9 0h2m-448 1h1m1 0h2m1 0h1m1 0h1m2 0h2m4 0h2m3 0h1m2 0h1m7 0h1m5 0h3m12 0h1m7 0h1m3 0h1m8 0h1m15 0h1m3 0h1m8 0h1m10 0h1m3 0h1m2 0h1m2 0h1m2 0h2m2 0h1m4 0h1m2 0h1m3 0h1m12 0h1m13 0h1m6 0h1m8 0h2m5 0h1m1 0h2m2 0h1m1 0h1m7 0h1m4 0h1m8 0h1m1 0h1m3 0h1m2 0h1m2 0h2m7 0h2m8 0h2m1 0h1m2 0h1m29 0h1m13 0h1m3 0h1m8 0h2m1 0h1m13 0h1m6 0h1m2 0h3m4 0h1m1 0h1m5 0h3m2 0h1m5 0h1m1 0h1m4 0h1m13 0h1m19 0h2m9 0h1m5 0h1m8 0h1m3 0h1m4 0h2m1 0h1m-445 1h1m2 0h1m15 0h1m3 0h1m3 0h1m1 0h1m3 0h1m6 0h1m3 0h1m6 0h1m19 0h1m7 0h1m14 0h1m6 0h1m2 0h1m6 0h1m1 0h1m3 0h2m3 0h1m6 0h1m1 0h1m2 0h2m6 0h2m6 0h1m2 0h1m5 0h1m1 0h1m7 0h2m1 0h1m12 0h1m2 0h1m1 0h1m2 0h1m5 0h1m4 0h1m3 0h2m1 0h1m4 0h1m1 0h1m11 0h1m8 0h2m1 0h1m2 0h1m7 0h1m5 0h1m4 0h1m22 0h1m33 0h2m1 0h1m1 0h2m9 0h1m5 0h1m3 0h1m1 0h1m3 0h1m4 0h4m1 0h1m4 0h1m1 0h2m3 0h1m4 0h2m7 0h1m2 0h2m3 0h1m12 0h1m15 0h1m10 0h1m-437 1h1m3 0h1m1 0h1m19 0h1m6 0h1m11 0h1m27 0h1m16 0h2m4 0h1m2 0h2m2 0h1m3 0h1m1 0h1m2 0h1m1 0h1m1 0h1m2 0h1m9 0h1m4 0h1m9 0h1m8 0h1m2 0h1m9 0h1m2 0h3m7 0h1m14 0h1m2 0h1m4 0h1m6 0h1m6 0h1m7 0h3m2 0h2m1 0h1m1 0h1m5 0h1m5 0h2m1 0h1m14 0h1m6 0h1m3 0h1m14 0h1m14 0h2m4 0h1m6 0h1m7 0h3m4 0h2m3 0h2m2 0h1m1 0h1m2 0h1m3 0h1m2 0h1m1 0h2m1 0h1m1 0h1m10 0h1m1 0h2m3 0h1m3 0h2m4 0h1m6 0h1m8 0h1m13 0h1m10 0h1m2 0h1m8 0h1m-448 1h1m5 0h1m3 0h1m1 0h1m2 0h1m8 0h1m7 0h1m20 0h1m18 0h1m4 0h1m3 0h1m3 0h1m45 0h1m5 0h3m2 0h1m3 0h1m13 0h1m21 0h1m4 0h1m4 0h1m7 0h1m8 0h1m3 0h1m12 0h1m5 0h1m2 0h1m5 0h1m15 0h1m9 0h1m51 0h1m5 0h1m16 0h2m3 0h2m5 0h1m2 0h1m3 0h1m2 0h2m2 0h1m11 0h1m4 0h1m1 0h1m10 0h1m9 0h1m25 0h1m3 0h1m9 0h1m-451 1h1m3 0h1m1 0h1m1 0h1m1 0h1m1 0h2m1 0h3m6 0h1m1 0h1m2 0h2m2 0h1m1 0h1m5 0h1m5 0h1m45 0h1m11 0h1m3 0h1m9 0h1m1 0h1m15 0h1m2 0h2m4 0h1m3 0h1m5 0h1m14 0h1m25 0h1m8 0h1m5 0h1m1 0h1m5 0h1m3 0h2m8 0h1m3 0h1m3 0h1m9 0h2m8 0h1m14 0h1m17 0h1m13 0h1m8 0h2m4 0h1m4 0h1m18 0h1m5 0h1m4 0h1m5 0h3m4 0h3m2 0h1m7 0h1m6 0h1m19 0h1m1 0h1m5 0h2m2 0h1m5 0h1m3 0h1m10 0h1m1 0h1m-445 1h1m1 0h1m5 0h1m2 0h1m2 0h2m3 0h1m2 0h1m9 0h1m21 0h1m25 0h1m13 0h1m4 0h1m18 0h1m4 0h2m18 0h1m7 0h1m5 0h1m6 0h1m2 0h1m4 0h1m7 0h2m1 0h1m5 0h1m2 0h1m2 0h1m15 0h1m8 0h1m5 0h2m2 0h2m3 0h1m3 0h3m4 0h2m10 0h1m12 0h1m32 0h1m16 0h1m8 0h1m12 0h1m3 0h1m1 0h1m2 0h1m4 0h1m7 0h1m2 0h2m2 0h1m12 0h1m4 0h2m3 0h1m36 0h3m1 0h1m-439 1h1m2 0h1m16 0h1m6 0h1m3 0h1m4 0h1m3 0h1m6 0h1m28 0h1m21 0h1m10 0h1m11 0h1m2 0h1m6 0h1m15 0h2m3 0h1m5 0h2m5 0h2m11 0h2m12 0h1m11 0h1m1 0h1m13 0h2m1 0h3m1 0h1m4 0h1m6 0h1m6 0h2m10 0h1m1 0h1m1 0h1m4 0h1m4 0h1m29 0h1m13 0h1m22 0h1m8 0h1m6 0h1m1 0h1m1 0h1m13 0h1m4 0h1m13 0h1m3 0h2m2 0h1m10 0h1m20 0h1m5 0h1m5 0h1m-442 1h2m1 0h1m6 0h1m2 0h1m3 0h2m7 0h1m16 0h1m16 0h1m13 0h1m19 0h1m5 0h1m3 0h1m2 0h1m3 0h1m4 0h1m4 0h1m9 0h1m4 0h1m5 0h2m1 0h1m5 0h1m3 0h1m2 0h2m5 0h1m5 0h1m7 0h1m5 0h2m9 0h1m8 0h1m5 0h1m3 0h2m3 0h1m5 0h1m7 0h1m5 0h1m1 0h1m2 0h1m4 0h1m17 0h1m13 0h1m8 0h1m27 0h1m1 0h2m9 0h1m1 0h1m11 0h1m15 0h1m1 0h1m1 0h1m1 0h1m5 0h1m4 0h1m1 0h1m8 0h1m1 0h1m2 0h1m7 0h2m1 0h1m3 0h2m2 0h1m9 0h2m9 0h4m3 0h1m-444 1h1m4 0h3m1 0h1m11 0h1m1 0h1m4 0h1m9 0h1m4 0h1m31 0h1m25 0h1m6 0h1m31 0h1m3 0h1m5 0h1m2 0h1m3 0h1m11 0h1m7 0h2m2 0h1m2 0h1m7 0h1m13 0h1m1 0h1m6 0h1m3 0h2m4 0h1m4 0h1m6 0h1m12 0h1m13 0h1m6 0h1m20 0h1m40 0h1m1 0h1m3 0h1m1 0h1m2 0h1m7 0h1m10 0h1m1 0h1m1 0h2m8 0h2m3 0h1m1 0h1m4 0h1m8 0h1m3 0h1m5 0h1m13 0h1m3 0h1m3 0h3m8 0h1m4 0h1m-444 1h1m5 0h1m8 0h1m3 0h1m3 0h1m4 0h1m4 0h1m88 0h1m2 0h1m9 0h1m1 0h1m3 0h1m2 0h1m4 0h1m3 0h1m3 0h2m6 0h1m8 0h2m3 0h2m12 0h1m11 0h1m1 0h1m2 0h2m3 0h1m3 0h1m4 0h1m22 0h1m8 0h1m1 0h1m9 0h1m20 0h1m27 0h1m18 0h1m6 0h1m6 0h1m1 0h1m1 0h1m7 0h4m5 0h1m6 0h1m12 0h1m5 0h1m2 0h2m7 0h1m2 0h2m7 0h3m6 0h1m3 0h1m1 0h1m4 0h1m-446 1h1m4 0h1m9 0h1m2 0h3m9 0h1m5 0h1m14 0h1m50 0h1m5 0h2m11 0h1m7 0h1m8 0h1m9 0h1m2 0h1m5 0h1m1 0h1m1 0h1m4 0h2m5 0h2m18 0h1m11 0h2m10 0h1m14 0h1m1 0h1m4 0h1m2 0h2m1 0h1m1 0h1m5 0h1m22 0h1m5 0h1m39 0h1m4 0h1m14 0h1m4 0h2m1 0h1m3 0h1m2 0h1m1 0h2m2 0h1m7 0h1m2 0h1m3 0h1m2 0h2m1 0h2m12 0h1m5 0h2m13 0h2m2 0h1m6 0h1m7 0h1m6 0h1m2 0h1m-449 1h1m3 0h1m4 0h2m2 0h1m10 0h1m1 0h1m6 0h1m34 0h1m43 0h1m16 0h2m1 0h1m1 0h1m3 0h1m1 0h1m1 0h1m1 0h1m2 0h1m7 0h1m5 0h2m7 0h1m2 0h1m3 0h2m1 0h2m3 0h1m8 0h1m6 0h2m4 0h1m5 0h2m1 0h1m3 0h1m1 0h1m3 0h1m6 0h1m1 0h1m1 0h2m2 0h1m9 0h1m8 0h1m20 0h1m7 0h1m39 0h1m3 0h1m11 0h1m15 0h1m2 0h1m2 0h1m15 0h1m1 0h1m2 0h1m10 0h1m2 0h1m2 0h2m3 0h1m2 0h1m4 0h1m7 0h1m1 0h1m2 0h2m5 0h1m2 0h2m1 0h1m2 0h2m-448 1h1m5 0h2m2 0h1m2 0h2m4 0h1m3 0h1m64 0h1m2 0h1m17 0h1m5 0h1m1 0h1m8 0h1m13 0h1m4 0h1m4 0h1m5 0h1m1 0h1m5 0h1m1 0h1m10 0h1m4 0h1m3 0h1m11 0h1m3 0h1m2 0h1m1 0h1m3 0h2m2 0h2m4 0h1m4 0h1m12 0h1m8 0h1m30 0h1m54 0h1m11 0h1m2 0h1m2 0h1m4 0h1m2 0h3m10 0h1m1 0h1m5 0h1m4 0h2m1 0h1m2 0h1m5 0h1m1 0h2m1 0h1m8 0h1m1 0h1m3 0h1m4 0h1m8 0h1m3 0h1m4 0h2m-435 1h1m7 0h1m1 0h1m1 0h1m3 0h1m12 0h1m58 0h1m10 0h1m5 0h1m6 0h2m13 0h1m1 0h2m8 0h1m6 0h1m12 0h1m6 0h1m3 0h1m1 0h2m3 0h1m2 0h2m15 0h1m5 0h3m1 0h1m2 0h1m5 0h2m6 0h1m1 0h1m40 0h1m29 0h1m19 0h1m6 0h1m19 0h2m7 0h1m7 0h1m3 0h1m13 0h1m9 0h1m6 0h3m3 0h1m2 0h1m2 0h1m2 0h2m5 0h1m3 0h1m6 0h2m3 0h1m1 0h1m-441 1h1m4 0h1m2 0h1m4 0h1m6 0h1m1 0h1m6 0h1m40 0h1m45 0h1m3 0h1m11 0h2m1 0h2m1 0h1m3 0h1m1 0h1m1 0h1m6 0h1m1 0h2m2 0h1m15 0h1m1 0h1m4 0h1m3 0h1m1 0h1m1 0h2m3 0h2m6 0h1m1 0h3m10 0h1m5 0h3m10 0h2m5 0h1m7 0h1m59 0h1m11 0h1m15 0h1m1 0h1m11 0h1m8 0h1m3 0h1m4 0h1m5 0h3m3 0h1m13 0h1m7 0h1m4 0h1m1 0h2m6 0h1m3 0h2m8 0h3m2 0h1m-448 1h1m6 0h1m6 0h1m5 0h1m2 0h1m62 0h1m28 0h1m6 0h1m6 0h1m3 0h1m2 0h1m3 0h1m8 0h1m1 0h1m7 0h1m3 0h1m2 0h1m6 0h1m2 0h1m16 0h1m4 0h2m4 0h1m4 0h1m5 0h1m1 0h1m1 0h1m3 0h1m3 0h1m2 0h1m7 0h1m1 0h1m3 0h2m4 0h2m63 0h1m36 0h1m2 0h1m2 0h1m2 0h1m15 0h1m2 0h1m1 0h1m2 0h1m9 0h1m7 0h1m6 0h1m1 0h1m3 0h1m6 0h1m7 0h1m5 0h1m2 0h1m3 0h2m2 0h1m-443 1h1m3 0h1m5 0h1m2 0h2m6 0h1m41 0h1m27 0h1m30 0h1m20 0h1m2 0h2m1 0h1m2 0h1m2 0h1m2 0h2m1 0h3m4 0h1m1 0h1m4 0h2m5 0h1m1 0h2m2 0h1m5 0h5m1 0h1m2 0h1m1 0h1m5 0h1m5 0h2m1 0h2m4 0h1m2 0h1m4 0h1m11 0h1m1 0h1m7 0h1m61 0h1m17 0h1m2 0h1m7 0h1m10 0h1m5 0h1m5 0h1m7 0h2m3 0h1m1 0h1m7 0h1m2 0h2m3 0h1m3 0h1m4 0h1m8 0h1m1 0h2m8 0h1m1 0h1m1 0h1m3 0h1m-445 1h2m4 0h1m2 0h1m1 0h1m18 0h1m12 0h1m10 0h1m68 0h1m7 0h2m8 0h1m3 0h3m15 0h1m1 0h1m1 0h1m3 0h1m12 0h1m1 0h1m2 0h1m8 0h1m5 0h1m1 0h1m2 0h1m2 0h2m7 0h1m4 0h2m2 0h1m5 0h1m2 0h1m16 0h1m5 0h1m67 0h1m19 0h1m20 0h2m2 0h1m8 0h1m5 0h1m1 0h1m6 0h1m11 0h1m3 0h1m5 0h1m2 0h3m7 0h1m12 0h1m-445 1h1m3 0h2m18 0h1m43 0h1m16 0h1m19 0h1m13 0h1m16 0h1m2 0h1m1 0h5m4 0h2m4 0h1m1 0h1m6 0h1m3 0h1m4 0h2m1 0h1m4 0h2m9 0h1m4 0h1m7 0h1m3 0h1m9 0h2m3 0h2m2 0h2m13 0h1m2 0h2m98 0h1m10 0h1m7 0h1m2 0h1m1 0h1m1 0h1m2 0h1m2 0h1m4 0h1m4 0h1m1 0h1m1 0h1m4 0h1m4 0h3m13 0h1m3 0h1m1 0h1m3 0h2m2 0h1m4 0h1m5 0h2m-448 1h1m1 0h3m11 0h1m85 0h1m3 0h1m18 0h1m7 0h1m1 0h1m15 0h1m1 0h1m1 0h1m2 0h2m4 0h1m2 0h1m5 0h1m4 0h1m3 0h1m1 0h1m4 0h2m1 0h1m7 0h1m7 0h1m2 0h1m1 0h1m25 0h1m60 0h1m26 0h1m25 0h1m8 0h1m8 0h2m4 0h1m7 0h1m2 0h1m1 0h1m5 0h2m1 0h1m2 0h1m1 0h1m5 0h2m3 0h1m2 0h1m6 0h1m10 0h1m2 0h1m2 0h1m1 0h1m-447 1h1m1 0h1m1 0h1m3 0h1m13 0h1m84 0h1m26 0h1m8 0h2m7 0h1m1 0h1m1 0h1m4 0h1m5 0h2m1 0h1m7 0h1m1 0h1m4 0h2m1 0h2m1 0h1m1 0h1m5 0h3m5 0h3m4 0h2m3 0h1m1 0h1m2 0h1m14 0h1m8 0h1m7 0h1m93 0h1m8 0h1m9 0h1m3 0h1m4 0h1m1 0h2m1 0h1m3 0h2m9 0h1m9 0h1m3 0h2m4 0h2m4 0h3m1 0h1m4 0h1m6 0h1m1 0h1m4 0h2m-449 1h1m2 0h2m1 0h1m3 0h1m2 0h1m6 0h1m2 0h1m15 0h1m30 0h1m29 0h1m11 0h1m4 0h1m19 0h1m3 0h1m16 0h1m4 0h2m2 0h1m1 0h1m3 0h1m3 0h1m4 0h3m3 0h2m2 0h1m1 0h1m1 0h1m1 0h1m1 0h6m1 0h3m1 0h2m10 0h1m2 0h1m4 0h3m1 0h1m3 0h1m10 0h2m7 0h1m4 0h1m31 0h1m35 0h1m11 0h1m16 0h1m1 0h2m2 0h1m11 0h1m10 0h1m3 0h1m11 0h1m8 0h1m1 0h1m9 0h1m1 0h2m4 0h1m2 0h2m1 0h1m1 0h1m4 0h2m-448 1h1m11 0h1m100 0h1m6 0h1m24 0h1m7 0h1m3 0h1m1 0h1m5 0h1m1 0h1m4 0h1m4 0h2m2 0h1m3 0h2m1 0h1m1 0h1m2 0h1m5 0h1m4 0h1m4 0h1m5 0h1m3 0h2m9 0h1m13 0h1m2 0h1m76 0h1m25 0h1m19 0h1m7 0h2m7 0h2m8 0h1m1 0h1m2 0h1m1 0h1m2 0h1m3 0h1m2 0h1m1 0h2m5 0h1m1 0h1m2 0h1m8 0h1m2 0h1m1 0h1m1 0h1m-310 1h1m2 0h2m3 0h1m6 0h1m1 0h2m6 0h1m3 0h1m3 0h1m3 0h1m5 0h1m2 0h4m2 0h2m6 0h3m3 0h1m2 0h1m1 0h1m1 0h1m9 0h1m6 0h1m3 0h1m21 0h1m10 0h1m41 0h1m19 0h1m15 0h1m17 0h1m5 0h1m4 0h1m3 0h1m3 0h1m12 0h2m7 0h1m3 0h1m5 0h1m2 0h1m5 0h1m5 0h1m10 0h1m6 0h1m5 0h1m-346 1h1m28 0h1m14 0h1m8 0h1m4 0h1m2 0h1m2 0h1m3 0h3m9 0h1m8 0h1m6 0h1m14 0h1m1 0h2m4 0h1m9 0h1m1 0h1m23 0h1m8 0h1m4 0h1m89 0h1m3 0h1m2 0h1m8 0h1m7 0h1m5 0h1m3 0h1m15 0h1m12 0h2m1 0h1m5 0h1m1 0h1m2 0h2m4 0h1m1 0h2m-451 1h1m2 0h1m3 0h2m3 0h1m4 0h1m110 0h2m24 0h1m7 0h1m2 0h1m6 0h2m2 0h1m13 0h1m10 0h1m8 0h1m2 0h1m5 0h1m16 0h1m4 0h1m5 0h1m3 0h1m110 0h1m9 0h1m3 0h1m2 0h1m2 0h1m4 0h2m1 0h1m10 0h1m16 0h1m11 0h1m5 0h1m1 0h1m2 0h1m-441 1h1m8 0h2m2 0h1m2 0h1m28 0h1m75 0h1m15 0h1m2 0h1m15 0h2m3 0h2m2 0h1m5 0h1m4 0h1m4 0h1m6 0h1m6 0h1m1 0h1m1 0h2m4 0h1m8 0h1m5 0h1m12 0h1m23 0h1m4 0h1m33 0h1m43 0h1m21 0h1m7 0h1m6 0h1m7 0h1m5 0h1m8 0h3m3 0h2m6 0h1m8 0h1m5 0h1m4 0h1m1 0h1m2 0h1m1 0h1m3 0h1m-435 1h1m116 0h1m21 0h1m8 0h2m2 0h1m9 0h1m3 0h1m14 0h2m1 0h1m5 0h1m1 0h1m1 0h1m6 0h2m9 0h1m14 0h1m14 0h1m95 0h1m5 0h1m4 0h1m21 0h1m2 0h1m4 0h2m1 0h1m5 0h1m9 0h1m5 0h1m2 0h1m10 0h1m5 0h1m1 0h2m10 0h1m-326 1h1m9 0h1m14 0h1m4 0h1m4 0h1m1 0h1m2 0h1m4 0h2m6 0h2m4 0h1m16 0h1m3 0h1m8 0h1m8 0h1m28 0h1m81 0h1m15 0h1m10 0h1m15 0h1m11 0h1m5 0h1m1 0h2m5 0h2m4 0h2m4 0h1m2 0h1m6 0h1m12 0h1m-437 1h2m142 0h1m1 0h1m14 0h1m3 0h1m5 0h1m4 0h1m3 0h1m3 0h1m4 0h2m2 0h1m2 0h1m4 0h2m3 0h2m1 0h1m2 0h1m9 0h1m1 0h1m18 0h1m5 0h1m70 0h1m33 0h1m1 0h1m27 0h1m11 0h1m1 0h1m3 0h2m10 0h2m5 0h1m10 0h1m1 0h1m1 0h1m6 0h1m-351 1h2m21 0h1m33 0h1m7 0h1m6 0h2m7 0h1m7 0h3m1 0h1m2 0h1m1 0h1m3 0h1m2 0h1m2 0h1m5 0h1m5 0h1m1 0h1m32 0h2m68 0h1m43 0h1m7 0h1m3 0h1m2 0h1m8 0h1m1 0h1m1 0h1m1 0h1m2 0h1m2 0h1m7 0h1m7 0h1m7 0h1m5 0h1m1 0h2m-430 1h1m76 0h1m28 0h1m17 0h1m16 0h1m10 0h1m21 0h3m2 0h2m1 0h1m3 0h1m5 0h1m1 0h1m8 0h1m2 0h3m4 0h1m6 0h2m8 0h1m4 0h1m66 0h1m76 0h1m2 0h2m2 0h1m3 0h1m2 0h1m13 0h2m2 0h1m2 0h1m3 0h2m1 0h1m5 0h1m4 0h3m1 0h1m3 0h1m2 0h1m-448 1h1m5 0h1m2 0h1m28 0h1m1 0h1m2 0h1m95 0h1m19 0h1m2 0h1m7 0h1m2 0h1m1 0h1m5 0h1m4 0h1m6 0h3m7 0h1m16 0h1m14 0h1m30 0h1m1 0h1m114 0h1m3 0h2m2 0h1m5 0h1m2 0h2m11 0h1m8 0h2m1 0h1m23 0h1m-346 1h1m24 0h1m2 0h1m1 0h1m4 0h1m17 0h1m3 0h2m9 0h4m3 0h1m6 0h1m13 0h1m3 0h1m3 0h2m1 0h1m3 0h1m4 0h2m17 0h1m2 0h1m25 0h1m72 0h1m14 0h1m13 0h1m5 0h1m23 0h1m5 0h1m15 0h1m6 0h1m3 0h1m4 0h2m1 0h1m2 0h2m-438 1h1m159 0h1m1 0h2m3 0h1m13 0h1m6 0h1m2 0h1m2 0h1m2 0h2m9 0h1m9 0h1m152 0h1m1 0h1m4 0h2m9 0h1m2 0h1m1 0h1m1 0h1m8 0h1m7 0h1m4 0h1m6 0h1m7 0h1m1 0h1m5 0h1m-445 1h1m5 0h1m29 0h1m96 0h1m17 0h1m19 0h1m3 0h1m1 0h1m1 0h1m8 0h1m12 0h1m2 0h1m2 0h1m12 0h1m10 0h1m4 0h1m24 0h1m78 0h1m23 0h1m12 0h1m18 0h1m7 0h1m15 0h2m7 0h1m3 0h3m1 0h1m3 0h1m-445 1h2m146 0h1m5 0h1m10 0h1m3 0h1m1 0h1m3 0h1m14 0h2m14 0h1m1 0h1m1 0h3m1 0h1m136 0h1m22 0h1m20 0h1m18 0h2m10 0h1m2 0h2m2 0h1m3 0h1m2 0h1m-434 1h1m73 0h1m73 0h1m1 0h2m9 0h1m3 0h1m3 0h1m8 0h1m4 0h1m1 0h1m14 0h1m3 0h1m22 0h1m135 0h1m10 0h1m15 0h1m6 0h1m1 0h1m8 0h2m2 0h1m2 0h2m22 0h1m-446 1h1m77 0h1m74 0h1m10 0h1m8 0h1m25 0h2m5 0h2m8 0h1m23 0h1m157 0h1m13 0h1m1 0h2m2 0h1m4 0h1m4 0h1m2 0h1m-295 1h1m3 0h1m12 0h1m6 0h1m4 0h1m11 0h1m5 0h1m1 0h1m2 0h2m16 0h1m167 0h1m10 0h1m4 0h1m4 0h1m1 0h1m16 0h2m1 0h1m4 0h2m3 0h1m3 0h1m-279 1h1m26 0h1m2 0h1m4 0h1m1 0h1m3 0h1m2 0h1m7 0h3m39 0h1m37 0h1m86 0h1m3 0h1m15 0h1m8 0h1m28 0h1m1 0h2m2 0h1m6 0h1m-448 1h1m68 0h1m89 0h1m6 0h1m5 0h1m6 0h1m8 0h2m4 0h1m2 0h2m9 0h1m138 0h1m13 0h1m30 0h1m10 0h2m1 0h1m12 0h1m26 0h1m-441 1h1m161 0h1m36 0h1m9 0h1m1 0h1m180 0h1m1 0h1m2 0h1m5 0h1m1 0h1m13 0h1m5 0h1m13 0h1m-440 1h1m138 0h1m2 0h1m19 0h1m5 0h1m10 0h1m9 0h1m15 0h1m178 0h1m14 0h1m5 0h1m7 0h1m1 0h1m-310 1h1m74 0h1m4 0h1m8 0h1m226 0h1m8 0h1m-298 1h1m27 0h1m10 0h1m4 0h1m12 0h1m2 0h1m30 0h1m54 0h1m78 0h1m39 0h1m2 0h2m15 0h1m15 0h1m3 0h1m-266 1h1m3 0h1m8 0h1m4 0h1m181 0h1m18 0h1m1 0h1m2 0h2m14 0h1m19 0h1m1 0h1m-284 1h1m9 0h1m56 0h1m26 0h1m11 0h1m28 0h1m12 0h1m40 0h1m24 0h1m10 0h1m45 0h1m-416 1h1m168 0h1m10 0h1m27 0h1m166 0h1m14 0h1m1 0h1m3 0h1m29 0h1m-348 1h1m65 0h1m6 0h1m18 0h1m5 0h1m19 0h1m143 0h1m54 0h1m6 0h1m1 0h1m-273 1h1m18 0h1m13 0h1m50 0h1m154 0h1m3 0h1m16 0h1m3 0h1m7 0h1m-410 1h1m115 0h1m45 0h1m14 0h1m20 0h1m3 0h1m144 0h1m19 0h1m19 0h1m32 0h1m3 0h1m5 0h1m-437 1h1m154 0h1m16 0h1m16 0h1m216 0h1m6 0h1m-246 1h1m7 0h1m1 0h1m16 0h1m43 0h1m163 0h1m25 0h1m1 0h1m4 0h1m-246 1h1m12 0h1m140 0h1m97 0h1m-290 1h1m34 0h1m5 0h1m35 0h1m-24 2h1m145 0h1m47 0h1m-236 1h1m224 0h1m47 0h1m-254 1h1m152 0h1m37 0h1m7 0h1m9 0h1m-222 1h1m47 1h1m139 0h1m-187 1h1m-178 1h1m178 0h1m206 0h1m25 0h1m-259 2h1m31 0h1m213 0h1m-322 1h1m107 1h1m122 0h1m89 1h1m15 0h1m-206 1h1m29 0h1m159 0h1m-226 2h1m-118 1h1m320 0h1m-191 2h1m14 1h1m-106 2h1m307 0h1m3 0h1m-21 2h1m-367 1h1m101 1h1m224 0h1m20 0h1m-246 1h1m244 1h1m-291 2h1m86 0h1m27 0h1m-95 2h1m65 0h1m229 0h1m-121 2h1m-188 1h1m68 1h1m256 1h1m-226 3h1m-198 1h1m225 0h1m140 0h1m-234 2h1m55 0h1m-173 4h1m90 0h1m173 0h1m-87 1h1m5 0h1m86 0h1m-105 4h1m99 0h1m67 4h1m-174 1h1m-167 7h1m310 1h1m33 0h1m24 5h1m-315 1h1m342 0h1m-40 2h1m-18 1h1m-308 4h1m350 0h1m-371 7h1m7 2h1m68 0h1m283 0h1m-144 1h1m124 2h1m-243 3h1m8 1h1m-28 2h1m-89 1h1m22 0h1m267 4h1m-87 3h1m-136 2h1m90 2h1"/>
<path id="g7" d="M431 79.5h1m-244 1h1m241 0h1m43 0h1m-252 3h1m-56 2h1m14 0h1m203 1h1m63 0h1m-30 1h1m64 0h1m-327 1h1m56 2h1m328 0h1m-418 1h1m417 2h1m-299 1h1m170 0h1m98 0h1m-401 2h1m236 0h1m-110 7h1m52 1h1m-86 1h1m210 2h1m-69 1h1m95 2h1m17 3h1m-351 1h1m254 1h1m120 0h1m-373 1h1m23 2h1m-43 1h1m314 0h1m-21 1h1m37 0h1m29 0h1m-97 1h1m-123 1h1m-38 8h1m174 2h1m-198 2h1m135 3h1m-143 1h1m33 0h1m191 0h1m-232 1h1m151 1h1m-60 1h1m-97 3h1m2 0h1m-16 1h1m122 0h1m-133 1h1m64 0h1m224 0h1m-201 2h1m154 0h1m-244 2h1m267 0h1m23 0h1m-28 1h1m-275 2h1m367 0h1m-299 1h1m198 0h1m-58 3h1m-211 1h1m295 0h1m-197 1h1m84 0h1m78 0h1m-21 3h1m-249 1h1m82 0h1m163 0h1m-248 1h1m56 0h1m-41 4h1m-9 1h1m41 0h1m215 0h1m103 0h1m-380 1h1m218 0h1m36 0h1m122 0h1m-133 1h1m-20 1h1m37 0h1m-255 1h1m6 0h1m208 0h1m64 0h1m-162 1h1m121 0h1m22 0h1m-250 1h1m5 0h1m30 0h1m188 0h1m4 0h1m85 0h1m-331 1h1m218 0h1m-262 1h1m78 0h1m236 0h1m-273 1h1m60 0h1m170 0h1m144 0h1m-382 1h1m15 0h2m38 0h1m141 0h1m50 0h1m13 0h1m10 0h1m36 0h1m-297 1h1m11 0h1m21 0h1m11 0h1m184 0h1m5 0h1m-118 1h1m92 0h1m8 0h1m27 0h1m49 0h1m-335 1h1m42 0h1m153 0h1m29 0h1m-217 1h1m11 0h1m12 0h1m17 0h1m20 0h1m171 0h1m15 0h1m7 0h1m40 0h1m-279 1h1m35 0h1m149 0h1m63 0h1m11 0h1m-281 1h1m5 0h1m3 0h1m3 0h1m44 0h1m127 0h1m36 0h1m1 0h1m3 0h1m15 0h1m38 0h1m-273 1h1m170 0h1m82 0h1m-254 1h1m26 0h2m139 0h1m24 0h1m25 0h1m43 0h1m12 0h1m21 0h1m-324 1h1m3 0h1m2 0h1m2 0h1m8 0h1m10 0h1m6 0h1m5 0h1m63 0h1m80 0h1m36 0h1m12 0h1m17 0h1m13 0h1m19 0h1m-257 1h2m9 0h1m215 0h1m3 0h1m18 0h1m-289 1h1m25 0h1m25 0h1m3 0h1m116 0h1m46 0h1m25 0h1m24 0h1m5 0h2m26 0h1m-284 1h1m35 0h1m101 0h1m33 0h1m30 0h1m21 0h2m7 0h1m24 0h1m31 0h1m-283 1h1m193 0h1m30 0h2m7 0h2m8 0h1m1 0h1m3 0h1m129 0h1m-425 1h1m20 0h1m22 0h1m12 0h2m11 0h1m37 0h1m10 0h1m137 0h1m12 0h1m10 0h1m10 0h1m51 0h1m-339 1h1m1 0h1m37 0h1m1 0h1m25 0h1m1 0h1m33 0h1m73 0h1m54 0h1m52 0h2m4 0h1m1 0h1m5 0h1m31 0h1m-302 1h1m4 0h3m5 0h1m15 0h1m11 0h1m2 0h1m25 0h1m120 0h1m12 0h1m26 0h1m30 0h1m4 0h2m15 0h1m6 0h1m45 0h1m-373 1h1m7 0h1m3 0h1m10 0h1m12 0h1m8 0h1m1 0h1m10 0h1m56 0h1m102 0h1m15 0h1m12 0h2m6 0h1m37 0h1m47 0h1m-293 1h1m7 0h2m1 0h1m1 0h1m2 0h1m4 0h1m15 0h1m64 0h1m71 0h1m32 0h1m5 0h1m6 0h1m1 0h1m10 0h1m1 0h1m3 0h1m-296 1h1m3 0h1m8 0h1m2 0h1m6 0h1m32 0h1m22 0h1m10 0h1m15 0h1m131 0h1m13 0h1m25 0h2m6 0h1m4 0h1m104 0h1m5 0h1m24 0h1m-424 1h1m26 0h1m20 0h1m1 0h1m27 0h1m31 0h1m91 0h1m27 0h1m10 0h1m12 0h2m3 0h2m7 0h1m4 0h1m3 0h2m3 0h1m35 0h1m15 0h1m-319 1h1m8 0h1m9 0h1m3 0h1m27 0h1m8 0h1m6 0h2m101 0h1m62 0h1m3 0h1m12 0h1m1 0h1m2 0h1m30 0h1m-253 1h1m8 0h2m12 0h1m3 0h2m8 0h1m26 0h1m111 0h1m10 0h1m10 0h1m2 0h1m8 0h1m1 0h1m7 0h1m23 0h1m3 0h1m3 0h1m1 0h1m7 0h1m3 0h1m16 0h1m3 0h1m1 0h1m37 0h1m19 0h1m31 0h1m-417 1h1m9 0h2m5 0h1m3 0h2m1 0h2m8 0h1m1 0h1m9 0h1m16 0h2m24 0h1m40 0h1m10 0h1m54 0h1m13 0h1m28 0h1m7 0h1m1 0h1m13 0h3m9 0h1m6 0h1m4 0h1m12 0h1m2 0h1m62 0h1m25 0h1m-385 1h1m6 0h1m3 0h1m5 0h2m15 0h1m6 0h2m4 0h1m5 0h1m23 0h1m10 0h1m134 0h1m18 0h1m8 0h1m7 0h1m2 0h1m3 0h1m1 0h2m12 0h1m4 0h1m45 0h1m-361 1h1m4 0h1m1 0h1m1 0h1m29 0h1m1 0h1m7 0h1m9 0h1m2 0h3m11 0h1m4 0h1m44 0h1m104 0h1m12 0h1m6 0h1m5 0h1m17 0h1m8 0h1m2 0h1m2 0h1m10 0h1m5 0h1m1 0h1m12 0h1m18 0h1m1 0h1m-307 1h1m12 0h2m10 0h1m1 0h1m1 0h3m12 0h1m10 0h1m3 0h1m52 0h1m13 0h1m58 0h1m7 0h1m6 0h1m7 0h1m4 0h1m6 0h1m13 0h1m1 0h1m1 0h1m3 0h3m11 0h1m10 0h1m3 0h1m4 0h1m6 0h2m14 0h1m42 0h1m-386 1h1m22 0h1m11 0h1m8 0h1m4 0h1m1 0h1m10 0h1m1 0h1m13 0h1m1 0h1m2 0h1m12 0h1m2 0h1m8 0h1m58 0h1m70 0h1m1 0h2m1 0h2m7 0h1m3 0h1m8 0h1m18 0h1m17 0h1m28 0h1m32 0h1m53 0h1m-392 1h1m16 0h1m6 0h1m4 0h1m2 0h2m1 0h1m12 0h1m2 0h2m1 0h1m4 0h1m1 0h1m15 0h1m78 0h1m41 0h1m21 0h1m17 0h1m3 0h2m1 0h2m26 0h1m3 0h1m1 0h2m1 0h1m12 0h1m5 0h1m3 0h1m1 0h1m29 0h1m4 0h1m38 0h1m27 0h1m-418 1h1m2 0h1m1 0h1m5 0h1m1 0h1m2 0h1m2 0h2m2 0h1m11 0h1m2 0h1m3 0h1m8 0h1m6 0h1m3 0h1m2 0h1m5 0h1m5 0h1m3 0h1m29 0h1m10 0h1m15 0h1m49 0h1m36 0h1m1 0h1m26 0h2m2 0h1m1 0h2m1 0h1m3 0h1m15 0h2m7 0h1m10 0h1m1 0h2m24 0h1m34 0h1m17 0h1m-409 1h1m3 0h2m6 0h1m19 0h1m1 0h1m1 0h1m2 0h2m7 0h1m1 0h2m8 0h1m10 0h1m2 0h1m1 0h1m11 0h1m2 0h1m41 0h1m97 0h1m9 0h1m31 0h1m2 0h1m4 0h1m1 0h1m7 0h1m4 0h1m3 0h1m10 0h2m5 0h1m-297 1h1m5 0h2m4 0h1m4 0h1m13 0h1m13 0h1m5 0h1m11 0h2m3 0h1m6 0h3m8 0h1m10 0h1m85 0h1m8 0h1m17 0h2m3 0h1m2 0h1m11 0h1m7 0h1m21 0h1m11 0h2m3 0h1m1 0h1m1 0h1m3 0h1m3 0h3m8 0h1m107 0h1m8 0h1m-440 1h1m20 0h1m4 0h1m17 0h1m1 0h1m3 0h2m3 0h1m2 0h1m5 0h3m2 0h1m3 0h1m6 0h1m12 0h1m5 0h2m3 0h1m4 0h1m6 0h1m79 0h1m41 0h1m12 0h1m1 0h1m5 0h1m8 0h2m5 0h1m6 0h1m4 0h1m5 0h3m1 0h1m1 0h2m9 0h1m7 0h1m3 0h1m2 0h2m8 0h1m18 0h1m18 0h1m-358 1h1m3 0h1m12 0h1m6 0h2m6 0h1m3 0h1m4 0h1m1 0h1m4 0h1m7 0h1m2 0h1m4 0h2m3 0h1m10 0h1m2 0h1m8 0h1m54 0h1m66 0h1m31 0h1m4 0h1m3 0h1m5 0h2m4 0h1m3 0h1m1 0h2m3 0h1m1 0h2m1 0h1m6 0h1m4 0h2m6 0h2m7 0h1m4 0h1m55 0h1m41 0h1m-404 1h1m11 0h1m1 0h1m3 0h1m1 0h1m1 0h1m3 0h1m4 0h1m1 0h1m1 0h3m1 0h5m26 0h1m2 0h1m1 0h1m16 0h1m55 0h1m63 0h1m8 0h1m10 0h1m3 0h2m10 0h1m3 0h1m5 0h1m2 0h1m6 0h2m5 0h1m4 0h1m2 0h1m2 0h1m1 0h2m1 0h1m3 0h1m1 0h1m1 0h1m13 0h1m7 0h1m89 0h1m-433 1h1m9 0h1m9 0h1m6 0h2m7 0h2m1 0h1m3 0h1m1 0h1m1 0h1m5 0h1m1 0h1m8 0h2m1 0h1m9 0h1m12 0h2m3 0h1m16 0h1m42 0h1m51 0h1m12 0h1m40 0h1m1 0h1m1 0h2m1 0h1m11 0h1m9 0h1m2 0h1m1 0h1m1 0h1m8 0h1m3 0h1m2 0h1m1 0h1m6 0h1m13 0h1m3 0h1m31 0h1m7 0h1m-361 1h1m12 0h1m3 0h2m9 0h1m14 0h1m3 0h1m4 0h1m6 0h1m3 0h1m4 0h1m2 0h1m46 0h1m16 0h1m81 0h1m7 0h1m4 0h2m6 0h1m8 0h1m5 0h1m3 0h1m2 0h1m2 0h1m1 0h1m3 0h1m1 0h3m2 0h3m1 0h1m2 0h3m2 0h1m1 0h1m1 0h1m1 0h2m2 0h1m22 0h1m8 0h1m2 0h1m-353 1h1m20 0h1m3 0h1m5 0h1m8 0h3m2 0h3m4 0h1m1 0h1m5 0h2m4 0h1m1 0h1m1 0h1m1 0h1m2 0h1m9 0h1m4 0h1m12 0h1m8 0h1m124 0h1m11 0h1m5 0h1m1 0h2m6 0h2m1 0h1m18 0h1m3 0h1m2 0h2m7 0h2m10 0h1m7 0h2m3 0h1m4 0h1m3 0h1m6 0h1m9 0h1m30 0h1m39 0h1m-417 1h1m10 0h1m8 0h1m5 0h1m6 0h2m7 0h3m4 0h1m6 0h1m4 0h1m7 0h1m4 0h1m7 0h1m2 0h1m10 0h1m2 0h1m4 0h1m26 0h1m98 0h1m2 0h1m15 0h3m8 0h1m3 0h2m1 0h2m1 0h4m1 0h1m2 0h3m5 0h1m6 0h1m3 0h1m4 0h1m1 0h1m5 0h1m1 0h1m9 0h1m2 0h1m4 0h1m2 0h1m-344 1h1m3 0h1m11 0h1m9 0h1m1 0h1m6 0h1m7 0h1m3 0h2m19 0h1m2 0h2m18 0h1m2 0h1m5 0h1m3 0h2m2 0h1m10 0h1m12 0h1m74 0h1m8 0h1m8 0h1m6 0h1m10 0h1m11 0h1m6 0h1m5 0h1m2 0h1m4 0h1m8 0h1m3 0h1m8 0h1m4 0h2m3 0h1m12 0h2m4 0h1m7 0h1m1 0h1m3 0h1m8 0h1m63 0h1m-400 1h1m2 0h1m3 0h2m3 0h1m2 0h1m3 0h2m4 0h1m8 0h2m2 0h4m2 0h1m2 0h1m5 0h1m8 0h1m5 0h1m8 0h1m20 0h1m4 0h1m2 0h1m17 0h1m77 0h1m4 0h1m14 0h1m8 0h3m4 0h1m1 0h1m7 0h1m5 0h1m8 0h1m2 0h1m4 0h3m3 0h2m7 0h1m1 0h2m3 0h1m2 0h1m2 0h1m1 0h1m4 0h1m2 0h2m4 0h1m6 0h1m32 0h1m17 0h1m39 0h1m-435 1h1m6 0h1m9 0h1m10 0h2m9 0h2m1 0h2m15 0h2m5 0h1m5 0h1m2 0h1m2 0h1m2 0h1m15 0h1m2 0h1m2 0h1m2 0h1m6 0h1m8 0h1m1 0h1m1 0h1m9 0h1m22 0h2m7 0h1m35 0h1m20 0h1m15 0h1m12 0h1m3 0h1m17 0h1m4 0h1m3 0h2m6 0h1m12 0h1m7 0h1m5 0h1m5 0h1m1 0h1m6 0h1m3 0h1m4 0h1m1 0h1m4 0h1m9 0h2m-351 1h1m13 0h1m3 0h1m2 0h1m3 0h1m1 0h1m2 0h1m1 0h1m4 0h1m3 0h2m3 0h1m7 0h1m2 0h1m1 0h1m2 0h2m1 0h1m4 0h1m9 0h1m2 0h1m1 0h1m1 0h1m2 0h1m5 0h1m1 0h2m7 0h2m2 0h1m14 0h1m79 0h1m7 0h1m14 0h1m6 0h1m4 0h1m8 0h1m2 0h1m14 0h1m2 0h1m2 0h1m4 0h1m4 0h3m16 0h1m1 0h1m1 0h1m2 0h1m3 0h2m1 0h1m7 0h2m5 0h1m11 0h1m-361 1h1m16 0h1m1 0h1m6 0h1m9 0h1m14 0h1m4 0h2m8 0h3m4 0h1m5 0h1m8 0h1m1 0h1m2 0h1m10 0h1m3 0h2m10 0h1m1 0h1m2 0h1m3 0h1m8 0h1m7 0h1m5 0h1m4 0h1m57 0h1m4 0h1m2 0h1m20 0h1m1 0h1m6 0h1m30 0h1m2 0h1m8 0h1m6 0h1m6 0h1m5 0h1m9 0h1m9 0h1m1 0h1m11 0h1m27 0h1m59 0h1m-430 1h1m30 0h2m1 0h1m1 0h1m3 0h1m4 0h1m1 0h1m2 0h1m8 0h1m2 0h1m1 0h1m10 0h1m5 0h3m1 0h1m2 0h1m2 0h2m4 0h1m4 0h1m6 0h1m14 0h1m7 0h1m76 0h1m27 0h1m14 0h1m1 0h1m2 0h1m2 0h1m6 0h1m1 0h1m4 0h1m2 0h1m4 0h1m1 0h6m8 0h1m6 0h1m1 0h1m5 0h1m4 0h1m4 0h1m10 0h1m1 0h1m6 0h2m16 0h1m3 0h1m25 0h1m43 0h1m-444 1h1m18 0h1m4 0h2m4 0h1m2 0h1m6 0h2m1 0h2m4 0h1m5 0h1m2 0h2m1 0h1m1 0h1m11 0h2m5 0h1m4 0h1m2 0h1m2 0h1m4 0h2m2 0h1m1 0h1m1 0h1m4 0h1m2 0h2m11 0h1m16 0h2m1 0h1m30 0h1m4 0h1m31 0h1m16 0h1m7 0h1m1 0h1m1 0h1m7 0h1m3 0h1m1 0h1m9 0h1m12 0h1m12 0h1m4 0h2m5 0h2m6 0h1m8 0h2m1 0h1m8 0h1m5 0h1m19 0h2m6 0h1m57 0h1m9 0h1m-436 1h1m14 0h1m7 0h1m5 0h1m7 0h1m3 0h1m12 0h3m3 0h1m1 0h2m4 0h1m1 0h1m4 0h1m24 0h2m3 0h1m8 0h1m2 0h2m1 0h1m4 0h1m23 0h1m18 0h1m19 0h1m4 0h1m31 0h1m2 0h1m3 0h1m4 0h1m2 0h1m6 0h1m1 0h1m2 0h3m7 0h1m16 0h1m6 0h1m1 0h1m1 0h1m9 0h1m4 0h2m16 0h1m7 0h2m6 0h1m7 0h1m2 0h2m38 0h1m3 0h1m23 0h1m25 0h1m-443 1h1m8 0h1m4 0h1m3 0h1m6 0h1m3 0h2m1 0h1m1 0h1m2 0h1m1 0h1m6 0h1m5 0h1m11 0h1m3 0h1m2 0h1m1 0h1m2 0h1m5 0h1m3 0h1m12 0h1m3 0h1m6 0h1m1 0h1m2 0h1m5 0h1m1 0h1m6 0h1m3 0h1m1 0h2m1 0h1m54 0h1m33 0h1m3 0h1m16 0h2m2 0h2m2 0h4m6 0h2m6 0h2m13 0h1m4 0h2m1 0h1m2 0h4m1 0h1m4 0h2m8 0h1m1 0h1m3 0h2m20 0h1m8 0h2m6 0h1m9 0h1m43 0h1m7 0h1m-406 1h1m2 0h1m2 0h1m3 0h1m2 0h1m3 0h1m1 0h2m1 0h1m6 0h1m10 0h1m2 0h1m2 0h2m2 0h1m4 0h1m2 0h1m1 0h1m6 0h2m4 0h1m1 0h1m1 0h1m8 0h2m7 0h1m1 0h1m3 0h2m9 0h1m9 0h1m8 0h1m30 0h1m28 0h2m12 0h1m1 0h2m8 0h1m4 0h1m3 0h1m9 0h1m2 0h1m3 0h1m6 0h3m1 0h1m13 0h1m14 0h1m2 0h1m2 0h1m2 0h1m1 0h1m1 0h1m1 0h1m4 0h2m3 0h1m2 0h1m2 0h1m10 0h2m8 0h1m8 0h1m42 0h1m17 0h1m-432 1h1m1 0h1m9 0h1m1 0h1m4 0h1m3 0h1m1 0h2m1 0h1m2 0h3m1 0h1m2 0h1m4 0h1m1 0h1m2 0h1m1 0h4m13 0h2m1 0h1m1 0h1m7 0h1m4 0h1m3 0h1m6 0h3m4 0h1m19 0h1m4 0h1m1 0h1m7 0h1m44 0h1m5 0h1m28 0h1m6 0h1m4 0h1m3 0h1m3 0h2m8 0h1m3 0h2m4 0h2m8 0h1m4 0h1m9 0h1m9 0h2m6 0h1m1 0h2m1 0h2m8 0h1m1 0h1m2 0h1m10 0h1m1 0h2m1 0h1m4 0h1m7 0h1m3 0h1m23 0h1m4 0h1m48 0h1m-420 1h1m5 0h1m5 0h1m7 0h1m2 0h1m10 0h1m1 0h1m1 0h1m1 0h1m17 0h1m3 0h1m1 0h1m1 0h1m3 0h1m3 0h1m3 0h1m2 0h3m12 0h1m3 0h3m12 0h1m2 0h1m4 0h1m4 0h1m1 0h1m16 0h1m49 0h1m3 0h1m6 0h1m8 0h1m3 0h1m7 0h1m1 0h1m2 0h1m4 0h1m3 0h1m1 0h2m7 0h1m7 0h1m6 0h1m6 0h1m6 0h1m2 0h3m1 0h1m4 0h1m3 0h1m3 0h1m4 0h1m6 0h1m3 0h1m6 0h3m12 0h1m6 0h1m4 0h1m2 0h1m2 0h1m6 0h1m16 0h1m25 0h1m-424 1h1m13 0h1m6 0h1m1 0h1m7 0h3m2 0h2m1 0h1m2 0h3m9 0h3m21 0h1m5 0h3m6 0h1m10 0h1m18 0h1m2 0h2m3 0h2m4 0h3m7 0h1m58 0h1m14 0h1m6 0h1m4 0h1m3 0h1m1 0h2m3 0h1m1 0h1m7 0h1m2 0h2m9 0h1m3 0h1m7 0h1m2 0h1m4 0h1m1 0h1m5 0h1m3 0h1m4 0h1m3 0h2m6 0h3m3 0h1m7 0h1m20 0h1m4 0h1m1 0h1m4 0h1m5 0h1m7 0h1m27 0h1m11 0h1m-417 1h1m13 0h1m4 0h1m9 0h1m3 0h1m1 0h1m1 0h1m2 0h1m4 0h1m4 0h1m2 0h1m3 0h1m1 0h1m10 0h1m2 0h1m3 0h1m12 0h2m1 0h1m6 0h1m2 0h1m22 0h1m2 0h2m2 0h1m2 0h2m6 0h1m4 0h2m2 0h1m35 0h1m1 0h1m8 0h1m5 0h1m25 0h1m6 0h1m11 0h2m1 0h1m4 0h2m3 0h1m5 0h1m6 0h2m1 0h1m3 0h1m2 0h1m1 0h1m1 0h3m2 0h1m2 0h1m4 0h1m4 0h1m2 0h2m3 0h1m3 0h2m4 0h3m4 0h1m1 0h1m14 0h1m7 0h1m17 0h1m2 0h1m6 0h1m10 0h1m5 0h1m26 0h1m6 0h1m5 0h1m-433 1h2m8 0h3m3 0h1m4 0h1m4 0h1m1 0h1m3 0h2m3 0h1m2 0h1m1 0h1m5 0h1m15 0h1m1 0h1m5 0h1m3 0h1m2 0h1m1 0h1m3 0h1m15 0h1m1 0h1m5 0h1m1 0h1m1 0h1m8 0h2m1 0h1m12 0h1m12 0h1m2 0h1m26 0h1m2 0h1m3 0h1m17 0h1m21 0h2m1 0h1m2 0h1m2 0h1m1 0h1m5 0h2m7 0h1m2 0h1m1 0h1m3 0h1m1 0h1m3 0h1m3 0h1m1 0h1m1 0h1m2 0h1m8 0h1m3 0h1m2 0h1m3 0h2m17 0h1m3 0h1m4 0h1m6 0h1m14 0h1m12 0h1m34 0h1m11 0h2m16 0h1m-438 1h1m2 0h1m8 0h1m7 0h1m3 0h1m2 0h1m3 0h1m3 0h1m11 0h1m23 0h1m5 0h1m1 0h1m2 0h1m7 0h1m1 0h1m5 0h1m2 0h1m5 0h1m1 0h2m9 0h1m3 0h1m2 0h2m3 0h1m2 0h1m1 0h1m24 0h1m6 0h1m10 0h1m10 0h1m10 0h1m12 0h1m6 0h2m12 0h1m6 0h1m1 0h1m7 0h1m1 0h1m20 0h1m1 0h1m6 0h1m7 0h1m1 0h1m3 0h2m11 0h1m2 0h1m3 0h2m11 0h2m1 0h2m1 0h1m3 0h1m1 0h1m3 0h1m2 0h1m10 0h2m8 0h1m15 0h1m12 0h1m-406 1h1m4 0h1m3 0h1m11 0h1m9 0h1m1 0h2m10 0h1m4 0h1m12 0h1m2 0h1m24 0h1m4 0h2m5 0h1m1 0h1m15 0h1m6 0h1m4 0h1m26 0h1m1 0h1m4 0h1m13 0h1m40 0h1m8 0h1m2 0h1m6 0h1m4 0h1m13 0h1m3 0h2m2 0h1m7 0h2m1 0h1m1 0h1m17 0h1m5 0h1m5 0h2m1 0h2m6 0h1m5 0h2m7 0h2m2 0h1m6 0h2m1 0h1m3 0h1m37 0h1m1 0h1m10 0h1m-405 1h1m1 0h1m1 0h2m5 0h1m2 0h2m8 0h1m2 0h1m1 0h1m1 0h1m1 0h1m3 0h5m3 0h1m1 0h1m1 0h1m1 0h1m2 0h1m8 0h1m7 0h1m6 0h1m2 0h1m6 0h1m3 0h2m2 0h1m19 0h1m6 0h1m3 0h1m19 0h1m6 0h1m1 0h1m42 0h1m7 0h1m3 0h1m8 0h1m1 0h1m17 0h1m7 0h2m2 0h1m3 0h1m7 0h1m2 0h1m1 0h1m3 0h1m3 0h1m9 0h3m8 0h1m7 0h1m5 0h1m2 0h1m2 0h2m5 0h1m7 0h1m6 0h1m3 0h1m4 0h1m1 0h1m2 0h1m6 0h1m2 0h1m9 0h1m27 0h1m1 0h1m32 0h1m6 0h1m-449 1h1m3 0h1m15 0h3m2 0h3m3 0h2m2 0h1m15 0h1m1 0h1m13 0h1m19 0h1m1 0h1m1 0h1m1 0h1m1 0h1m2 0h1m1 0h1m6 0h2m3 0h1m4 0h1m8 0h1m6 0h1m51 0h1m11 0h1m1 0h1m17 0h1m17 0h1m3 0h1m1 0h1m2 0h4m3 0h1m4 0h1m16 0h1m5 0h1m6 0h1m7 0h1m12 0h1m4 0h3m12 0h2m1 0h2m6 0h2m4 0h1m8 0h1m2 0h3m2 0h1m11 0h1m23 0h1m26 0h2m-415 1h1m1 0h1m1 0h1m9 0h1m8 0h1m13 0h1m4 0h1m2 0h1m11 0h4m23 0h1m1 0h3m1 0h2m7 0h1m4 0h1m5 0h2m9 0h1m1 0h1m4 0h1m9 0h1m4 0h1m4 0h1m4 0h1m19 0h3m6 0h1m5 0h1m13 0h1m6 0h1m1 0h1m15 0h1m2 0h1m7 0h3m9 0h1m5 0h1m2 0h1m6 0h1m3 0h1m10 0h1m3 0h1m5 0h1m1 0h1m10 0h1m5 0h2m1 0h1m8 0h1m1 0h1m4 0h4m3 0h1m2 0h2m7 0h1m4 0h1m3 0h1m6 0h1m6 0h1m3 0h1m12 0h1m11 0h1m6 0h1m14 0h1m4 0h1m-438 1h1m7 0h2m10 0h2m6 0h2m1 0h1m1 0h1m5 0h1m1 0h1m15 0h1m1 0h2m1 0h2m3 0h1m3 0h1m16 0h2m3 0h1m7 0h2m2 0h1m2 0h1m7 0h2m3 0h1m3 0h3m1 0h1m4 0h1m5 0h3m3 0h1m1 0h1m2 0h1m44 0h1m6 0h1m4 0h1m12 0h3m7 0h1m1 0h1m1 0h2m1 0h1m5 0h1m1 0h1m9 0h1m11 0h1m1 0h1m8 0h1m5 0h1m11 0h1m4 0h1m3 0h1m10 0h1m1 0h1m13 0h2m2 0h1m7 0h2m5 0h1m4 0h1m2 0h1m5 0h1m6 0h1m5 0h1m31 0h1m22 0h1m1 0h1m-431 1h2m1 0h1m3 0h2m1 0h1m5 0h1m2 0h2m7 0h1m1 0h2m4 0h1m4 0h1m28 0h1m2 0h1m10 0h2m7 0h2m2 0h1m4 0h1m1 0h1m10 0h1m6 0h1m21 0h1m1 0h1m5 0h1m1 0h2m10 0h1m13 0h1m15 0h1m22 0h1m6 0h1m12 0h1m1 0h1m9 0h1m1 0h2m2 0h1m3 0h2m2 0h1m11 0h1m6 0h2m3 0h1m1 0h2m1 0h1m8 0h1m15 0h1m2 0h2m1 0h2m1 0h1m11 0h1m1 0h1m1 0h1m5 0h1m9 0h1m18 0h1m6 0h1m17 0h1m13 0h1m3 0h1m9 0h1m-437 1h2m8 0h1m2 0h1m2 0h1m2 0h1m8 0h1m11 0h1m1 0h1m1 0h1m6 0h1m1 0h1m2 0h2m1 0h1m2 0h2m17 0h1m3 0h1m8 0h1m4 0h1m1 0h1m7 0h2m3 0h1m1 0h2m4 0h2m5 0h2m4 0h1m4 0h1m7 0h1m8 0h1m8 0h1m1 0h1m10 0h1m28 0h1m13 0h1m2 0h2m4 0h1m1 0h1m7 0h1m2 0h2m1 0h1m1 0h1m3 0h1m15 0h1m9 0h1m6 0h1m1 0h1m23 0h1m2 0h1m2 0h1m2 0h1m13 0h1m9 0h1m7 0h1m2 0h2m1 0h2m6 0h1m8 0h1m3 0h1m1 0h1m14 0h1m4 0h1m13 0h1m13 0h1m-427 1h1m3 0h1m9 0h1m5 0h1m9 0h1m2 0h1m6 0h2m1 0h1m3 0h2m1 0h1m8 0h1m2 0h1m2 0h1m17 0h1m3 0h2m15 0h1m3 0h1m3 0h1m1 0h1m1 0h1m2 0h1m12 0h1m16 0h1m11 0h1m5 0h1m3 0h1m11 0h1m9 0h1m5 0h1m10 0h2m3 0h1m9 0h1m6 0h1m7 0h1m3 0h1m1 0h1m3 0h1m4 0h1m1 0h3m4 0h1m5 0h2m5 0h1m6 0h1m4 0h1m13 0h1m8 0h1m2 0h1m2 0h1m7 0h1m5 0h2m5 0h1m1 0h2m6 0h1m1 0h1m16 0h1m13 0h1m4 0h2m4 0h1m21 0h1m5 0h1m5 0h1m7 0h1m5 0h1m-450 1h2m3 0h1m3 0h1m3 0h2m1 0h1m5 0h1m1 0h1m3 0h2m1 0h1m7 0h1m1 0h1m2 0h1m30 0h1m11 0h1m10 0h1m1 0h2m10 0h1m5 0h1m2 0h1m2 0h1m14 0h1m1 0h1m4 0h2m3 0h1m3 0h1m8 0h1m1 0h2m6 0h1m5 0h1m15 0h2m5 0h1m12 0h1m9 0h1m2 0h1m1 0h1m14 0h2m1 0h1m2 0h1m7 0h1m3 0h1m2 0h1m5 0h1m2 0h1m1 0h1m4 0h1m1 0h1m7 0h1m7 0h1m13 0h1m1 0h2m17 0h1m7 0h1m1 0h1m1 0h1m3 0h1m5 0h1m2 0h1m1 0h1m1 0h3m5 0h1m3 0h1m9 0h1m3 0h1m16 0h1m3 0h1m7 0h1m4 0h1m2 0h2m9 0h1m5 0h1m-441 1h1m6 0h1m1 0h1m2 0h1m1 0h1m3 0h2m3 0h2m1 0h1m3 0h1m1 0h1m2 0h2m3 0h1m3 0h1m24 0h1m14 0h1m18 0h1m1 0h2m1 0h1m2 0h1m5 0h2m1 0h1m3 0h2m8 0h2m3 0h3m1 0h2m5 0h1m4 0h1m1 0h2m1 0h1m31 0h1m27 0h1m4 0h1m6 0h1m3 0h1m1 0h1m1 0h1m1 0h1m1 0h1m9 0h3m25 0h1m3 0h1m21 0h1m5 0h1m2 0h1m2 0h1m7 0h2m1 0h1m2 0h1m7 0h2m1 0h1m1 0h2m6 0h1m3 0h1m19 0h2m1 0h4m6 0h1m12 0h2m8 0h1m5 0h1m7 0h1m3 0h1m-426 1h1m8 0h1m1 0h2m7 0h1m1 0h1m4 0h1m1 0h1m5 0h1m6 0h1m1 0h1m1 0h1m1 0h1m41 0h1m2 0h2m1 0h1m5 0h2m2 0h1m4 0h2m1 0h1m2 0h1m7 0h1m4 0h1m1 0h1m3 0h1m3 0h1m1 0h2m1 0h1m10 0h1m2 0h1m10 0h1m6 0h1m6 0h1m10 0h2m2 0h1m3 0h1m3 0h1m4 0h1m4 0h1m4 0h1m3 0h2m17 0h1m2 0h1m1 0h1m11 0h1m5 0h1m4 0h1m3 0h1m29 0h1m2 0h1m4 0h1m5 0h1m3 0h1m1 0h1m5 0h1m1 0h1m2 0h1m5 0h1m1 0h1m1 0h3m14 0h1m6 0h2m7 0h2m3 0h1m3 0h1m4 0h1m3 0h1m10 0h1m9 0h1m12 0h1m-446 1h2m12 0h1m17 0h1m9 0h1m1 0h2m3 0h1m27 0h1m5 0h1m9 0h2m9 0h1m2 0h1m2 0h2m1 0h2m1 0h1m11 0h1m4 0h1m1 0h1m4 0h1m3 0h1m3 0h1m2 0h1m18 0h1m2 0h1m15 0h1m7 0h1m14 0h1m1 0h1m1 0h1m2 0h2m4 0h2m10 0h1m1 0h1m3 0h1m10 0h1m5 0h1m14 0h1m19 0h1m1 0h1m9 0h2m10 0h2m5 0h1m5 0h2m2 0h1m3 0h1m2 0h1m4 0h1m2 0h1m3 0h1m13 0h1m1 0h1m5 0h1m1 0h2m4 0h1m11 0h2m5 0h1m5 0h1m28 0h1m3 0h1m1 0h1m3 0h1m-445 1h1m2 0h1m2 0h1m1 0h1m6 0h1m1 0h1m1 0h2m2 0h1m16 0h1m15 0h1m1 0h1m7 0h1m22 0h1m2 0h1m2 0h1m1 0h1m8 0h1m1 0h1m4 0h1m2 0h1m2 0h1m4 0h1m1 0h1m1 0h3m1 0h2m11 0h2m6 0h2m14 0h1m5 0h2m3 0h1m7 0h1m10 0h1m1 0h1m2 0h1m13 0h1m12 0h2m6 0h3m4 0h1m7 0h1m3 0h1m13 0h1m3 0h1m1 0h1m5 0h1m1 0h1m34 0h1m3 0h1m1 0h1m1 0h1m1 0h1m1 0h1m1 0h1m1 0h2m1 0h1m2 0h1m7 0h1m3 0h1m2 0h1m2 0h1m8 0h1m6 0h2m7 0h1m16 0h2m5 0h1m1 0h1m1 0h1m1 0h1m5 0h1m7 0h1m10 0h1m-448 1h1m3 0h1m3 0h1m4 0h1m4 0h1m1 0h1m13 0h1m1 0h1m2 0h1m7 0h1m36 0h1m2 0h1m5 0h1m12 0h1m6 0h1m2 0h1m4 0h1m7 0h1m2 0h1m1 0h1m1 0h2m1 0h1m6 0h2m3 0h2m5 0h1m1 0h1m2 0h1m25 0h1m8 0h1m8 0h2m1 0h1m14 0h1m3 0h1m2 0h1m3 0h1m3 0h2m2 0h2m7 0h3m2 0h4m7 0h1m34 0h1m7 0h1m11 0h1m3 0h1m12 0h1m2 0h1m2 0h3m4 0h1m1 0h1m4 0h2m5 0h1m3 0h1m2 0h1m8 0h1m1 0h1m2 0h1m7 0h1m6 0h2m8 0h1m6 0h1m1 0h1m2 0h1m3 0h1m14 0h2m3 0h1m-450 1h1m2 0h1m1 0h2m7 0h1m1 0h1m3 0h2m12 0h1m8 0h1m9 0h1m2 0h1m1 0h1m7 0h1m28 0h1m7 0h2m2 0h1m10 0h1m5 0h1m10 0h2m1 0h1m7 0h1m1 0h1m1 0h2m2 0h1m10 0h1m6 0h1m13 0h1m7 0h1m6 0h2m6 0h1m12 0h1m5 0h1m1 0h1m4 0h1m3 0h1m3 0h2m36 0h1m32 0h1m13 0h1m10 0h1m2 0h1m5 0h1m1 0h1m2 0h2m7 0h1m2 0h1m2 0h1m8 0h1m5 0h1m5 0h3m19 0h1m1 0h1m3 0h1m3 0h1m6 0h1m6 0h2m3 0h3m3 0h1m-443 1h1m2 0h1m1 0h1m1 0h4m1 0h1m7 0h1m5 0h1m7 0h1m2 0h1m6 0h1m4 0h1m3 0h1m13 0h1m23 0h3m10 0h3m9 0h1m3 0h1m2 0h2m1 0h1m1 0h1m5 0h1m3 0h1m1 0h1m6 0h1m4 0h1m2 0h1m1 0h1m8 0h1m1 0h2m2 0h1m2 0h1m2 0h1m15 0h2m11 0h1m3 0h1m4 0h2m1 0h1m6 0h3m2 0h4m3 0h1m2 0h1m3 0h2m10 0h1m2 0h1m8 0h1m1 0h1m10 0h1m17 0h1m16 0h2m9 0h1m5 0h2m2 0h2m6 0h1m2 0h2m4 0h1m2 0h1m1 0h1m4 0h1m4 0h1m2 0h1m6 0h1m3 0h1m4 0h2m5 0h1m1 0h1m7 0h1m2 0h1m4 0h1m15 0h1m6 0h1m5 0h1m-449 1h1m1 0h4m2 0h1m1 0h3m2 0h1m2 0h1m7 0h1m5 0h1m3 0h1m13 0h1m3 0h1m2 0h1m18 0h1m36 0h1m4 0h2m1 0h2m1 0h2m2 0h1m1 0h2m10 0h3m5 0h2m3 0h1m3 0h1m4 0h1m3 0h1m10 0h1m25 0h1m5 0h1m3 0h1m2 0h1m3 0h1m1 0h1m4 0h1m1 0h2m1 0h3m4 0h1m3 0h2m4 0h1m5 0h1m16 0h1m5 0h1m1 0h1m21 0h1m24 0h1m3 0h1m8 0h1m4 0h1m4 0h1m3 0h1m3 0h4m3 0h1m1 0h1m7 0h1m9 0h1m5 0h1m6 0h1m12 0h1m17 0h1m4 0h2m1 0h1m9 0h1m-450 1h1m12 0h1m1 0h2m2 0h2m8 0h1m10 0h1m3 0h1m3 0h1m2 0h1m41 0h1m9 0h1m13 0h1m5 0h1m5 0h1m9 0h1m2 0h1m4 0h2m2 0h1m7 0h3m2 0h1m13 0h1m3 0h1m5 0h1m9 0h3m7 0h1m4 0h2m4 0h1m1 0h1m8 0h1m9 0h1m11 0h1m1 0h1m5 0h2m3 0h1m4 0h1m55 0h1m4 0h1m10 0h2m2 0h2m7 0h1m5 0h1m4 0h2m5 0h1m8 0h1m1 0h1m3 0h2m14 0h1m3 0h1m3 0h2m24 0h1m1 0h1m4 0h1m1 0h1m1 0h1m-439 1h1m4 0h1m6 0h1m17 0h1m7 0h1m32 0h1m10 0h1m7 0h1m1 0h1m9 0h1m3 0h1m1 0h1m10 0h1m12 0h1m6 0h1m2 0h2m1 0h1m3 0h1m9 0h2m15 0h1m1 0h1m1 0h1m3 0h1m8 0h1m1 0h1m3 0h1m10 0h1m7 0h1m2 0h1m3 0h1m11 0h1m6 0h1m2 0h1m16 0h1m50 0h1m13 0h1m10 0h1m1 0h2m6 0h1m2 0h1m14 0h4m2 0h1m8 0h2m4 0h1m9 0h1m2 0h1m6 0h1m8 0h1m7 0h1m-438 1h1m2 0h1m6 0h1m11 0h3m4 0h1m1 0h1m3 0h1m30 0h1m52 0h1m3 0h2m7 0h2m14 0h3m7 0h1m5 0h1m3 0h1m1 0h1m1 0h1m5 0h1m4 0h1m1 0h1m6 0h1m9 0h1m1 0h1m1 0h1m6 0h2m2 0h2m23 0h2m6 0h2m2 0h1m2 0h1m4 0h2m14 0h1m8 0h1m14 0h1m6 0h1m38 0h1m1 0h2m7 0h1m3 0h1m1 0h1m5 0h1m2 0h1m9 0h3m1 0h1m4 0h1m18 0h1m17 0h3m12 0h1m2 0h1m-442 1h2m4 0h2m5 0h2m5 0h1m25 0h1m49 0h1m11 0h1m1 0h1m9 0h1m4 0h1m12 0h1m4 0h1m1 0h1m5 0h1m10 0h1m1 0h1m1 0h3m3 0h1m23 0h1m2 0h1m5 0h1m7 0h1m9 0h1m3 0h1m5 0h1m1 0h1m25 0h1m42 0h1m8 0h1m8 0h1m1 0h2m3 0h1m48 0h2m1 0h1m7 0h2m1 0h1m9 0h1m2 0h3m1 0h1m14 0h1m5 0h1m1 0h2m3 0h1m-445 1h1m5 0h4m6 0h2m10 0h1m1 0h1m52 0h1m19 0h1m8 0h2m12 0h2m2 0h1m3 0h1m6 0h1m2 0h1m15 0h1m5 0h1m2 0h2m1 0h1m3 0h1m3 0h2m4 0h1m7 0h1m2 0h1m1 0h1m7 0h1m2 0h1m2 0h1m10 0h1m2 0h1m3 0h2m2 0h1m1 0h1m6 0h1m3 0h1m3 0h1m9 0h1m11 0h1m6 0h1m27 0h1m23 0h1m14 0h1m1 0h1m1 0h2m5 0h1m1 0h1m12 0h1m11 0h1m4 0h1m5 0h1m4 0h2m2 0h1m4 0h1m9 0h1m2 0h1m11 0h1m5 0h1m-442 1h1m2 0h2m4 0h1m1 0h1m13 0h1m5 0h1m37 0h1m1 0h1m12 0h1m36 0h1m19 0h2m1 0h2m2 0h1m1 0h1m7 0h1m11 0h1m5 0h1m12 0h1m9 0h2m9 0h1m2 0h1m2 0h3m5 0h1m4 0h3m4 0h2m12 0h1m7 0h1m99 0h1m6 0h1m4 0h2m15 0h1m4 0h1m2 0h1m1 0h1m3 0h2m5 0h1m6 0h2m6 0h1m12 0h1m6 0h1m3 0h1m1 0h1m-443 1h1m2 0h1m3 0h1m1 0h1m1 0h1m39 0h1m30 0h1m28 0h1m7 0h1m3 0h2m11 0h2m1 0h1m7 0h1m3 0h1m1 0h1m13 0h1m12 0h1m6 0h1m1 0h2m1 0h1m3 0h1m10 0h1m4 0h1m3 0h2m1 0h1m5 0h1m5 0h2m3 0h1m20 0h1m64 0h1m9 0h2m2 0h1m15 0h1m6 0h1m5 0h1m6 0h1m4 0h1m2 0h1m12 0h1m6 0h2m8 0h1m10 0h1m3 0h2m3 0h1m5 0h1m2 0h2m-448 1h1m3 0h1m10 0h1m10 0h1m1 0h1m28 0h1m7 0h1m55 0h1m2 0h1m5 0h1m4 0h1m3 0h1m10 0h1m2 0h1m5 0h1m2 0h2m1 0h1m2 0h1m3 0h1m7 0h1m4 0h1m8 0h1m11 0h1m10 0h1m8 0h1m4 0h1m6 0h2m18 0h1m10 0h1m48 0h1m9 0h1m21 0h1m5 0h2m1 0h1m2 0h1m1 0h5m2 0h1m4 0h1m9 0h1m6 0h1m2 0h1m5 0h1m5 0h1m2 0h3m5 0h1m14 0h1m8 0h1m-442 1h1m1 0h1m3 0h2m5 0h1m9 0h1m2 0h4m2 0h1m23 0h1m62 0h1m1 0h1m1 0h2m1 0h1m5 0h1m2 0h1m3 0h1m1 0h1m3 0h1m3 0h1m2 0h1m1 0h1m4 0h1m4 0h1m7 0h2m3 0h1m9 0h1m1 0h1m11 0h1m7 0h1m1 0h1m14 0h1m9 0h1m7 0h1m15 0h1m5 0h1m13 0h2m37 0h1m26 0h1m1 0h1m2 0h1m6 0h1m4 0h1m2 0h1m2 0h2m3 0h1m1 0h1m3 0h1m3 0h2m3 0h1m2 0h1m5 0h1m4 0h1m4 0h1m6 0h2m6 0h1m4 0h1m5 0h1m9 0h1m1 0h1m-449 1h2m6 0h1m1 0h1m4 0h3m14 0h1m30 0h1m11 0h1m49 0h1m1 0h1m1 0h1m3 0h1m2 0h3m6 0h1m3 0h1m18 0h1m3 0h1m7 0h1m1 0h1m3 0h1m5 0h1m1 0h1m2 0h1m9 0h1m2 0h1m3 0h1m1 0h1m11 0h2m3 0h1m2 0h1m4 0h1m1 0h1m4 0h1m2 0h1m6 0h1m79 0h1m2 0h1m9 0h3m6 0h1m3 0h1m1 0h1m1 0h1m3 0h1m19 0h1m1 0h1m2 0h1m16 0h1m2 0h1m9 0h1m5 0h3m1 0h1m7 0h2m-441 1h1m2 0h2m22 0h1m5 0h1m36 0h1m15 0h1m13 0h1m14 0h2m1 0h1m1 0h1m12 0h1m3 0h1m6 0h1m1 0h1m10 0h2m1 0h1m1 0h1m2 0h1m3 0h1m2 0h1m3 0h1m6 0h1m2 0h1m2 0h1m6 0h2m2 0h1m7 0h1m3 0h1m7 0h1m10 0h1m1 0h1m4 0h1m7 0h2m6 0h1m45 0h1m35 0h1m4 0h1m3 0h1m3 0h1m11 0h1m6 0h1m1 0h1m1 0h1m8 0h2m1 0h1m1 0h1m2 0h4m2 0h2m4 0h1m3 0h1m2 0h1m7 0h1m1 0h1m3 0h2m5 0h1m1 0h2m3 0h3m-442 1h2m5 0h1m1 0h2m2 0h1m9 0h1m90 0h1m2 0h1m6 0h1m6 0h1m1 0h1m3 0h1m1 0h1m7 0h1m2 0h1m1 0h2m4 0h1m2 0h1m3 0h2m6 0h2m10 0h1m8 0h1m13 0h1m1 0h3m3 0h2m2 0h1m7 0h1m7 0h1m2 0h1m5 0h1m3 0h1m11 0h1m46 0h1m34 0h1m16 0h1m14 0h1m1 0h1m1 0h2m3 0h1m3 0h1m7 0h1m3 0h1m2 0h1m7 0h1m3 0h1m13 0h1m3 0h1m1 0h3m1 0h1m-443 1h1m4 0h1m4 0h1m11 0h1m4 0h1m8 0h1m1 0h1m2 0h1m42 0h1m26 0h1m13 0h1m1 0h1m8 0h1m5 0h1m3 0h1m11 0h1m4 0h3m9 0h1m1 0h1m2 0h1m7 0h1m23 0h1m5 0h1m8 0h1m2 0h1m4 0h1m9 0h1m1 0h1m65 0h1m33 0h1m4 0h2m2 0h1m18 0h1m7 0h3m3 0h2m5 0h1m3 0h1m2 0h1m1 0h3m9 0h1m4 0h1m3 0h1m5 0h1m1 0h1m11 0h1m-448 1h1m2 0h1m14 0h1m8 0h1m3 0h1m25 0h2m46 0h1m6 0h1m15 0h1m17 0h1m1 0h1m5 0h1m4 0h1m5 0h2m8 0h1m1 0h2m1 0h1m4 0h1m1 0h1m3 0h1m5 0h1m3 0h1m4 0h1m3 0h1m1 0h1m9 0h1m4 0h1m9 0h1m5 0h1m12 0h1m1 0h1m4 0h1m41 0h1m24 0h1m7 0h1m24 0h1m9 0h1m4 0h2m5 0h1m1 0h1m1 0h1m1 0h6m6 0h1m6 0h1m12 0h1m1 0h1m9 0h1m-428 1h1m2 0h1m1 0h1m3 0h1m1 0h1m7 0h1m31 0h1m3 0h1m34 0h1m24 0h1m2 0h1m1 0h1m1 0h1m7 0h1m5 0h2m5 0h1m4 0h1m7 0h1m4 0h1m2 0h1m9 0h3m5 0h1m3 0h2m4 0h1m5 0h1m1 0h1m3 0h2m4 0h2m103 0h1m11 0h1m8 0h1m5 0h1m18 0h2m2 0h2m3 0h3m16 0h1m1 0h1m3 0h1m4 0h1m6 0h1m2 0h1m1 0h2m5 0h1m3 0h1m13 0h2m-443 1h1m13 0h1m52 0h1m49 0h1m7 0h1m3 0h1m14 0h1m3 0h1m3 0h1m11 0h1m2 0h2m2 0h1m3 0h1m1 0h1m1 0h1m4 0h1m5 0h1m1 0h1m1 0h1m1 0h1m12 0h1m1 0h1m2 0h1m5 0h1m3 0h1m7 0h1m7 0h1m5 0h1m2 0h2m19 0h1m21 0h1m24 0h1m31 0h1m14 0h1m5 0h1m5 0h1m1 0h2m1 0h3m5 0h2m2 0h1m1 0h1m2 0h1m1 0h1m4 0h1m1 0h1m1 0h1m3 0h2m12 0h2m3 0h1m1 0h1m-438 1h1m6 0h1m4 0h1m1 0h2m13 0h1m88 0h1m3 0h1m8 0h1m20 0h3m1 0h2m3 0h1m4 0h1m7 0h1m4 0h1m2 0h1m2 0h1m7 0h1m4 0h1m3 0h1m1 0h1m2 0h1m3 0h1m7 0h1m4 0h1m1 0h1m1 0h1m4 0h1m1 0h1m3 0h1m7 0h1m34 0h1m49 0h1m14 0h1m12 0h2m1 0h1m11 0h2m1 0h2m3 0h2m6 0h1m2 0h2m8 0h3m3 0h1m10 0h1m12 0h1m4 0h1m4 0h1m3 0h1m-446 1h1m3 0h2m7 0h1m7 0h1m4 0h1m7 0h1m22 0h1m39 0h1m11 0h1m22 0h1m4 0h1m13 0h1m5 0h1m8 0h1m3 0h1m6 0h1m1 0h2m1 0h1m7 0h1m1 0h2m2 0h1m1 0h1m1 0h1m7 0h1m4 0h1m5 0h1m6 0h2m3 0h1m21 0h1m1 0h1m56 0h1m5 0h1m15 0h1m3 0h1m37 0h2m6 0h1m9 0h2m2 0h1m5 0h1m2 0h1m5 0h2m2 0h1m7 0h1m1 0h1m1 0h3m2 0h1m9 0h1m1 0h1m-445 1h1m1 0h1m4 0h1m2 0h2m15 0h1m28 0h1m52 0h1m11 0h1m22 0h1m9 0h1m4 0h3m1 0h1m2 0h1m7 0h2m14 0h3m2 0h2m1 0h1m1 0h1m3 0h1m2 0h1m2 0h1m2 0h1m1 0h1m1 0h1m1 0h1m12 0h1m6 0h1m23 0h2m8 0h1m34 0h2m13 0h1m40 0h1m18 0h1m3 0h1m8 0h1m2 0h1m16 0h2m13 0h1m1 0h1m4 0h1m2 0h4m-433 1h1m20 0h1m1 0h1m35 0h1m3 0h1m45 0h1m11 0h1m6 0h2m1 0h1m1 0h1m3 0h1m1 0h1m10 0h1m2 0h1m6 0h1m1 0h1m2 0h1m8 0h1m3 0h1m2 0h1m1 0h2m2 0h1m10 0h1m2 0h2m3 0h1m3 0h1m13 0h1m60 0h1m65 0h3m3 0h2m3 0h1m6 0h1m8 0h2m3 0h1m6 0h2m3 0h1m3 0h3m1 0h1m5 0h1m1 0h2m1 0h1m9 0h2m2 0h1m-444 1h1m2 0h2m4 0h1m33 0h1m16 0h1m51 0h1m28 0h1m1 0h1m2 0h1m4 0h2m13 0h1m10 0h1m7 0h1m6 0h1m2 0h2m3 0h1m2 0h2m2 0h1m1 0h1m4 0h1m1 0h1m1 0h1m3 0h1m1 0h1m3 0h1m3 0h1m4 0h1m10 0h1m117 0h2m10 0h2m2 0h1m2 0h1m3 0h2m1 0h1m3 0h3m1 0h1m2 0h1m1 0h1m4 0h1m3 0h3m4 0h1m6 0h1m6 0h1m5 0h1m2 0h1m1 0h1m-444 1h1m3 0h1m2 0h1m11 0h1m1 0h1m100 0h1m13 0h1m2 0h1m1 0h1m1 0h2m9 0h1m1 0h1m2 0h2m6 0h2m3 0h1m3 0h1m3 0h1m7 0h1m6 0h1m2 0h1m5 0h1m1 0h1m2 0h1m2 0h1m3 0h1m3 0h1m16 0h1m6 0h1m93 0h1m39 0h2m1 0h1m3 0h1m3 0h1m1 0h2m3 0h2m17 0h2m3 0h2m1 0h1m5 0h2m4 0h1m1 0h1m-440 1h1m12 0h1m36 0h1m27 0h1m3 0h1m12 0h1m14 0h1m29 0h1m10 0h1m2 0h2m3 0h1m1 0h3m7 0h3m2 0h1m1 0h1m6 0h1m5 0h1m2 0h1m13 0h1m1 0h2m14 0h1m1 0h1m3 0h1m5 0h1m116 0h1m5 0h2m7 0h1m5 0h2m2 0h2m5 0h2m3 0h1m11 0h1m5 0h1m2 0h1m3 0h1m4 0h1m3 0h2m9 0h1m-439 1h1m2 0h1m140 0h1m4 0h1m1 0h1m11 0h2m3 0h2m5 0h1m4 0h1m1 0h1m4 0h2m4 0h1m4 0h1m2 0h2m2 0h1m5 0h1m4 0h1m2 0h1m6 0h1m3 0h2m18 0h1m103 0h1m7 0h1m21 0h1m5 0h1m3 0h1m2 0h3m2 0h1m6 0h1m1 0h1m5 0h2m5 0h1m1 0h1m1 0h1m5 0h1m7 0h1m1 0h1m1 0h1m-439 1h1m14 0h1m130 0h1m5 0h1m2 0h1m1 0h2m11 0h1m2 0h1m2 0h1m4 0h1m1 0h1m1 0h1m4 0h1m5 0h2m3 0h2m4 0h1m4 0h1m27 0h1m1 0h1m1 0h1m120 0h2m13 0h1m5 0h1m8 0h1m2 0h1m12 0h1m3 0h2m5 0h1m5 0h1m5 0h1m1 0h2m-448 1h1m5 0h1m1 0h1m51 0h1m54 0h1m15 0h1m1 0h1m26 0h1m5 0h3m1 0h1m2 0h2m3 0h1m2 0h1m1 0h1m1 0h1m10 0h1m5 0h1m1 0h1m3 0h1m3 0h1m1 0h1m11 0h1m22 0h1m99 0h1m12 0h1m10 0h1m9 0h1m5 0h1m6 0h1m2 0h1m3 0h1m5 0h1m5 0h1m3 0h1m2 0h3m3 0h2m4 0h1m-411 1h1m85 0h1m8 0h1m20 0h1m4 0h1m10 0h1m2 0h1m15 0h1m1 0h1m10 0h1m4 0h1m2 0h1m2 0h1m8 0h1m1 0h1m7 0h1m4 0h1m18 0h1m15 0h1m96 0h1m9 0h1m15 0h1m2 0h1m11 0h1m2 0h1m3 0h1m7 0h1m4 0h1m1 0h1m5 0h1m8 0h1m5 0h1m7 0h1m-414 1h1m106 0h1m18 0h1m8 0h1m2 0h1m17 0h1m6 0h1m10 0h1m1 0h3m2 0h1m4 0h1m2 0h1m111 0h1m40 0h1m9 0h1m9 0h2m4 0h2m1 0h1m1 0h1m5 0h1m1 0h1m3 0h1m1 0h1m1 0h1m1 0h1m2 0h2m3 0h2m10 0h1m-433 1h1m45 0h1m76 0h1m16 0h1m3 0h1m18 0h1m5 0h1m9 0h2m1 0h2m4 0h2m3 0h1m5 0h1m11 0h1m9 0h1m3 0h2m4 0h1m141 0h1m7 0h1m4 0h1m1 0h1m3 0h2m1 0h1m9 0h1m5 0h1m2 0h1m11 0h1m1 0h1m5 0h1m-444 1h1m11 0h1m110 0h1m2 0h1m17 0h1m5 0h1m7 0h2m6 0h1m1 0h1m4 0h1m3 0h1m1 0h2m18 0h1m3 0h1m4 0h1m6 0h1m10 0h1m123 0h1m10 0h2m6 0h1m13 0h1m1 0h1m18 0h1m4 0h2m4 0h1m2 0h1m9 0h1m6 0h1m3 0h1m4 0h1m-299 1h1m8 0h1m2 0h1m5 0h2m1 0h1m6 0h1m1 0h1m13 0h1m5 0h1m2 0h1m5 0h1m27 0h1m16 0h1m120 0h1m7 0h1m9 0h4m10 0h1m7 0h1m3 0h1m2 0h1m9 0h1m-420 1h1m1 0h1m141 0h1m5 0h1m7 0h1m2 0h1m1 0h1m40 0h1m3 0h2m1 0h1m5 0h1m124 0h1m10 0h1m16 0h1m10 0h1m14 0h1m4 0h1m1 0h1m14 0h1m1 0h1m4 0h2m-429 1h1m11 0h1m124 0h1m4 0h1m14 0h2m10 0h1m11 0h2m2 0h1m6 0h1m13 0h2m9 0h1m150 0h1m12 0h1m4 0h1m6 0h2m3 0h2m10 0h2m5 0h2m1 0h1m10 0h2m2 0h1m-448 1h1m5 0h1m147 0h1m1 0h1m24 0h1m8 0h1m16 0h1m27 0h1m3 0h1m4 0h1m134 0h1m13 0h2m10 0h1m11 0h1m2 0h1m6 0h1m11 0h1m2 0h1m-443 1h1m4 0h1m7 0h1m5 0h1m112 0h1m35 0h1m7 0h1m2 0h1m10 0h1m2 0h1m8 0h2m6 0h1m10 0h1m7 0h1m3 0h1m136 0h1m26 0h1m19 0h1m1 0h1m1 0h1m1 0h1m4 0h2m7 0h1m-438 1h1m155 0h1m2 0h1m1 0h1m4 0h1m3 0h1m6 0h1m5 0h1m7 0h1m14 0h1m11 0h1m68 0h1m4 0h1m74 0h1m12 0h1m2 0h2m11 0h1m4 0h1m15 0h1m-392 1h1m93 0h1m8 0h1m13 0h1m10 0h2m10 0h1m5 0h1m5 0h1m2 0h1m2 0h1m3 0h1m1 0h1m3 0h1m3 0h1m9 0h1m14 0h1m37 0h1m12 0h1m3 0h1m76 0h1m34 0h1m1 0h1m32 0h1m1 0h2m11 0h1m-426 1h1m61 0h1m75 0h1m20 0h1m5 0h1m10 0h1m6 0h1m3 0h1m17 0h2m3 0h1m3 0h2m126 0h1m32 0h1m8 0h1m6 0h1m14 0h1m2 0h2m3 0h3m3 0h1m4 0h1m7 0h1m-435 1h1m123 0h1m39 0h2m11 0h1m8 0h1m5 0h2m8 0h1m16 0h1m6 0h1m123 0h1m35 0h1m9 0h1m4 0h2m11 0h1m3 0h2m7 0h2m-276 1h1m8 0h1m17 0h1m2 0h1m25 0h1m181 0h1m11 0h1m3 0h1m16 0h1m-439 1h1m9 0h1m163 0h1m32 0h1m177 0h1m8 0h1m4 0h1m9 0h1m19 0h1m-423 1h1m156 0h1m11 0h1m29 0h2m5 0h1m7 0h1m140 0h1m27 0h1m10 0h1m10 0h1m10 0h3m1 0h1m3 0h1m-286 1h2m7 0h1m30 0h1m83 0h1m100 0h1m-331 1h1m28 0h1m35 0h1m62 0h1m6 0h1m5 0h1m4 0h1m13 0h1m17 0h1m22 0h1m88 0h1m67 0h1m2 0h1m21 0h1m5 0h1m6 0h1m-286 1h1m89 0h1m134 0h1m23 0h1m3 0h1m13 0h1m2 0h1m27 0h1m-441 1h1m39 0h1m37 0h1m77 0h1m1 0h2m4 0h2m11 0h2m6 0h1m20 0h1m11 0h1m85 0h1m71 0h1m7 0h1m12 0h1m5 0h1m-406 1h1m154 0h1m4 0h1m16 0h1m1 0h1m7 0h2m18 0h1m178 0h1m11 0h1m9 0h1m3 0h1m-238 1h1m7 0h1m188 0h1m57 0h2m-339 1h1m80 0h1m7 0h1m23 0h1m209 0h1m-265 1h1m26 0h1m210 0h1m9 0h1m1 0h1m2 0h1m1 0h1m-246 1h1m4 0h1m6 0h1m2 0h1m17 0h1m230 0h1m-372 1h1m146 0h1m174 0h1m15 0h1m22 0h1m-212 1h1m222 0h1m-302 1h1m254 0h1m10 0h1m32 0h1m4 0h1m-270 1h1m195 0h1m71 0h1m-253 1h1m90 0h1m50 0h1m89 0h1m-251 1h1m25 0h1m215 0h1m9 0h1m-278 1h1m82 0h1m-169 1h1m94 0h1m88 0h1m40 0h1m65 0h1m59 0h1m-343 1h1m107 0h1m116 0h1m-144 1h1m36 0h1m48 0h1m144 0h1m-202 1h1m232 1h1m8 0h1m-343 1h1m298 0h1m42 0h1m-402 2h1m-7 1h1m193 0h1m30 0h1m175 0h1m17 0h1m-328 1h1m145 0h1m-71 3h1m50 0h1m-45 2h1m-187 1h1m165 0h1m-83 2h1m92 0h1m21 0h1m-117 2h1m126 0h1m188 0h1m10 0h1m-342 2h1m143 0h1m80 0h1m60 0h1m-198 4h1m21 0h1m153 0h1m25 1h1m-94 2h1m126 1h1m-207 1h1m224 0h1m-255 1h1m201 0h1m22 0h1m51 2h1m-55 1h1m-58 1h1m65 1h1m-233 1h1m196 0h1m-24 1h1m-288 1h1m349 0h1m-41 3h1m16 1h1m-312 2h1m349 0h1m-206 1h1m-157 1h1m-17 2h1m124 3h1m68 0h1m-111 2h1m-119 2h1m428 1h1m-329 1h1m82 1h1m253 1h1m-396 1h1m230 1h1m-33 2h1m39 0h1m13 0h1m-138 1h1m-27 2h1m152 4h1m98 1h1m-245 1h1m55 0h1m-85 2h1m24 2h1m199 1h1m-73 2h1m-104 1h1m3 0h1m227 2h1m-137 1h1m-50 1h1m58 2h1m-267 3h1m239 0h1m9 2h1m-211 2h1m318 1h1m-356 2h1m400 0h1m-130 2h1m1 0h1m84 0h1m-185 1h1"/>
</defs>
<g fill="none" stroke-width="1" shape-rendering="crispEdges" stroke="#1f77b4">
<use href="#g0" y="-1" stroke-opacity=".0712"/><use href="#g0" y="-1" stroke="#fff" stroke-opacity=".0665"/><use href="#g0" x="-1" stroke-opacity=".0712"/><use href="#g0" x="-1" stroke="#fff" stroke-opacity=".0665"/><use href="#g0" stroke-opacity=".4966"/><use href="#g0" y="1" stroke-opacity=".0712"/><use href="#g0" y="1" stroke="#fff" stroke-opacity=".0665"/><use href="#g0" x="1" stroke-opacity=".0712"/><use href="#g0" x="1" stroke="#fff" stroke-opacity=".0665"/>
<use href="#g1" y="-1" stroke-opacity=".0712"/><use href="#g1" y="-1" stroke="#fff" stroke-opacity=".0665"/><use href="#g1" x="-1" stroke-opacity=".0712"/><use href="#g1" x="-1" stroke="#fff" stroke-opacity=".0665"/><use href="#g1" stroke-opacity=".4966"/><use href="#g1" y="1" stroke-opacity=".0712"/><use href="#g1" y="1" stroke="#fff" stroke-opacity=".0665"/><use href="#g1" x="1" stroke-opacity=".0712"/><use href="#g1" x="1" stroke="#fff" stroke-opacity=".0665"/>
<use href="#g2" y="-1" stroke-opacity=".0712"/><use href="#g2" y="-1" stroke="#fff" stroke-opacity=".0665"/><use href="#g2" x="-1" stroke-opacity=".0712"/><use href="#g2" x="-1" stroke="#fff" stroke-opacity=".0665"/><use href="#g2" stroke-opacity=".4966"/><use href="#g2" y="1" stroke-opacity=".0712"/><use href="#g2" y="1" stroke="#fff" stroke-opacity=".0665"/><use href="#g2" x="1" stroke-opacity=".0712"/><use href="#g2" x="1" stroke="#fff" stroke-opacity=".0665"/>
<use href="#g3" y="-1" stroke-opacity=".0712"/><use href="#g3" y="-1" stroke="#fff" stroke-opacity=".0665"/><use href="#g3" x="-1" stroke-opacity=".0712"/><use href="#g3" x="-1" stroke="#fff" stroke-opacity=".0665"/><use href="#g3" stroke-opacity=".4966"/><use href="#g3" y="1" stroke-opacity=".0712"/><use href="#g3" y="1" stroke="#fff" stroke-opacity=".0665"/><use href="#g3" x="1" stroke-opacity=".0712"/><use href="#g3" x="1" stroke="#fff" stroke-opacity=".0665"/>
<use href="#g4" y="-1" stroke-opacity=".0712"/><use href="#g4" y="-1" stroke="#fff" stroke-opacity=".0665"/><use href="#g4" x="-1" stroke-opacity=".0712"/><use href="#g4" x="-1" stroke="#fff" stroke-opacity=".0665"/><use href="#g4" stroke-opacity=".4966"/><use href="#g4" y="1" stroke-opacity=".0712"/><use href="#g4" y="1" stroke="#fff" stroke-opacity=".0665"/><use href="#g4" x="1" stroke-opacity=".0712"/><use href="#g4" x="1" stroke="#fff" stroke-opacity=".0665"/>
<use href="#g5" y="-1" stroke-opacity=".0712"/><use href="#g5" y="-1" stroke="#fff" stroke-opacity=".0665"/><use href="#g5" x="-1" stroke-opacity=".0712"/><use href="#g5" x="-1" stroke="#fff" stroke-opacity=".0665"/><use href="#g5" stroke-opacity=".4966"/><use href="#g5" y="1" stroke-opacity=".0712"/><use href="#g5" y="1" stroke="#fff" stroke-opacity=".0665"/><use href="#g5" x="1" stroke-opacity=".0712"/><use href="#g5" x="1" stroke="#fff" stroke-opacity=".0665"/>
<use href="#g6" y="-1" stroke-opacity=".0712"/><use href="#g6" y="-1" stroke="#fff" stroke-opacity=".0665"/><use href="#g6" x="-1" stroke-opacity=".0712"/><use href="#g6" x="-1" stroke="#fff" stroke-opacity=".0665"/><use href="#g6" stroke-opacity=".4966"/><use href="#g6" y="1" stroke-opacity=".0712"/><use href="#g6" y="1" stroke="#fff" stroke-opacity=".0665"/><use href="#g6" x="1" stroke-opacity=".0712"/><use href="#g6" x="1" stroke="#fff" stroke-opacity=".0665"/>
<use href="#g7" y="-1" stroke-opacity=".0712"/><use href="#g7" y="-1" stroke="#fff" stroke-opacity=".0665"/><use href="#g7" x="-1" stroke-opacity=".0712"/><use href="#g7" x="-1" stroke="#fff" stroke-opacity=".0665"/><use href="#g7" stroke-opacity=".4966"/><use href="#g7" y="1" stroke-opacity=".0712"/><use href="#g7" y="1" stroke="#fff" stroke-opacity=".0665"/><use href="#g7" x="1" stroke-opacity=".0712"/><use href="#g7" x="1" stroke="#fff" stroke-opacity=".0665"/>
</g>
<g fill="none" stroke="#000" stroke-width="1.111">
<rect x="80.5" y="58.5" width="496" height="369"/>
</g>
<g fill="#000">
<rect x="102.945" y="428" width="1.111" height="4.5"/><rect x="158.945" y="428" width="1.111" height="4.5"/><rect x="214.945" y="428" width="1.111" height="4.5"/><rect x="271.945" y="428" width="1.111" height="4.5"/><rect x="327.945" y="428" width="1.111" height="4.5"/><rect x="383.945" y="428" width="1.111" height="4.5"/><rect x="440.945" y="428" width="1.111" height="4.5"/><rect x="496.945" y="428" width="1.111" height="4.5"/><rect x="552.944" y="428" width="1.111" height="4.5"/>
<rect x="75.5" y="119.945" width="4.5" height="1.111"/><rect x="75.5" y="186.945" width="4.5" height="1.111"/><rect x="75.5" y="253.945" width="4.5" height="1.111"/><rect x="75.5" y="320.945" width="4.5" height="1.111"/><rect x="75.5" y="386.945" width="4.5" height="1.111"/>
</g>
<g opacity=".999">
<text class="h" transform="translate(328.00 48.90) scale(0.9960 1.0700)" text-anchor="middle">1SWASPJ083207.83-210250.5 Period 4172.68213s</text>
<g class="t" text-anchor="middle">
<text transform="translate(102.45 447.95) scale(.975 1)">−1.00</text>
<text transform="translate(158.81 447.95) scale(.975 1)">−0.75</text>
<text transform="translate(215.17 447.95) scale(.975 1)">−0.50</text>
<text transform="translate(271.54 447.95) scale(.975 1)">−0.25</text>
<text transform="translate(328.60 447.95) scale(.95 1)">0.00</text>
<text transform="translate(384.96 447.95) scale(.95 1)">0.25</text>
<text transform="translate(441.33 447.95) scale(.95 1)">0.50</text>
<text transform="translate(497.69 447.95) scale(.95 1)">0.75</text>
<text transform="translate(554.06 447.95) scale(.95 1)">1.00</text>
<text transform="translate(327.30 466.60) scale(.955 1)">phase</text>
<text transform="translate(42.60 244.00) rotate(-90)">flux</text>
</g>
<g class="t" text-anchor="end">
<text x="70.90" y="125.00">90</text>
<text x="70.90" y="192.00">88</text>
<text x="70.90" y="259.00">86</text>
<text x="70.90" y="326.00">84</text>
<text x="70.90" y="393.00">82</text>
</g>
</g>
</svg>
</body></html>
